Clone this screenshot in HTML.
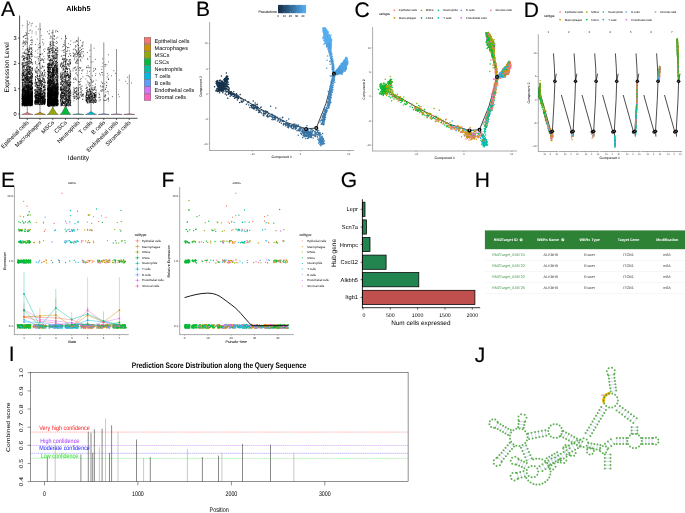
<!DOCTYPE html>
<html><head><meta charset="utf-8"><title>Figure</title>
<style>html,body{margin:0;padding:0;background:#fff}svg{display:block;will-change:transform}text{font-family:"Liberation Sans",sans-serif;text-rendering:geometricPrecision}</style>
</head><body>
<svg width="685" height="513" viewBox="0 0 685 513" fill="none">
<rect width="685" height="513" fill="#fff"/>
<g fill="#000" stroke="none">
<g id="pA">
<text x="0.9" y="16.3" font-size="21" stroke="#000" stroke-width="0.15">A</text>
<text x="78.4" y="11.1" font-size="7.3" text-anchor="middle" font-weight="bold">Alkbh5</text>
<path d="M27.3 20.4L27.3 114" stroke="#6e6e6e" stroke-width="0.75"/>
<path d="M40 22.9L40 114" stroke="#6e6e6e" stroke-width="0.75"/>
<path d="M52.8 29.5L52.8 114" stroke="#6e6e6e" stroke-width="0.75"/>
<path d="M65.5 34.8L65.5 114" stroke="#6e6e6e" stroke-width="0.75"/>
<path d="M78.3 36.8L78.3 114" stroke="#6e6e6e" stroke-width="0.75"/>
<path d="M91 43.9L91 114" stroke="#6e6e6e" stroke-width="0.75"/>
<path d="M103.8 42.4L103.8 114" stroke="#6e6e6e" stroke-width="0.75"/>
<path d="M116.5 49L116.5 114" stroke="#6e6e6e" stroke-width="0.75"/>
<path d="M129.3 74.5L129.3 114" stroke="#6e6e6e" stroke-width="0.75"/>
<path d="M26.9 86.8h0M28.2 100.3h0M30.4 98.6h0M25.2 90.8h0M22.4 83.8h0M32.2 88.9h0M22.2 95.1h0M22.6 89.7h0M26.9 102.3h0M30.9 96h0M29 85.8h0M24.9 103.2h0M29.5 58.6h0M24.4 105.1h0M26.2 103.6h0M26.1 99.3h0M24.2 80.1h0M27 97h0M28.7 92.2h0M24.9 103.1h0M30 92.5h0M24.6 99.5h0M23.9 100.8h0M26.7 102.5h0M28.8 97.8h0M26.5 85h0M30.5 100.5h0M31.4 95.1h0M28.8 101h0M32.5 92.6h0M25.5 102.4h0M22.8 95.4h0M28.4 90.4h0M26.8 95.9h0M31.2 89.9h0M23.6 101.9h0M24 84.4h0M32 91h0M28.4 93h0M23.1 73.5h0M29.5 71.3h0M30.7 97.3h0M29.6 96.5h0M24.4 99.5h0M25 80h0M24.2 94h0M22.6 94.7h0M25.9 104.8h0M31.4 99.1h0M29 99.4h0M22.4 99.4h0M31.6 88.9h0M28.7 95.3h0M29.7 71.6h0M27.8 83.7h0M31.5 56.5h0M31.7 103h0M29.3 84.1h0M30.4 82.8h0M28.1 88h0M28.5 95.7h0M28.8 96.4h0M26.1 76.4h0M28.2 103.8h0M30 81.3h0M28.4 96.4h0M27.3 95.1h0M31.8 104.1h0M29.2 105.8h0M23.8 103.9h0M31.5 88.7h0M29.1 94.4h0M31.7 100h0M26.1 90.3h0M27.3 95.5h0M31 98.5h0M23.8 97.7h0M24.9 72.6h0M27.2 102.1h0M30.9 91.8h0M22.3 90.9h0M22.4 102.6h0M30.4 101.2h0M23.4 88.7h0M24.5 101.6h0M22.5 105.2h0M28.9 94.9h0M32.2 93.7h0M23.9 101.9h0M27 97.6h0M25.7 103.9h0M27.5 96.6h0M30.4 88.1h0M22.9 88.7h0M26.8 85.7h0M31.6 96.1h0M30.4 91.4h0M26.9 91h0M30.7 99.5h0M29.6 97.6h0M32.4 95.8h0M30.4 76.4h0M25.7 91.4h0M26.7 78.5h0M22.3 82.9h0M22.7 97.3h0M30.4 103.2h0M23.6 97.9h0M29.3 82.3h0M27.2 101.3h0M27.6 100.3h0M29.7 104h0M27.9 93.6h0M26 92.9h0M31 89.1h0M27.6 78.4h0M27.3 97.1h0M22.3 101.2h0M30.5 89.2h0M27.2 102.2h0M26.4 103.6h0M31.8 98.6h0M26.6 104.1h0M31.5 89h0M28.5 93.9h0M23.4 102.1h0M24.4 105.4h0M25.4 102.2h0M29.7 94.2h0M27.4 90.8h0M26.6 105.5h0M26.4 96.5h0M28.7 97.9h0M27.6 103.8h0M24.5 93.1h0M30.6 89.6h0M31.8 95.9h0M32.6 99h0M29.7 100.2h0M23 101h0M23.3 97.6h0M29.3 93h0M31.7 95.9h0M23.2 102.1h0M29.3 82.1h0M22.7 105.1h0M27.5 102.4h0M23.6 103h0M32.5 100.8h0M23 95.2h0M30.1 73.9h0M26.9 92.8h0M22.1 90.7h0M30.9 103.7h0M26.3 98.6h0M23.7 92.1h0M30.5 101.7h0M31.1 104.9h0M27.3 95.6h0M30.5 92.3h0M30.2 103.4h0M26.3 74.1h0M30.1 82.3h0M26.3 87.5h0M27 104.9h0M25.8 100.9h0M32 93.4h0M25.6 90.3h0M26.1 95.8h0M28.8 82.9h0M22.2 95.6h0M29.8 82.8h0M24.1 105.5h0M23 91.7h0M27.4 105.3h0M28 72.9h0M22.8 84.9h0M30 104.7h0M27 75.2h0M27.3 97h0M26.5 99.9h0M28.3 102.4h0M27.9 97.6h0M29.6 97.3h0M22.5 105.2h0M30 103.8h0M22.5 82.1h0M32 83.2h0M27.1 78.6h0M24.6 89.5h0M27 72.6h0M30.7 98h0M26.8 99.8h0M22.6 101.8h0M29.1 98.6h0M24.8 104.4h0M27.6 92.2h0M32.1 93.6h0M31.5 105h0M28.6 94.6h0M28 98.1h0M28.7 96.8h0M32.4 105.7h0M31.3 94.9h0M26.5 101.1h0M23.1 104.1h0M29.2 100.9h0M28.7 104.1h0M25.6 94.8h0M30.9 93.6h0M28.6 98.4h0M24.3 101.7h0M25.9 95.1h0M32.5 100.3h0M31.8 96.9h0M25.9 90h0M22.9 82.8h0M27.1 89.2h0M22.8 100.2h0M29 95.2h0M29.4 94.7h0M23.5 100h0M23.2 91.7h0M28 87.6h0M26.6 75.2h0M25.2 88.6h0M31.5 97.9h0M25.8 93.1h0M26.1 96.9h0M28 96.1h0M28 99.5h0M30 89.4h0M27.5 97.8h0M28 97.8h0M22.7 85h0M30.4 101.2h0M31.5 100h0M28.7 103.2h0M24.6 91h0M30.1 87.8h0M25.6 82.3h0M29.1 99.9h0M29.5 87.8h0M26.4 103.3h0M30.5 94.9h0M31.4 86.3h0M29.5 86.3h0M26.5 99.5h0M32.5 98.1h0M23.8 102h0M32.3 101.7h0M25.3 92.1h0M23.9 89.7h0M26.9 92.8h0M23.2 79.8h0M24.3 90.6h0M24.4 103.3h0M25 84h0M27.8 94.9h0M27.1 84h0M25.6 102.1h0M32.1 76.4h0M32 96.3h0M26.1 103.7h0M32.5 89.4h0M24.5 102.3h0M30.4 90h0M28.4 104h0M24.7 101.3h0M27.5 97.6h0M27.7 77.3h0M30.2 72.7h0M30.7 78.7h0M24.9 105.9h0M27 104.3h0M28.2 97.2h0M26.4 97.4h0M23 94.7h0M27.6 101.1h0M30.8 97.6h0M25.2 101.6h0M29.6 94.5h0M26.2 92.6h0M32.2 89.2h0M26 96.4h0M24.5 87.3h0M32.5 92h0M24.2 98.7h0M27.7 97.1h0M25.6 98.2h0M24.1 89.8h0M25.5 92.1h0M25.5 88.2h0M23 98.5h0M29.5 101.2h0M26.3 101.2h0M24.4 96.4h0M23.3 90.1h0M26.5 99.4h0M28.9 102.5h0M25.5 103h0M22.2 80h0M30.4 85.1h0M28.5 92.6h0M28.9 93.4h0M26 104.6h0M28.5 80.1h0M30.1 104.6h0M27.3 91.4h0M29.6 96h0M30.9 88.3h0M32 104.6h0M24.6 99.6h0M29.4 98.8h0M26.9 90.5h0M32.3 77.9h0M27.9 85.6h0M24.8 82.8h0M28.4 68.2h0M30.7 82.7h0M28.1 98.8h0M24 75.8h0M23.9 100.8h0M32 100.7h0M29.8 98.7h0M28.3 95.7h0M27 105.1h0M26.1 103.6h0M24.8 97.7h0M25.5 101.8h0M23.5 102.7h0M28.4 100.3h0M29.3 91.2h0M30 102.2h0M31.1 59.7h0M26.6 101.7h0M27.6 77.8h0M31.6 93.5h0M31.5 103h0M28.3 100.8h0M22.7 105.2h0M26.7 94.2h0M29.4 92.1h0M24.5 105.3h0M22.7 101.1h0M32.2 90.9h0M30.5 91.6h0M29.9 81.8h0M30.4 78.6h0M27.7 93.8h0M25.2 105.5h0M22.7 105.7h0M25.8 85.5h0M22.5 89.7h0M27.3 76.6h0M32.4 98h0M31.8 96.5h0M24.1 102.5h0M23.8 98.8h0M32.6 93.2h0M31.3 100.1h0M23.1 87.3h0M31.2 102.3h0M23.4 93.1h0M22.8 94.7h0M25.3 75h0M24.5 103.7h0M30.4 96.3h0M28.3 90h0M25.2 91.2h0M28.8 87.4h0M32.4 96.9h0M22.5 89.6h0M25 99.1h0M25 105.9h0M24.6 79.8h0M31.5 102.8h0M22.4 85h0M31.9 83.2h0M23.9 100h0M29 87h0M27.5 97.9h0M27.5 78.3h0M23.8 102.5h0M24.5 103.8h0M30.2 97.4h0M27.2 100.3h0M28.1 82h0M29.6 101.6h0M31.3 105.4h0M27.3 102.7h0M26.7 98.4h0M31.6 104.1h0M27.8 80.6h0M25.3 103.4h0M25.3 96.2h0M28.2 93.6h0M30.7 94.4h0M29.3 101h0M30.3 95.2h0M24.3 92.5h0M22.4 97.7h0M23.5 78.9h0M29.9 104.1h0M23.5 94.2h0M25.2 103.2h0M32.6 101.2h0M29.8 102.3h0M24.6 104.1h0M31.9 95.1h0M28.5 94.4h0M26.3 96.6h0M29.4 102.9h0M28.3 100.5h0M30.9 94h0M30.3 95.6h0M27.8 103.2h0M24.2 93.4h0M26.7 102.4h0M29.2 86.5h0M22.8 99.6h0M25.8 98h0M24.8 105.6h0M31.8 103.1h0M23.6 103.4h0M25.8 93h0M22.2 101.9h0M26.1 83.6h0M30.2 80.9h0M22.6 91.1h0M23.6 98h0M22.3 99h0M23.4 99.9h0M24.8 91.6h0M24.2 102.9h0M29.6 85.5h0M24.4 93h0M25.7 98.1h0M28.7 105.3h0M30.6 101.5h0M31.7 93.6h0M29.3 104.2h0M24.5 87h0M23 75.3h0M26.1 93.6h0M27.3 99.7h0M27 104.2h0M29.1 98h0M26.5 105.4h0M28.2 99.9h0M22.2 99.8h0M25.9 88.9h0M27.3 93h0M27 99.9h0M25.7 101.3h0M28 94.7h0M27 104.4h0M32.1 84.7h0M30.2 91.8h0M28.6 91.4h0M30.8 93.6h0M26 96.6h0M27.4 102.8h0M25.8 103.7h0M24.4 98.1h0M24.5 104h0M24.5 88.3h0M28.9 105.5h0M30.8 86.8h0M25.5 97.3h0M29.6 89.3h0M29.3 81.3h0M28.6 80.7h0M28 99.7h0M27.7 97.1h0M24.6 97.6h0M23.3 101.6h0M22.7 98.3h0M26.8 88.6h0M27.1 91.8h0M22.6 89.8h0M27.4 82.1h0M24.7 101h0M25.5 91.7h0M30.8 92.7h0M26.5 85.1h0M30.5 99.4h0M26 87.3h0M22.1 101.1h0M32 96.6h0M26.4 97.8h0M26.2 103.9h0M29.6 68h0M22.4 89.1h0M23.3 96.6h0M22.3 83.8h0M25.3 90.3h0M30.9 100.5h0M30.1 102.4h0M26.1 89.1h0M23.6 98.7h0M23.1 89.6h0M23.3 95.9h0M22.2 101.5h0M24.9 98.2h0M27.1 102.8h0M22.7 98.9h0M25.3 96.1h0M32.6 97.8h0M31.2 101.8h0M26.2 90.4h0M27.8 104.7h0M32 95.1h0M32.5 88.2h0M23.9 80.3h0M23.8 96.9h0M30 101.7h0M27.5 102.1h0M22.1 93.8h0M30.6 104.9h0M30.5 99.7h0M30.1 82.7h0M26.3 97.1h0M24.7 104.5h0M24.4 102.8h0M25.9 104.1h0M28.8 91.7h0M25 84.6h0M25.5 95.9h0M24.2 98.1h0M23.9 104.4h0M23.5 88.6h0M27.3 97.4h0M25.4 93.8h0M31.3 72.6h0M30 97.9h0M32.2 73.6h0M26.3 80h0M29.2 103.5h0M25.4 95.2h0M23.6 96.8h0M26 93.3h0M31.4 99.4h0M28.7 96.9h0M30.9 88h0M26.8 104.6h0M24.4 98.4h0M28.1 92.8h0M26.7 101.7h0M28.3 105h0M32.5 98.3h0M25.3 101.6h0M31.2 102.2h0M32.5 64.2h0M28.9 94.4h0M30.8 103.1h0M22.7 96.8h0M29.5 88.4h0M27.7 105.5h0M24.1 79.1h0M27.9 102.4h0M27.2 85.1h0M30.2 103.2h0M31.6 80.5h0M23.1 103.4h0M25.7 98.5h0M23.9 88.6h0M31 85.9h0M32.5 83.9h0M28.7 85.8h0M29.1 89.9h0M22.2 89.9h0M25 98.8h0M29.4 95.1h0M26.9 102h0M23.2 99.4h0M24.1 88h0M29.3 94.6h0M26.3 104.7h0M28.7 92.9h0M26.8 82.7h0M32 93.8h0M28.1 93.6h0M31.3 88h0M26.8 98.9h0M26.1 77.1h0M22.7 104.8h0M25 86.8h0M29.4 73.6h0M24.6 92.6h0M24.7 97.9h0M25.6 101.8h0M27.8 93.7h0M31.5 81.6h0M29.7 94.5h0M25.6 98.2h0M28.7 78.9h0M25.8 85.2h0M28.4 93.3h0M32.4 100.4h0M28.9 90.7h0M32.6 104.4h0M29 91.5h0M32.5 99.6h0M26.2 102.6h0M22.9 92h0M29.9 95.2h0M30.6 88.4h0M27 103.2h0M31.1 82.2h0M25.7 78.3h0M27.7 95.4h0M27.4 87h0M28 90.2h0M25.1 101.4h0M24.6 100.5h0M26.8 102h0M26.9 103h0M23.6 100.6h0M27.6 97.8h0M32.2 88.5h0M22.1 95.1h0M29.6 90.4h0M27.6 84.9h0M32.2 99.2h0M31 104h0M24.8 92.3h0M31.7 101.9h0M31.4 97.6h0M28 89.4h0M25.2 75.6h0M24.7 104.8h0M25.8 95.6h0M26.8 94.8h0M27.6 80.9h0M26.2 97.4h0M25.3 104.7h0M24.4 99.3h0M26.3 106.1h0M22.1 87.1h0M28.3 76.3h0M25.2 86.1h0M27.3 91.5h0M30 93.8h0M24.9 100.1h0M26.5 102.7h0M29.2 96.9h0M32.4 95.2h0M30.7 99.7h0M28.8 94h0M28.6 84h0M31.8 97.2h0M30 101.8h0M22.1 103.1h0M32.4 104h0M22.8 89.5h0M26 102h0M26.6 90.9h0M22.8 96h0M30.8 97.8h0M23.3 97.2h0M32.1 90.7h0M26.4 76.7h0M30.9 93.9h0M22.3 85.4h0M26 85.8h0M29.3 90.9h0M30.3 77.3h0M28.2 87.9h0M25.7 91.9h0M27.5 98.7h0M28.1 94.7h0M27.1 98.2h0M25.5 91.7h0M29.7 102.6h0M24.7 95.8h0M29.6 81.8h0M28.5 95.5h0M26.8 68.7h0M24.5 91.7h0M31 105.7h0M29.4 99.7h0M23.6 89.8h0M30.1 96.2h0M24.3 102.6h0M27.7 100h0M28.2 99.4h0M31.8 99.6h0M29.6 98.6h0M31.1 93.6h0M22.2 104.3h0M24.7 94.7h0M27.1 103.2h0M25 95.6h0M23.7 101.5h0M31.1 88.1h0M27.7 91.5h0M31.7 94.1h0M31.9 104.4h0M30.3 95.1h0M29.7 104.2h0M27.4 88.4h0M32.1 94.1h0M32 100.9h0M23.1 101.1h0M23.3 100.9h0M22.7 92.4h0M22.7 104.3h0M29.3 84.8h0M30.3 101.1h0M24 100h0M25.8 104.8h0M26.4 95.8h0M22.8 105.5h0M28 85.3h0M25.2 104.6h0M32.3 92.6h0M31.8 84.9h0M27.2 85.6h0M29.3 80.1h0M22.9 89.2h0M32.2 93h0M32.1 97.7h0M22.3 104.8h0M28.1 95.3h0M30.6 86.3h0M32.3 99.5h0M26.3 104.5h0M30.2 99.6h0M28.2 94.9h0M26.8 92.8h0M31.3 103.9h0M27.1 102.3h0M25.5 97.7h0M27.5 104.4h0M31.3 85.7h0M25.5 101.8h0M29.1 95.7h0M30.1 101.7h0M24.3 89.1h0M25.8 69.6h0M32.5 82.4h0M30.3 99.1h0M30.4 100.9h0M29.9 97h0M30.7 97.7h0M22.7 89.4h0M23.5 102.6h0M31.9 95.4h0M31.9 78.3h0M24 89.7h0M29.2 88.9h0M26.8 86.9h0M23.3 90.7h0M24 101.4h0M22.5 73.2h0M27.6 102.9h0M28 97.2h0M22.9 102.2h0M22.8 89h0M27.3 95.3h0M25.5 84.1h0M32.3 94.2h0M28.4 100.8h0M32 97.1h0M22.3 90h0M23.7 105h0M29.8 92h0M30.5 105.3h0M28.9 102.9h0M25.2 97.5h0M24.8 104.2h0M28.6 95.8h0M25.8 96.7h0M27.7 92h0M25.5 93.4h0M31 95h0M23.7 99h0M23.8 65.7h0M24.5 102.8h0M25 96.5h0M29.3 102h0M31.8 95.3h0M26 90.9h0M28.1 89.6h0M26.9 105.1h0M28.8 91.8h0M25 94.3h0M24.5 99.3h0M30.5 102.5h0M26.5 104.7h0M32 75.4h0M30.9 89.9h0M25.6 104.5h0M30.5 101.4h0M31.7 93.6h0M30.6 95.2h0M23.9 81.9h0M31.7 101.2h0M27.4 95.3h0M31.7 91.7h0M28.8 83.2h0M32.4 87.1h0M25.3 96.2h0M32.4 96.5h0M23.3 85.6h0M30.1 103.7h0M31.3 100h0M27.2 75h0M25.7 91.7h0M24.4 96.6h0M30.2 104h0M24.9 100.1h0M28.9 90.2h0M31.8 92.9h0M25.1 73.4h0M30.2 84.8h0M25 100.1h0M31.1 90.2h0M27 103.2h0M28.2 105.6h0M25.5 95.4h0M27.6 101.6h0M28.8 101.6h0M27 93.7h0M23.3 96h0M27.9 85.6h0M31.9 96.6h0M32.6 96.8h0M24 99.4h0M27.8 105.5h0M29.6 101.1h0M28.9 103.1h0M26.8 93h0M32.1 99.6h0M22.6 101.5h0M26.6 95.2h0M26.5 101.3h0M28.9 85.1h0M28.5 94.9h0M22.6 85.1h0M22.2 99.3h0M23.1 93.2h0M31 97.3h0M32.4 87.4h0M25.2 104.5h0M26.4 100.5h0M31.4 78.3h0M26.8 103.9h0M26.6 81.1h0M26.4 93.7h0M30.2 102.3h0M26.8 89.1h0M31.5 101.4h0M29.1 81.5h0M25.1 101.3h0M29.1 99.7h0M28.9 72.1h0M32.4 101.9h0M29.5 82.2h0M24.8 90.5h0M24.3 103.8h0M31.7 70.4h0M28.2 79.7h0M28.3 94.2h0M30.1 81.2h0M29.5 105.5h0M27.8 87.1h0M25.4 97.3h0M32.1 104.4h0M27.2 102.7h0M28.6 88.2h0M30.5 89.8h0M23.5 92.9h0M32.5 93.3h0M32.1 95.9h0M25.2 92h0M29.3 86.4h0M25.8 99.4h0M22.3 93.5h0M25.3 91.7h0M31.9 89.9h0M22.9 106h0M29.8 96h0M22.3 103.6h0M31.1 88.6h0M25.6 99.9h0M24.3 83.2h0M30.6 93.7h0M28.5 103.4h0M28.6 96.1h0M32.2 105.2h0M30.8 97.5h0M29.2 91.4h0M24.3 98.9h0M31.2 92.8h0M29.6 104h0M29.4 93h0M28.2 80.8h0M22.5 95.8h0M31.1 81.1h0M23.1 74h0M24.9 84.7h0M29.4 102.4h0M28 99h0M25.8 91.7h0M22.2 105.8h0M28.3 94.3h0M27 103.7h0M25.3 98.8h0M29 87.6h0M27.3 89.9h0M27 93.7h0M27.7 98.3h0M22.2 98.9h0M22.3 77.3h0M24 100.3h0M30.9 85.8h0M26.8 96.3h0M27.9 86.2h0M30.9 72.6h0M24.6 76.8h0M25.3 88.4h0M27.5 101.2h0M22.1 96.2h0M26.1 105.7h0M32 101.1h0M30.1 100.5h0M26.9 90.6h0M29.1 94.1h0M25.6 102.3h0M28.7 90.6h0M24.3 95.5h0M30.1 105h0M23.1 87.8h0M24.8 75h0M22.6 96.1h0M30.5 85.6h0M23.7 100.2h0M32.2 98.4h0M24 99.9h0M28.5 95.5h0M26.1 101.6h0M24.7 103h0M32.3 103.6h0M25 97.2h0M24 88h0M25.1 95.6h0M29.1 90.6h0M26.1 87.4h0M27.2 102.8h0M27.6 89.8h0M25.9 99.4h0M23.6 104.8h0M27.3 80.2h0M30.1 88.6h0M29.7 96.5h0M31.2 102h0M30.9 96.8h0M29.9 103.4h0M30.7 104.6h0M23.7 83.8h0M26 101.1h0M22.5 105.3h0M22.4 93.2h0M25 90.5h0M28.8 103.5h0M23.8 99.7h0M28 92.8h0M26.1 102.5h0M24 101.4h0M22.1 105.2h0M27.7 91.6h0M23.4 91.7h0M29.5 89.5h0M22.4 89.4h0M30.3 102.4h0M31.8 93.8h0M30.1 99h0M32.4 93.3h0M28.4 104.1h0M31.5 75.5h0M30.9 74.2h0M32.2 91.6h0M23.4 96.7h0M22.7 93.7h0M28.4 98h0M26.7 97.8h0M25.9 80.3h0M24 73.1h0M25.6 100h0M22 98.6h0M32.5 93.5h0M22.7 105.1h0M29.7 103.4h0M31.9 94.5h0M25.3 95h0M26.9 99.2h0M32.2 101.7h0M28.5 98.6h0M23.9 103.7h0M28.1 101.8h0M23 89.4h0M26.9 73.6h0M31.1 95.9h0M23.2 86.9h0M22.3 103.9h0M22.7 103.5h0M30.7 98.2h0M23.3 104.3h0M27.9 93.6h0M31.1 85.6h0M30.2 89.2h0M27 71.4h0M28.4 90.1h0M27.4 104.5h0M29.2 98.4h0M30.4 99.4h0M30.5 101.7h0M31.8 90.8h0M25.8 91.6h0M22.5 97.7h0M23.6 100.6h0M26.5 102.7h0M25.1 86.7h0M31.4 91.6h0M27.1 103.8h0M23.4 104h0M29.2 88.2h0M26.7 91.2h0M25.6 100.2h0M30.3 103.3h0M27 102.3h0M30.4 101.7h0M27 104.2h0M31.7 101.8h0M31.8 100.9h0M28.6 84.2h0M30.4 94.5h0M27.3 85.9h0M31.2 92.3h0M27.9 92.4h0M30 101.5h0M26.5 98.1h0M23.3 98.2h0M23.8 84.9h0M25.9 97.7h0M23.9 91.3h0M29.4 87.3h0M28.5 102.3h0M32.3 101.9h0M28.9 86.8h0M28.9 95.7h0M25.7 95.6h0M30.9 90.9h0M28.8 85.2h0M30.5 106h0M25.2 91.8h0M28.8 101h0M22.9 99.4h0M31.3 105.2h0M27 82.3h0M24.9 102.2h0M22.3 94h0M24 89.7h0M22.8 86.9h0M26.8 101.2h0M25.4 87.1h0M32.3 91.6h0M31.8 102.6h0M30.6 93.8h0M27.9 92.7h0M23.7 100.7h0M28.1 98.4h0M28.8 77.1h0M30.2 84.6h0M26.4 101.5h0M29.6 98.4h0M30.7 98h0M23.5 89.3h0M25.3 95.5h0M26.9 103.2h0M25.5 94.5h0M30.5 100.1h0M31.4 88.5h0M24.8 106h0M26.4 103h0M24.2 87h0M23.1 94.7h0M24.1 103.5h0M32.5 88.2h0M26 100.8h0M23.9 88.7h0M30.7 83h0M23.7 97.3h0M31.5 102.3h0M25.7 92.7h0M28.9 97.5h0M26.8 101.1h0M25.9 82h0M25.5 84.7h0M23.5 99.5h0M22.3 92.5h0M26.5 102.2h0M25.4 81.3h0M25.3 96.3h0M26 92.4h0M23.1 91.9h0M29.7 82.3h0M22.9 102.5h0M29.8 100.3h0M26.8 94.6h0M24.8 95.1h0M31.8 92.3h0M23.8 75.4h0M24.1 81.1h0M26.7 103.5h0M29.2 97.9h0M27.4 95.9h0M25 77.6h0M28.3 99.8h0M22.8 90.7h0M24.4 105.1h0M22.5 83.6h0M28 90.8h0M22.2 96.7h0M26 99.8h0M22.5 94.7h0M22.3 102.7h0M22.2 94.4h0M27.6 96.1h0M23.1 97.1h0M25.6 101.6h0M27.3 87.6h0M29.7 97.2h0M26.9 79.6h0M30.7 87.6h0M22.6 100.6h0M31.6 105.1h0M27 86.9h0M28 82h0M30 82.1h0M31.4 83.2h0M24.4 104.6h0M24.9 101.8h0M29.5 77.6h0M27.6 103.2h0M27.1 101.2h0M31.9 100.8h0M26.7 100.5h0M25.5 103h0M27 85.1h0M31.9 86.5h0M30.8 96.6h0M28.8 104.2h0M25.7 95h0M23 94.1h0M29.7 105.3h0M24.6 103.7h0M31.5 101.4h0M32.3 102.6h0M27 98.6h0M24.9 105h0M29 81.7h0M32.3 97.1h0M24.4 88.2h0M30.9 70.9h0M30.7 96.1h0M30.9 100h0M22.5 102.3h0M31.5 84.7h0M26.7 93.5h0M25.9 95.8h0M22.7 86.9h0M26.9 86.7h0M26.8 92.8h0M22 98.6h0M24.6 89.8h0M29.4 104.2h0M29.2 94.3h0M29.8 77.6h0M25.8 101.7h0M22.6 102.3h0M31.7 100.6h0M32.2 95.3h0M32.5 88.1h0M28.8 103h0M28.5 103.8h0M28.6 103.7h0M28.3 101.4h0M26.9 87.6h0M26.2 85h0M32.5 93.4h0M24.9 104.8h0M26.2 103.5h0M28.3 100.2h0M32.4 83.6h0M27.6 94.3h0M31.5 105.5h0M27.2 103.5h0M22.7 94.7h0M25 104.1h0M28.3 95.6h0M29.9 82.5h0M30.9 98h0M30.2 99.6h0M28.4 95.4h0M32.3 91h0M26.1 91.7h0M29.1 105.4h0M28.4 105.2h0M29 96.1h0M31.8 68.9h0M30.7 82h0M23.1 90.6h0M23.3 93.7h0M30.4 102.7h0M31.4 89.4h0M22.3 98.8h0M22.4 90.3h0M23.2 73.9h0M29.4 99.9h0M26.4 94h0M24.9 84.5h0M30.2 99h0M24 77.4h0M32.4 69.1h0M22.7 105.1h0M28.6 103h0M25.1 99.6h0M22.3 105h0M26.5 95.8h0M30.8 82.7h0M23.1 80.3h0M22.5 85.6h0M24.5 101.6h0M24.6 94.9h0M32.3 81.7h0M22.5 78.2h0M31.6 89.8h0M31.3 95.5h0M22.9 101h0M28.5 99.8h0M23 97.8h0M30.6 101h0M30.7 104.9h0M22 104.2h0M27.7 91.5h0M24.4 97.7h0M27.1 73h0M29.4 102.6h0M22.5 88.4h0M31.3 80.8h0M32.4 83.3h0M24.2 92.9h0M23.3 86.5h0M27 83.6h0M28.8 93.5h0M28.8 100.5h0M30.8 99.1h0M27.2 98.3h0M31.2 97.1h0M31.7 95h0M30.8 81.6h0M22.6 102.4h0M27 95.8h0M31.2 94.2h0M30 102.1h0M28.5 82.5h0M29.2 84.9h0M28 90.2h0M26.9 101.2h0M29.8 92h0M26.8 97.5h0M28 100.4h0M23.5 104h0M22.8 101.2h0M23.5 104.4h0M27.9 95.5h0M24.9 89.1h0M28.7 95.4h0M24.1 90.5h0M28.3 79.2h0M22.5 94.7h0M24.2 90.5h0M22.2 100.8h0M23.6 79.5h0M28.1 101.6h0M29.9 103.6h0M28.4 86.7h0M31.2 100.1h0M31.5 82.4h0M24.7 85.8h0M25.3 76.7h0M24.6 102.3h0M30.2 103.5h0M25.9 91.2h0M30.8 85.6h0M31.9 85.6h0M28.2 71.7h0M24.6 99.3h0M31.2 93.1h0M25.9 104.3h0M31 95.9h0M27.9 89.3h0M27.9 100.3h0M26.7 96.4h0M32 100.9h0M26.8 100.6h0M30.4 88.5h0M24.2 97.3h0M22.8 100.9h0M28.4 96.8h0M27.1 104h0M29.3 96.7h0M29.8 98.4h0M27.8 72.9h0M25.1 85.6h0M29.6 94.7h0M32.1 95.3h0M28.6 85.2h0M22.9 103.9h0M28.5 86.5h0M26.6 102.8h0M27.8 104.3h0M27.9 86.3h0M26.5 87.5h0M27.1 91.8h0M23.8 97.4h0M23.9 89.8h0M32.6 103.5h0M31.1 97.8h0M26.8 65.7h0M26.9 103.8h0M31.2 98.9h0M27.7 94.9h0M28.4 87.4h0M32.1 102.7h0M31.2 96.5h0M28.9 99.7h0M24.5 94.6h0M26.5 104.8h0M27 96.4h0M30.5 98.2h0M25.6 102.4h0M29.6 67.8h0M31.1 86.4h0M31.2 97.7h0M27.5 92.3h0M27.9 100.1h0M32.5 84.3h0M22.6 99.1h0M23.9 101.5h0M30.9 95.4h0M22.6 97.8h0M27.2 104.8h0M28.3 84.7h0M29.1 100.1h0M23.2 104.7h0M27.1 90.5h0M24.9 99.7h0M23 90h0M29.3 105h0M29.3 97h0M25.5 81.5h0M26.8 89.2h0M28.8 97.4h0M22.4 105.5h0M24.8 90.9h0M26.7 96.1h0M28.6 88.9h0M27.7 88.9h0M24.6 97h0M23.1 79.4h0M27.9 94.5h0M32 93.9h0M26.8 80.2h0M27.2 94.4h0M31.8 99.4h0M25.4 100.9h0M30.2 92.8h0M27.1 104.1h0M24.7 97.2h0M24.6 105.1h0M26.5 93h0M27.8 96.3h0M25.2 93.1h0M27.1 93.6h0M23.3 104.7h0M23.4 97.9h0M25.9 73.2h0M29.8 101.4h0M22.7 102.7h0M30.3 102.3h0M30.5 104.4h0M27.6 95.2h0M27.6 103.9h0M26.9 100.6h0M26.4 93.5h0M27.6 91h0M30.2 74.9h0M27.9 77.4h0M24.6 105.1h0M27.8 98.9h0M25.2 94.4h0M31.4 95.9h0M26.5 100.6h0M30 94.3h0M32.3 102.2h0M26.7 80.5h0M26.4 97.6h0M27.5 95.6h0M27 104.5h0M23.5 102h0M25 74.2h0M31.3 84.7h0M29.1 93h0M30.8 99.7h0M26 98.9h0M30.7 90.7h0M24.7 101h0M28.2 86.1h0M31.9 86.8h0M28 93.7h0M27.8 99.7h0M32.1 99.1h0M27 101.8h0M30.1 102.1h0M24.7 86.5h0M26.9 85.9h0M24.7 95h0M22.3 91.3h0M31.6 83.2h0M29 101.7h0M31 99.1h0M32.1 76.9h0M23.6 101.4h0M26 97.8h0M26.2 99.3h0M30.4 94.7h0M32.3 92.3h0M29.5 86.8h0M26.4 87.1h0M22.7 79.5h0M22.1 97.1h0M22.8 95.6h0M28.7 90.3h0M29.1 98.5h0M32.1 103.9h0M24.9 86.4h0M24.6 92.9h0M29.1 73h0M29.7 100.5h0M29.3 103.5h0M23.9 103.3h0M23.9 100.4h0M27.6 104.6h0M23.7 98.2h0M23.5 87.4h0M25.1 93h0M26 101.9h0M30.7 90h0M26.6 86h0M23.6 88.8h0M32.6 74.6h0M29.8 90.8h0M28.8 93.2h0M29.2 96.2h0M30.1 94.8h0M25 102.6h0M26.2 102.5h0M22.6 89.6h0M27.8 69.7h0M27.7 95.5h0M28.5 102.9h0M28.9 99.7h0M27.2 94.7h0M27.6 88.8h0M23.8 95.3h0M32.5 102.1h0M32.3 87.4h0M26.2 91.3h0M24.9 105.5h0M29.8 102.3h0M22.8 94.5h0M31.9 92.5h0M26.4 93.4h0M24.1 95.3h0M28.5 101.5h0M28.9 88.5h0M27.4 91.4h0M23.8 74.6h0M22.4 105h0M29.1 96.4h0M26.8 105.3h0M28.9 69.6h0M25.3 82.4h0M29.8 101.2h0M29.9 105.8h0M30.5 87.1h0M25.9 91.8h0M23.2 91.3h0M28.7 90.5h0M22.9 102.5h0M24.2 91.2h0M22.1 82.1h0M22.4 97.6h0M29.8 95.2h0M31.1 105.2h0M31.6 92.1h0M28.9 99.6h0M30 102.2h0M26.7 67.5h0M30.4 104.6h0M31.5 77.7h0M25.7 87h0M32.2 86.7h0M29.7 102.1h0M26.6 104.7h0M24.9 97.5h0M25.4 90.7h0M30.3 88.9h0M22.7 104.2h0M26.9 79.4h0M22.2 98.4h0M22.5 80.8h0M27.7 86.6h0M27.9 102.7h0M23.7 94.2h0M25.9 103.9h0M28.4 88h0M29.9 95.2h0M30.5 99.7h0M31.7 87.6h0M24.8 81.2h0M23.4 103.1h0M26.1 102.5h0M30.5 98.3h0M22.6 93.4h0M31.2 103.5h0M26 102.2h0M26.8 103.1h0M28.9 100h0M31.7 105h0M22.8 95h0M30.4 88.3h0M23 76.5h0M27.4 93.8h0M23.8 101.4h0M22.9 86.7h0M22.5 93h0M23.3 100.1h0M28.3 80.8h0M26.2 86.4h0M25.9 100.6h0M30.7 99.1h0M31.9 92.8h0M24.1 98.6h0M22.7 103.2h0M27.4 105.4h0M25.3 96h0M22.6 102.8h0M25.1 97.7h0M23 92.5h0M22.8 97.3h0M32.2 100.5h0M28.8 102.1h0M24.3 98h0M29.4 98h0M30.5 98.1h0M28.4 99.9h0M28.6 97.7h0M22.9 96.3h0M28.2 102.8h0M23.6 78.9h0M28.6 88.5h0M25.3 92.1h0M24.6 105.6h0M24.5 90.5h0M31.4 102.2h0M30 80.7h0M25.7 104.8h0M26.4 105.2h0M29.6 93.1h0M28.3 104.5h0M29.7 87.7h0M31.7 97h0M29 84h0M25.2 87.3h0M27.3 100.7h0M22 96.9h0M28.6 85.6h0M23.2 88.9h0M32.3 92.4h0M28.5 89.2h0M27.4 95h0M30.6 77.5h0M30.5 103.3h0M24.5 100.6h0M31.8 104.6h0M29.7 101.8h0M31.5 89.5h0M25.1 97.8h0M30 102.5h0M30.4 100.8h0M23 91.4h0M29.7 87.4h0M23.1 89.6h0M25.4 100.4h0M22.9 96.5h0M27.4 96h0M25.8 79.2h0M31.3 81.3h0M29.8 99.4h0M22.7 94.7h0M28.8 92.6h0M26.9 98.4h0M28 102.5h0M28.2 103.5h0M23 101.2h0M25.5 95.5h0M22.8 99.5h0M31.7 84.2h0M28.5 78.7h0M28.5 87.5h0M32.1 83.7h0M27.9 96.4h0M29.4 94.6h0M23.3 103.1h0M27.5 104.5h0M23.2 82.6h0M23.4 96.9h0M26.8 99.8h0M28.9 104.3h0M24.2 94.5h0M25.9 99.4h0M30.9 103.5h0M30.6 96.8h0M26.3 87.8h0M22.9 101.7h0M25.6 95.7h0M28.1 102.9h0M23.9 96h0M29.3 102h0M25.3 100.3h0M30.8 100.7h0M22.3 92.2h0M26.5 82h0M31.3 93.1h0M25.4 105.4h0M26.7 93.8h0M24.6 81.9h0M25.8 83h0M32.2 102h0M27.8 99.5h0M31.1 98.1h0M32.4 80.3h0M22.4 105.1h0M29.8 95.6h0M22.2 71.3h0M27.7 94.1h0M27.6 101h0M31 82.7h0M25.7 93.1h0M22 103.8h0M30.7 99.2h0M30.2 101h0M23 105.2h0M26 89.6h0M29.9 97.4h0M30 70.1h0M31.7 82.5h0M31.4 96.4h0M31.4 103.6h0M29.6 92.2h0M26.1 102.1h0M32 94.9h0M28 82.5h0M31.5 103.5h0M29.6 95.4h0M23 97.3h0M29.5 92h0M31.4 71.8h0M26.3 98h0M32.5 100.6h0M31 88.2h0M23 82.6h0M27.2 102.2h0M24.6 82.1h0M27.7 87.7h0M26.6 87.7h0M22.5 77h0M27.4 98.3h0M31.6 88h0M25.3 95.3h0M26.6 102.4h0M27.9 99.4h0M25.6 82.5h0M23.1 103.6h0M27.9 92.9h0M27.7 61.6h0M24.9 63h0M23.1 72.7h0M28.6 50.4h0M31.3 51.5h0M24.8 53h0M28.8 33.5h0M25.6 38.4h0M28.7 63.7h0M28.7 69.2h0M23.1 80.2h0M31.7 80.3h0M25.8 41h0M25.1 71.5h0M22.3 76.4h0M32.4 50.2h0M28.3 61.6h0M27.1 67.1h0M25.1 64.7h0M29.4 65h0M32.5 70.8h0M29.1 73.8h0M22.2 79.7h0M22.3 65h0M27 72.1h0M22.8 73.2h0M31.7 37.1h0M24.1 42.4h0M28.9 78.1h0M31.8 75.4h0M31.9 68.8h0M32.3 62.6h0M26.5 77h0M31.9 40.4h0M31.2 75.9h0M27.1 77.8h0M29.4 45.9h0M22.1 63.9h0M22.1 57.1h0M25.2 71.4h0M28.9 73h0M23.2 46.3h0M29.8 74.4h0M31.2 54.5h0M27.5 42.9h0M31 73h0M29.5 74.5h0M24 68h0M23.6 58.3h0M28.6 49.3h0M30.8 54.2h0M23.3 36.6h0M26.7 70.2h0M24.5 53.2h0M22.4 67.6h0M22.2 62.7h0M28.3 71.5h0M22.7 25.7h0M22.4 65.6h0M24.4 58.4h0M26 79.1h0M31 76.2h0M25.8 69.3h0M29 66.8h0M26.9 57.4h0M29.3 69.4h0M29.2 57h0M23.5 65h0M31.3 73.1h0M29.4 22.7h0M32.1 54.9h0M28.7 52.9h0M28 68.1h0M29.2 51.2h0M24.7 78.3h0M27.2 62.9h0M31.1 23.8h0M23.3 62.3h0M26.8 74h0M32.4 73.7h0M29.2 67.5h0M26.3 77.7h0M28.3 56.7h0M27.3 80.1h0M30.1 80.5h0M29.9 48.1h0M29.7 61h0M26 62.6h0M27.8 63.9h0M22.2 68.9h0M28.9 60.8h0M32 75.8h0M27.9 59.5h0M31.8 72.9h0M31.7 79.1h0M30.7 70.5h0M23.7 59.9h0M30.8 63.1h0M28.3 59h0M23.9 36.4h0M29.2 54.5h0M29.4 56.6h0M28.7 51.5h0M26.1 38.4h0M29.1 57.2h0M28.9 58.4h0M25.2 65.6h0M31.2 80.1h0M28.9 61.7h0M28.9 79h0M30 58.3h0M31.7 39.8h0M23.4 58.5h0M28.4 65.4h0M27.7 66.3h0M29.6 48.3h0M30.8 77.8h0M22.9 49h0M29.2 74.5h0M27.2 75.3h0M32.3 23.2h0M25.8 70.4h0M23.4 66.5h0M24.6 59h0M23.1 66.4h0M25.4 77.7h0M26.7 70.5h0M32.5 77.9h0M22.4 76h0M26 79.2h0M27 59.2h0M28.1 66.3h0M29.8 77.6h0M23.2 63.5h0M26.4 76.2h0M25.2 66h0M28.5 72.2h0M27.7 64.5h0M31.1 62.3h0M29.1 70.2h0M32 76.5h0M26.1 35.1h0M30.9 78.5h0M26.4 34.8h0M27.5 78.7h0M31.5 42.4h0M30.2 49.1h0M27.4 54.8h0M27.8 74.3h0M24.9 45h0M24.5 65.4h0M30.1 69.4h0M24.8 56.3h0M28.7 73.4h0M28.3 54.6h0M25.3 57.9h0M23.1 69.5h0M25.8 77.7h0M23.7 42h0M30.4 76.5h0M31.6 51.4h0M24.2 56.8h0M32 54.7h0M24.7 60.5h0M28.9 77.9h0M22.7 55.6h0M28.4 54.5h0M26.3 59.4h0M31.7 60.8h0M31.4 49.7h0M27.4 58.1h0M28.8 71.5h0M27.5 62.8h0M31.6 53.2h0M30.8 67h0M27.8 77.5h0M32 33.1h0M26.8 54.7h0M26.7 70h0M22.3 79.9h0M23 71.1h0M27.8 64.4h0M29.7 69.6h0M22.6 64h0M29.3 30.8h0M27.4 78h0M27.7 48.3h0M28 54.7h0M31.3 44.9h0M26.3 33.6h0M32.3 75h0M28.4 55.2h0M29 67h0M29.6 79.5h0M29.8 57.4h0M25.4 43.4h0M23.1 72.1h0M24.2 51.7h0M28.9 51.7h0M31.1 53.5h0M22.1 75.2h0M31.4 76.4h0M22 78h0M30.1 63.7h0M23.2 73.6h0M26 80h0M26.3 41.9h0M30.4 61.7h0M30.8 53.7h0M26.7 73.9h0M31.7 68.3h0M32.1 63.9h0M29.3 51.4h0M27 57.7h0M23.6 56.3h0M29.8 62.5h0M27.8 55h0M30.3 69.8h0M26 49.4h0M22.2 75.3h0M26 77.5h0M23 72.4h0M25.8 75h0M22.2 79.9h0M29.2 49.7h0M30.2 67.2h0M31.7 62.3h0M26.5 79h0M27.7 58.7h0M29.6 67.1h0M23 62.9h0M29.6 61.2h0M22.5 73.4h0M31.2 55.1h0M27.3 48.7h0M27.1 59.4h0M23.7 59.7h0M30.8 61.6h0M25.8 35.5h0M28.1 76.3h0M31.4 77.5h0M29.6 63.6h0M23.7 67.4h0M30.9 48.2h0M31.7 53.2h0M24.4 76.8h0M27 56.7h0M22.7 70.2h0M24 53.6h0M31.9 47.8h0M25.9 64.9h0M31.6 62.2h0M23.2 37.2h0M23.8 65.3h0M29 79.6h0M31.4 59.5h0M22.5 66.4h0M25.3 50.2h0M23.8 72.6h0M26 42.3h0M22.1 73.3h0M23.4 66.4h0M32 73.2h0M26.6 62.5h0M28.7 63.5h0M29.7 78.7h0M32.1 44.3h0M30.5 78.3h0M32.1 31.2h0M32.1 68h0M27.8 69.1h0M31 54.5h0M26.3 65.6h0M31.6 48.6h0M22.9 43.9h0M25.5 78.2h0M26.4 61.8h0M23.4 69.6h0M26.8 53.3h0M27.1 72h0M28.7 62.1h0M30.6 44.5h0M25.9 53.2h0M26.8 74.6h0M30.8 67.1h0M27.5 49.9h0M28.5 72.4h0M31.4 62.7h0M22.9 73.1h0M23.9 80.7h0M25.8 75.7h0M30.3 68.1h0M27.1 69.7h0M28 54.4h0M27.3 70.1h0M29.5 49.7h0M30.6 30h0M30.5 40.4h0M26.6 74.3h0M29.9 66.9h0M24 66.8h0M24.8 66h0M29.2 74.3h0M24.2 58.5h0M30.2 74.3h0M26.4 68.9h0M25.8 58.2h0M26.7 57.9h0M23.1 75h0M23.6 80.2h0M28.9 74.3h0M25.3 69.5h0M23.4 75.7h0M28.6 52.7h0M23 74.6h0M31.1 47.9h0M28.7 76.3h0M30.8 79.9h0M24 52.6h0M27.8 76.4h0M29.2 55.1h0M28.8 51.5h0M31 71.3h0M31.8 79.6h0M22.1 75h0M24.2 70.8h0M32.2 74.4h0M29.2 54.9h0M27.3 50h0M28 39h0M28.7 66.3h0M32.5 76.3h0M25.8 44.4h0M24.7 71.9h0M24.9 78.3h0M28 74.3h0M24.6 35.4h0M28.7 66.6h0M24.8 75.3h0M24.7 69.2h0M29.3 59.9h0M27.5 69.5h0M29 72.3h0M28.7 24.7h0M27.5 57.9h0M29.3 78.6h0M24.9 61.9h0M29.4 71.8h0M23.2 46.6h0M22.3 67.7h0M24.2 71.2h0M32.3 42.3h0M22.5 68.4h0M22.7 60.1h0M26.6 67.4h0M25.5 62.6h0M29.3 76.6h0M24.4 67.9h0M24.9 41.9h0M32.3 69.9h0M30.1 71.3h0M25 78.4h0M32.4 67.8h0M23.9 58.6h0M22.2 57.1h0M23.2 70.8h0M29.2 47.3h0M26 32.5h0M27.8 70.7h0M23.6 74.7h0M30.2 74h0M30.8 58.4h0M25.8 53.6h0M28.3 73h0M22.2 56.2h0M25.8 79.8h0M32.6 68.7h0M24.1 63.1h0M27.3 76.1h0M30.3 67.9h0M28.7 72h0M23.3 40.8h0M29.1 61h0M31.2 25.9h0M29.3 70.9h0M29.4 69.1h0M26.6 64.3h0M32.1 52.4h0M23.9 66.8h0M22.9 42.9h0M29.5 55.1h0M32.4 40.1h0M24.8 57.4h0M25.8 78.3h0M24 43.7h0M32.5 56.3h0M29.6 56.6h0M26 63.6h0M30.3 66.6h0M30.1 52.4h0M25.8 55.1h0M24.2 42.2h0M22.3 63.1h0M30.9 57h0M23.4 70.4h0M23.6 55.8h0M24 75.9h0M24.9 75.4h0M22.7 53h0M23.4 59.8h0M22.1 64.5h0M27.2 79.4h0M29.5 73.9h0M37.9 89.9h0M39.9 97.5h0M35.4 100.3h0M41.6 102.4h0M41.2 90.8h0M37.8 101.1h0M35.2 101.8h0M44.5 96.8h0M37.6 87.3h0M40.1 102.3h0M38.9 100.3h0M39.8 92.9h0M44.2 80.1h0M37.9 99.9h0M35.4 101.4h0M42.6 99h0M42.1 97.2h0M39.5 101.2h0M44.6 98.2h0M40.5 93.2h0M39 82.5h0M38.1 94.7h0M40.3 96h0M34.8 90.4h0M43.4 87.5h0M44.6 102.5h0M36.8 88.9h0M37.1 101.8h0M44.6 82.5h0M35.2 98.6h0M43 67.6h0M38 96.3h0M39 81.3h0M34.9 101.9h0M42 88h0M36.7 99.1h0M40.5 83.1h0M36.3 102.8h0M44.7 103.7h0M37.2 95.6h0M37.9 103.2h0M35.4 79.4h0M37.2 93.4h0M39.9 96h0M44.5 89.4h0M35.9 95.7h0M37.5 104.6h0M36.4 102.4h0M40.1 101.5h0M42.7 84.9h0M36.9 100.8h0M45.1 102h0M41.7 101.1h0M38.9 95.7h0M44.2 80.4h0M44.5 104h0M37.1 93h0M38.2 94.2h0M41.8 74h0M37.4 100.8h0M39.3 94.5h0M36.9 103.5h0M40.3 98.7h0M40.6 102.8h0M39.6 94.6h0M42.9 96.9h0M45.1 101.6h0M35.2 97.5h0M44.1 103.8h0M41.8 103.2h0M43.2 87.6h0M39.7 100.2h0M44.5 101.4h0M42.5 101.9h0M41.5 97.6h0M39.8 82.2h0M43.2 91.1h0M39.4 98.9h0M43.4 86.7h0M37.3 102.2h0M40.1 99.4h0M39.8 104.8h0M38.6 102.6h0M37.6 92.9h0M36.3 95.3h0M42.5 94.4h0M45 97.3h0M43.2 103.1h0M45.2 89h0M34.8 102.8h0M39.8 89.6h0M43 101.5h0M38.3 99.3h0M42.2 102.1h0M36 94.5h0M42.1 91.6h0M43.5 82.6h0M36.6 95.8h0M44.8 100.9h0M41.8 98.1h0M37.7 91.6h0M36 99.2h0M36.9 97.3h0M37.3 84.9h0M35.5 102.1h0M35.8 103h0M35.1 101.7h0M38.4 97.1h0M44 98.7h0M40 101h0M40 96h0M34.9 104.1h0M42.3 102.3h0M41.2 94.3h0M40.7 88.4h0M40.7 94.9h0M35.2 86.3h0M40.1 94.4h0M44.2 93.9h0M42.9 99h0M44.3 93.1h0M42.2 100.5h0M37.7 92.2h0M45.2 99.6h0M43.4 97.3h0M38 102.7h0M41.6 91.2h0M41.1 93.9h0M36.5 84.5h0M45.2 101h0M36.4 83.9h0M43.5 100.2h0M44.5 96.2h0M35.7 80.6h0M38.4 95.4h0M43.6 86.7h0M45.3 95h0M38.4 97.5h0M42.4 103.6h0M42.6 97.8h0M39.1 93.3h0M40.5 96.4h0M41.6 90h0M43.9 85.8h0M35.7 78.9h0M35.3 90.8h0M38.2 98.4h0M35.8 93.1h0M36 100h0M45.2 87.3h0M34.8 83.6h0M40.9 96.1h0M41.4 85h0M42.8 100.8h0M45.2 93.2h0M43 96.9h0M40 99.7h0M39.5 89.6h0M45.1 90.9h0M43.2 90.1h0M43.1 94.6h0M36.8 94.7h0M38.3 80.2h0M38.8 102.7h0M44.3 92.6h0M40 94.4h0M44.5 74.7h0M35.1 92.4h0M41.4 103.6h0M40.9 99.7h0M39 100.7h0M37.5 95.6h0M43.3 90.1h0M42.8 97.8h0M35.4 93.8h0M35.6 94.9h0M44.4 90.1h0M36.3 89.9h0M44.3 89.2h0M36.7 98.5h0M38.4 101.1h0M36.9 104.7h0M45.3 76.4h0M35.1 102.6h0M42.4 98.9h0M38.5 100.4h0M36 95.2h0M39.1 104.5h0M38.6 82.9h0M43.4 92.6h0M44.4 102.9h0M39.7 98.7h0M42.7 99.2h0M43.7 102.6h0M40.8 98.1h0M40.5 94.3h0M43.1 104.7h0M40.2 102.5h0M39.1 100.3h0M42.5 96.8h0M44.8 90.6h0M43.3 100.4h0M40.4 94.3h0M37.6 93.4h0M36.3 102.2h0M44.1 95.4h0M41.7 97.5h0M42 102.6h0M40.5 102h0M34.8 90.4h0M42.8 75.5h0M35.1 102.7h0M37.9 73.7h0M41.8 93.2h0M39.7 85.3h0M38.1 95.8h0M38.3 97.5h0M41.2 100h0M44 99.4h0M44 91.3h0M36.7 91.9h0M35.4 89.6h0M39.4 104.2h0M41.8 86.1h0M44.1 102.9h0M44.4 101.2h0M42.8 104.5h0M43.9 102.8h0M38.2 99.3h0M34.8 103h0M40.9 100.5h0M34.8 93.6h0M44.2 95.3h0M42.6 96.8h0M45.2 102.9h0M37.2 94.5h0M37.7 98.6h0M38.8 93.6h0M35.7 98.8h0M37.3 102.3h0M44.9 104.2h0M38.3 101.4h0M45 103.3h0M35.2 95.5h0M40.9 99.8h0M41.9 86.4h0M36.7 92.9h0M41.4 98.5h0M37.5 77.1h0M40.3 84.8h0M44.6 100.3h0M44.1 103.4h0M45.1 92.8h0M41 96.8h0M36.4 95.7h0M40.7 100.4h0M40.2 90.9h0M39.5 96.4h0M40 89.6h0M41.5 80.7h0M38.9 93.1h0M37.1 101.4h0M42.4 99.7h0M43.7 102.7h0M38.7 97.4h0M34.8 100.6h0M39.4 93.4h0M35.7 81.6h0M38.1 91.7h0M37.8 85.9h0M37.7 85.6h0M37 95.2h0M40.5 102.9h0M43 91.6h0M44.2 103.8h0M38.5 93.3h0M44.7 96h0M43.6 103.1h0M36 95.1h0M43.7 96.3h0M36.4 97.3h0M42.9 98.6h0M38.3 95.3h0M43.2 103.3h0M37.6 98.9h0M41.5 86.6h0M35.5 95.9h0M40.5 97.7h0M35.4 101.5h0M43 101.9h0M39.5 99h0M39.2 96.5h0M40.8 88.8h0M45 82.9h0M40.6 98.1h0M38.5 99.8h0M41.8 98.2h0M44.4 102.5h0M45.3 96h0M36.8 86.8h0M41 96h0M36.3 95.2h0M37.6 92.7h0M41.2 88.7h0M42.1 99.3h0M40.5 98.7h0M45.3 98.9h0M43.6 96.4h0M38.9 104.5h0M40.6 95.3h0M42.9 102.1h0M45.3 99.7h0M43.5 101.5h0M41.8 99.3h0M34.9 93.2h0M43.7 103.5h0M36.8 94.9h0M43.3 102.7h0M36.2 73.1h0M36 102.9h0M36.7 90.9h0M40.6 80.7h0M37.9 102.7h0M45.1 101.8h0M40.6 92.5h0M39.1 101.3h0M40.9 81.2h0M38 89.3h0M35.8 91.4h0M41.7 103.8h0M40.8 96.6h0M38.1 76.5h0M38.1 98.4h0M40.9 88h0M42.8 92.8h0M37 100.8h0M44.6 95.7h0M39.5 95.5h0M37.2 103.9h0M38.5 95.2h0M40 98.8h0M37.9 102.5h0M38.7 93.6h0M41.3 93.6h0M35.8 98h0M40.4 96.6h0M44.4 103.7h0M42.4 100.4h0M43 98.5h0M40.1 98.6h0M37 90.3h0M44.6 104.6h0M38.3 97.2h0M38.8 99.1h0M40.6 102.6h0M38.3 103.6h0M44.4 102.7h0M42.2 93.6h0M43 97.8h0M44.5 101.7h0M40.3 93.2h0M39 93.2h0M42.5 96.5h0M42.8 93.9h0M42.7 100h0M40.6 89.7h0M37.4 75.8h0M38.1 101.5h0M45.2 85.7h0M40.5 97.4h0M44.2 98.8h0M43.5 101.1h0M38.2 99.1h0M44.6 89.7h0M42.1 85.4h0M38.5 103.3h0M39.8 104.5h0M37.5 97.6h0M39.1 100.7h0M36.2 98.4h0M37.9 100.1h0M42.6 95.1h0M42 96.2h0M42.2 93.4h0M44.1 98.7h0M42.8 101.2h0M39.2 101.8h0M41.7 84.5h0M43.7 87.8h0M37.6 102.4h0M35.2 95.9h0M39.3 100.8h0M36.2 100h0M38.1 101.5h0M44.3 69.9h0M44.6 86.4h0M40.6 93.2h0M36.6 97.2h0M44.4 85.3h0M36.9 94.4h0M42.8 97.3h0M38.2 102.2h0M41.8 96.1h0M36 97.1h0M40.4 100.2h0M38.3 98.9h0M39.3 80.8h0M44.6 95.8h0M43 101.4h0M42.5 102.6h0M43.2 98.6h0M40.4 98.6h0M36.2 101.1h0M41.3 97.7h0M38 87.5h0M44.4 89.4h0M42.1 102.2h0M39.9 98.3h0M36.4 97.8h0M36.3 102.5h0M41.6 98.3h0M42.6 98h0M44.6 81.6h0M37.7 95.6h0M38.9 97.5h0M38.6 101.3h0M38.5 97.4h0M41.3 92.1h0M44.7 93.7h0M41.1 94.3h0M36.9 91.6h0M38.6 99.4h0M35.8 103.9h0M39.4 95.7h0M44.4 96.9h0M41.7 88.7h0M35 100.8h0M44.8 102.7h0M35.9 100.6h0M38.2 99.1h0M41.5 95.3h0M35.4 98.1h0M41.4 88.8h0M35 96.5h0M41 101.1h0M38.8 90.6h0M41.6 104.3h0M37.4 76.1h0M44.5 100.9h0M38.9 101.8h0M42 101h0M44.8 94.1h0M44.6 98.1h0M43.8 97.4h0M37.4 102.9h0M43.1 101.9h0M36.4 102.1h0M42.2 96.8h0M39.6 91.2h0M44.9 99.9h0M36.9 102.3h0M35.3 92.4h0M36.8 94.6h0M37.8 87.7h0M39 104.3h0M42.3 95.2h0M41.8 100.5h0M36.5 100.1h0M42.5 100.6h0M41.7 83h0M40.7 95.4h0M41.1 88.2h0M39.9 78h0M39.9 92.5h0M37.3 90.1h0M42.7 97.3h0M39.5 88.3h0M36.6 96.9h0M35.9 97.2h0M35.7 97.3h0M38.1 99.4h0M35.8 101.2h0M40.4 101h0M41.6 101.7h0M44 101.7h0M44.5 99.7h0M44.5 101.3h0M35.9 99.2h0M41.6 104.3h0M39.2 83.8h0M43.7 100.2h0M36.7 91.4h0M34.8 96.2h0M45.3 99.3h0M41.1 98.3h0M36.6 100.9h0M36.1 93.9h0M44.4 103.3h0M36.8 104h0M39.5 89.5h0M35.6 99.5h0M37.3 91.4h0M38.6 87.6h0M43.6 92h0M38.3 99.3h0M35.4 104.5h0M38 87.5h0M44.7 92.1h0M42.6 93.8h0M45.3 100.2h0M41.1 88.5h0M40.1 101.6h0M35.8 100.8h0M41.6 80.8h0M35.9 103.3h0M38.6 98.5h0M35.9 97.5h0M35.5 95.7h0M34.8 103.4h0M44.7 100.8h0M42.8 104h0M38.5 93.1h0M38.5 97.8h0M41 104h0M37.1 99.1h0M38.1 102h0M38.3 102h0M38.3 89.6h0M42.7 99.9h0M39.8 83.4h0M43.2 97h0M41.4 99h0M38.5 103h0M40.3 93.6h0M38.8 93.9h0M36.4 95.9h0M38.1 96.5h0M43 98.3h0M38.3 97.5h0M37.7 100.3h0M37.1 91.5h0M40.8 91.6h0M40 90.1h0M40.8 90.3h0M41.9 97.2h0M41.5 96.4h0M42 94.7h0M36.9 100h0M44.6 104h0M41.6 101.4h0M39.3 87.7h0M36.4 97.2h0M39.8 100.8h0M37.5 92.1h0M38.8 91.8h0M38.6 90.1h0M37.4 100h0M39.2 98.3h0M41.2 84.7h0M44.8 100.4h0M36.8 84.3h0M43.4 90.7h0M35.4 96.6h0M38.9 98h0M37 98.8h0M40.6 79.5h0M38.1 81.6h0M39.9 93.4h0M40.2 98.7h0M44.5 101.3h0M41.5 96.6h0M39.6 96.1h0M41.5 104.7h0M45.2 96.7h0M35.9 104.1h0M38.4 96.2h0M36.8 99.1h0M35 97h0M40.1 94.6h0M44.5 99.8h0M41.8 89.8h0M36 101.7h0M37.5 102h0M37 95.9h0M42.3 96.3h0M43.2 97.3h0M39 91.2h0M44.6 86.3h0M37.2 100.9h0M38 89.8h0M44 97.9h0M34.9 95.1h0M44.5 94.5h0M40.4 95.1h0M36.3 101.5h0M37.7 85.4h0M43.3 93.3h0M40.6 91.5h0M35.9 100.6h0M36.4 83.1h0M35.7 101.8h0M38.6 95.3h0M42.4 103.9h0M40.1 97.5h0M42.8 102.1h0M35.4 102.8h0M41.2 85.4h0M41.7 94.6h0M42.8 93.3h0M37.6 101.1h0M38.9 93h0M37 101.4h0M35.8 101.7h0M39.3 103.7h0M43.1 99.5h0M42.4 101.3h0M38.2 85.5h0M42.7 104.1h0M41.2 83.1h0M44 101.3h0M39.1 102.6h0M38.1 95.7h0M44 100.4h0M40.8 92.7h0M37 97.9h0M43.9 101.1h0M44.5 93h0M43.9 102.2h0M35.7 94.9h0M41.1 97.1h0M41.8 90.8h0M37.3 88.3h0M39.7 90.9h0M41.9 97.1h0M43.2 97h0M34.8 101.6h0M43.3 82.2h0M42.2 90.9h0M44.8 94.2h0M42.3 100.1h0M45.2 89.5h0M39.3 94.2h0M36.8 98.2h0M42.4 104h0M43.6 102.4h0M38.8 93.3h0M35.1 89.7h0M38.5 97.1h0M40.8 94.8h0M45 93.6h0M36.1 97h0M36.7 83h0M40.8 92.2h0M35.1 89.4h0M40.4 103.8h0M40 99.6h0M45.2 99.7h0M41.3 98.3h0M35.5 98.1h0M37.3 94.4h0M38.3 102.7h0M38.2 95.2h0M35.4 100.9h0M37.4 91.5h0M40.5 104.3h0M43 95.4h0M41 103.5h0M42.3 100.7h0M42.7 81.5h0M37.8 97.7h0M39 98.5h0M42.5 83.6h0M38.6 95h0M40.2 96.5h0M37.2 97.1h0M38.7 88.9h0M41 81.6h0M41 102.8h0M43.7 95.5h0M36.3 94.5h0M40.2 101.4h0M41 102h0M44.1 82.6h0M36.7 103h0M43.4 98.8h0M43.4 87.5h0M37.2 82.7h0M37.5 103h0M35.8 91.5h0M40.6 88.4h0M44.4 101.3h0M36.5 94.4h0M44.9 102.4h0M35.7 91.2h0M40.9 89.9h0M45.3 89.2h0M39 85.4h0M43.8 92.7h0M42.8 97.1h0M44.4 89.7h0M40 78.7h0M37.8 78.9h0M40.2 47.6h0M40.4 46.4h0M43.4 70.9h0M39.3 80.6h0M37.2 85.3h0M37.3 75.6h0M36 70.7h0M37.8 56.9h0M38.2 59.2h0M43.8 56.3h0M35.4 79.6h0M42.4 66.5h0M44.7 75.2h0M41.3 83.7h0M44.1 66.4h0M35.7 63.7h0M44.9 74.2h0M42.9 78.2h0M41.4 82.2h0M39.3 63.6h0M38.3 29.2h0M43.1 79.5h0M38.6 60.9h0M43.7 86.6h0M37.1 86.1h0M35.9 82.1h0M42.2 65.9h0M37.9 85.9h0M38.3 69.6h0M44.8 87.7h0M45.3 72.6h0M38 85.2h0M35.6 44.5h0M42.8 66.4h0M41.9 59.4h0M41 58.8h0M43.3 60.6h0M39.7 70.2h0M41.7 86h0M35.5 80h0M39.5 75.9h0M35.5 51.2h0M41.7 81.2h0M42.9 81h0M37.5 74.1h0M44.5 51.5h0M35.5 85.8h0M37.7 78.9h0M43.2 45h0M39.9 80.7h0M34.8 56.9h0M38.3 69.6h0M44.9 58.8h0M39.7 81.1h0M38.1 79.7h0M43.8 43.3h0M42.5 81.5h0M42.4 58.9h0M41 82.6h0M38.2 87h0M39.5 78.4h0M42.4 80.1h0M34.8 70.1h0M42.4 74.8h0M38.2 88.4h0M35.6 84.2h0M41.1 71.4h0M38.3 58.5h0M44.5 70.8h0M42 77.3h0M35 82.4h0M44.2 78.9h0M40.4 73h0M39.1 71.7h0M35.6 71.3h0M39.6 63.2h0M36 77.5h0M37.9 78.5h0M36.7 77.3h0M43.7 76h0M38.5 70.2h0M35.9 69h0M35.8 72.4h0M36.8 71.8h0M35.6 79.9h0M40.1 87.6h0M42.9 60.1h0M41.5 75.7h0M36.6 67.7h0M43.2 59.7h0M40.2 88h0M42.8 81h0M37.3 68.1h0M39.5 54.8h0M40.4 60.5h0M42.7 53.9h0M40.7 54.6h0M35.9 82.3h0M41.3 35.7h0M42.9 84.5h0M38.4 81h0M43.2 79.2h0M39.6 63.1h0M35.6 76.6h0M37 72h0M36.7 82.6h0M37 64.8h0M44.6 84.3h0M38.8 63.8h0M42.8 84.4h0M37.9 85.8h0M36.1 26.4h0M43.5 78.7h0M37.8 70.8h0M36 32h0M39.5 65h0M37.2 39.1h0M37 72.2h0M40.3 54.4h0M41.3 74.7h0M44.3 79.3h0M37.9 53.2h0M41.1 68.5h0M35.8 62.6h0M39.3 86.3h0M39.3 56.8h0M43.1 75.2h0M39.3 75.7h0M39.7 43.5h0M39.1 56.6h0M38.5 80.1h0M35.5 76.7h0M39.6 47.3h0M35.2 85.7h0M38.2 44.9h0M37.8 49.8h0M39.8 85.6h0M43.5 49.8h0M41.2 60.5h0M44.6 72.9h0M38.7 47.8h0M39.2 84.6h0M36.3 84.9h0M40.4 29.3h0M42.1 73.1h0M40 76.5h0M39.4 76.2h0M42.5 78.8h0M44.4 70.4h0M43.8 76.8h0M40.3 83.5h0M39.4 80.4h0M37.2 66.9h0M37.2 82.3h0M36.9 86h0M45 85.4h0M43.4 78.9h0M40.3 82.8h0M36.2 57.3h0M40.1 80.6h0M45.2 82.2h0M38.1 78.6h0M41.1 54.1h0M36.1 34h0M36.5 87.6h0M40.2 67.1h0M38.9 79.8h0M44.8 80.8h0M37.1 82.8h0M40.1 75.6h0M35.5 61.5h0M35.7 71.8h0M44.9 48.8h0M41.2 68h0M44 62.2h0M44.4 87.5h0M42.2 77.3h0M37.1 75.6h0M43.7 62.3h0M42.4 72.9h0M45.3 82.4h0M42.6 42.1h0M42.5 72.5h0M42.9 39.5h0M35.4 83.4h0M36.8 67.9h0M40.7 81.3h0M42.6 73.5h0M57 83h0M52.2 97.8h0M50.2 94h0M50.2 91.5h0M56.2 98.9h0M48.9 89.3h0M49.8 82.7h0M47.7 88.1h0M48.1 101.3h0M49.7 89.6h0M57.3 103.3h0M57.8 104.5h0M47.6 96.4h0M48.1 94.8h0M48.2 99.1h0M48.1 95.4h0M48.4 84.4h0M49.3 79.9h0M52.2 104h0M52.9 100.6h0M53.1 82.7h0M49.8 75.7h0M51 92.9h0M50.6 88.1h0M53.6 69.4h0M50.3 71.7h0M55 88.3h0M50.1 69.6h0M48 74.3h0M49.1 83.9h0M50.4 92.4h0M50.8 90.9h0M54.6 83.4h0M56.5 103.7h0M47.7 94.6h0M56 102.8h0M57.1 81.6h0M51.1 99.5h0M51.6 101.1h0M55.6 90.4h0M54.4 85.7h0M49.3 92.3h0M54.6 105.4h0M52.3 97h0M52 81.8h0M53 99h0M52.8 97.7h0M50.5 100.6h0M52.8 78.9h0M51.1 99.2h0M47.7 99.1h0M47.6 83h0M51.1 97.1h0M52.6 89.5h0M48.3 81h0M57.1 79.1h0M56.4 79h0M50.8 84.6h0M53.9 85.3h0M54.5 81.9h0M48.6 75.1h0M51.4 76.3h0M54.8 95.2h0M52.9 71.6h0M52.2 81.5h0M48.7 85.7h0M54.7 100.3h0M56.9 84.9h0M49.7 94.5h0M50.6 95.3h0M48.6 103.6h0M48.5 103h0M53.7 103.3h0M54.7 98.4h0M52 103.2h0M48.5 81.4h0M54 93.1h0M48.6 106.2h0M51.1 104.4h0M55.7 94.6h0M56.9 78.2h0M51.1 80.9h0M54.7 51.4h0M53.4 74.5h0M57.3 62.7h0M48.8 63h0M56.9 92h0M53.6 101.4h0M55.6 91.7h0M58 84.4h0M52.5 94.7h0M50.7 72.3h0M53.4 74.8h0M55.7 89.5h0M52.5 103.2h0M57.9 102.2h0M48.8 100.6h0M53.3 97.6h0M49.6 106h0M55.7 77.4h0M57.7 90.6h0M48.9 82.6h0M49.8 85.3h0M57.8 105.8h0M55.3 87.2h0M55.8 104.2h0M55.3 101.2h0M57.1 94.1h0M49.4 96.9h0M50.8 97.6h0M49 82.4h0M51.9 104h0M48.7 71.6h0M49.1 95.5h0M52.3 96.7h0M55.8 97.8h0M48.6 94h0M57 104.1h0M54.3 86.2h0M53.2 95.6h0M50.2 75.4h0M55.5 77.7h0M54.6 96.7h0M47.6 93.7h0M54.6 91.5h0M50.4 83.8h0M57.2 83.2h0M52.3 73.2h0M47.6 81.8h0M48.9 100.5h0M57.4 62.6h0M49.3 84.9h0M49 85.9h0M56.7 87.7h0M48.8 96.1h0M50.6 77.4h0M56.8 97.2h0M57.9 89.7h0M58 69.6h0M51.4 103.3h0M56.2 95.3h0M48.1 104.3h0M51.6 86h0M56.7 76.7h0M51.4 104.4h0M53.6 97.5h0M53.1 89.9h0M51.8 98.7h0M53.6 100.6h0M53.9 95.4h0M54.2 104h0M48.9 92.4h0M51 99.2h0M57.9 97.2h0M53.2 104.6h0M53.2 70.6h0M54.9 94.1h0M52.9 77.7h0M53.9 87.4h0M51.5 102.6h0M54.5 93.2h0M56.5 99.5h0M49 96.8h0M55.6 96.4h0M49.5 99.7h0M48.8 95.9h0M52.7 102.9h0M48.7 73h0M52.2 98.9h0M49.4 81.2h0M51.1 103.5h0M51 92.5h0M56.3 99.2h0M48.4 71.2h0M55.4 97.2h0M52.9 99.4h0M48.7 100.8h0M56.4 102.9h0M53.8 86.8h0M50 92.5h0M48.1 101.9h0M51.4 104.3h0M53.1 93.7h0M57.8 101.2h0M48.8 95h0M56 97.9h0M53.8 81.4h0M55.4 76.6h0M54.2 101.9h0M49.9 89.6h0M57.8 97.4h0M57.7 79.3h0M48.1 69.5h0M56.4 100.6h0M49.3 100.4h0M51.3 99h0M52.3 97.7h0M47.9 92.9h0M47.8 64.6h0M49.6 100.4h0M58.1 84.6h0M47.7 78h0M57.2 97.5h0M57.9 91.7h0M57.8 87.8h0M48.7 99h0M51.7 77.8h0M52.5 68.8h0M57.2 101.5h0M50.8 100.2h0M53.2 84.6h0M57.6 94.8h0M48.6 94h0M51.7 76.8h0M48.4 102.9h0M49.3 100.9h0M55.9 95.2h0M51.2 89.8h0M55 104.4h0M49.9 80h0M56.4 102.7h0M48.6 105.4h0M52.1 94.6h0M48.1 95.2h0M51.9 97.8h0M49 101.9h0M55 86.7h0M49.7 94.9h0M52.8 91.8h0M50.8 89.4h0M47.8 92.8h0M56.7 94.7h0M57.9 86.5h0M56.2 96.1h0M49.9 105.4h0M58 82.8h0M54.9 92.8h0M56.1 93h0M51.3 95.6h0M56.9 93.1h0M49.2 102.2h0M48.6 93.5h0M57.2 68.7h0M53.9 104.8h0M50.8 103.4h0M55.3 103.7h0M47.5 104.4h0M57.5 99.9h0M52.2 94.4h0M49.8 99.6h0M52 86h0M48.1 101.3h0M57.7 101h0M49.4 85.5h0M53.5 68.2h0M50.7 82.6h0M55.8 94.2h0M56.6 102.6h0M56.7 103.3h0M50.7 75.4h0M57.8 85.7h0M58.1 87.1h0M57.8 87.1h0M56.8 96.3h0M48.6 90.8h0M52.1 98.9h0M47.9 96.8h0M48.9 95.8h0M48.2 93.8h0M47.7 101.3h0M57.1 105.2h0M56.6 90.9h0M51.5 78.4h0M51.5 88.6h0M51.8 55.9h0M55.3 103.5h0M48.3 73.9h0M48.4 70.1h0M51.6 100.2h0M52.6 92.8h0M48.1 99.9h0M49.2 85.5h0M52.5 94.7h0M48 58h0M56.2 94.5h0M57 103.3h0M55.5 86.4h0M51.1 92h0M58 94.6h0M55.2 89.1h0M52.9 83h0M53.9 103.5h0M51.9 82.6h0M51.5 94.2h0M48.9 75.4h0M48.7 77h0M57.1 103.9h0M54.3 85.9h0M57.7 91.9h0M55.9 100.9h0M48.7 99h0M48 69.6h0M48.9 70.9h0M49.3 73.3h0M56.2 96.6h0M57.7 92.4h0M57.6 100.9h0M50 103.4h0M51.9 102.9h0M56.5 101.8h0M51.3 80.4h0M53.2 102.2h0M58 95.7h0M49 101.6h0M51.6 100.8h0M53.6 73h0M57 85h0M57.9 93.7h0M56.5 102.7h0M57.2 91.5h0M55.5 100.1h0M53.9 86h0M52.4 88.1h0M49.4 98.8h0M54.7 88.7h0M55.5 100.4h0M57.7 104.8h0M48.4 81.3h0M51.9 103.3h0M52.3 102.4h0M54 98.1h0M53.3 102.7h0M49.9 87.3h0M52.7 75.9h0M51.1 76.6h0M50.6 81h0M57.9 89.4h0M56.7 100.5h0M57.8 103.6h0M52.3 100.8h0M55.6 84.6h0M47.7 82.8h0M47.9 97.2h0M57 72.4h0M55 84.2h0M56.5 103.4h0M49.1 100.5h0M54.8 96.1h0M56.2 72.7h0M49 87.3h0M55.9 104.7h0M57.6 104.3h0M50.3 59.5h0M52.5 103.3h0M47.8 64.3h0M48.5 98h0M55.1 89.3h0M56.3 98.1h0M51.9 92.3h0M47.8 100.5h0M57.7 95.3h0M49.6 51.9h0M50.5 103.9h0M54.9 74.8h0M57.4 89.8h0M53.6 77.6h0M48 83.3h0M56.9 101.6h0M49.2 89.4h0M52.6 104.3h0M51.5 100.8h0M53.7 98.6h0M49.9 85.5h0M53.7 73.1h0M48.9 102h0M53.2 96.6h0M52.8 70.8h0M57.1 103.3h0M57.1 101.1h0M54.6 105.2h0M48.7 106.1h0M52.5 105.8h0M47.7 96.1h0M50 80.9h0M51.7 88.9h0M55.6 103.8h0M51.5 102.3h0M51.9 89.2h0M49.4 90.3h0M53.7 90.4h0M50.3 71.7h0M55.5 94.8h0M48.1 102.7h0M51.8 103.3h0M52.6 92.7h0M56.3 97.1h0M51.3 102.3h0M49.9 97.5h0M54.2 98.6h0M51.1 84.1h0M50.7 95.4h0M53.5 75.9h0M53.9 102.2h0M57.3 80h0M53.4 105.8h0M47.7 71.7h0M55.5 100h0M52 89.8h0M55.9 95.6h0M53.9 80.6h0M50.6 89h0M56.9 95.9h0M53.7 89.6h0M51.5 96.3h0M50.1 97.5h0M48 88.8h0M56.3 105h0M55.7 91h0M53.5 100.2h0M51.8 97.7h0M52.1 80.2h0M56 83.6h0M48.1 104h0M51.2 94.2h0M48.8 75.5h0M47.6 86.1h0M55.8 87h0M51.2 94.5h0M57.3 99.9h0M53.6 101.8h0M56.6 52.8h0M49 92.3h0M57.4 102.9h0M51.4 74.7h0M49.3 86.9h0M48.7 91h0M53 92.9h0M51.5 105h0M51.7 93.9h0M50.8 92.9h0M55.5 103.8h0M50.9 63.4h0M51.7 96.8h0M49.3 81.7h0M57.2 86h0M53.8 98.2h0M57.9 92.6h0M57.9 100.8h0M56.8 92.5h0M49.6 100.5h0M50 95h0M54.6 104.7h0M57 75.7h0M57.2 68.8h0M48.5 96.7h0M51.3 96.8h0M48.4 81.3h0M54.7 94.6h0M55.1 102.8h0M51.3 103.9h0M48.3 98.2h0M55.7 74h0M52 106h0M51.2 96.2h0M57.2 89.2h0M56 101.8h0M47.6 95.1h0M52.3 100h0M53 95.3h0M47.8 79.9h0M51.5 104.5h0M57.9 93.6h0M49.5 105.7h0M52.6 92.4h0M49 92.8h0M51.6 93.8h0M50 101.5h0M57.4 104.9h0M53.8 100h0M53.5 103.4h0M55.4 99.5h0M54.8 95.4h0M55.7 98.4h0M55.4 93.5h0M57.4 95.1h0M53 83.7h0M48.6 103.1h0M53.5 95.5h0M56.6 67.2h0M54.6 93.4h0M52.7 72.6h0M49.8 103.7h0M57.7 100.7h0M57.5 89.5h0M50.6 100.5h0M51.8 98h0M50.1 77.3h0M52.6 83.7h0M57.3 92.9h0M50.3 105.6h0M51.2 100.2h0M57.1 88.7h0M53.2 97.8h0M50.2 102h0M58 94.4h0M51.2 95.5h0M53.4 97.5h0M51.6 101.7h0M56.5 84.2h0M50 61h0M51.5 92.6h0M55.1 90.2h0M56 89.6h0M54.4 101.8h0M57.8 86.1h0M53.2 67.4h0M48.6 100.5h0M56.3 90h0M53 98.6h0M49.8 97.7h0M52 101.9h0M53.5 101.3h0M47.7 88h0M57.1 98.9h0M53.6 87.4h0M55.7 100.7h0M49.2 97h0M53.1 95.5h0M53.7 105.8h0M48.5 92.7h0M56.6 95.5h0M54.4 103.6h0M57.6 97.2h0M57.5 101.2h0M48.3 83.5h0M55.5 87.1h0M56.6 97.3h0M51.8 98.8h0M53.8 78.5h0M53.8 95.2h0M48.6 76.5h0M52.6 93.5h0M52.1 104.2h0M57.5 89.6h0M49.8 102.7h0M54.2 90.5h0M51.2 105.3h0M51.6 88.6h0M47.9 98.1h0M53.4 91.6h0M51.3 97.6h0M50.7 81.4h0M53.3 77.9h0M55.6 92.5h0M56.7 102.1h0M56.1 79.6h0M51.9 91.4h0M51.1 102.5h0M54.7 97.4h0M54.3 99.2h0M55 103.1h0M57.2 102.1h0M54.4 93h0M49.2 92.6h0M53.4 90.6h0M50.8 92.4h0M50.2 89.9h0M54.8 95.8h0M47.8 75h0M56.8 90.3h0M53.9 98.3h0M49.7 90.7h0M56.5 95.4h0M54.6 92.9h0M52.5 86.7h0M48.9 93.2h0M56.9 96.5h0M48.1 88.7h0M49 104.2h0M54.5 103.3h0M56.7 87.3h0M56 83.6h0M52.8 102.1h0M55.5 103.4h0M53.5 87.6h0M48.7 100.7h0M47.9 100.4h0M52.6 95.4h0M56.1 98.7h0M50.4 84.5h0M57.1 105.1h0M54.2 89.1h0M47.9 85.5h0M52 94.6h0M47.7 105.6h0M57.6 96.1h0M48.4 95.2h0M54.2 88.6h0M51.1 89.8h0M55.3 90.1h0M48.8 74h0M57.7 83.8h0M57.6 82.8h0M48.1 88.6h0M55.5 101.9h0M52.4 105.1h0M47.9 101.6h0M47.8 90.3h0M57.9 73.1h0M58 91.7h0M56.7 93.2h0M50.3 90.1h0M53.7 75.7h0M54.3 89.5h0M56.1 103.9h0M54.3 76.4h0M51.8 104.6h0M52.4 102h0M52.3 101.3h0M48.5 103.4h0M48.5 101.3h0M49.9 89.9h0M53.9 102.1h0M53.1 80h0M53.3 93.8h0M56.2 73.1h0M50.3 85h0M56.2 94.3h0M49.6 96.6h0M56.6 80.4h0M53.8 101.1h0M54 93.4h0M50.8 96.5h0M54.2 85h0M52.8 95.4h0M56.5 79.7h0M57.6 100h0M56.7 98.9h0M47.9 105.8h0M54.2 93h0M57.2 104h0M53.4 88h0M56.6 86.8h0M48.5 90.8h0M57.6 94.2h0M50.1 67.5h0M57.4 81.5h0M51.6 96.5h0M55.3 94.2h0M55.6 94.6h0M50.1 77.7h0M52.8 81.4h0M48.8 88.5h0M53.2 103.1h0M54.9 95.9h0M51 79.8h0M51.5 95.6h0M53.8 101.2h0M56.3 91.7h0M55.6 73.1h0M48.7 65.4h0M53.8 104.7h0M48.7 92.2h0M48.2 102.3h0M54.6 102h0M57.1 88.7h0M50.2 86.5h0M53.1 97.3h0M56.9 88.3h0M54.1 94.9h0M56.8 86.9h0M48.7 82.3h0M54.5 96.5h0M49.4 82.3h0M49.3 86.9h0M56 92.7h0M57.5 72.3h0M51.9 84.8h0M53.3 105.3h0M48.8 79.2h0M49.2 103.4h0M53.7 70.4h0M55 101.7h0M53.9 76h0M52.5 103.5h0M56.4 96.5h0M48.1 78.1h0M48.5 99.9h0M53.7 94.6h0M52.7 92h0M57.9 93.7h0M48.5 82.4h0M47.6 71.4h0M50.6 99.6h0M53.3 98.5h0M57.9 100.9h0M55.1 97h0M56.3 88.1h0M51.7 87.7h0M49.2 76.5h0M57.4 89.4h0M48.5 75.7h0M55.7 103.9h0M53.2 84.1h0M48.2 103.1h0M50.7 95.9h0M49 93h0M54.3 91.2h0M58 91.9h0M58 100.8h0M51.7 97.9h0M51.8 94.8h0M53.1 99h0M48 91.6h0M50.8 67.5h0M48.3 92.3h0M50 83.2h0M49.3 81.1h0M54.7 90.6h0M48.2 95.7h0M55.3 85.3h0M57.4 71.1h0M54.3 88h0M57.2 92h0M57 85h0M49.3 90.5h0M50.5 103.1h0M56.4 91.6h0M56.9 104.5h0M56.4 66.6h0M52.5 96.4h0M51.5 73.9h0M49.3 103.8h0M54.5 74.8h0M54.8 99.2h0M57 77.7h0M53.3 100.8h0M51.1 99.4h0M52.8 98.2h0M48.7 89.6h0M56 105.8h0M55.1 103.6h0M53.6 74.8h0M49.7 52.1h0M51 98.2h0M51.8 87.5h0M49.2 89.1h0M47.6 82.3h0M54.9 77.2h0M53.8 80.6h0M55.1 86.7h0M48.4 80.1h0M54.1 104.7h0M54.4 99.8h0M52.3 95.2h0M51.7 72.7h0M57 104.9h0M47.9 91.9h0M52.9 77.4h0M55.2 100.5h0M54.9 59.5h0M52.8 69.7h0M50.1 103.9h0M49.7 98h0M50.2 104.5h0M53.7 97.8h0M51.3 96.8h0M53.8 100.8h0M57.4 79.9h0M51.5 98.3h0M53.1 88h0M53.3 96h0M55.7 103.6h0M53.7 86.3h0M56.7 103.3h0M48.1 90.3h0M54.6 101.4h0M53.9 80.7h0M57.6 80.6h0M54 87.4h0M54.8 92h0M51.9 93.4h0M48.4 91h0M51.9 90.9h0M57.5 87.9h0M57.1 83.2h0M48.3 100.5h0M57.3 81h0M52.5 85.3h0M57.5 70.6h0M47.7 99.2h0M51 97h0M52.1 90.5h0M48 76.7h0M51.4 96.1h0M56.8 89.5h0M56.5 74.5h0M51.2 96.5h0M48.5 104.8h0M57.1 80.8h0M54.5 91.6h0M53.8 101.6h0M51.1 83.1h0M53.2 104h0M53 81.1h0M58 99.6h0M55.8 96.7h0M53.3 91.2h0M50.2 103.8h0M57.6 101.2h0M55 81.7h0M56.5 102.2h0M51.8 75.9h0M52.5 87.7h0M48.4 102.5h0M55.5 103.3h0M48.6 47.7h0M51.6 105.6h0M56.1 93.5h0M54.5 63.3h0M54.1 102.8h0M55.2 101.1h0M50.2 103.5h0M48.9 87.4h0M47.7 92.5h0M50.9 96.9h0M51.2 98.4h0M55.4 101.2h0M57.8 103.7h0M52.5 90.1h0M56.9 87.3h0M52.6 85.8h0M54.3 92.6h0M57.3 100h0M55.7 88.4h0M49.5 100.8h0M53.7 83.7h0M56.4 79.8h0M55.1 91.2h0M49.5 84.2h0M47.6 67.6h0M56 73.9h0M57.6 87.2h0M48 101.6h0M50 83.3h0M57.3 75.7h0M48.2 78h0M51.8 96h0M51 89.3h0M51.7 83.2h0M52.3 96.7h0M54.6 102.4h0M50.2 101.2h0M49 85.4h0M50.1 103.9h0M55 98.5h0M55.5 58.5h0M53.1 101.1h0M47.9 103.5h0M56.9 88.4h0M55.5 94.5h0M51.5 90.5h0M56.3 63.5h0M50.3 87.5h0M51.2 92.6h0M54.4 95.7h0M56.8 104.2h0M57 99h0M49.7 81.3h0M50.7 99h0M55 103h0M57 88.1h0M54.1 96h0M54 102.6h0M52.5 99.2h0M53.7 105.8h0M50.8 98.9h0M48.4 104.9h0M57.2 90.7h0M48.7 102.5h0M54.2 96.3h0M48.8 105.6h0M47.7 87.8h0M49.1 106.1h0M57.1 105.8h0M52.2 93.5h0M56.8 89h0M55.2 65.4h0M54.7 66.5h0M49.9 103.7h0M57.8 81.9h0M52 90.2h0M52.5 77.9h0M53.9 105.3h0M48.9 104.1h0M49.9 96.7h0M52 103.2h0M57.6 98.4h0M53 88.3h0M57.5 93.3h0M57.4 83.1h0M56.5 97.2h0M52.9 92.7h0M51.3 100.2h0M50.3 101.8h0M52.1 96h0M53.9 90.8h0M58.1 93.8h0M50.8 76.7h0M54 85.6h0M53 93.3h0M57.4 69h0M54.3 99h0M47.6 89.3h0M50.4 91.5h0M56.9 91.9h0M51.5 91.1h0M56.8 91.1h0M50.2 93.2h0M47.7 104.2h0M54.1 93.3h0M51.6 96.5h0M49.8 84.7h0M54.3 99.7h0M49.7 84.6h0M54.9 103.4h0M49 90.4h0M47.6 97.2h0M55.7 88.7h0M53.7 86.8h0M50 88.5h0M56 98.4h0M52.8 100.1h0M54.1 103.2h0M57.7 95.8h0M49.1 91.5h0M55 95.9h0M53.8 97.8h0M56.4 101.1h0M53.5 76.4h0M50.5 95.2h0M51.1 83.9h0M51.4 101.2h0M53.9 91.1h0M48.3 92.8h0M52.7 80.7h0M49.8 70.7h0M54.4 103h0M57.1 100.7h0M50.6 104.8h0M57.5 99h0M54.1 98.4h0M51.9 98.6h0M54.6 100.4h0M54.8 102.9h0M49 93.8h0M51.3 83.7h0M53.8 105h0M50.9 77.2h0M50.6 94.4h0M52.3 81h0M55.6 102.2h0M48.5 90.5h0M52.2 104.5h0M49.2 93.5h0M51.8 89.1h0M50.1 80.1h0M50.2 75.1h0M48.2 100.1h0M55.1 91.2h0M53.5 105.8h0M56.1 74h0M47.9 81.7h0M55.2 88.4h0M55.2 91.6h0M47.7 83.6h0M53.7 102h0M48.5 98.5h0M49.4 85.5h0M52.8 75.3h0M51.5 81.3h0M48.9 99.5h0M50.4 78.7h0M53.1 84.8h0M48.6 88.8h0M49.5 91.8h0M51.2 98.9h0M57.8 101.1h0M48.5 83.1h0M56.1 92.3h0M57.5 63.9h0M49.2 101.8h0M50.9 101.2h0M49.6 97.2h0M51.7 98.9h0M53.1 99.5h0M50.8 102.1h0M52.1 66.3h0M56.7 100.4h0M54 83.8h0M56.6 71h0M55.7 94.2h0M54.5 99.3h0M55.4 103.4h0M54.7 86.3h0M56.4 90.8h0M54.8 74.1h0M49.5 99.7h0M54.5 92.3h0M50.5 94.3h0M57 92.2h0M50.9 72.6h0M55.7 87.7h0M57.6 69.2h0M55.2 81.4h0M53.9 99.9h0M56.2 101.4h0M56 93.3h0M54.2 88.8h0M48.9 96.7h0M53.6 74.9h0M53.8 89.5h0M57.4 100.1h0M55.2 87.6h0M56.1 104.1h0M51 98.7h0M56.2 84.9h0M57.4 99.4h0M56.3 97.2h0M49.3 100.2h0M50 99h0M48.8 81.1h0M55.2 84.8h0M48.3 83.7h0M55.7 99h0M54.1 82.3h0M53.1 100.6h0M54.5 104.2h0M57.5 97.4h0M56.7 100.6h0M51.1 92.5h0M52.7 87.6h0M53.9 97h0M53.1 103.9h0M57.2 96.3h0M48.8 91.5h0M51.8 95.8h0M49.5 103.4h0M51.4 80.2h0M57.6 73.9h0M57.8 96.3h0M51.1 90.2h0M50.8 92.1h0M49.7 95h0M54.5 98.5h0M53.6 103.2h0M47.6 103.6h0M53.3 87.5h0M56.9 83.6h0M53 102.4h0M48.2 97.9h0M55.1 94.8h0M49 98.1h0M52.8 78h0M51 97.5h0M52.8 78.8h0M55 82.2h0M47.8 77.7h0M50 105.5h0M55.6 103.4h0M47.7 99.5h0M56.2 94.2h0M53.3 87.5h0M55.4 90.4h0M48.9 90.5h0M51.5 96.8h0M50.8 98.4h0M51.6 94.9h0M51.8 96.8h0M50.7 104.6h0M53.7 79.9h0M47.5 94.1h0M56.2 105.2h0M55.6 97.5h0M56.5 72.1h0M49.7 82.6h0M53.3 102h0M52.5 91.6h0M49.5 88.9h0M57.6 103.9h0M51.7 91.5h0M52.4 102.6h0M51.4 94.4h0M51.8 90.6h0M54.5 102.6h0M51.3 81.9h0M55.7 95.1h0M50 102.3h0M56.6 93.9h0M57.3 93.4h0M55.2 95.1h0M58.1 87.8h0M48.2 88.9h0M52 87h0M52.2 104.6h0M58 104.7h0M50.7 102.9h0M48.4 89.1h0M56 93.5h0M56.5 97.7h0M50.4 105.1h0M53.8 103.2h0M56 103.7h0M50.3 94.1h0M50.5 91.4h0M48.7 93.6h0M51.5 85.5h0M53.6 104.6h0M49.8 79.7h0M50.4 80.9h0M56 101.8h0M51.8 83.8h0M51 100.4h0M47.9 96.7h0M57.7 88.5h0M51.6 95.9h0M49.9 90.6h0M49.7 83.2h0M47.5 77.7h0M48.6 103h0M55.2 103.6h0M54.4 98.1h0M54.8 92.5h0M56.5 99.9h0M49.3 100.5h0M48.2 102.5h0M48.8 100.1h0M54.6 94h0M56.6 99.9h0M56.2 97.3h0M49.9 103.7h0M56.9 87.9h0M53.3 89.4h0M49.4 98.1h0M48.8 78h0M57.5 88.7h0M55.5 101.9h0M49.1 98.2h0M50.3 83.1h0M55.1 92.5h0M51.4 102.6h0M57.4 89h0M50.1 79.5h0M49.4 100.4h0M49.7 101.9h0M50.5 74.4h0M49.6 86h0M50 77.8h0M51.8 95h0M54 101h0M48 100.2h0M56.5 90.5h0M54.5 92h0M51.7 96.9h0M49.8 90.5h0M53.8 101.4h0M54.1 102.6h0M55.4 90.8h0M50.2 103.5h0M53.9 101.9h0M54 73.9h0M47.8 93h0M51.3 100h0M55.7 95.8h0M48.5 82.4h0M48.3 97.8h0M52.8 97.8h0M53.8 82.4h0M49.8 79.3h0M52.2 93.6h0M48.5 86.8h0M55.9 66h0M54.8 96.5h0M55 78.8h0M51.8 72.4h0M57.6 83.6h0M51.9 60.8h0M48 91.1h0M48.8 105.1h0M52.5 76.3h0M50.1 77.1h0M55.9 69.6h0M51.6 80.6h0M56.7 105.1h0M58.1 85.2h0M54.8 95.1h0M56.8 55h0M56.5 99.4h0M54.1 96.9h0M49.7 103.2h0M57 57.5h0M49.9 81.5h0M57.6 92.2h0M56.1 100h0M54.4 92.7h0M51.9 102.2h0M53 94.3h0M48.6 99.7h0M58 103.4h0M47.8 95.4h0M50.2 77.1h0M48 105.7h0M54.3 97.2h0M57.5 90.8h0M55.9 94.6h0M49.2 68.2h0M54.4 98.6h0M57.4 76.2h0M51.1 94.3h0M52.2 93.5h0M50.3 85.2h0M52.6 104.9h0M53.9 94.4h0M57.6 102h0M50.2 92.2h0M51.8 103.6h0M54 68.9h0M56.9 97.6h0M49.6 80.6h0M56.9 95.8h0M48.9 98.9h0M53.1 92h0M49.3 87.3h0M50.3 93.3h0M49.4 66h0M57 77.5h0M56.7 95.1h0M47.6 103.2h0M53 62.3h0M49.5 92.8h0M56.3 104.5h0M50.5 103.3h0M50.9 87.9h0M47.5 104.4h0M55.7 103.8h0M55.3 100.5h0M51.9 53.1h0M58 104.7h0M48.2 87.2h0M57.6 102.2h0M52.3 88.6h0M50.2 99.9h0M54.1 105.7h0M48.1 103.4h0M51.1 104.1h0M51 80.9h0M50.9 102.6h0M54.3 104.8h0M50.2 103.7h0M56 101.5h0M57.1 89.5h0M50.3 83.8h0M48.1 97h0M57.5 85.9h0M56.8 94.7h0M50.3 88.5h0M49.4 103.3h0M53.9 100.8h0M50.6 96.4h0M56.8 69.5h0M48.5 106.1h0M53.8 93h0M51.7 103.5h0M56.1 104.4h0M47.9 91.8h0M54.9 94.7h0M55.3 85.7h0M55.9 90h0M55.2 98.8h0M49.9 96h0M58.1 89.1h0M53.6 84.9h0M51.1 97.3h0M54.9 72.2h0M51.8 97h0M49.3 94.4h0M52.8 72.4h0M49.7 72.3h0M56.5 82.9h0M54.6 93.4h0M55.3 102.9h0M51.8 82.8h0M51.2 83.8h0M55.7 88.2h0M51.3 97.9h0M49.8 102.9h0M48.5 75.8h0M52.9 98.1h0M54.8 100.5h0M51.1 105.4h0M53.2 105.9h0M53 104.8h0M56.1 61.7h0M47.8 99.6h0M52.8 86.2h0M51.1 98.3h0M54.6 105.6h0M51.1 98.7h0M52.7 101.8h0M49.2 87.1h0M54.3 102.8h0M51.8 102.9h0M47.6 104.5h0M54.1 101.1h0M56.6 100.3h0M48.4 105.6h0M54.3 92.1h0M55.6 91.8h0M56.7 71h0M50.9 87.7h0M48.1 102.1h0M48.6 102.5h0M52.6 100.6h0M53.1 99.5h0M57.5 104h0M50.1 91.7h0M50.4 77h0M49.4 103.5h0M50.2 93.6h0M47.9 103.3h0M48.1 95.5h0M52.3 91.9h0M49.8 76.2h0M47.9 89.1h0M48.2 103.9h0M54.7 78.2h0M48.3 81.2h0M49.6 74.9h0M49.4 95.6h0M53.9 75.7h0M48.5 89.1h0M48 68.3h0M48.8 92.5h0M57.3 104h0M49.6 101.4h0M54.8 85.1h0M50.6 89.2h0M58 93.6h0M56.2 75.8h0M55.2 99.4h0M56.5 94.7h0M47.7 80.5h0M54.7 91.7h0M50.2 84.7h0M56.9 95.5h0M47.9 97.6h0M53 95h0M49.9 88.9h0M49.4 79.4h0M53.1 90.6h0M56.5 99.7h0M57.1 95.7h0M50.9 85.2h0M47.8 95.8h0M52.5 75.5h0M58 90h0M50.9 104.8h0M50.2 87.5h0M51.9 104.5h0M53.8 83.8h0M53.8 84.6h0M49.1 100.4h0M48.2 101.7h0M54.3 98.2h0M51.4 96.5h0M49.6 102.9h0M53.2 83.4h0M57.6 89.9h0M47.8 99h0M53.9 70.3h0M52.8 99h0M57.6 71.5h0M50.3 101.3h0M48.8 93.1h0M52 82.6h0M57.4 97.8h0M49.7 98.4h0M53.5 79.7h0M53.7 103.6h0M53.5 101.1h0M53.4 82.9h0M55.4 103.9h0M50.3 90.6h0M49.6 106.3h0M49.9 88.3h0M51.4 96.5h0M47.9 88.5h0M51.3 93.8h0M51.9 97.9h0M50.1 79.1h0M50.6 98.1h0M50.7 83.4h0M49 83.2h0M48.5 90.1h0M55.1 92.5h0M55.4 91.8h0M54.4 89.1h0M47.9 105.2h0M49.8 98.2h0M53 100.1h0M53.2 80.9h0M54.3 75.4h0M57.1 96.3h0M57.5 82.3h0M53.2 102.3h0M56.8 89h0M50.5 92.2h0M47.8 66.4h0M57 84.7h0M54.1 100.7h0M54.3 101.7h0M52.8 75h0M54.8 104.2h0M54.9 103.6h0M54.1 105h0M50 90.2h0M51 105h0M55.5 99.5h0M50.2 102h0M52.1 90.1h0M51.9 89.7h0M53.4 103.7h0M52.5 94.8h0M53.7 93.6h0M51.3 97.1h0M48.4 82h0M51.6 99.5h0M53.5 104.6h0M52.5 79.2h0M49.5 84.2h0M54.1 91.8h0M52 98.8h0M50.5 101.7h0M49.3 101.9h0M47.9 101.2h0M51.9 86.5h0M57.8 92.5h0M51.1 92.7h0M52.1 105.8h0M51.5 88.2h0M47.8 101.9h0M55.5 104.4h0M55 103h0M49.2 71.4h0M55.4 88.1h0M57.2 77.6h0M51.6 90.6h0M54.3 87h0M52.7 89.7h0M50.8 76.7h0M50.4 98.8h0M49.6 88.4h0M51 80.7h0M55.1 84.2h0M56.9 105h0M56.1 76.8h0M56.7 85.1h0M54.4 102.9h0M54.9 84.4h0M48.1 103.4h0M48.2 99.7h0M47.7 103h0M54.8 104.1h0M48.4 100.1h0M52.3 76.5h0M53 75.9h0M53.5 83.5h0M52.8 97h0M51.3 98.8h0M47.9 84.9h0M52.7 103.9h0M56.6 95.1h0M51 98.3h0M56.6 105.7h0M48.3 89.6h0M50.7 69.8h0M50.5 93.3h0M54.1 95.6h0M50.4 76.9h0M56.9 93.8h0M49.2 85.6h0M50.8 95.3h0M50.4 92.2h0M48.7 94.7h0M54.3 94.7h0M54.1 81.8h0M48.7 93h0M56.5 95.7h0M48.6 92h0M57.9 103.1h0M53.5 89.1h0M50.8 87.2h0M47.8 104.4h0M57.1 95.1h0M51.8 95.7h0M55.8 103.8h0M50.2 102.7h0M54.8 104h0M51.9 101h0M49.8 97.8h0M49 102h0M51.1 104.3h0M57.3 91.2h0M57.9 90.5h0M54.9 102.4h0M48.6 87.6h0M51 87h0M53.8 85.7h0M54 68.8h0M55 96.3h0M52.3 81.4h0M52 88.4h0M52.3 91.8h0M51.2 98.3h0M56.2 96.6h0M54.9 87.1h0M48 92.5h0M56.7 93.8h0M50.8 106h0M50.1 85.4h0M51.3 105.5h0M52.4 90.2h0M56.8 84.6h0M56 99.7h0M57.1 102.6h0M57.4 87.5h0M57.8 103.7h0M57.6 100h0M51.7 100.1h0M49.7 100.5h0M51.2 88.1h0M55.5 91.6h0M58 101.3h0M57.2 101h0M51 95.3h0M55.5 88.4h0M48.8 94.1h0M54.8 99.2h0M58 76.7h0M48.3 93h0M48.3 101.4h0M54.7 101h0M51.7 100.2h0M53.1 89.4h0M48.2 97.2h0M49.6 99h0M55.2 87.4h0M49.9 95.2h0M57.5 80.1h0M54.7 103.6h0M48.3 93.7h0M57.3 96.1h0M57.1 66h0M50.2 92.1h0M49.5 88.3h0M55.9 98.3h0M54 72.6h0M50.9 100.9h0M50.1 93.1h0M48.2 104.9h0M52.3 104.1h0M58.1 76h0M52 99.4h0M51.3 105h0M50.2 102.5h0M51.5 81.4h0M50.1 99.8h0M54.5 100.7h0M56.8 89.1h0M52.4 75.5h0M54.4 91.5h0M52.7 101.2h0M55.8 104h0M49.5 104h0M55.6 87.5h0M53.9 95.6h0M53.9 92.4h0M52.5 95.5h0M49.7 101.4h0M47.6 89.3h0M56.9 102.6h0M50.4 87.4h0M56.1 102.1h0M55 93.8h0M48.2 67.4h0M50.6 83.1h0M48.3 81.9h0M56.6 95.5h0M49 97.1h0M50.6 105.4h0M54.2 93.9h0M58.1 92.9h0M51.6 87.8h0M52.8 97.2h0M51.4 91.1h0M48.2 102.7h0M51.2 92h0M51.6 100.6h0M49.9 83.5h0M50.2 94.7h0M52.7 94.7h0M55.2 97.8h0M49.4 92.2h0M56.7 88.7h0M50.2 97.5h0M55.8 104.6h0M56.4 104.2h0M51.9 73.1h0M47.6 89.3h0M57.9 86.7h0M57.6 104.2h0M57.2 77.2h0M56.2 85.6h0M51.4 100h0M49.5 89.8h0M56.1 63.8h0M48.9 94.3h0M51.5 104.9h0M54 92.8h0M48.1 70h0M51.4 90.8h0M54.1 79.9h0M52.2 98.6h0M48.9 99.2h0M49.5 103.8h0M55.9 85.5h0M49.4 94.2h0M56.1 83.9h0M47.9 88.4h0M57.2 94.4h0M50.3 83.2h0M56.5 74.4h0M48.9 92.3h0M53.1 87.9h0M49.4 103.4h0M54.5 93.5h0M47.5 104.1h0M55.2 93.6h0M57.8 76h0M54.2 95.3h0M53.2 87.4h0M55.3 94.3h0M48.1 78.5h0M50.7 79h0M55.2 79.6h0M53.2 84.5h0M49.4 98.8h0M49.3 84.9h0M57.2 83.5h0M47.9 102.3h0M55.9 97.8h0M50.8 98.9h0M54.5 83.1h0M55.5 77.8h0M50.1 97.2h0M55.6 85.8h0M54.3 102.1h0M52.9 97.7h0M49.8 94.7h0M54.2 70h0M51.4 99h0M54.1 89.8h0M53.3 98.5h0M49.4 98.4h0M48.4 95.3h0M49.2 94.1h0M53.8 85.7h0M50 100.1h0M56.9 82.9h0M56.9 81.3h0M55.2 92.5h0M50.6 104.2h0M52.1 94.4h0M56.5 90.9h0M51.1 93.4h0M54 99.1h0M50.6 95.4h0M49.5 105.5h0M48.7 79.5h0M49.7 104.7h0M49 85.1h0M48.5 99.8h0M53.6 94.2h0M57.8 98.8h0M50.2 96.7h0M52.9 68.5h0M53.1 102.8h0M56.7 84.6h0M52.3 76.5h0M49 71.5h0M51.6 74.2h0M49.5 94.8h0M54.4 98.3h0M54 100.3h0M55.4 103.1h0M55.8 105h0M50.1 94.5h0M50.4 99.3h0M56.6 67.8h0M50.8 76.9h0M48.4 75.1h0M52.6 99h0M50.2 98.7h0M49.4 87.6h0M49.1 64h0M51.3 90.7h0M56.2 104.3h0M48.9 96h0M50 101h0M49.3 91.3h0M57.4 104.1h0M54.1 97.6h0M56.8 71.9h0M53.6 83.6h0M48.3 85.7h0M48 86.5h0M55.4 101.9h0M57.9 77.7h0M48.2 99.9h0M53.1 77h0M57.7 89.1h0M48.4 96.8h0M52.1 88.7h0M50.5 85.7h0M50.2 106.1h0M52.8 103.6h0M49.1 96.5h0M55.3 90.5h0M52 104.3h0M49.5 90.2h0M51.7 94.8h0M49.6 93.3h0M53.6 94.4h0M52.5 95.3h0M57.3 103.8h0M48.1 90h0M55.8 93.4h0M57.4 83.8h0M49.7 69.5h0M48.3 97.3h0M48.9 96.7h0M54.2 93.6h0M49.4 100.9h0M51.1 82.4h0M54.7 84.5h0M52.3 99.1h0M55.3 86.5h0M57.8 103.6h0M57.5 93.6h0M47.5 101.1h0M53 70.7h0M47.8 104.5h0M49.5 100.2h0M50.6 98.7h0M49.6 104.4h0M52.4 60.8h0M49.3 100h0M49.5 96.8h0M50.7 99.6h0M54.9 94.7h0M53.4 102.1h0M49.7 84.2h0M48 90.5h0M58 103.4h0M47.9 95.1h0M53.1 100.5h0M49.3 97.2h0M52.3 92.4h0M56.3 104.8h0M48.9 92.7h0M55 100.2h0M50.2 105.3h0M55.9 102h0M52.4 101.3h0M57.4 94.3h0M52.6 89.3h0M58 87.6h0M49.4 95.6h0M55 87.5h0M51.4 83.5h0M50.6 102.8h0M56.8 86.4h0M53.8 57.9h0M49.5 77.9h0M50.8 90.6h0M52.9 99.2h0M57.7 68.2h0M48.7 99.4h0M51.7 101.3h0M57.5 101.6h0M52.6 91.5h0M47.8 99h0M50.3 93.5h0M54.7 100.2h0M53.9 105.5h0M50.3 96.6h0M50.3 95.9h0M53.2 82.8h0M48.7 95.4h0M57.1 90.2h0M51.4 62.9h0M49 89.9h0M51.5 86h0M55.7 97.8h0M51.3 81.6h0M55.6 103.2h0M49.2 95.1h0M56.7 88.8h0M57.8 78.8h0M57.4 88.5h0M54.2 105h0M49.2 97.4h0M51.6 94.5h0M52 88.9h0M56.3 95.2h0M48.1 94.2h0M49.3 95.6h0M52.4 93.3h0M48 95h0M57.4 88.7h0M53.7 91.2h0M57.3 84.6h0M57.8 74.1h0M51.9 77.8h0M48.6 94.4h0M56.7 79.9h0M56.9 98h0M51.7 73.9h0M51.2 99.6h0M47.6 83.8h0M48.6 74.9h0M54.6 100.9h0M49.2 72.4h0M52.3 88.2h0M57.5 101.5h0M48.7 95.8h0M56.4 103.6h0M48 100.5h0M52.1 86.2h0M50.9 80.9h0M48.1 67.8h0M48.5 78.6h0M48.4 93.6h0M51.3 64.8h0M51 79.6h0M54.6 96.2h0M54.2 104.6h0M53.6 99.6h0M52.6 99.4h0M50.6 103.5h0M52.3 79.9h0M50.5 88.2h0M48.5 88.9h0M50.5 80.4h0M56.1 101.3h0M54.3 79.1h0M48.7 100.6h0M49 69.2h0M51.9 102.1h0M49.1 101.4h0M55.1 103.2h0M57.8 54.5h0M55.3 100.3h0M54.4 71.2h0M48.4 86.7h0M57.5 86.5h0M53.8 88.7h0M50.2 60.7h0M55.6 102.5h0M56.5 90.7h0M48.5 80.8h0M58 89.1h0M51.1 94.1h0M56.6 102.8h0M49.8 97.6h0M56 92.8h0M48.5 86.2h0M52.7 82.3h0M50.3 84.9h0M56.9 100.7h0M49.6 86.7h0M50.2 64.4h0M53.1 91.3h0M55.1 98.7h0M55.7 98.1h0M57.9 83.5h0M51.1 77.8h0M52.7 90.8h0M49 105.3h0M50.3 104.9h0M57.4 102.5h0M57.5 100.5h0M49.6 101.6h0M50.1 92.3h0M54.4 87h0M51.4 96.1h0M55.1 89.3h0M52.4 76.1h0M53.9 94.2h0M50.8 89.7h0M52.3 94.4h0M48.4 97.1h0M56.9 96.3h0M49 78.3h0M56.9 89.1h0M50.8 102.6h0M53.8 100.2h0M54.9 98.4h0M49.6 93.8h0M55.2 98.5h0M54.8 78.8h0M50 97.6h0M56.2 105.3h0M51.2 88.5h0M52.5 89.7h0M52.4 91.9h0M53.3 98.9h0M55.6 97.3h0M51.6 96.7h0M54.6 92.7h0M49 94.5h0M48.8 66h0M53 96.8h0M56.1 88.9h0M51.4 98.9h0M57.4 100.3h0M54.9 89.1h0M51.9 99.2h0M53.4 104.1h0M54.4 67h0M56.5 99.6h0M57.1 103.8h0M49.3 93.5h0M52.2 91.1h0M58 73.7h0M53.3 89.9h0M48.5 80.1h0M55.2 68.1h0M48.7 94.1h0M50.1 77.4h0M54.3 82.4h0M50.2 79.7h0M52.6 91h0M51.4 86.8h0M52.4 75.3h0M56.2 103h0M52.7 102.1h0M54.4 93.9h0M49.2 85h0M52.8 86.3h0M57 104.4h0M47.9 83.1h0M56.1 87.3h0M56.9 99.7h0M53.2 83.9h0M55.1 93.2h0M55.5 85.1h0M47.8 102.9h0M49.8 65.7h0M57.5 87.9h0M55.9 96.5h0M51.2 95.2h0M55.8 95.1h0M57.7 87.6h0M50.8 90.3h0M48.9 103.2h0M53.8 95.6h0M57.8 104.3h0M48.1 93.7h0M50.1 95.6h0M56.2 92.3h0M56.3 83.3h0M49 88.1h0M57.9 50.1h0M48.4 91.1h0M49.6 104.9h0M53.1 100.2h0M53.9 97.8h0M56.1 93.7h0M49.6 96.7h0M55.1 105.2h0M55.2 106h0M48.3 82.3h0M51.4 100.9h0M50.4 79.7h0M53.2 85h0M51.9 91.4h0M56.1 102.3h0M49.1 89.6h0M55.3 96.6h0M52.7 101.7h0M55.6 88.4h0M56.5 102.5h0M53.4 92.4h0M53.4 101.2h0M53.7 49.9h0M52.8 101h0M49.2 73.4h0M50 104.3h0M56.1 99.2h0M55.1 101.6h0M54.9 104h0M55.9 71.2h0M48.6 100.8h0M47.8 98.9h0M49.3 105h0M48.9 75.8h0M47.8 105.4h0M50.2 87.1h0M57.5 92.1h0M49.6 98.1h0M52.5 92.4h0M56.3 98.3h0M55.2 100.2h0M56.8 87.1h0M49.3 80.3h0M55.5 97.5h0M49.8 101h0M57 104h0M47.9 104.4h0M57.3 96.7h0M48.1 100.7h0M53 86.7h0M48.6 92.6h0M52.4 92.9h0M57.3 101.2h0M48.5 100.8h0M51.5 94.5h0M51.2 93.9h0M51.2 96.2h0M48.9 92.5h0M53.4 100.5h0M50 105.3h0M56.5 100h0M49.2 85h0M53.8 89h0M58 93h0M54.4 103.2h0M56.3 93h0M50.5 84.4h0M53.3 100.5h0M50.2 80.4h0M51.3 102.7h0M53.7 97.6h0M55.5 102.3h0M56.9 93.2h0M49.1 97.3h0M54 87.9h0M49.2 92h0M48.7 88.6h0M52.2 87.1h0M52.3 92.4h0M50.2 65.1h0M53.6 104.7h0M56.6 81h0M48.6 71.8h0M51.5 97.5h0M52.5 85.6h0M48.2 94.7h0M52 93.4h0M53.4 87.6h0M50.1 94.5h0M47.6 103h0M57.5 96.3h0M52.9 104.5h0M57.2 100h0M51 98.2h0M54.6 97.8h0M51 64.8h0M48.9 75h0M56 57.7h0M50.8 91.1h0M57.2 102.9h0M51.8 101.1h0M49.5 86.8h0M55 83h0M48.9 104.3h0M55.9 102.2h0M53.7 104.5h0M57.8 90.6h0M57.3 93.2h0M54 80.2h0M49.2 82h0M49.4 83.8h0M51.3 100.8h0M52.9 79.6h0M52.5 68.9h0M49 99.7h0M57.4 89.6h0M56.5 102.6h0M57.2 97h0M49.9 95.8h0M51 88.5h0M50.5 103.8h0M54.3 87.1h0M48.8 92.7h0M52.5 93h0M55.1 96.5h0M51.7 96.2h0M55.5 104.3h0M53.6 80.2h0M54.3 97.2h0M55 96.9h0M54.7 106.1h0M49.6 90h0M53.2 56.6h0M48.9 72.5h0M50 82.4h0M48.8 53.3h0M55.2 93.3h0M54.3 95.1h0M49.2 103.2h0M53.8 102.8h0M56.7 100.2h0M47.5 90h0M51.5 99.9h0M53.5 72.1h0M57.9 80.6h0M49.3 51.3h0M52.2 103.7h0M54.6 99.3h0M57.4 72.9h0M53.6 100.8h0M51.7 99.8h0M49 81.6h0M56.2 87.5h0M48.1 102.1h0M53.2 105h0M50.9 104.3h0M56.8 87.2h0M55.3 95.9h0M55.9 100.7h0M56.6 96.7h0M57.5 100.4h0M57.3 95.7h0M50.3 75.6h0M47.9 105.4h0M47.9 93.6h0M53.4 87.5h0M56.5 100.9h0M56 98.4h0M54.9 86.4h0M48.2 90.6h0M52.7 69h0M55.4 90.3h0M50.6 99.1h0M48.8 98.2h0M54.7 93.9h0M55 97.2h0M51.3 105h0M54.5 71h0M52.4 98.2h0M57.8 78.3h0M52.9 101.4h0M49.1 91.4h0M49.2 95.9h0M53.5 69.9h0M51.7 105.5h0M47.9 101.6h0M57.6 87.7h0M56.2 93.8h0M52.5 98.5h0M52.1 83.7h0M50.8 95.6h0M56.1 71.3h0M52 89.4h0M50 70.9h0M49.9 91.1h0M51.9 99.1h0M55.6 96.4h0M57.1 101.5h0M56.1 96.4h0M57.7 88.5h0M56.7 103.4h0M48.2 87.4h0M48.5 103.7h0M55.1 93.2h0M54.4 92.3h0M50 81.8h0M55.9 80.5h0M56 89.2h0M48 101.4h0M55.9 90.6h0M55.5 103.8h0M49.1 100.3h0M56.8 89.2h0M54.3 104.1h0M55.5 96.8h0M50.8 102.7h0M51.1 102.6h0M53.8 70.4h0M51.2 48.8h0M55.9 54.2h0M52.9 59.7h0M49.5 64.9h0M55.7 65.5h0M49.8 67.4h0M56.8 64.8h0M49.2 51.5h0M56.1 58h0M55.4 53.1h0M49.5 60.4h0M55.2 69.6h0M52.7 74.3h0M51.9 65.5h0M57.1 59.8h0M50.2 62.6h0M55.5 58.5h0M48.9 33.7h0M47.7 53.7h0M52.1 71.9h0M56.6 43.6h0M55 65.7h0M51.9 48.5h0M56.3 67.2h0M53.7 73.1h0M55.1 48.4h0M56.5 41.5h0M47.8 67.1h0M54.3 45.4h0M48.3 50.1h0M47.8 55.2h0M48.5 72h0M49.8 55.5h0M47.5 31.7h0M54 51.4h0M49.6 56h0M52.8 69.4h0M56.9 68.6h0M54.4 60.4h0M49.3 68.9h0M52.9 47.3h0M53.6 57.4h0M49.5 70.2h0M50.7 42.7h0M54.4 71.9h0M51.7 75.3h0M56.4 69.6h0M48.4 67.5h0M55.7 64.4h0M56.7 75.5h0M53.9 64.1h0M50.4 73.3h0M56.5 62.1h0M53.3 55.8h0M50.1 42.9h0M49.3 60.7h0M53.1 45.6h0M48 49.8h0M57 60.7h0M53.3 74.4h0M52.4 69.8h0M52.9 48h0M48.8 66.3h0M55.5 65.2h0M54.8 70.2h0M55.3 64.2h0M50.7 48.5h0M52.4 52.5h0M54 65.2h0M52.9 41.8h0M53 47.9h0M55.6 70.1h0M49.5 67.4h0M49.2 57.2h0M48 68.1h0M57.4 68.4h0M54.6 35.8h0M53.2 68h0M53 52.5h0M52.5 71.6h0M56.4 53.1h0M56.1 70.2h0M56.8 68.4h0M56.3 38.2h0M49.7 67.6h0M56 30.5h0M54 71.2h0M55.2 62.6h0M52.2 72.6h0M49.6 64.5h0M51 65.6h0M57.6 54.4h0M48.1 55.8h0M51.9 58.5h0M56.2 67.7h0M56.6 54h0M55 55.1h0M54.9 69.3h0M54.4 65.4h0M56.9 71.2h0M51.8 37.1h0M51.6 64.3h0M50.9 43.5h0M56.7 58.5h0M48.2 75.3h0M52.1 64.1h0M48.6 63.6h0M56.6 50.4h0M52.7 56.6h0M53.1 72.4h0M57.2 52.2h0M57.8 31.7h0M54.1 55.4h0M55.2 70.3h0M55.3 61.9h0M56.6 61.2h0M53.7 67.8h0M56.9 55.5h0M54.7 68.3h0M50.4 45.8h0M51.1 50.3h0M56.4 73h0M48.8 47.8h0M48.2 67.1h0M54.9 72.7h0M50.1 38.4h0M49.9 47.4h0M49.7 53.2h0M51.6 67.4h0M52 72.7h0M57.8 67.6h0M48.4 73.7h0M53.8 62h0M55.7 49.9h0M54 55.8h0M50.3 68.3h0M56.3 48.3h0M50 57.8h0M56.1 56.3h0M50.7 37h0M49.7 73.7h0M49.7 57.4h0M53.9 71h0M57.6 57.1h0M55.7 50.3h0M49.5 49.5h0M54.9 57.5h0M55.6 72.1h0M56.8 54.2h0M55.4 65.1h0M51.3 55.8h0M56.6 58.2h0M49.4 63.4h0M54 67.9h0M54.7 54h0M50 72.6h0M48.9 72.6h0M57.9 64.6h0M55.3 50h0M57.7 52.1h0M54.3 66h0M55.2 68h0M50.3 67.1h0M55.9 61.2h0M48.1 67.2h0M48.4 68.2h0M57.3 31.4h0M49 63.8h0M53.8 51h0M49.1 55.6h0M56.6 69.9h0M50 60.8h0M57.4 71.9h0M52.1 68.2h0M50.9 59.2h0M52.9 56h0M49.1 55.2h0M52.2 51.8h0M48.4 64.1h0M50.2 51.8h0M52.4 68.3h0M53.5 71h0M51 64.8h0M53.3 62.3h0M55.8 55.9h0M54.9 57.9h0M49.4 30.7h0M52.2 38.8h0M50 63.9h0M52 48h0M49.6 50.3h0M56.1 74.1h0M56.1 56.6h0M50.5 71.9h0M57 65.5h0M47.5 71.1h0M52.9 62.9h0M53.9 69.4h0M48.6 52.2h0M50.1 60.3h0M54.5 58.3h0M50.8 36h0M56.6 70.4h0M50 44.2h0M48.7 65.3h0M50.2 59.7h0M49.4 71.1h0M54 58.8h0M52.8 62.8h0M53.4 61.7h0M48.5 67h0M56.5 49.9h0M54.1 69.9h0M50.3 41.8h0M52.3 71.3h0M52 60.5h0M55.1 52.8h0M56.4 70.3h0M48.2 72.3h0M52.8 32.3h0M53.7 58.6h0M54.3 67.3h0M48.8 48.9h0M56.1 65.7h0M47.5 74.1h0M52.8 63.4h0M55.6 31.9h0M53.8 38.9h0M47.7 48.1h0M57.7 59h0M48.6 68.6h0M54.3 65.9h0M51.4 50.3h0M49.5 65.3h0M49.8 65.6h0M57.9 71.6h0M56.8 72.3h0M52.4 63h0M55.9 46.5h0M57.6 70h0M57.3 68.5h0M53.1 44.4h0M57.6 47.9h0M51.2 65.2h0M57.7 48.3h0M52.3 70.6h0M47.8 71.9h0M51.9 74h0M47.9 59.8h0M47.9 63.4h0M57.8 66.4h0M50 53.7h0M48 67.8h0M52.9 63.1h0M50.3 68.8h0M56.2 68.1h0M53.1 73.6h0M57.7 62.4h0M55.7 67.5h0M54.5 36.4h0M51.1 67.4h0M55.5 61.4h0M57.8 68.7h0M48.3 64.5h0M51.5 66h0M52.4 60.5h0M57.4 42.7h0M57.1 47.8h0M49.9 51.5h0M53.4 71.8h0M53 56.1h0M47.6 64.7h0M53.1 68.9h0M50.9 46.1h0M52.9 72h0M51.3 63.9h0M51.9 70.2h0M50.6 60.3h0M52.4 64.7h0M54 58.3h0M53.8 42h0M47.7 71.2h0M51.8 67.5h0M51.1 41.3h0M53.1 43.5h0M55 66.8h0M57.2 50.4h0M51.5 60.9h0M49.5 67.5h0M51.6 45.3h0M48.7 57.4h0M56 54.4h0M48.6 69.7h0M56.3 68.3h0M50 46.2h0M53.7 70.1h0M49.5 63.1h0M49 72.5h0M57.6 56h0M57.8 51h0M50.8 67.1h0M53.7 72.6h0M51.3 59.5h0M49.9 51.9h0M48.4 73.9h0M57.5 65.8h0M57.8 70.6h0M50.2 44.6h0M47.9 66.6h0M54.8 74.5h0M49.2 63.9h0M50.4 44.5h0M48.6 69.7h0M50.2 59.8h0M48.4 67.6h0M49.1 60.5h0M56 71.8h0M48 65.5h0M54.1 48.2h0M52.6 50.5h0M56.4 65.2h0M50.4 69h0M48 52.9h0M55.1 42.7h0M49.3 68.2h0M55.4 50.5h0M48.4 56.8h0M52.2 49.7h0M53.4 64.7h0M55.6 49.7h0M53.4 63.7h0M49.7 49.1h0M52.9 73.8h0M53.1 42.5h0M54.1 67.3h0M54.5 56.9h0M52.1 64.8h0M47.8 49.8h0M54.2 61.2h0M54.6 74.7h0M50.4 71.9h0M56.4 61.8h0M54 35.9h0M52.9 70.2h0M50.1 61.9h0M48.4 69.6h0M54 52.9h0M51.9 32.9h0M48.2 59h0M51.7 65.7h0M53.9 75.3h0M53.7 72.6h0M52.9 52.2h0M48.1 56.2h0M54.9 52.5h0M53.5 45h0M49.4 33.9h0M57.3 75h0M50.9 69.3h0M52.2 75h0M49.8 57.2h0M54.4 39.2h0M48.1 49.4h0M56.3 61h0M56.6 70.4h0M54.8 74.1h0M49.9 71.7h0M57.9 37.1h0M55 67.2h0M51.2 64.8h0M50.8 49.2h0M56 63.4h0M55.9 66.5h0M49.2 55.8h0M55.4 73h0M61.3 95.8h0M61.9 82.1h0M64.9 81.1h0M61.7 97.1h0M61.1 105.8h0M70 105.4h0M65.2 105.3h0M66.4 101.8h0M64.8 102.9h0M70.7 93.3h0M69.9 62.8h0M61.7 102.8h0M69.7 96h0M66.1 62.8h0M60.5 96.5h0M66.4 84.6h0M61.4 105.7h0M60.7 99.8h0M64.6 77.2h0M63.4 97.6h0M70 103.6h0M65.2 91.8h0M66.2 101.1h0M60.5 94.3h0M69.9 96.5h0M61.7 84.2h0M68.7 84.8h0M69.4 91.7h0M65.1 82.3h0M63.6 82h0M66.1 92.9h0M65.4 105.9h0M60.7 96.2h0M60.5 74.8h0M65.2 94.3h0M70.1 86h0M63.6 91.9h0M61.7 92.8h0M68.7 96.6h0M60.4 77.1h0M63.4 96.5h0M69.3 83.3h0M70.4 82.6h0M62.2 95.7h0M69.2 89.3h0M68.9 103.9h0M70.7 76.6h0M64.5 85.9h0M68.3 100.9h0M64.9 96.7h0M68.7 89.7h0M69.3 60.8h0M62.8 95.7h0M68.7 100.9h0M60.8 101.1h0M66.3 88.4h0M67.8 95.1h0M68.9 96.3h0M63.1 95.8h0M63.2 88.9h0M68.6 87h0M64.3 82.6h0M61.7 87.1h0M67.7 85.2h0M61.3 75.2h0M70.8 105.7h0M69.6 88.6h0M65.8 68.6h0M62.5 80.5h0M68 89.7h0M66.2 82.9h0M70 103.4h0M66.4 66.5h0M61.7 103.2h0M69.1 105.6h0M62.9 100.7h0M66.5 86.9h0M69.3 83.3h0M67.5 102.5h0M64.3 102.3h0M62.7 105h0M68.3 90.5h0M62.4 104.4h0M70.5 93.4h0M67.3 83.7h0M61.7 87.9h0M66.4 90.5h0M63.4 93.6h0M70.2 81.3h0M64 92.1h0M65.1 71.2h0M65.2 101.5h0M66.4 92.4h0M67 93.2h0M64 84.4h0M61.1 95.4h0M65.6 97.3h0M68.1 85.1h0M61.2 102.7h0M65.7 86.7h0M66 88.4h0M65.4 98.6h0M70 87.8h0M69.4 100.3h0M68.6 79.4h0M62 89.4h0M66.8 85.3h0M66.3 104.6h0M62.7 89.2h0M68.7 106h0M70.1 95.5h0M67.8 84.2h0M66.3 97h0M62.5 98.9h0M62.1 81.1h0M69.1 102.6h0M70.3 90.5h0M70.3 102.5h0M66.9 83h0M68.3 87.2h0M61.9 90h0M66.6 89.3h0M63.1 76.6h0M67 92.4h0M69.5 86.4h0M69.2 104.8h0M69.2 90.3h0M66.2 96.2h0M67.8 99.9h0M70.3 84.4h0M69.1 98h0M69.7 97.6h0M62.5 103.2h0M62.2 85.3h0M62.4 88h0M68.9 101.9h0M64.5 90.6h0M70.1 91.9h0M68.4 102.2h0M60.3 89.2h0M61.3 84.4h0M70.6 89.2h0M61.9 100.9h0M62 105.5h0M65.3 99.5h0M61.8 98.6h0M65.4 96.7h0M60.4 83.8h0M65.4 102.4h0M66.5 94.8h0M68.9 104.5h0M65.7 61.7h0M68.6 77.5h0M60.6 95.4h0M67.5 71.6h0M61.5 94.5h0M60.9 97.4h0M64.4 96.1h0M70.7 96h0M67.5 75.4h0M69.4 82.5h0M61.7 93.3h0M60.7 73.3h0M69.1 103.8h0M64.9 92.9h0M60.4 87.1h0M66.1 102.1h0M64.1 86.4h0M62.6 97.5h0M62.5 81.1h0M64.2 95.5h0M70.5 102h0M70 101.9h0M64.3 84.9h0M64.3 89.8h0M61.7 74.4h0M68.4 89.1h0M62.2 101.4h0M63.5 99h0M69.7 98.6h0M61.3 103.7h0M63.4 98.8h0M65.9 96.2h0M68 86.1h0M68.1 99.9h0M69.7 84.7h0M61.5 81.2h0M64.1 105.7h0M69.7 80.3h0M62.6 95.4h0M69 100.1h0M62.3 98.4h0M66.2 105.1h0M61.2 88.3h0M65.4 99.4h0M64.2 66.1h0M60.4 89.7h0M68.8 97.6h0M66.3 90.7h0M64.3 83h0M63.7 96.3h0M61.6 91h0M62.2 93h0M70.8 92h0M65.6 90.7h0M68.7 93h0M60.9 76.7h0M68.7 84.9h0M66.7 94.3h0M68.1 75.6h0M63.5 95.5h0M68.1 100.3h0M67.3 101.4h0M63.8 89.7h0M66.7 91.3h0M63.5 78h0M66.4 103.7h0M70.4 91.2h0M64.3 103.6h0M70.7 95.1h0M69.1 86.1h0M64.1 75.5h0M70.7 102.1h0M64 52.5h0M67.3 91.3h0M61.5 92.8h0M66 100.1h0M68 100.7h0M60.5 95.2h0M63.6 102.4h0M64.4 104.2h0M67.5 105.2h0M61.8 89.6h0M64.2 94.2h0M65.1 64.9h0M60.5 77h0M68.7 95h0M64.6 93.7h0M65.3 95.3h0M66.3 92.9h0M66.9 88.5h0M64.1 88.7h0M68.2 100.4h0M63.5 103.3h0M67.2 98.8h0M62.6 78.4h0M64.6 72h0M66.5 86.9h0M65.3 83h0M66.6 67.7h0M60.7 79.1h0M68.4 82.6h0M68.4 91.4h0M70.1 84.4h0M61.9 98.9h0M60.3 89.2h0M65 99.1h0M60.6 100.1h0M68.4 95.8h0M70.7 95.3h0M67.3 91.1h0M62.2 104.9h0M64.3 98.8h0M69.2 85.3h0M61.9 83.6h0M66.1 90.4h0M64.7 93.3h0M69.7 83.2h0M66.8 85.7h0M66.4 84h0M60.8 105.3h0M68.3 84.9h0M61.4 104.1h0M66.9 95.2h0M69.2 98.3h0M68.8 99.1h0M67.3 82.6h0M66.2 87.5h0M66.8 99.9h0M60.5 102.9h0M69.9 97.4h0M66.9 101.1h0M67 98.1h0M65.2 79h0M63 63.8h0M64.1 95.5h0M62.3 105.3h0M69.1 85.6h0M62.2 66.5h0M67.6 87.3h0M62.2 100.1h0M68.7 93.5h0M62.8 72.2h0M65.1 93h0M68.8 84.8h0M69.7 99.5h0M68.8 84.5h0M60.7 90.6h0M62.5 75.1h0M66.6 98.2h0M70.7 95h0M65.5 102.1h0M67.7 91h0M64.7 87.7h0M65 88.3h0M70.6 99.9h0M65 103h0M66.3 97.9h0M66.6 99.8h0M60.9 63.7h0M60.6 90.1h0M66.2 91.4h0M62.5 84.8h0M66.1 100.8h0M69.8 86.3h0M67.8 96.9h0M67.7 104.3h0M69.7 84.1h0M66.5 68.7h0M65.1 93.9h0M69 89.4h0M65.7 56.1h0M67.9 93.4h0M62.6 103.7h0M69.1 93.7h0M70.1 97.3h0M64.6 76.3h0M66.6 98.2h0M66.3 81.5h0M65 105h0M70 105.1h0M68.7 90.5h0M60.6 87.7h0M63.2 80.9h0M69.6 96h0M67.6 94.9h0M62.1 99.8h0M66.8 105.3h0M65.3 101.4h0M65.2 98.3h0M67.1 93.6h0M64.1 105.7h0M67.3 68.8h0M64.9 101.6h0M61.2 78.9h0M65 86.6h0M70.2 85.3h0M64.2 92.9h0M69.9 97.1h0M70.6 84.5h0M70.4 92.9h0M64.4 94.3h0M68.9 75.2h0M62.6 101.3h0M70.4 84.6h0M66.4 104.4h0M64.5 87.8h0M63.2 72.7h0M69.1 92.1h0M63.5 88.2h0M65.4 82.5h0M63.2 65.5h0M70.4 76.1h0M62.3 102.4h0M61.1 89.6h0M69 88.3h0M63.2 68.6h0M68.4 90.1h0M66.3 103.6h0M63.4 89.1h0M70.8 101.9h0M61.5 89.5h0M61.5 89.9h0M64.5 93.2h0M65.7 90.2h0M61.3 88.7h0M61.4 103.8h0M70.7 105.2h0M61.7 89.2h0M69.7 75.3h0M64.8 87.1h0M62.5 93.6h0M65 101.9h0M62 99.8h0M66.1 87.1h0M68.6 105.3h0M65.1 102.6h0M68.2 92h0M67.2 81.1h0M61.5 104.7h0M69.9 95.6h0M64.1 93.9h0M67.1 95.4h0M64.7 90.5h0M64.9 94.8h0M69.3 100.6h0M62.3 92.5h0M65.6 86.3h0M64.7 75.1h0M61.7 104.4h0M63.8 89.2h0M70.8 82h0M64.5 99.4h0M70.1 71h0M66.1 102h0M67.7 103.5h0M62.4 93.8h0M67.3 83.9h0M64 95.9h0M65.4 96h0M68.4 93.7h0M70.3 76h0M69.3 94.1h0M60.5 99.4h0M68.4 101.6h0M67.1 99h0M63 91.4h0M64 97.8h0M70.2 84.8h0M69 96.3h0M66.3 104.5h0M63.2 91h0M69.7 86.4h0M66.1 97.4h0M62.6 102.4h0M62.7 96.9h0M69 104.7h0M68.5 76.8h0M64.5 90.8h0M60.4 101.5h0M68.1 101.5h0M60.9 87.3h0M68.6 103.4h0M67.4 102.3h0M69.3 93.9h0M66.3 103.9h0M61.4 91h0M66.2 95.7h0M61.2 89.6h0M69.5 92.1h0M61 82.1h0M67.1 73.4h0M70.3 79.1h0M62.7 84.6h0M68.7 92.5h0M69.8 98.7h0M62.5 85.6h0M69.3 87.9h0M63.2 93.5h0M65.9 83.3h0M64.1 101h0M60.4 88.7h0M68.2 97.1h0M63.4 85.7h0M70.5 73.2h0M60.7 104.2h0M60.6 100h0M66.3 106h0M65.5 102.2h0M63.6 73.1h0M62 102.8h0M68.7 98.8h0M60.9 94.9h0M61.7 98.5h0M62 86.1h0M65.7 100h0M69.4 92.4h0M63.2 103.2h0M67.1 75.8h0M63.1 89.4h0M69.7 98.9h0M65 88.1h0M61.7 93.4h0M64.4 49.6h0M62.7 102.2h0M60.7 66.6h0M69.2 92.2h0M66.3 105.7h0M64.2 95h0M63.7 103h0M70.8 100.4h0M69.5 88.8h0M70.3 73.2h0M62.7 93.7h0M67.2 69h0M68.8 102.4h0M62 95.8h0M62.1 101h0M68.1 64.2h0M62 100.9h0M62.3 92.9h0M61.7 91.8h0M63.5 83.8h0M62.4 74.4h0M63.4 97.7h0M62.8 97.5h0M63.8 105.3h0M63.6 92.4h0M68.2 97.4h0M65.5 98.8h0M69.4 72.9h0M67.3 83.9h0M67.5 105.8h0M65.4 80.6h0M66.6 100.1h0M64.5 89.1h0M62.2 104.1h0M66.8 77.2h0M66.4 76.3h0M63.9 79.6h0M69.2 88.3h0M62.5 92.4h0M62.5 90h0M66 82.5h0M64.8 99.4h0M67.5 99.6h0M64.7 66.7h0M61.5 95h0M63.9 101.5h0M67.2 88.4h0M70.5 76.7h0M69.8 94.6h0M68.5 61.3h0M61.2 89.5h0M70 101.8h0M70.3 105.6h0M62.4 58.2h0M68.2 94.7h0M66.8 68h0M62.3 90.5h0M64.3 66.6h0M61.6 98.2h0M70.4 102.9h0M63.1 87h0M65.9 98h0M61.9 96.6h0M70.5 104.3h0M66 104.6h0M65.3 98.8h0M63.8 59.2h0M68.5 98.1h0M65.7 96.8h0M69.4 89h0M60.5 100h0M69.8 86h0M65.8 100.1h0M65.6 105.1h0M67.6 100h0M61.6 98.4h0M63.6 83.5h0M66.7 80.3h0M60.7 96.7h0M69.5 77.5h0M65.8 94.9h0M63.8 94h0M70.4 98.8h0M68.3 85.8h0M65.5 79.8h0M61.1 97h0M65.1 104h0M68.7 82.9h0M67.5 63.7h0M62.2 78.1h0M63.7 86.4h0M62.3 101.7h0M62.8 92h0M60.7 88h0M69.9 104.5h0M65.7 82.1h0M66.2 98h0M65.1 71.1h0M68.6 102.6h0M69 96.6h0M64 103.4h0M64.4 58.9h0M63.6 102.7h0M67.6 86.1h0M69.2 96.5h0M66.5 105.4h0M62.9 91.8h0M70.8 93.1h0M65.3 91.2h0M62.1 85.1h0M68.9 95.2h0M60.8 97.6h0M67.7 101.9h0M61.7 78.9h0M63 93h0M61.9 97.5h0M65.7 94.1h0M66.5 104.3h0M67.7 59.7h0M67.4 103.5h0M62.4 78.9h0M63.5 102.3h0M65.7 94.3h0M68.9 76.2h0M70.8 82.5h0M63.5 89.5h0M70.4 75.7h0M61.3 93.2h0M69.6 100.3h0M70.1 91h0M68 85.2h0M66.1 106.2h0M70.6 100.5h0M69.5 100.6h0M65.7 75.8h0M65.7 89.7h0M65.5 103.1h0M65.5 89.5h0M67.5 104.9h0M61.1 83.3h0M63 95.5h0M64.8 69.5h0M63.7 87.3h0M70.3 103.3h0M60.3 75h0M66.5 59.1h0M62.6 101.2h0M61.6 77.6h0M62.2 96.8h0M67.4 90.4h0M67.7 91.3h0M66.4 99.7h0M61.1 86.7h0M69.3 92.6h0M65.7 101.1h0M68.2 80.8h0M66.5 95.3h0M63.3 102.9h0M61.5 92.1h0M63.3 81.7h0M61.1 98.6h0M63.8 90.4h0M69.2 92h0M65.9 91.2h0M66.8 87.7h0M60.9 73.3h0M64.8 95.9h0M63.9 103.4h0M69 99.6h0M68 99.7h0M65 94.8h0M67.4 96.8h0M60.6 97.8h0M64 103.5h0M65 91.1h0M60.4 84.5h0M61.1 93.5h0M63.1 68.2h0M69.8 78.9h0M63 77.4h0M63.8 58.3h0M65.4 63.8h0M63.8 46.3h0M64.7 82h0M63.3 65.5h0M69.6 79.1h0M69.2 66.1h0M67.6 72h0M62.5 73.4h0M67.6 71.4h0M66.5 38.5h0M60.7 65.5h0M69 47.5h0M63.6 55.5h0M65.5 76.9h0M67.4 75.2h0M68 78.6h0M61.9 67.8h0M64.3 42.6h0M69.7 59.7h0M69 75.2h0M70.2 78.5h0M67.5 50.2h0M70.4 83h0M62.6 66.5h0M64.5 59.5h0M70.2 63.7h0M66.5 68.4h0M64.4 73.4h0M65.3 61h0M67.7 63.4h0M63.8 60.9h0M63.5 62h0M61.4 64.3h0M62.3 59.3h0M63.8 74.3h0M67.7 73.4h0M61.5 63h0M66.1 61.2h0M64.4 79.6h0M67.4 80.6h0M68.2 65.6h0M69.1 66.3h0M65.2 71.5h0M70.2 53.4h0M62.5 46.8h0M70.2 70.9h0M60.5 64.4h0M64.4 55.3h0M68.6 56.6h0M61.5 63.7h0M69.3 50.9h0M70.3 44.6h0M63.4 66.2h0M70.4 76.9h0M66.7 82.8h0M65.2 62h0M66.9 76h0M69 77.5h0M69.5 69.7h0M64.9 81.1h0M61.8 75.7h0M65.4 71.7h0M66.9 53.7h0M68.5 74.6h0M64.7 61.8h0M69.8 68.9h0M67.9 68.8h0M70.6 60h0M69 68.5h0M70.7 74.7h0M65.8 61.4h0M68.8 77.1h0M61.5 67.4h0M61 76.4h0M65.9 75h0M62.1 50.7h0M65 75.3h0M70.7 55.5h0M65.2 68.5h0M64.2 74.7h0M66 64.5h0M64.8 44.3h0M61.1 72.2h0M66.1 46.7h0M69.2 77.6h0M63.5 70.1h0M67 69.3h0M62.5 81.9h0M70.8 40.9h0M65.8 71.2h0M67.2 64.8h0M61.7 79.3h0M63.6 62.5h0M70 59.5h0M65.7 55.6h0M66.7 72.1h0M70.3 63.3h0M64.7 76.9h0M64.4 45.2h0M68.5 81.1h0M66.8 60.4h0M66.9 51.4h0M65.5 36.7h0M68.1 74.6h0M70.5 63.2h0M67.6 74.7h0M67.9 47.6h0M67.9 75.7h0M69.3 54h0M64.9 81.4h0M64 51.1h0M61.2 75.8h0M65.6 71.5h0M68.2 64.7h0M67.8 83h0M66.3 80.9h0M65.1 58.4h0M61.3 56.5h0M67 75.5h0M69.8 77.2h0M61.9 55.6h0M62.5 77.3h0M69.7 64h0M67.6 69.5h0M67.6 75.4h0M70.5 73.3h0M62.2 76.6h0M70.7 74.4h0M65.4 53.8h0M68.3 73.9h0M62.9 81.8h0M68.4 80.3h0M68.5 43.6h0M65.4 81.9h0M60.7 82.6h0M64.3 72.6h0M68.6 63.9h0M65.9 77.4h0M62.2 81.4h0M64.9 76.3h0M64.3 40.8h0M64 60.9h0M69.6 76.8h0M69.1 80.2h0M61.1 82.4h0M62.3 65h0M60.6 77.5h0M62.8 59.4h0M62.4 65.7h0M66.2 78.7h0M63.4 69.1h0M69.1 76h0M70.8 56h0M66.5 73.8h0M70.5 62.1h0M62.1 74.9h0M69.9 81.4h0M70.6 71.4h0M66.6 76h0M63.4 50.3h0M61.1 79.4h0M66.5 75.5h0M67.3 75h0M63.8 79h0M66.4 59.7h0M60.4 65.7h0M66.9 51.5h0M66.1 66.9h0M68.8 77.2h0M63.6 69.3h0M67.3 81.5h0M61.4 80.2h0M62.7 70.2h0M61.7 38.7h0M70.5 63h0M63.9 64.4h0M62.9 76.9h0M62 62.4h0M63.1 63.6h0M67.1 82.4h0M63.5 44.5h0M64.9 77.2h0M67.7 47.6h0M63.1 59.3h0M70 64.6h0M65.6 48.2h0M64.8 71.2h0M63.9 67.1h0M69.9 61.9h0M76.4 90.1h0M81.3 92.2h0M78.5 93.7h0M73.1 94.5h0M77.6 98.5h0M74.9 92.9h0M76.8 94.4h0M76.5 91.5h0M78.2 94.8h0M81.1 86.5h0M78.9 97.9h0M73.9 79.5h0M82.1 95.6h0M79.7 82.1h0M82.1 86.1h0M77.1 92.2h0M73.8 82.5h0M76.5 96.6h0M74 89.5h0M83.1 96.4h0M75.9 92.1h0M79.9 97.8h0M80.8 81.3h0M82.3 90.6h0M74 97.2h0M78.1 90.1h0M73.1 96.6h0M77.8 88.2h0M81.2 89.9h0M82.9 99.4h0M79.1 92.7h0M81.1 91.8h0M83.4 94.6h0M74.4 92.9h0M75.6 88.5h0M75.7 91.6h0M76.1 98.5h0M75.9 97.2h0M78.2 90h0M77.7 95.1h0M75.1 92.1h0M73.1 92.3h0M80.5 87.8h0M83 95.7h0M77.6 97.8h0M76.4 87.6h0M80.6 92.2h0M74.6 90.3h0M75.3 93.1h0M78.3 90.5h0M82.2 94.7h0M78.5 99.1h0M79.1 81.8h0M82.7 94.3h0M76.8 94.3h0M74.5 92h0M73.7 94.2h0M74.4 97.9h0M76.5 91.1h0M80.2 94.5h0M78.1 98.7h0M79.1 97.3h0M76.1 95.4h0M82 95.7h0M74.9 96.6h0M76.8 94.3h0M82.6 99.4h0M77.2 96.8h0M78.3 93.4h0M74.5 98.4h0M73.1 53h0M77.5 44.7h0M80.2 56.3h0M80.7 79.3h0M82.3 45.4h0M76.5 51.9h0M77.9 54.2h0M73.6 55.4h0M76 63.4h0M80.9 67.5h0M76.1 87.6h0M77.1 54.1h0M76.5 61.7h0M79.7 57.1h0M76.7 69.3h0M81.1 78.6h0M76.3 51.3h0M76.6 79.9h0M83.3 56.3h0M81.3 93.3h0M81.3 88.4h0M77.9 59.6h0M75.7 45.7h0M74.8 68.1h0M77.7 75.8h0M80.3 60h0M73.7 93.9h0M75.4 79.5h0M79.7 84.4h0M80.1 55.2h0M78.2 53.3h0M74 68h0M77 50.8h0M73.7 91.1h0M76.4 93.5h0M83.3 42h0M76.3 41.3h0M74.6 88.3h0M79.2 87.7h0M75.8 70h0M78.4 49.3h0M82.3 46.4h0M77.2 66.9h0M77.5 41.1h0M75.8 78.4h0M79.3 70.2h0M77.1 59.2h0M81.4 96.4h0M73.1 68.9h0M81.1 56.8h0M76 70.4h0M82.9 76.9h0M78.3 68.5h0M76.5 40.6h0M80.6 89.2h0M75.6 67.1h0M80.6 40.4h0M79.7 97h0M74.8 95.9h0M82.2 71h0M74 96.2h0M74.3 54.7h0M81.7 73.6h0M78.4 88.2h0M76.1 96.5h0M76.1 88.6h0M75 77.8h0M79.5 51.3h0M80.1 95.6h0M74.5 90.3h0M80 48h0M83.3 94.1h0M73.7 87.8h0M75 67.5h0M76.4 72.8h0M76.1 46.2h0M81.8 70.3h0M80.7 56.3h0M77 74.6h0M80.4 59.8h0M79.9 85h0M73.9 98.8h0M73.4 78.6h0M78.1 94.6h0M75.4 62.4h0M76.4 99.5h0M81.9 94.5h0M74.4 58.1h0M75.6 73.2h0M80.7 84.3h0M81.7 49.4h0M78.2 53h0M80.8 52.4h0M75.8 42h0M80.1 47.6h0M79.5 67.6h0M74 100.9h0M75.9 50.1h0M73.7 53.3h0M74 42.3h0M80.6 68.4h0M82.9 44.2h0M78.5 45.5h0M75.2 53.5h0M81 61.2h0M78.4 81.7h0M82.6 42.7h0M83 69.7h0M81.6 51.8h0M83 48.6h0M83 51.9h0M76.2 56.7h0M75.5 49.7h0M78.3 49h0M76 54.4h0M80.3 50.5h0M77 61.1h0M77.9 60.5h0M81.3 49.7h0M81.5 46h0M74.7 59.8h0M74.9 54h0M81.9 53.8h0M75 55.2h0M79.3 56.8h0M73.3 49.7h0M76.9 62.8h0M75.7 47h0M78 53.9h0M74.1 48.9h0M78.5 52.3h0M77.5 53.3h0M77.7 55.8h0M76.8 60.8h0M79.6 54.4h0M80.6 54.7h0M73.1 70.9h0M83.1 51.6h0M74 56.3h0M82.1 57.9h0M80.2 53.6h0M76.7 52.3h0M83.5 55.2h0M79.1 50.8h0M73.3 56.5h0M80 54.8h0M79.2 52.4h0M77.9 63.4h0M76 56.9h0M86.1 99.9h0M92 98.1h0M86.8 95.1h0M86.7 100.5h0M90.2 98.7h0M92.6 102.5h0M94.1 97.7h0M93.7 93.7h0M85.8 97.3h0M93.2 93.5h0M95.3 97h0M85.9 100.8h0M91.1 100.5h0M87.9 100.4h0M90.3 100.5h0M92.9 95.7h0M91.4 102h0M93.9 101.5h0M86 96.1h0M93.2 99.2h0M91.1 96.1h0M93.3 97.5h0M89.2 103h0M96.3 96.8h0M92.8 92.5h0M89.1 100.2h0M87.5 91.7h0M94.9 87.3h0M89.9 101.3h0M86.4 94.1h0M93.5 97.2h0M90.4 94.7h0M92.7 98.8h0M89.2 97.1h0M91.1 94.2h0M91.1 100.2h0M90.4 100h0M88.7 96.1h0M89.2 89.4h0M95.1 94.6h0M87.6 98h0M89.6 100.6h0M87.9 95.1h0M91.7 98.3h0M94.1 102.2h0M89.6 95.4h0M86.4 93.8h0M88.7 95.6h0M89.8 101.9h0M87.2 93.4h0M89.7 97.3h0M92.3 89.9h0M89.6 98.5h0M90.8 91.5h0M93.4 100.8h0M87.4 102h0M87.6 102.8h0M94.5 101.1h0M88.5 95.6h0M95 99.5h0M92.9 100.9h0M88.3 91.6h0M87 100.3h0M89.6 91.2h0M92.8 85.6h0M89.3 102.4h0M91.7 97h0M85.9 92.9h0M86.5 93.3h0M95.7 92.5h0M86.5 99.6h0M96.1 94.1h0M90.4 102.1h0M88.2 102.8h0M91.6 96.5h0M91.9 100h0M95.7 99.6h0M91.3 96.5h0M92.2 94.4h0M88.1 95.8h0M86.4 94.9h0M87.5 91.3h0M92.4 101.3h0M88.6 99.8h0M88.4 98.1h0M94.2 96.1h0M89.5 90.5h0M87.3 99.4h0M86.4 100h0M96.1 90.2h0M87.1 97.9h0M86.9 95.2h0M86.8 101.3h0M89.7 102h0M87.9 99.2h0M92.4 98.7h0M86.7 100.2h0M95.9 90.2h0M89.3 97.6h0M90.3 92.5h0M88.5 97.7h0M87.2 91.4h0M94.3 95.8h0M89.8 98.1h0M96 102.4h0M86.4 101h0M94.6 97.4h0M86.7 99.1h0M92.3 91.8h0M91.6 100.3h0M89.9 91.4h0M94.3 95.6h0M86.4 92.3h0M89.7 94.9h0M94.5 100.7h0M94.8 101.8h0M95.3 96.1h0M96.1 100.3h0M87.2 102.9h0M95.2 99.4h0M89.2 89.3h0M92.5 100.1h0M92.2 97.8h0M94 100.2h0M85.9 88.4h0M89.2 99h0M95.7 95.4h0M96.3 100.4h0M95.7 96.9h0M87.2 97.6h0M93.9 100h0M88.7 94.1h0M87.4 101.8h0M88.1 97.3h0M90.8 92.2h0M94.8 93.1h0M90.1 97.6h0M90.7 101.1h0M85.9 98.3h0M94.6 97.2h0M90.5 101.8h0M95.7 94.8h0M93.9 100.9h0M86.4 94.9h0M96.1 92.1h0M96.2 95.2h0M95.8 97.6h0M88.6 96.8h0M95.4 95.7h0M92.9 95.2h0M91.7 97.1h0M90.4 90.7h0M95.4 98.7h0M87 97.7h0M95.6 102.3h0M86.7 100.7h0M91.6 94.1h0M91.9 89.6h0M95.1 88.1h0M92.1 102.2h0M96 101.7h0M93.5 102.8h0M86.9 98h0M91.5 92h0M95 102.3h0M92.7 93.1h0M89 96.6h0M89.6 89.4h0M87.7 94.7h0M94.9 96.2h0M89.6 98.4h0M87.5 87.7h0M96.1 101.8h0M90.9 102.2h0M89 92.7h0M89 96h0M94.5 89.2h0M89.1 98.9h0M86.3 97.1h0M95.6 86.8h0M89.1 98.6h0M91.7 99.7h0M93.6 103.1h0M92.5 99.1h0M90.2 98.3h0M87.2 90.5h0M89.6 101.4h0M86.9 98.1h0M95.1 96.9h0M93 102.1h0M88.6 99.7h0M95.9 92.8h0M94.6 94.5h0M94.8 86.9h0M85.8 99.8h0M92.6 96.3h0M86.2 95.7h0M95.7 100.8h0M93.3 98.8h0M94.5 93.6h0M87 101.4h0M89.6 94.8h0M90.9 94h0M92.2 95.4h0M87.9 98.6h0M91.5 100h0M94.5 95.9h0M93.8 100.2h0M92.3 96.6h0M95.1 102.3h0M89.3 93.3h0M89.6 99.4h0M90.5 93.6h0M87.5 102.5h0M90.3 94.8h0M91.1 102.2h0M95.8 99.9h0M86.5 101.8h0M90.6 91.5h0M90.5 97.1h0M88.6 101.4h0M86.4 93.1h0M94.3 96h0M92.8 97.4h0M94.7 98.4h0M87.4 99.1h0M88.9 94.4h0M85.8 96.2h0M90.2 99.8h0M94.4 93.7h0M91.6 80h0M94.1 48.2h0M91.8 81.2h0M95.8 95.1h0M95.5 84.2h0M93.5 71.3h0M90.1 94.9h0M94.2 94.9h0M89.9 78h0M85.9 78.9h0M94.5 89.6h0M87.4 97.8h0M86.9 75.4h0M91.2 93.2h0M94.8 89h0M86.6 87.1h0M88.5 91.3h0M91.6 89h0M94.5 97.4h0M89.9 96.9h0M87.1 67.5h0M88.4 76.1h0M95.4 75.5h0M89 68h0M88.2 82.2h0M93.7 90.4h0M86.7 88.6h0M86.1 84.9h0M87.7 89.6h0M89.3 83.4h0M88.4 97.3h0M90.8 94.2h0M89.6 76.8h0M90.4 79.6h0M91.7 95.8h0M93.8 68.4h0M87.3 81.1h0M86.8 67.8h0M93.2 89.4h0M96.1 80.2h0M89.5 86.4h0M94.7 94.6h0M94.1 70.4h0M86.4 90.6h0M88 82.9h0M91.1 94.1h0M89.4 85.1h0M89.5 71.3h0M93.5 80.8h0M90 89.6h0M89.5 83h0M93 61.8h0M92.2 95.9h0M94.5 95.5h0M87.6 58.7h0M95.8 73.7h0M90.4 85.2h0M87.2 73.2h0M88.7 67.1h0M95.5 68.7h0M88.1 92.4h0M95.3 59.4h0M87.9 59.4h0M92.3 75.7h0M93.8 94.8h0M89.9 50.3h0M90.3 96.7h0M86.5 97.5h0M92 88.8h0M87.5 71.1h0M93 81.7h0M93.2 87.8h0M87.9 75.8h0M86.8 66.9h0M93.1 93h0M86.6 95.3h0M91.1 82.9h0M95.7 69.3h0M89.9 56.7h0M92.9 90h0M88.3 84.9h0M89.5 88.3h0M87 87.4h0M87.1 92.4h0M87.4 52.4h0M91.2 62h0M91.9 87.7h0M89.9 67.4h0M88.1 65.4h0M92.2 82.3h0M105.7 100.5h0M102.6 58.9h0M106.7 85.4h0M108.6 99.5h0M101.7 69.4h0M108.1 75.2h0M105 95.7h0M108.3 78.3h0M102.8 83h0M103.2 86.5h0M108.5 98h0M108.6 91.9h0M105.1 66.4h0M98.7 97.7h0M108.4 101.2h0M101.3 90h0M105.7 95.3h0M102.7 83.6h0M108.2 94h0M105.6 89.2h0M107.1 77.1h0M107.6 91.3h0M106.9 82.8h0M100.7 85.7h0M105.6 94.9h0M104.6 96.4h0M99.7 94.9h0M102.5 72.6h0M107.3 99h0M102.8 63.1h0M101.6 82h0M108.4 79.5h0M99 93.1h0M101 86.8h0M102.1 66.6h0M105 64.8h0M99.5 73.7h0M101.5 72.6h0M102.9 87.6h0M105.3 97h0M105.4 89.3h0M102.8 74.9h0M106.4 99.9h0M102.7 86.1h0M106.3 85.7h0M99.8 97.3h0M104.6 100.5h0M101.4 91.4h0M99 101h0M100.5 75h0M106.2 87.6h0M102.5 89.6h0M99.2 94.3h0M104.8 83.9h0M105.2 64.5h0M108.3 98.3h0M106.3 82h0M108.6 61.9h0M100 99.8h0M100.2 99.9h0M99.9 97.3h0M102.8 90.8h0M107.3 73.4h0M103.7 100h0M106.9 64.9h0M103.9 90.2h0M100.5 90.8h0M108.4 54.8h0M108.7 79.5h0M106 92h0M111.5 75.8h0M119.2 96.8h0M115.5 73.3h0M112.5 96.6h0M118.4 94.4h0M113.9 70.6h0M119.2 80h0M127.2 83.7h0M131.5 82.9h0M125.8 81.3h0M127.6 77.2h0" stroke="#000" stroke-width="0.68" stroke-linecap="round" fill="none"/>
<path d="M65.5 81.1L65.5 114" stroke="#00BA38" stroke-width="0.4"/>
<path d="M21.7 114.5 C23.4 114.3 25.6 113.1 27.3 112.5 C29 113.1 31.2 114.3 32.9 114.5Z" fill="#F8766D" stroke="#333" stroke-width="0.4"/>
<path d="M34.4 114.5 C36.1 114.3 38.4 112.9 40 112.3 C41.7 112.9 44 114.3 45.6 114.5Z" fill="#D39200" stroke="#333" stroke-width="0.4"/>
<path d="M47.2 114.5 C48.9 114.3 51.1 109.8 52.8 107.3 C54.5 109.8 56.7 114.3 58.4 114.5Z" fill="#93AA00" stroke="#333" stroke-width="0.4"/>
<path d="M59.9 114.5 C61.6 114.3 63.9 108.9 65.5 105.8 C67.2 108.9 69.5 114.3 71.1 114.5Z" fill="#00BA38" stroke="#333" stroke-width="0.4"/>
<path d="M72.7 114.5 C74.4 114.3 76.6 113.8 78.3 113.7 C80 113.8 82.2 114.3 83.9 114.5Z" fill="#00C19F" stroke="#333" stroke-width="0.4"/>
<path d="M85.5 114.5 C87.1 114.3 89.4 112.5 91 111.6 C92.7 112.5 95 114.3 96.6 114.5Z" fill="#00B9E3" stroke="#333" stroke-width="0.4"/>
<path d="M98.2 114.5 C99.9 114.3 102.1 113.8 103.8 113.7 C105.5 113.8 107.7 114.3 109.4 114.5Z" fill="#619CFF" stroke="#333" stroke-width="0.4"/>
<path d="M111 114.5 C112.6 114.3 114.9 113.8 116.5 113.7 C118.2 113.8 120.5 114.3 122.1 114.5Z" fill="#DB72FB" stroke="#333" stroke-width="0.4"/>
<path d="M123.7 114.5 C125.4 114.3 127.6 113.8 129.3 113.7 C131 113.8 133.2 114.3 134.9 114.5Z" fill="#FF61C3" stroke="#333" stroke-width="0.4"/>
<path d="M19.6 15.5L19.6 118.6" stroke="#000" stroke-width="0.7"/>
<path d="M19.3 118.3L137.5 118.3" stroke="#000" stroke-width="0.7"/>
<path d="M18 114L19.6 114" stroke="#000" stroke-width="0.6"/>
<text x="16.6" y="116" font-size="5.6" text-anchor="end">0</text>
<path d="M18 88.7L19.6 88.7" stroke="#000" stroke-width="0.6"/>
<text x="16.6" y="90.7" font-size="5.6" text-anchor="end">1</text>
<path d="M18 63.4L19.6 63.4" stroke="#000" stroke-width="0.6"/>
<text x="16.6" y="65.4" font-size="5.6" text-anchor="end">2</text>
<path d="M18 38.1L19.6 38.1" stroke="#000" stroke-width="0.6"/>
<text x="16.6" y="40.1" font-size="5.6" text-anchor="end">3</text>
<path d="M27.3 118.3L27.3 120" stroke="#000" stroke-width="0.6"/>
<text x="29" y="122.9" font-size="5.75" text-anchor="end" transform="rotate(-45 29 122.9)">Epithelial cells</text>
<path d="M40 118.3L40 120" stroke="#000" stroke-width="0.6"/>
<text x="41.8" y="122.9" font-size="5.75" text-anchor="end" transform="rotate(-45 41.8 122.9)">Macrophages</text>
<path d="M52.8 118.3L52.8 120" stroke="#000" stroke-width="0.6"/>
<text x="54.5" y="122.9" font-size="5.75" text-anchor="end" transform="rotate(-45 54.5 122.9)">MSCs</text>
<path d="M65.5 118.3L65.5 120" stroke="#000" stroke-width="0.6"/>
<text x="67.2" y="122.9" font-size="5.75" text-anchor="end" transform="rotate(-45 67.2 122.9)">CSCs</text>
<path d="M78.3 118.3L78.3 120" stroke="#000" stroke-width="0.6"/>
<text x="80" y="122.9" font-size="5.75" text-anchor="end" transform="rotate(-45 80 122.9)">Neutrophils</text>
<path d="M91 118.3L91 120" stroke="#000" stroke-width="0.6"/>
<text x="92.8" y="122.9" font-size="5.75" text-anchor="end" transform="rotate(-45 92.8 122.9)">T cells</text>
<path d="M103.8 118.3L103.8 120" stroke="#000" stroke-width="0.6"/>
<text x="105.5" y="122.9" font-size="5.75" text-anchor="end" transform="rotate(-45 105.5 122.9)">B cells</text>
<path d="M116.5 118.3L116.5 120" stroke="#000" stroke-width="0.6"/>
<text x="118.2" y="122.9" font-size="5.75" text-anchor="end" transform="rotate(-45 118.2 122.9)">Endothelial cells</text>
<path d="M129.3 118.3L129.3 120" stroke="#000" stroke-width="0.6"/>
<text x="131" y="122.9" font-size="5.75" text-anchor="end" transform="rotate(-45 131 122.9)">Stromal cells</text>
<text x="9.3" y="67.3" font-size="6.6" text-anchor="middle" transform="rotate(-90 9.3 67.3)">Expression Level</text>
<text x="78.5" y="159.8" font-size="6.6" text-anchor="middle">Identity</text>
<rect x="144.2" y="37.4" width="6.6" height="6.6" fill="#F8766D" stroke="#555" stroke-width="0.4"/>
<text x="154.6" y="42.6" font-size="5.5">Epithelial cells</text>
<rect x="144.2" y="44.5" width="6.6" height="6.6" fill="#D39200" stroke="#555" stroke-width="0.4"/>
<text x="154.6" y="49.7" font-size="5.5">Macrophages</text>
<rect x="144.2" y="51.5" width="6.6" height="6.6" fill="#93AA00" stroke="#555" stroke-width="0.4"/>
<text x="154.6" y="56.7" font-size="5.5">MSCs</text>
<rect x="144.2" y="58.6" width="6.6" height="6.6" fill="#00BA38" stroke="#555" stroke-width="0.4"/>
<text x="154.6" y="63.8" font-size="5.5">CSCs</text>
<rect x="144.2" y="65.6" width="6.6" height="6.6" fill="#00C19F" stroke="#555" stroke-width="0.4"/>
<text x="154.6" y="70.8" font-size="5.5">Neutrophils</text>
<rect x="144.2" y="72.7" width="6.6" height="6.6" fill="#00B9E3" stroke="#555" stroke-width="0.4"/>
<text x="154.6" y="77.9" font-size="5.5">T cells</text>
<rect x="144.2" y="79.8" width="6.6" height="6.6" fill="#619CFF" stroke="#555" stroke-width="0.4"/>
<text x="154.6" y="85" font-size="5.5">B cells</text>
<rect x="144.2" y="86.8" width="6.6" height="6.6" fill="#DB72FB" stroke="#555" stroke-width="0.4"/>
<text x="154.6" y="92" font-size="5.5">Endothelial cells</text>
<rect x="144.2" y="93.9" width="6.6" height="6.6" fill="#FF61C3" stroke="#555" stroke-width="0.4"/>
<text x="154.6" y="99.1" font-size="5.5">Stromal cells</text>
</g>
<g id="pB">
<text x="196.1" y="16.4" font-size="21" stroke="#000" stroke-width="0.15">B</text>
<text x="258.4" y="12.7" font-size="3.5" stroke="#000" stroke-width="0.03">Pseudotime</text>
<defs><linearGradient id="gb" x1="0" x2="1" y1="0" y2="0"><stop offset="0" stop-color="#132B43"/><stop offset="1" stop-color="#56B1F7"/></linearGradient></defs>
<rect x="278" y="4.9" width="28.1" height="8.3" fill="url(#gb)"/>
<path d="M278.2 5L278.2 6.4" stroke="#fff" stroke-width="0.3" stroke-opacity="0.6"/>
<path d="M278.2 11.6L278.2 13" stroke="#fff" stroke-width="0.3" stroke-opacity="0.6"/>
<text x="278.2" y="17.1" font-size="3.0" text-anchor="middle" fill="#222" stroke="#222" stroke-width="0.03">0</text>
<path d="M284.3 5L284.3 6.4" stroke="#fff" stroke-width="0.3" stroke-opacity="0.6"/>
<path d="M284.3 11.6L284.3 13" stroke="#fff" stroke-width="0.3" stroke-opacity="0.6"/>
<text x="284.3" y="17.1" font-size="3.0" text-anchor="middle" fill="#222" stroke="#222" stroke-width="0.03">10</text>
<path d="M290.5 5L290.5 6.4" stroke="#fff" stroke-width="0.3" stroke-opacity="0.6"/>
<path d="M290.5 11.6L290.5 13" stroke="#fff" stroke-width="0.3" stroke-opacity="0.6"/>
<text x="290.5" y="17.1" font-size="3.0" text-anchor="middle" fill="#222" stroke="#222" stroke-width="0.03">20</text>
<path d="M296.6 5L296.6 6.4" stroke="#fff" stroke-width="0.3" stroke-opacity="0.6"/>
<path d="M296.6 11.6L296.6 13" stroke="#fff" stroke-width="0.3" stroke-opacity="0.6"/>
<text x="296.6" y="17.1" font-size="3.0" text-anchor="middle" fill="#222" stroke="#222" stroke-width="0.03">30</text>
<path d="M302.8 5L302.8 6.4" stroke="#fff" stroke-width="0.3" stroke-opacity="0.6"/>
<path d="M302.8 11.6L302.8 13" stroke="#fff" stroke-width="0.3" stroke-opacity="0.6"/>
<text x="302.8" y="17.1" font-size="3.0" text-anchor="middle" fill="#222" stroke="#222" stroke-width="0.03">40</text>
<path d="M223.5 87.7L257.2 107.3L286.1 122.3L306.1 128.9L316.3 128" stroke="#000" stroke-width="0.75" fill="none" stroke-linejoin="round"/>
<path d="M316.3 128L321.3 115.3L325.9 103.7L330 88.7L333.9 73.7" stroke="#000" stroke-width="0.75" fill="none" stroke-linejoin="round"/>
<path d="M316.3 128L317.7 131.9L318.9 134.9" stroke="#000" stroke-width="0.75" fill="none" stroke-linejoin="round"/>
<path d="M333.9 73.7L332.2 61.3L329.9 50.1L327.1 36L324.5 29.9" stroke="#000" stroke-width="0.75" fill="none" stroke-linejoin="round"/>
<path d="M333.9 73.7L337.7 72.1L341.6 69.8L344.9 64.4L346.4 59.6" stroke="#000" stroke-width="0.75" fill="none" stroke-linejoin="round"/>
<path d="M221.9 89.9h0M220.9 89.9h0M223.8 87.6h0M221.5 86.8h0M219.2 87h0M221.5 86.4h0M221.2 87.7h0M222.8 92.8h0M222.1 86.4h0M221.3 85.4h0M219.8 80.5h0M220.5 86.6h0M220.4 88.3h0M225.8 90.7h0M221.7 85.5h0M220.7 85.1h0M219 82.5h0M221.1 86.5h0M220.7 87.8h0M223.8 86.9h0M221.1 86.4h0M217.7 82.1h0M221.4 85.6h0M221.1 86.4h0M217.9 81h0M218.4 86.9h0M222.1 90.2h0M223.8 85.7h0M219.5 87.9h0M220.4 85.2h0M220.2 84.1h0M221.6 86.1h0M222.8 83.2h0M227.6 87h0M219.7 87.5h0M220 86.1h0M226.5 85.1h0M222.1 88.4h0M220.6 87h0M226.1 81.8h0M220.2 83.1h0M225.2 86.4h0M218.2 86.2h0M220.6 86.4h0M220.2 85.4h0M221.9 86.7h0M223.1 85h0M221.1 86.4h0M221.5 89.8h0M219.2 89.9h0M220.5 83.4h0M221.5 90h0M220 88h0M227.2 85.9h0M221.1 86.4h0M218.7 90h0M220.9 88.9h0M219.2 83.5h0M223.8 86.9h0M218.1 86.8h0M223.4 87.5h0M219.5 91.1h0M221.1 86.6h0M220.3 88h0M218.9 89.3h0M224.2 85.8h0M221.8 82.4h0M220.1 87.6h0M222.8 85.7h0M220.9 86.1h0M220.8 86.4h0M220.6 86.9h0M221.5 86.4h0M220.1 80h0M218.4 83.4h0M218.6 88.9h0M219 87.7h0M221.4 87.1h0M220.1 85.2h0M218.2 88.7h0M216 91.1h0M222.5 87.7h0M219.1 88.4h0M219.6 88.2h0M221.4 84.2h0M223 86.8h0M216.4 90.1h0M222.5 86.6h0M223.1 86.6h0M220.8 85.1h0M218.6 85.4h0M221.6 89.3h0M220.6 82.7h0M221.1 86.7h0M221.2 86.4h0M219.9 87.5h0M221 89h0M221.3 89.7h0M220.4 83.8h0M220.6 86.3h0M221.2 86.4h0M217.7 85.3h0M223.6 86.2h0M219.1 85.3h0M220.1 86.3h0M218.3 83.7h0M220.8 85.3h0M222.4 85.8h0M220.9 85.3h0M223.3 88h0M217.8 86.4h0M221.3 86h0M221.1 86h0M221.3 87.4h0M225.2 87.1h0M220.9 87.2h0M220.4 87.3h0M220.7 88.2h0M222 85h0M216.2 83h0M221.5 86h0M221.6 86.1h0M223.9 89.5h0M219.3 85.5h0M223.4 87.5h0M222.8 85.7h0M218.9 86.5h0M218.2 87.6h0M221.1 86.1h0M217.7 86.8h0M221 86.7h0M220.5 89.3h0M223.9 84.3h0M219.4 87.7h0M220.1 84.2h0M223.2 86h0M222.4 86.9h0M221.2 85.9h0M222.7 90.4h0M220.6 87h0M220.9 86.6h0M219.3 84.6h0M221.7 88.4h0M223.1 89.5h0M220.9 89.7h0M222.6 85.2h0M221.2 86.6h0M221.1 87.2h0M217.1 90.7h0M220.1 86.2h0M220.4 85.7h0M222 87.4h0M221.1 86.4h0M221.3 84h0M217.1 81.5h0M220.6 87.7h0M225.7 81.6h0M220.8 85.2h0M221.1 86.2h0M221.3 84.6h0M217.2 81.4h0M217 85.5h0M221.3 86h0M219.1 90.7h0M222.8 86.7h0M223.1 85.5h0M220.4 86.7h0M220.6 86.5h0M221.8 87h0M221.6 86.7h0M221 86.4h0M221 85.4h0M221.4 86.3h0M221.4 85.6h0M223.4 84.9h0M222.5 85.1h0M223 89.2h0M222.8 86.2h0M218.6 83.7h0M221 86.8h0M221.5 87.5h0M223.1 84.4h0M222.7 90.5h0M222.7 84.4h0M221 86.4h0M221.1 85.1h0M221.1 86.1h0M220.5 85.8h0M221.1 88.7h0M221.9 87.2h0M220.9 86.3h0M219.1 89.7h0M221 85.8h0M218.1 83.3h0M221 84.7h0M220.9 85.7h0M221.4 86.4h0M223.4 83.6h0M217.9 89.5h0M216.6 84h0M220.9 86.5h0M221 86.8h0M220.7 88.2h0M221.4 86.6h0M222.5 87.4h0M219.6 85.7h0M220.4 86.6h0M216 90.4h0M222.1 86h0M223.6 85.8h0M216.8 82.5h0M221 85.7h0M221.1 89.1h0M220.5 85.5h0M224 91.1h0M220.6 86h0M222.5 86h0M223.3 84.6h0M221.5 88h0M220.6 87.5h0M218.6 83.7h0M217.8 86.7h0M220.6 85.3h0M220.2 83.9h0M217.8 83.6h0M221.3 87.1h0M219.7 86.8h0M218.7 83.2h0M220.8 84.9h0M223.6 84.7h0M220.2 90.8h0M223 87.5h0M221.1 86.7h0M222 86.7h0M220.9 88.6h0M222.3 81.2h0M222.6 86.7h0M220.1 85.6h0M220.3 87.6h0M222 87.1h0M220.7 87.4h0M220.9 87.4h0M220.6 84.9h0M220.2 87.4h0M221.3 88.5h0M224.1 85h0M220.7 89.4h0M216.8 84h0M220.7 84.3h0M222.3 86.7h0M219.9 87h0M221.2 86.2h0M219.9 89.8h0M223.1 85.5h0M219.7 82.9h0M217.6 91.6h0M221.4 86.9h0M224.3 83.7h0M221.4 85.8h0M221.8 85.7h0M221.2 86.9h0M225.4 89h0M224.9 83.1h0M225.5 84.2h0M220.2 88.6h0M222.9 85.2h0M222.9 84.5h0M220.6 85.9h0M227.2 88.9h0M221.1 86.6h0M220.7 86.4h0M221 87.9h0M219.4 86.4h0M221.4 88.1h0M221.5 87.1h0M223.3 85.6h0M221.3 86.3h0M224.3 83.9h0M218.6 83.9h0M221.3 86.2h0M221.1 86.5h0M221.3 86.4h0M218.6 86.7h0M221.2 85.7h0M223.5 84.8h0M222.1 86.8h0M220.4 85.8h0M221 86.4h0M219 89.1h0M223.2 86h0M223.2 91.1h0M219 84.2h0M221.2 86.2h0M216.1 83.4h0M219.4 85.4h0M221 86.4h0M221.4 85.7h0M222.1 85.8h0M222.5 81.7h0M222.6 89.8h0M221.2 85.1h0M221.8 86.8h0M221 85.1h0M219.3 84.3h0M222.9 86.8h0M223.3 84.8h0M220 85.1h0M219.3 87.6h0M221.1 86.2h0M220.7 90.3h0M225.2 86.2h0M220.6 86.1h0M224.5 85h0M224 85.6h0M221 86.1h0M220.8 86.9h0M220.6 88.9h0M223.3 87.3h0M221.5 86.7h0M219.6 85.9h0M223.4 87.8h0M220.6 86.6h0M219.5 86.4h0M221.6 84.3h0M220.5 85.4h0M221.5 86.5h0M221 87.3h0M223.3 91h0M221.1 83.2h0M222.8 88.3h0M221.9 85.3h0M221 87.6h0M221.4 87.2h0M221.1 86.5h0M220.9 87.7h0M220.5 86.9h0M222.2 85.9h0M221.4 86.2h0M224 89.1h0M221.9 86h0M221.1 87.3h0M220.7 85.2h0M221.2 86.5h0M222.9 83.4h0M221.2 85.8h0M217.2 80.6h0M219.1 89.5h0M222.1 85h0M220.1 87h0M222.7 84h0M223.7 88.6h0M221 86.5h0M220.8 85.2h0M220.8 80.8h0M220 87.8h0M222.3 86.8h0M221.3 86.2h0M222.4 88.7h0M216.2 81.5h0M220.7 88.9h0M222.7 85.1h0M220.8 87.9h0M220.9 85.7h0M221.7 86.7h0M223.1 84.7h0M221.4 84.3h0M222.6 85h0M221.9 86.8h0M221.2 87.8h0M220.8 86.5h0M218 85h0M220.8 86.5h0M219.4 86.6h0M220.5 85.8h0M221.8 88.6h0M221.8 85.4h0M218.5 85.3h0M220.1 87h0M221 85.4h0M221.3 91.3h0M220.7 87.7h0M222.1 85.5h0M222 85.8h0M220.2 87.4h0M222.8 84.9h0M221 82.4h0M224 83.2h0M220.4 85.1h0M222.5 88h0M220.6 83.8h0M220.2 85.9h0M222 86.6h0M220.7 89.3h0M224.5 87.9h0M219 85.1h0M219.7 89.6h0M221 86.8h0M222 89.9h0M221.1 86.6h0M221.1 86.4h0M223.2 84.1h0M221.7 86.5h0M220.9 86.8h0M218 90.9h0M221 86.5h0M221.1 86.8h0M220.9 88.8h0M220.3 87h0M224.6 84.8h0M221.8 87.8h0M221.1 86.9h0M220.9 86.4h0M220.1 86.6h0M221.9 89.6h0M218.4 89.1h0M223.2 89.7h0M226.5 86.8h0M221.7 86.1h0M222.8 85.2h0M222.6 86.4h0M220.1 85.4h0M225 87.8h0M220.5 86h0M219.6 85.4h0M219.6 91.1h0M220.6 87.7h0M222.2 90.9h0M218.8 90.6h0M218.2 85.2h0M219.8 83.6h0M221.7 84.4h0M223.3 90.4h0M219.1 83.8h0M220.6 84.2h0M222.4 85.3h0M218.9 87.2h0M222.1 87h0M222.3 84.5h0M221.2 90.3h0M221.5 87.8h0M218 87.3h0M219.5 85.5h0M220.8 85.5h0M222.6 85.6h0M220.5 86.9h0M220.6 90.8h0M221.5 89h0M219 91.3h0M220.4 87.4h0M221 86.5h0M218.3 85.2h0M221 86.1h0M221.2 82.3h0M222.5 85.4h0M222.7 85.1h0M221.9 86.8h0M220.7 87.5h0M222.3 85.4h0M219.3 85.8h0M224.4 85h0M221.3 86.9h0M219.9 84.5h0M219.2 85.8h0M218.9 88.6h0M219.9 85.9h0M220.9 85.7h0M222.3 83.5h0M220.9 88.9h0M223.9 88.6h0M223.5 84.8h0M221.9 86.2h0M223.1 82.7h0M221.7 87.4h0M218.9 88.7h0M220.5 85h0M223.1 84.4h0M224.1 87.7h0M218.5 84h0M221 88h0M221 86.4h0M222.2 87h0M221 83.6h0M217.8 85.3h0M222.4 86.1h0M220 86.4h0M219.4 86.5h0M220.9 86h0M222.2 84.2h0M220.6 83h0M221.9 86.1h0M221.9 81.2h0M221.4 86.3h0M220 83.5h0M227 83.4h0M224.9 88.8h0M221.1 86.6h0M222 86h0M220.7 88.5h0M222.4 88.5h0M221.1 86.6h0M218.9 84.2h0M220.7 84.4h0M221.2 86.3h0M221.1 83.1h0M222.6 89.3h0M220.4 86.9h0M219.9 88h0M221.4 88h0M220.9 86.5h0M221.4 86.4h0M220.9 86.7h0M220.7 84.4h0M222.3 85.2h0M219.5 92.8h0M217.4 90.9h0M221.4 86.2h0M223.8 84.3h0M220.7 85.8h0M219.5 81h0M220.5 86.9h0M220.3 86.2h0M219.9 88.2h0M222.2 83h0M222.1 87h0M223.2 85.9h0M221.1 86.4h0M220.5 85.6h0M220.7 86.9h0M221.3 86.6h0M221 84h0M220.3 87.9h0M220.9 86.4h0M220.4 87.1h0M214.6 86.7h0M219.7 84.8h0M218.4 89.1h0M220.1 90.5h0M221.3 84.3h0M221.1 87.2h0M220.4 86.4h0M220.3 86.2h0M216.9 84.6h0M220.5 89h0M221.2 86.3h0M221.5 88.5h0M222.7 84h0M224 87.3h0M222.4 89.2h0M226 88.4h0M219.8 83.8h0M218.6 89.8h0M220.9 87.3h0M219.4 89.4h0M221.2 86.4h0M222.3 86h0M223.6 87.8h0M221.1 84.8h0M216.9 88.6h0M220.9 83.7h0M221.4 86.4h0M226.7 78.5h0M227.1 80.6h0M225.7 77.2h0M227.1 78.2h0M227.3 77.1h0M224.5 78.6h0M226.8 81.1h0M228.3 78.7h0M227 79.9h0M225.8 83.1h0M227 79.8h0M228.1 82.3h0M227.5 80.1h0M227.1 78.8h0M225.3 79.4h0M225.2 79.6h0M226.2 77.8h0M226.4 73.1h0M224.6 80.3h0M225.1 80.2h0M226.7 79.7h0M227.7 79.7h0M226.2 78.2h0M226.7 76.1h0M226.5 79.5h0M225.4 80.7h0M228.3 78.7h0M226 80.4h0M226.9 82.2h0M226.2 79.2h0M226.6 77.9h0M227.1 81.3h0M227.8 76.3h0M223.9 79.4h0M227.1 80.1h0M227.4 83.9h0M226.9 79.2h0M227.5 81.5h0M225.6 78.4h0M226.3 77.5h0M226 77.8h0M224.7 81.8h0M228.3 79.1h0M226.7 76.8h0M225.2 81.4h0M223.7 84.5h0M226 85h0M228 86.8h0M224.5 78.8h0M228.3 78.4h0M228.5 84.4h0M223.7 88.6h0M224.1 80.5h0M221.1 85.2h0M228.3 87.1h0M229.1 88h0M226.5 91.8h0M223.9 84.5h0M224.4 89h0M226 85.5h0M223.5 82.3h0M229.2 89.1h0M227.2 85.8h0M223.9 88.3h0M221.9 89.7h0M226.6 88.5h0M225.2 89.2h0M221.5 75.9h0M221.8 84.7h0M225.3 84.1h0M228.8 92.6h0M231 93.9h0M228.7 92.6h0M228.5 93.8h0M229.3 93.1h0M230.6 93.4h0M228.9 90.6h0M229.7 93.4h0M226 92.1h0M229.1 92h0M231.3 91.8h0M228.3 89.4h0M229.8 93.6h0M230.8 94.6h0M226.6 95.1h0M228.4 94.3h0M225.3 93.9h0M227.8 91.7h0M230.8 94.1h0M230.3 92.9h0M230.6 92h0M227.8 98.2h0" stroke="#153049" stroke-width="1.5" stroke-linecap="round" fill="none"/>
<path d="M237.3 100.1h0M235.3 97.7h0M234.7 96.1h0M233.3 96.2h0M238.1 98.5h0M238.6 96.1h0M231.7 94.3h0M233.7 91.8h0M240.8 98.5h0M236 96.1h0M242.5 102h0M231.8 94.5h0M235 96h0M238.9 97.2h0M236.7 95.7h0M231.3 95.3h0M236.5 93.7h0M238.4 97.9h0M236.1 97.6h0M241.5 102h0M236.9 96.7h0M240.2 94.4h0M239.7 102.4h0M234.1 96.3h0M232.5 94.5h0M234.6 95.4h0M243.5 100.9h0M236.3 97.6h0M241.3 98.8h0M238 97h0M233.6 94.2h0M230.2 96.3h0M236.6 96.3h0M238.5 96.5h0M233.1 96.3h0M241.2 101h0M234.5 94h0M234.5 98.3h0M243 100.1h0M237.8 97.6h0M231.8 93.2h0M238.2 97h0M238.6 98.5h0M232.7 93.4h0M237.1 95h0M237.5 97.8h0M236.1 94.3h0" stroke="#1a3956" stroke-width="1.5" stroke-linecap="round" fill="none"/>
<path d="M253.8 105h0M254.2 105.1h0M256.2 110.3h0M253.2 106.7h0M246.4 104.3h0M245.3 99.9h0M252.1 108h0M257.4 104.2h0M256.8 108.1h0M252.3 105.4h0M256.7 108.4h0M256.7 108.5h0M250.8 105.4h0M251.7 105.7h0M253.8 108.9h0M248.8 105.1h0M257 106.8h0M256.1 108h0M258.1 107.5h0M254.3 107.6h0M257.2 106.4h0M253.6 106.4h0M255.3 105.8h0M258.1 107.7h0M255.2 103.1h0M252.4 107.9h0M254.7 108.1h0M249.8 107.4h0M257.1 108.9h0M251 105.7h0M254.5 108.8h0M256.6 107.4h0M251.5 107h0M247.9 102.8h0M254.1 108.8h0M254.8 107.7h0M256.8 108.7h0M253.7 108.4h0M252.9 104.4h0M253.2 107.1h0M251.8 105.1h0M257.3 106.2h0M248.6 101.8h0M256.2 107.7h0M251.4 105.9h0M256 104.7h0M255.5 107.2h0M253.2 101.1h0" stroke="#1f4363" stroke-width="1.5" stroke-linecap="round" fill="none"/>
<path d="M266.4 111.4h0M260.3 112.1h0M265.1 113.5h0M257.9 109h0M267.9 114.3h0M268.9 116.5h0M269.3 116h0M263.9 111.9h0M265.6 112.9h0M265.8 111.7h0M265.2 114h0M258.7 112.6h0M271.6 114.2h0M258.5 110.6h0M264 113.8h0M261.5 113.1h0M264.3 113.3h0M259.7 111.7h0M263.8 113.5h0M266.6 115.9h0M267.6 112.1h0M259.2 110.3h0M259.9 110.5h0M267.6 115.1h0M258.6 110.5h0M258.1 110.1h0M266.9 111.5h0M260.8 107.5h0M267.4 116h0M263.1 111.1h0M269.9 115.5h0M263.2 115.1h0M267.8 117.1h0M263.9 115.7h0M264.1 111.7h0M263.5 113.4h0M259.5 112.2h0M261.6 110h0M268.8 113.3h0M266.2 113h0M265.4 111.1h0M259.1 111.1h0M261.2 106.9h0M270.6 106.2h0" stroke="#244c70" stroke-width="1.5" stroke-linecap="round" fill="none"/>
<path d="M272.2 117h0M282.2 121.3h0M278.3 119.5h0M275.9 117.7h0M279.9 118.3h0M277 117.1h0M274.4 117.7h0M280.1 121.5h0M283.8 123.4h0M275.7 118h0M272.7 114.5h0M283.6 121.1h0M273.7 119.4h0M275.4 116.2h0M280.3 120.2h0M278.7 119.7h0M283.9 120.9h0M282.3 117.8h0M275.1 118h0M279.5 122.2h0M272 119.4h0M277.6 120.9h0M274.9 118.7h0M272.2 114.7h0M275.2 117.6h0M281.9 120.2h0M275.2 119.8h0M275.1 117.5h0M274.3 115.7h0M283.5 121.6h0M270.9 116.5h0M281.4 123.2h0M283.2 121.3h0M274.1 117.3h0M272.6 117.9h0M277.4 117.9h0M277.8 120.7h0M272.9 117.8h0M272.2 115.7h0M274 117h0M275.8 108.1h0M282.8 117.3h0M272.2 119.7h0" stroke="#29567d" stroke-width="1.5" stroke-linecap="round" fill="none"/>
<path d="M294.3 126.9h0M295 126.3h0M289.6 125.5h0M291.3 127.4h0M288.4 124h0M291.6 125.6h0M289.4 125.1h0M285.6 125.8h0M296.8 126.7h0M294.9 127h0M295.3 125.4h0M286.1 123.2h0M293.2 128.8h0M295.7 126.2h0M287.3 127h0M292.7 125.8h0M290.3 126.5h0M297 130.7h0M293.6 127h0M297.2 126.4h0M283.4 124.6h0M295.4 127.2h0M296.2 128.4h0M293.8 125.9h0M288 123.6h0M287.6 124.5h0M288.3 125.1h0M295.5 125.7h0M297.4 125.8h0M289.7 125.7h0M289.6 124.8h0M288.6 127.8h0M296.3 127h0M288 125.6h0M291.3 126.6h0M295.1 128.7h0M286.6 120.7h0M283.5 125h0M286.8 123.2h0M291.2 127h0M294.9 126.6h0M292.1 128.5h0M295.3 129.3h0M295.5 127.5h0M286.8 125.1h0M293.8 127.1h0M295.7 129.1h0M283.9 124.2h0M293.5 127.4h0M284.9 123.7h0M286 123.2h0M286.9 123.6h0M289.1 125.7h0M291.1 125.9h0M290.8 126h0M297.1 126.8h0M297.1 126.3h0M295 124.2h0M288.4 127.1h0M292.2 125.9h0M297.6 126.4h0M289.1 123.9h0M293.3 125.2h0M295.9 127h0M296.6 125h0M285.5 124.2h0M294 123.9h0M288.7 119.1h0M298.5 125.1h0M288.8 126.1h0" stroke="#2d608a" stroke-width="1.5" stroke-linecap="round" fill="none"/>
<path d="M307.5 132.4h0M299.8 129.1h0M305.7 129.4h0M298.2 129.9h0M305.8 132.7h0M298 130.1h0M308.1 131.9h0M308 131.8h0M304.2 129.1h0M305.4 132h0M306 131.1h0M307.2 132.9h0M308.1 131.6h0M299.5 130.4h0M299.8 129.7h0M299.4 128.8h0M299.3 130.9h0M302.2 129.3h0M307.9 132h0M298.3 130.5h0M302.5 130.5h0M300.7 130.1h0M306.7 131.1h0M306.5 132h0M305.7 132.2h0M303.4 129.1h0M303.4 130.9h0M302.5 130.5h0M301.1 128.2h0M302.1 131.8h0M299.2 128.2h0M299.9 127.9h0M304.9 131.1h0M304.4 132.3h0M303.5 128h0M301.2 131.3h0M302.3 132.8h0M300.4 127.2h0M298.1 129.8h0M300.6 127.7h0M309.9 133.1h0M308.2 133.5h0M308.9 133.5h0M310.8 131.5h0M303.5 132h0M307.1 132.6h0M310.1 135.4h0M308.8 137.7h0M312.6 131.8h0M305 129.2h0M306.7 133.5h0M322.6 133.4h0M304 134.7h0M309.1 134.8h0M310.4 131.8h0M303.2 133.5h0M298.2 135.3h0M309.3 132.6h0M311 129.9h0M304.4 132.4h0M310.9 134.8h0M303.6 131.7h0M315.6 135.7h0M318.6 132.8h0M303.9 135.2h0M306.8 132.5h0M309.3 134.9h0M303.3 132.2h0M306.3 135.8h0M304 134h0M314.2 135.8h0M317.3 134.4h0M307.8 133.9h0M311.4 137.4h0M311.1 133.2h0M310.3 137.3h0M310.4 134.5h0M313.4 130.6h0M315.6 132.3h0M306.5 136.4h0M301.5 134.6h0M306.3 135h0M309.6 133h0M319.7 132.6h0M308.7 129h0M319.5 138.7h0M311.6 136.1h0M308.9 132.9h0M306.9 133.4h0M307.8 132.9h0M308.2 138h0M306.9 125.8h0M304.1 133.7h0M303.7 131.9h0" stroke="#326997" stroke-width="1.5" stroke-linecap="round" fill="none"/>
<path d="M306.8 133.3h0M311.7 134.4h0M316.1 130.4h0M308.8 133.2h0M307.8 132.7h0M307.9 135.6h0M317.1 136h0M304.7 133.5h0M303.1 135.4h0M311.1 135.2h0M317.7 132.5h0M308.7 134.8h0M303.6 131.6h0M312.1 133.2h0M308.4 133h0M310.7 135.8h0M307.6 138.4h0M304.7 134.1h0M316.2 134h0M315.3 136.4h0M306.1 131.6h0M304.1 136.8h0M304.8 131.1h0M301.5 134h0M306.5 131.3h0M310.9 133.7h0M304.9 134.7h0M309.2 136.7h0M307.5 130.4h0M307.3 135.7h0M306.1 136.2h0M307.9 134.3h0M319.1 133.5h0M316.3 132.9h0M304.9 136.2h0M309 132.7h0M307.3 131.2h0M315.2 133.2h0M304.4 133.9h0M311.5 129.4h0M307.7 133.7h0M314.2 134.3h0M300.7 133.2h0M312.9 134.9h0M305.5 132.7h0M305.7 138.5h0M308.6 131.1h0M306.1 135h0M317.6 137.1h0M304.6 130.7h0M310.1 133.4h0M309.8 133.9h0M304.8 135.7h0M306.7 133.3h0M315.5 132h0M302.6 137.6h0M308.1 136.7h0M307.2 135.8h0M311.1 135.5h0M305.2 135.3h0M305.3 135.2h0M308.4 132h0M311.7 135.5h0M304.3 135.5h0M311.8 133.1h0M310.5 136.4h0M310.3 132h0M303.5 135.5h0M314.6 131.8h0M311.5 133h0M309 136h0M315.7 134.7h0M318.7 130.5h0M304.1 135.1h0M319.8 135.5h0M312 131.9h0M312.3 130h0M311.3 132.7h0M308.4 128.4h0M305 135.5h0M313.1 137.9h0M305.9 135h0M305.2 131.1h0M309.3 132.8h0M310.1 131.5h0M313.9 134.9h0M322.5 124h0M321.9 123.7h0M322.1 123.6h0M323.7 124.8h0M322 123.7h0M323 124.4h0M322.6 123.8h0M321.8 124h0M323.5 124.1h0M323.1 123.6h0M321.2 124.2h0" stroke="#3773a3" stroke-width="1.5" stroke-linecap="round" fill="none"/>
<path d="M325.3 116h0M321.9 123.1h0M322.4 116.2h0M325 114.8h0M324.4 118.2h0M324.8 107.5h0M324.4 119.2h0M323.9 118.1h0M324.5 114.9h0M323.1 119.2h0M325.4 110.2h0M323.4 123.5h0M324.8 109.2h0M325.7 113.3h0M323.7 117.6h0M326.9 107.8h0M325.6 111.6h0M325 111.2h0M323.2 114.9h0M326.4 112.4h0M324.9 109.8h0M320 122.1h0M324.2 118h0M324.3 115.5h0M324.3 116h0M327.2 110.7h0M323.9 122h0M324.4 118.6h0M323.8 119.7h0M324.2 119.7h0M322.6 115.9h0M328.5 107.9h0M326.1 110.3h0M323.2 118.9h0M323.9 116.1h0M325.1 119.5h0M323.9 118.5h0M326.2 111.4h0M324.4 117.9h0M322.2 122.9h0M325.8 113.4h0M323.7 119.2h0M325.3 115.4h0M324.5 120.1h0M326 110.3h0M322.7 123.4h0M328.8 108.1h0M324.2 119.1h0M323.1 113.2h0M324.2 113.3h0M324.4 108.1h0M324.3 118.5h0M325.9 113.2h0M322.7 121.8h0M322 120.3h0M323 117.4h0M324.1 117.8h0M323.4 116.5h0M325.5 112.1h0M324.9 119.3h0M322.6 121h0M322.4 120.7h0M326.7 112.1h0M323.4 114.7h0M325.5 110.9h0M322.5 122h0M324.9 116.4h0M325.7 114.4h0M328.6 108.1h0M325.4 117.6h0M325.8 111.9h0M324.4 121.9h0M324.9 111.8h0M325.6 114.3h0M323.5 120.2h0M322.6 117.4h0M324.1 116.6h0M322.4 117.4h0M326.2 109.3h0M321.8 119.3h0M324.3 111.3h0M325.4 114.7h0M326.3 109.1h0M325.3 111.1h0M327.5 108.7h0M324 123.8h0M326.6 108.2h0M326.6 107.5h0M326.6 107.5h0M325.5 117.4h0M324.5 113.1h0M324.8 114.1h0M323.8 120.8h0M324.5 114.5h0M325.7 114.1h0M326.2 112.7h0M322.5 120.1h0M326.1 110h0M326.6 109.1h0M327.2 108.6h0M324 116.5h0M322.1 120.8h0M320.8 120.6h0M325 114.2h0M326.2 110.3h0M324.3 118.6h0M324.3 120.4h0M326.3 110.4h0M322.7 143.2h0M321.6 143.7h0M320.6 143.1h0M321.4 138.9h0M321.8 143.6h0M321.1 139.2h0M320.9 142.7h0M320.8 140.5h0M321.6 141.1h0M320.4 142.1h0M320.5 138.6h0M321.4 141.2h0M321.9 143.9h0M320.3 141.1h0M320.9 145.7h0M321.6 143.2h0M321.7 142h0M319.8 139.8h0M321.3 138.4h0M322.3 138h0M321 141h0M321.6 139h0M323.5 142.2h0M321 141.9h0M320.8 140.2h0M320.8 143.6h0M321.5 142.6h0M321.4 140.5h0M322.2 141.2h0M322 142.2h0M320.6 142.3h0M321.4 141.8h0M321.7 140.8h0M322.9 142.9h0M321.8 140.7h0M319.9 141.8h0M321.9 142.7h0M320.5 141.7h0M321.8 137.5h0M320.8 142.8h0M322.1 136.3h0M321 139.7h0M324 141.2h0M322.7 140.4h0M322.8 142.3h0M321.2 144.1h0M321 145.3h0M321.1 142h0M321.2 141h0M322.8 139.8h0M319.5 140.4h0M321.5 142h0M321.1 139.4h0M321.6 139.6h0M319.7 132.9h0M319.9 133h0M319.6 134.9h0M318.7 134.9h0M320.2 133.3h0M320.5 134.4h0M322.3 138h0M320.1 134.3h0M319.4 134.2h0M320.5 134.4h0M319.8 136.2h0M319.3 135h0M319.4 135.1h0" stroke="#3c7cb0" stroke-width="1.5" stroke-linecap="round" fill="none"/>
<path d="M330.6 99.1h0M332.3 92.2h0M330.4 96.1h0M330.8 94.5h0M328 102.5h0M328.8 106.4h0M330.2 92.4h0M332 90.9h0M329.1 92h0M329.9 92.4h0M329.5 98.5h0M329.9 101.2h0M330.9 92.1h0M327.5 106.3h0M330.9 90.8h0M331.2 93.3h0M328 106.6h0M330.5 96.6h0M329.8 103.7h0M327.6 106.2h0M328.6 97.5h0M327.9 105.2h0M330.3 94.1h0M327.9 101.7h0M330.7 95.3h0M329.6 97.9h0M329.9 92.5h0M330.8 91.2h0M329.2 96.8h0M328.6 99.8h0M329.2 99h0M330.7 92.6h0M328.5 102.8h0M329.6 97.5h0M329.3 98.7h0M330.2 101.1h0M329.2 95.1h0M327.9 101.7h0M329.8 96.4h0M328 103.6h0M330.2 92.9h0M330.6 92.3h0M328.3 103.4h0M327.2 104.9h0M329.5 97.9h0M330.3 95.9h0M328.3 106.4h0M329.7 98.6h0M328.3 104h0M330.5 93.5h0M328.8 93.7h0M327.8 103.2h0M328.8 101.8h0M329.2 104.5h0M330.4 93.5h0M329.6 99.5h0M327.8 105.9h0M329 101h0M330.5 94.3h0M331.3 97.6h0M330.1 103.1h0M328.9 103.7h0M327.4 102.2h0M329.5 102.9h0M330.7 96.4h0M328.4 101.7h0M329.9 97.6h0M328.6 102.2h0M329 102.4h0M329 106.9h0M330.9 102.3h0M330.9 91.3h0M330.2 99.7h0M330.9 92.9h0M328.6 99.7h0M329 100.6h0M329.3 102.9h0M327.9 98.6h0M329.1 105.2h0M329.3 99h0M329.8 102.9h0M329.6 92.6h0M329.9 90.8h0M330.2 95.8h0M329.1 105.7h0M328.1 99.5h0M329.7 105h0M327.6 102h0M330.3 94.8h0M328.9 103.5h0M331.7 95.1h0M329.5 93h0M329.7 95.3h0M330.4 99.8h0M329.6 97.5h0M328.7 99.7h0M329.4 99.9h0M328.8 103.9h0M328.8 103.6h0M331.1 91.6h0M328.9 102.3h0M328.7 103.2h0M329.6 93.8h0M330.4 94h0M328.6 96.6h0M328.2 91.3h0M331.1 90.3h0M323.4 138.6h0M320.3 142.3h0M320.4 142.1h0M321.2 139.8h0M322.8 138.7h0M322.5 138.5h0M323.2 140.2h0M323.4 143.5h0M321.5 142.1h0M320.7 144.1h0M320.4 143.5h0M321.5 142.5h0M322.8 141.7h0M320.7 139.8h0M322.5 142.6h0M321.9 143h0M321.9 142.1h0M321.2 136.9h0M319.4 138.3h0M322 142h0M321.3 140.8h0M319.9 139.5h0M322 140.7h0M322.9 138.9h0M318.7 140.3h0M321 140.9h0M319.4 138.7h0M321.1 140.9h0M319.3 137.9h0M319.6 142h0M322.5 139.8h0M323.2 141.1h0M320.7 138h0M321.6 143h0M321.7 137.4h0M322 140.6h0M324.5 143.5h0M323.1 139.6h0M320.7 139.6h0M322.5 140.2h0M318.7 143.2h0M322.5 142.4h0M320.1 141.5h0M320 140.7h0M321.1 139.8h0M321.3 142.5h0M323.9 143.7h0M321.7 141h0M322.8 142h0M323.2 139h0M321.6 140.2h0M321.7 142.2h0M322.1 137.5h0M322.2 139.9h0M321.4 139.8h0M320.7 137.4h0M319.8 138.9h0M322.1 141.1h0M322.3 143.9h0M321.4 139.8h0M324 140.3h0M322.9 139.8h0M320.2 140.1h0M319.4 140.5h0M321.1 138.7h0M322.4 141h0M320 140.4h0M322.1 143.2h0M322.6 143.3h0M321.3 142.4h0M320.5 137h0M318.9 142.7h0M321.9 141.7h0M321.5 139.4h0M321.3 140.6h0M318.9 141.1h0M322 136.8h0M322.1 140.7h0M321.3 142.8h0M319.9 144.5h0M322.4 141.2h0M322.8 144.3h0M320.7 139.5h0M317.8 139.3h0M320.4 138.9h0M322 141.2h0M321.1 134.8h0" stroke="#4086bd" stroke-width="1.5" stroke-linecap="round" fill="none"/>
<path d="M331.5 80.6h0M333.7 75h0M329.9 86.3h0M333.5 78.4h0M333.8 74.6h0M330.6 84.3h0M334.1 75.4h0M333.9 78.1h0M331.3 87.9h0M332.3 86.6h0M333.4 83.2h0M331.9 84.2h0M329.9 88.6h0M333.2 80.8h0M333.4 78.9h0M330.2 88.1h0M330.8 88.3h0M332.2 81.4h0M332.6 77.1h0M332.5 77.1h0M330.5 89.2h0M334 75.4h0M334.6 74h0M334.1 77.3h0M331.6 90h0M332.9 79.8h0M334.3 76.1h0M330.3 75.9h0M333.6 80.1h0M333.5 81.2h0M334.2 74.5h0M332.7 79.1h0M332.9 80.8h0M332.9 87.1h0M333.2 81.8h0M332.3 83.4h0M331.6 89.4h0M330.8 85h0M330.9 87.8h0M333.5 85.1h0M332.9 89.6h0M331.7 89.4h0M331.6 84.5h0M334.8 82.2h0M331.9 79.1h0M331.8 75.8h0M331.2 89.1h0M332.5 75.1h0M332.5 82.1h0M332.2 85.9h0M333.5 77.8h0M333 78.4h0M332.5 81h0M332.6 82.2h0M331.6 84.3h0M332.1 83.6h0M330.5 87.2h0M334.4 79.4h0M332.8 90h0M331.1 86.4h0M330.8 88.4h0M330.1 88.5h0M333 87.2h0M332.9 80.5h0M334.2 76.6h0M332.5 75.8h0M331.1 89.6h0M334.5 77.3h0M332.4 85.9h0M332.2 88.8h0M332.6 78.1h0M333.5 74.8h0M331.4 80.3h0M332.4 86.1h0M332.3 80.3h0M331.9 88.7h0M334.9 76h0M331.2 86.8h0M331.7 83.9h0M332.2 83.7h0M333.3 78.5h0M331.8 89.8h0M332.1 86.7h0M334.3 79h0M330.6 86h0M332.8 80.6h0M330.2 88.1h0M330 88.2h0M333.1 81.3h0M333 75.4h0M333.6 79.7h0M334.4 76.5h0M333.7 77.4h0M333.2 75.8h0M331 84.3h0M333.2 78.6h0M332.3 87.4h0M331.3 89.1h0M330.8 82h0M331.9 84.9h0M334.4 80.6h0M331.9 76.4h0M333.7 75.8h0M331.7 88h0M334 73.1h0M334.3 74.2h0M334 73.4h0M333.9 73.7h0" stroke="#4590ca" stroke-width="1.5" stroke-linecap="round" fill="none"/>
<path d="M331.7 59.5h0M332.9 61.7h0M332.7 60.1h0M332.7 61.9h0M333.4 70.6h0M332.9 61.1h0M331.1 59.4h0M332.8 63h0M331.5 58.1h0M333.2 70.8h0M332.5 58.8h0M332.6 61h0M332.2 64.6h0M331.9 58.4h0M331.4 59.8h0M334.1 68.3h0M333.3 68.7h0M332.7 68.7h0M333.1 67.2h0M332.3 59.1h0M332.9 64h0M332 67.5h0M331.3 59h0M331.4 58.7h0M332 64.4h0M332.7 63.5h0M334.1 71.5h0M333.1 66.1h0M332.3 65.3h0M331.9 58.2h0M333.6 71.6h0M332.8 63.6h0M333.1 70.8h0M332.3 69h0M333.1 69.6h0M333.1 68.9h0M333.6 72h0M332.6 63.4h0M332.2 63.9h0M331.9 60.5h0M331.6 57.9h0M332 58.4h0M333.3 68.1h0M333.6 68.7h0M332.4 66.5h0M331.6 59h0M333.1 66.7h0M332.4 65.1h0M331.9 59.9h0M332 60.4h0M332.2 61.9h0M331.3 60.2h0M333.7 67.4h0M332.5 65h0M332 58.9h0M333 68h0M332.6 60h0M331.7 58.5h0M333.5 68.5h0M333.8 66.2h0M333.3 65h0M332.6 67.1h0M331.8 61.1h0M332.7 67.6h0M333.2 69.7h0M333.2 66.1h0M333.4 67.1h0M332.9 64.4h0M332.3 65.9h0M333.3 63.5h0M332.7 64.4h0M333 68.3h0M332.8 71.2h0M332.3 61.4h0M332.5 60.4h0M333.8 72.6h0M334.3 71.5h0M333.6 72.5h0M331.8 59.8h0M332.1 64h0M333.3 68.6h0M331.3 58.5h0M333.7 69.1h0M332.8 63.7h0M331.6 58.6h0M331.9 61.6h0M332.3 65.7h0M332.3 61.3h0M333.7 68.6h0M331.3 62.4h0M332.2 64.2h0M330.9 60.4h0M332.8 63.5h0M332.4 61.9h0M331.6 60.4h0M334.2 71.2h0M332.6 64.7h0M331.8 59h0M333.5 66.4h0M333 70.8h0M331.2 59h0M332.4 60.2h0M331.6 60.8h0M332.4 67.2h0M331.6 59.3h0M331.8 62.4h0M331.7 60.4h0M334.6 72.4h0M332.8 67.2h0M331.1 58.2h0M332.6 62.8h0M332.6 71.5h0M332.8 67.1h0M334.1 68.7h0M332.2 58.6h0M331.1 61.5h0M333.4 70.5h0M332.4 64.4h0M333.6 72.1h0M331.5 61.7h0M332.5 66.7h0M332.3 62.4h0M333.1 67.5h0M333 70h0M333.8 65h0M332.7 62.3h0M333.6 70.7h0M330.6 58.5h0M331.4 59.8h0M332.4 63h0M332.8 63.4h0M331.9 58.4h0M333.8 71.6h0M332.9 68h0M331.9 63.4h0M331.3 61.5h0M332.9 60h0M330.6 58.6h0M332.2 59.6h0M333.1 61.8h0M332.3 65.2h0M332.7 66h0M332.1 69.5h0M330.1 64.2h0M326.6 68.2h0M327.1 60.3h0M329.6 61.6h0M340.3 68.6h0M340.8 69.3h0M341.1 72h0M340.1 67.5h0M340.4 72.3h0M335.4 73h0M337.2 72h0M336.8 73h0M336.9 73.2h0M342.5 70.4h0M341.7 72.8h0M335.6 74.3h0M335.8 73.1h0M335.4 72.7h0M339.3 71.7h0M339.9 69.1h0M339.5 73.3h0M341.3 69.3h0M339.8 68.1h0M337.8 69.2h0M339.3 73.3h0M334.7 72.5h0M339.1 67.7h0M334.4 72.2h0M339.3 66.9h0M341 69.3h0M336.6 71.3h0M335.1 73.7h0M334.9 73.2h0M334.7 74.2h0M341.7 70.9h0M338.6 73.3h0M335.7 72.8h0M342.3 72.8h0M339.4 69.6h0M342.4 72.1h0M336.6 70.1h0M342.5 69.9h0M335.2 74.3h0M336.5 74.6h0M339.6 66.3h0M334.4 73.4h0M340.8 73.1h0M335.7 71.1h0M342.2 69.7h0M336.2 73.5h0M338.7 70.3h0M336.6 72.8h0M340.8 72.8h0M334.6 73.4h0M337.9 74.1h0M337.3 74.5h0M341.3 72.8h0M339.1 72.3h0M337.3 74.2h0M344 70.9h0M338.8 68.6h0M342.9 72.2h0M338 69.4h0M338.8 67.8h0M336.6 70.9h0M339.5 70.4h0M338.1 73.3h0M342.5 71.9h0M339.6 68.1h0M341.3 69.2h0M334.8 71.8h0M336.9 71.2h0M338.7 69.2h0M338.9 68.7h0M337 71.2h0M335.3 72.7h0M335.8 74.3h0M340.2 68.5h0M341.2 70.5h0M335.1 73.1h0M340.3 72.3h0M342.4 69.7h0M342.8 70.5h0M338 73.1h0M334.9 73.8h0M337.5 73.3h0M336.3 72.8h0M338.6 71.3h0M334.5 72.8h0M342.6 72.1h0M336.8 69.9h0M339 69.8h0M336.9 72.5h0M341.7 73.1h0M337.7 70.2h0M340.6 73.4h0M339.9 72.6h0M336.5 70.7h0M337.3 71.1h0M340.5 70.6h0M339.8 68.2h0M339.6 70.8h0M336.3 70.4h0M335.5 74.5h0M336.6 72.9h0M338.3 72.5h0M341.9 69.3h0M338.9 71.2h0M339.5 72.8h0M336.5 71.8h0M335.3 74.2h0M339.6 67.7h0M341.9 71.7h0M334 72.6h0M336.5 73.9h0M337.2 71.8h0M341.2 73.1h0M338.3 74.1h0M336 73.5h0M334.9 73.1h0M341.8 72.1h0M336.5 71h0M338.5 68.2h0M338.4 67.7h0M343 70.7h0M336.7 72.5h0M337.8 74.6h0M341.8 69.6h0M336 73.4h0M334.8 74.2h0M342.2 74.3h0M337.6 72.3h0M341 73.1h0M337.6 72.8h0M337.5 69.9h0M339.6 68.3h0M334.6 72.2h0M340.8 73.8h0M335.9 73.1h0M339.1 73.2h0M334.6 72.1h0M338.1 69.6h0M341.4 71.5h0M336.7 70.7h0M337.1 70h0M338.2 72.7h0M336.4 72.5h0M335.8 73.1h0M335.3 74.2h0M339.9 73.8h0M336.3 72.4h0M338.9 70.4h0M337.4 72.3h0M341 73.8h0M334.4 72.7h0M335.1 72.6h0M340.2 69h0M337.8 70.1h0M340.5 72.8h0M339 69.3h0M339.1 71.7h0M339.4 73.8h0M338.8 69.1h0M337.8 69.4h0M338.9 72.2h0M338 70.8h0M340.8 73.3h0M336.5 74h0M335.4 72.2h0M337.9 68.9h0M338.6 69.6h0M339.1 72.5h0M335.1 73.1h0M335.2 72.4h0M341.8 71.1h0M334.9 72.9h0M341.3 69.4h0M336.5 72.2h0M338 70.5h0M334.5 72.4h0M339.1 71.9h0M344.5 71.1h0M335.1 74.2h0M335.9 74.1h0M341.9 69.7h0M335.2 72.6h0M335 73.6h0M336.8 73.2h0M339.3 69.6h0M339.2 71.6h0M337.3 73.3h0M337.1 69.2h0M340.1 68.4h0M336.9 70.1h0M339.4 69.7h0M340 72.5h0M336.5 73.5h0M336.1 72.3h0M338.5 70.8h0M334.4 72.7h0M339.5 69.5h0M341.4 70.7h0M339.7 68h0M336.3 72.4h0M340.3 71h0M335.5 73.4h0M336.4 71.8h0M340.3 73h0M337.2 70.3h0M338.5 71.8h0M341.6 69.7h0M336.9 72.9h0M341.5 73.2h0M335.3 71.5h0M340.4 71.3h0M334.9 72.5h0M336.1 71.1h0M340.2 68.3h0M336.7 72.5h0" stroke="#4a99d7" stroke-width="1.5" stroke-linecap="round" fill="none"/>
<path d="M331 55.6h0M330.9 50.4h0M330 51.5h0M330.6 43.9h0M330.7 53.9h0M329.2 52.5h0M328.6 49.5h0M328.8 46.9h0M329.6 53h0M330.4 52.2h0M329.3 45.6h0M330.7 54.2h0M327.7 45.2h0M329.4 49.5h0M329.3 46h0M331.7 57.4h0M330.2 55.1h0M331 54h0M330.6 56.9h0M329.5 44.3h0M329.8 54.7h0M328.7 42.6h0M331.2 56h0M330.9 50.6h0M329.3 46.8h0M329.1 49.4h0M329.5 48h0M330 50.1h0M330.1 46.1h0M328.8 44.5h0M330.9 55h0M330.1 50.3h0M331 48.3h0M329.9 49.7h0M329.3 50.3h0M331.5 57.7h0M331.1 52.5h0M329.3 53.4h0M329.3 52.1h0M325.8 43.3h0M330.2 56.1h0M330.2 52h0M328.4 46.8h0M328.2 44.2h0M330.7 45.1h0M331.2 52.7h0M329.2 47.8h0M329.1 44.7h0M328.4 48.6h0M330.2 56.1h0M330.8 55.4h0M330 46.6h0M330.6 55.7h0M329.2 50.3h0M328.6 45.9h0M327.8 45.3h0M330.5 43.1h0M331.6 56.1h0M330.7 54h0M331.5 45.1h0M329.9 44.2h0M331.2 56.2h0M329.8 48.4h0M331.5 53.5h0M328.6 47.4h0M328.4 44.7h0M330.8 47h0M328.2 47.4h0M328.3 45.9h0M329.6 52.3h0M328.2 46.5h0M330.8 54.8h0M328.1 46.3h0M330.5 50.9h0M330.3 54.5h0M328 47.1h0M330.2 52.9h0M328.8 42.7h0M329.3 43.8h0M330.9 47.4h0M330.9 51.4h0M330 53.3h0M329.7 52.3h0M329.9 47.3h0M330.2 48.5h0M330.7 53h0M331.4 42.7h0M326.4 45.5h0M328.6 46h0M327.8 43h0M326.6 47h0M328.2 46h0M329.6 51.8h0M330.5 53.3h0M329.1 47h0M330.9 43.4h0M330.4 48.9h0M329.9 49.9h0M325.9 43.2h0M329.7 48.6h0M331.8 53.9h0M329.6 42.9h0M331.1 53.3h0M329.7 45.6h0M329.4 52.8h0M331.1 50.6h0M329.8 49.1h0M330.3 45.4h0M329.2 45.6h0M331.9 54.3h0M330.9 50.1h0M330.3 57.2h0M327.3 45h0M329 47.5h0M330.5 49.6h0M328.6 46.8h0M331.7 57.6h0M328.1 44.2h0M331.5 56.1h0M330.3 52.3h0M332.2 56.5h0M326.5 43.5h0M329.6 49.6h0M330 47.6h0M329.1 44.2h0M329.4 42.5h0M331.2 54.9h0M329.1 50.2h0M331.3 55.9h0M329.9 55.2h0M331.2 48.2h0M329.5 44.4h0M330 49.2h0M326 43.1h0M329.3 44.6h0M329.9 48.5h0M330.9 50.5h0M330.6 53.1h0M329.4 49.5h0M329.2 52.5h0M330.4 54.6h0M329.6 52h0M326.7 46.1h0M330.8 54.4h0M327.8 44.5h0M328.9 49.8h0M327.7 44.1h0M328.5 49.9h0M330.5 51.8h0M326.5 43.7h0M329.4 52.9h0M328.3 46.5h0M329.2 44.5h0M331 52.9h0M331 52.2h0M327.5 46.1h0M328.4 46.6h0M331 43h0M328.4 48.1h0M331.2 44.5h0M329.4 49h0M331.2 50.3h0M327 45.2h0M330.6 55.3h0M330.4 47.1h0M331.7 57.3h0M331.5 55h0M330.1 52.2h0M331.2 57.1h0M330.8 51.6h0M327.8 48.9h0M330.7 45.1h0M331.1 57.6h0M328.6 51.4h0M330.3 52.7h0M326.8 46.2h0M330.1 52.4h0M328.7 44.8h0M330.3 55.1h0M330.6 53.7h0M329.4 44.8h0M330.7 42.7h0M328.2 48.6h0M330.2 51.7h0M329.3 48.7h0M330.7 55.2h0M329.3 50.2h0M330.7 57.3h0M329.4 48.1h0M330.7 42.6h0M328.1 43.7h0M330.3 54.9h0M329.7 47h0M329.3 53.3h0M327.7 45.2h0M330 53h0M329.3 49.2h0M328.6 47.2h0M330.7 50.5h0M330.9 48.2h0M329 49.8h0M329.2 52.2h0M329 50.2h0M331.2 57h0M330.6 48.4h0M331.3 46.7h0M328.4 48.7h0M330.9 55.9h0M327.7 56.1h0M326.5 44.7h0M345.8 68.3h0M340.5 67.8h0M343.3 65.4h0M342.5 63.6h0M340.6 66.2h0M341.1 64.9h0M343.7 63.5h0M343 66.3h0M345.9 63.3h0M343.4 63.6h0M344.5 65.4h0M342.5 69h0M345.4 66.7h0M342.8 66.8h0M344.3 63.7h0M344.2 70.2h0M345.9 61.1h0M343.4 66.3h0M344 62.1h0M345 69.1h0M345.7 63.2h0M345.8 67.2h0M345.4 67.2h0M345.8 62h0M345.1 68.3h0M347.1 63.1h0M343.2 67.9h0M347.6 64.3h0M346.3 69.3h0M346.8 65.7h0M344.7 62.2h0M343.8 70.3h0M343.8 63.4h0M341.2 68.4h0M345.9 62.6h0M341.1 63.8h0M345.2 61.1h0M341 66h0M345 67.4h0M346.4 67.2h0M345.1 65.3h0M341.3 64.1h0M344 63.4h0M344.6 62.4h0M342.4 64.2h0M343.6 66h0M343.9 62.4h0M341.8 64.1h0M346.2 67.8h0M341.7 65.9h0M344.9 62.6h0M344.1 64h0M346 63.7h0M344.8 69h0M341.6 66.3h0M343.1 63.8h0M342.5 63.9h0M343 69.3h0M344.4 65.1h0M342.7 62.7h0M346.2 67.9h0M343.1 65.4h0M343.7 66.7h0M343.2 70h0M341.9 65.4h0M345.4 68.3h0M344.2 63.7h0M341.7 67.3h0M343.4 63.2h0M345.1 63.2h0M347.7 62.6h0M344.5 66.3h0M344.8 62.3h0M346.2 67.8h0M340.4 66.1h0M343.2 63.6h0M344 61.9h0M345.7 66.2h0M344 67.4h0M343.9 65.5h0M341.2 66.4h0M344.8 66.3h0M345.8 61.8h0M343.1 69.3h0M340 65.8h0M342.1 64.9h0M340.3 66.5h0M346.8 63.8h0M344.4 67.2h0M346.7 62.4h0M345.3 67.3h0M343.5 61.9h0M342.1 63.7h0M345.2 60.8h0M347.8 61.8h0M341 67.5h0M345.2 64.8h0M343.2 64.4h0M340.2 65.9h0M344.7 68.9h0M343.9 65.9h0M341.3 65.7h0M340.8 67.9h0M341.8 68.5h0M343.8 70h0M346 64.5h0M341.3 67.3h0M346.2 68.4h0M346 62h0M345.2 62.6h0M341.3 67.5h0M344.2 70.2h0M346.2 66.2h0M345.3 64.5h0M344.3 65.1h0M347.9 63.8h0M341.3 65.9h0M345.3 68.6h0M343.3 68.7h0M346.5 63.9h0M345.3 70.2h0M344.5 63.1h0M345.4 60.9h0M341.2 66.4h0M339.6 66.6h0M347.2 61.7h0M345.2 70.6h0M345.5 65.5h0M344.2 63.3h0M339.8 65.5h0M345.3 61.9h0M346.4 63.6h0M346.7 62.8h0M343.2 63.5h0M346.9 62.8h0M343.1 69.9h0M341.2 66.2h0M340.8 66.9h0M342.6 63.2h0M345.9 64.2h0M347.5 61.8h0M344.4 68.7h0M346.5 68.2h0M345.6 64.1h0M343.5 67h0M346.6 62.4h0M343.6 65.5h0M344.7 61.4h0M344.8 62.2h0M343.6 64.4h0M345.7 65.4h0M341.5 65.5h0M342 66.5h0M345.9 61.3h0M343.5 64.9h0M343.1 67.5h0M341.6 65.8h0M346.6 61.9h0M345.4 63.9h0M343.9 66.2h0M343.5 67.1h0M345.5 68.5h0M346 63.7h0M347 61.4h0M343.2 63.3h0M343.4 65.7h0M342.5 63.5h0M342.5 63.9h0M345 68h0M341.6 64.2h0M345 69.6h0M343.3 62.5h0M347 64.3h0M345.1 61.5h0M345.6 68.1h0M344.5 60.8h0M343.6 61h0M342 65.1h0M343.2 66.5h0M343.2 68.9h0M343 66.1h0M344.5 69.4h0M340.8 65h0M345.6 65.6h0M346.1 65.8h0M346 61.6h0M341.9 65.9h0M343.6 62.3h0M345.1 70.1h0M346.1 63.6h0M345.3 70.9h0M345.1 66.8h0M343.9 69.3h0M342.2 63.3h0M346.9 64.1h0M343.2 65.5h0M344.6 61h0M343.8 64h0M342.7 67.5h0M344.8 62.9h0M341.2 65h0M342.6 65.8h0M341 67h0M341.8 65.4h0M344.6 60.9h0M342.2 63.1h0M344.1 69.9h0M342.2 64.3h0M345.1 68h0M343.2 62.9h0M342.8 63.2h0M341.4 66.6h0M345.9 69.1h0M345.6 63.8h0M344.3 69.2h0M347.3 62.4h0M347.2 63.6h0M343.2 69.1h0M340.3 65.2h0M345.6 61h0M345.5 62.6h0M344.7 60.6h0" stroke="#4fa3e4" stroke-width="1.5" stroke-linecap="round" fill="none"/>
<path d="M325.3 30.4h0M326 35.9h0M327.9 38.9h0M326.9 42.6h0M329.1 37.8h0M325.8 40.9h0M331 35.3h0M326.6 37.4h0M324.8 37.7h0M328.2 40.1h0M326.3 35.5h0M330.8 40h0M330.1 41.6h0M326.5 42.2h0M329.2 39.1h0M324.7 28.5h0M323.3 28.5h0M327.3 38.4h0M325.4 43h0M329.5 40.3h0M328.2 38h0M324.3 31.9h0M327.4 42.4h0M323.8 30.9h0M325.6 33.5h0M328.8 37.7h0M324.4 29.4h0M329.1 36.5h0M328.3 42.1h0M323.3 29.1h0M325.8 31.9h0M322.8 28.4h0M324.5 36.2h0M324.2 33.6h0M331.3 40.3h0M325.9 40.5h0M328.4 39.9h0M329.7 37h0M330.8 41.2h0M326.7 40.9h0M326.7 30h0M328.1 39.4h0M326 40.3h0M328.9 36.1h0M325.6 29.5h0M327.4 42h0M327.5 39.2h0M325.8 31.7h0M325.1 29.5h0M325 33.9h0M327.6 31.7h0M324.8 27.9h0M325.2 28.5h0M326.5 41.4h0M331.1 41.3h0M328.5 37.9h0M330.7 40.7h0M325.2 34.7h0M323.7 37.2h0M326 34.6h0M326.1 38.1h0M330.4 37.1h0M328.8 41.3h0M325.4 36.4h0M327.2 37.4h0M325.8 40.7h0M324.6 37.6h0M324.7 32h0M325.3 35.6h0M324.7 29.7h0M326.5 39.1h0M328.3 41.3h0M326.5 29.8h0M326 36.7h0M327.1 31.5h0M328.1 41.7h0M324.9 37.6h0M323 29.6h0M326.4 30.3h0M327.9 35.9h0M329 37h0M323.7 33.8h0M325.8 38.7h0M325.4 27.9h0M330.2 41.1h0M329.2 41.1h0M325.4 30.1h0M327.8 32h0M327.6 40.7h0M323.7 29h0M323.5 29.6h0M323.1 28.5h0M322.9 30.9h0M326.8 35.2h0M323.9 28.9h0M325.8 33.4h0M328.2 35.1h0M323.3 32.5h0M329.1 35.7h0M327 33.3h0M326.7 41.9h0M326.7 42.7h0M326.5 40.9h0M324.3 30.4h0M326.8 31.1h0M326.8 42.8h0M326.1 41.9h0M327.1 37.9h0M331.9 40h0M331.4 41.9h0M325.3 29.4h0M330.9 41.9h0M326.8 40.3h0M323.8 35.6h0M322.9 28.6h0M323.8 37.1h0M327.3 31.4h0M330.5 35.8h0M324.6 35.6h0M329.8 38.5h0M331.1 41.3h0M325.1 28.3h0M323.7 32h0M327.9 35.5h0M325.7 42.6h0M325.4 34.1h0M327 31.1h0M325 31.2h0M327 40.8h0M324.4 32.4h0M324.8 35.5h0M331.3 40.4h0M324.1 33.3h0M324.9 41.2h0M324.3 29.3h0M324.9 34.1h0M325.1 30.6h0M327 32.1h0M328.4 34.3h0M323.5 29h0M330.4 39h0M324.9 37.7h0M324.2 35h0M325.4 42.3h0M323.8 35.6h0M329.2 35.9h0M324.6 33h0M323.3 31.8h0M326.2 29.2h0M326 35.1h0M326.5 39.1h0M323.2 31.4h0M326.1 34.6h0M326.7 33.3h0M324.1 39h0M324.1 28.1h0M323.6 28h0M324.4 31.6h0M328.2 37.9h0M323.1 37.4h0M324.9 30h0M324.5 43.2h0M327.4 39h0M327.7 42.5h0M324.5 28.6h0M325.4 30.4h0M327.4 40.7h0M328 32.1h0M326.6 41.7h0M327.8 33.5h0M323.6 29h0M326.9 33.9h0M326.7 40.8h0M328.9 36.9h0M326.4 37.1h0M330.7 37.9h0M328.4 38.5h0M324.6 28.9h0M329.5 37.3h0M324.3 29.4h0M325 34.7h0M328.4 37.9h0M323.9 28.8h0M324.3 38.8h0M326.3 35h0M329.5 41.2h0M324.1 34.8h0M329.2 34.4h0M325.9 30.1h0M327.2 31.8h0M324.6 31.9h0M325.6 39.4h0M328.8 39.5h0M329.6 38.1h0M328.2 39.8h0M328.5 32.1h0M327.2 39.8h0M325 28.8h0M330 39.6h0M325.1 29.8h0M324.1 33h0M330 37.7h0M324.2 36.2h0M323.9 31.5h0M325.1 30.7h0M330.8 39.5h0M325.9 33.2h0M324.5 36.8h0M331.2 38.9h0M330.3 38.6h0M327.4 33.3h0M325 27.7h0M327.7 38.6h0M323.2 28.8h0M326.2 38.9h0M323.6 30.9h0M326.2 38.3h0M324.7 30.8h0M328.1 32.2h0M324.1 32.8h0M323.6 28.7h0M326.4 35.2h0M325.6 32.2h0M326.4 39.8h0M324 40.7h0M330.5 40.5h0M325.5 31.2h0M327.6 35.5h0M323.8 29.4h0M328.3 38.1h0M324.2 34.9h0M327.6 39h0M326 36.3h0M329.9 39.3h0M325.2 32.6h0M325.7 29.7h0M324.1 28.4h0M324.7 40.7h0M324.6 30h0M326.1 31.7h0M325.1 31h0M327 30.5h0M325.7 32.1h0M326.9 37.6h0M324.5 40.4h0M327.2 39.6h0M322.9 38.4h0M326.4 31.8h0M327.2 41.9h0M324.7 30.9h0M324.1 28.7h0M328.8 38.6h0M327.5 40.2h0M324.7 30.2h0M323.7 28.9h0M325.4 41.7h0M326.8 34.4h0M324.1 34.7h0M323.7 28.6h0M324.6 33.2h0M323.3 37.1h0M326.7 34.5h0M327.9 32.1h0M323 29.3h0M326.4 34.3h0M325.7 34.2h0M324.7 39.2h0M324.6 34.2h0M324 40.6h0M323.9 44.3h0M345.9 59.4h0M345.2 60.4h0M347.7 61.3h0M346.6 58.3h0M345.6 59h0M346.3 57.9h0M346.2 59.6h0M346.5 58.9h0M346.3 57.6h0M346.1 60h0M344.9 60.3h0M347.1 60.8h0M344.8 59.6h0M345.1 60.1h0M346.1 60.4h0M346.2 57.9h0M346.3 58.4h0M346.3 59.9h0M346.5 58.5h0M346.1 58.9h0M347.1 59.6h0M346.1 59h0M346.4 58.7h0M345.9 58.8h0M346.3 59.9h0M345.4 60.3h0M346.6 58.2h0M346.1 59.1h0M345.7 58h0M345.9 58.6h0M346.6 57.6h0M345.8 60.7h0M345.7 58.5h0M346.3 57.7h0M346.9 58.3h0M345.5 59h0M345.1 59.2h0M346.7 60.8h0M347.3 60.8h0M346.2 60.4h0M346.1 60.5h0M345.6 58.2h0M345.7 58.8h0M346.9 61.1h0M346.4 60.4h0M347.8 60.9h0M346.5 58.1h0M346.1 58.6h0M346.6 61.2h0M345.1 60.5h0M345.6 57.7h0M346.3 59h0M345.2 59.5h0M346 60.3h0M344.6 60.5h0M347.1 59.6h0M347.1 60h0M346.4 59.4h0M344 60.3h0M346.2 59.4h0M346.9 58.8h0M346.4 58.9h0M346 58.5h0M347.2 60.9h0M346.1 58.1h0M345.8 58.3h0M344.8 59.4h0M346.7 58.7h0M347.3 58.8h0M347.4 59.9h0M344.7 59.4h0M344.9 60.1h0M345.9 59.3h0M346 58h0M345.8 59h0M346.5 57.9h0M346.1 59.4h0M347 59.8h0M347.4 60.8h0M346.5 59.4h0" stroke="#54acf1" stroke-width="1.5" stroke-linecap="round" fill="none"/>
<circle cx="333.9" cy="73.7" r="2" fill="#000"/>
<text x="333.9" y="74.6" font-size="2.6" text-anchor="middle" fill="#fff" stroke="#fff" stroke-width="0.03">1</text>
<circle cx="316.3" cy="128" r="2" fill="#000"/>
<text x="316.3" y="128.9" font-size="2.6" text-anchor="middle" fill="#fff" stroke="#fff" stroke-width="0.03">2</text>
<circle cx="306.1" cy="128.9" r="2" fill="#000"/>
<text x="306.1" y="129.8" font-size="2.6" text-anchor="middle" fill="#fff" stroke="#fff" stroke-width="0.03">3</text>
<path d="M209.6 22L209.6 150.7" stroke="#555" stroke-width="0.5"/>
<path d="M209.4 150.5L354 150.5" stroke="#555" stroke-width="0.5"/>
<path d="M208.6 43.5L209.6 43.5" stroke="#555" stroke-width="0.4"/>
<text x="207.8" y="44.4" font-size="2.6" text-anchor="end" fill="#444" stroke="#444" stroke-width="0.03">10</text>
<path d="M208.6 68.6L209.6 68.6" stroke="#555" stroke-width="0.4"/>
<text x="207.8" y="69.5" font-size="2.6" text-anchor="end" fill="#444" stroke="#444" stroke-width="0.03">5</text>
<path d="M208.6 93.7L209.6 93.7" stroke="#555" stroke-width="0.4"/>
<text x="207.8" y="94.6" font-size="2.6" text-anchor="end" fill="#444" stroke="#444" stroke-width="0.03">0</text>
<path d="M208.6 118.8L209.6 118.8" stroke="#555" stroke-width="0.4"/>
<text x="207.8" y="119.7" font-size="2.6" text-anchor="end" fill="#444" stroke="#444" stroke-width="0.03">−5</text>
<path d="M208.6 143.9L209.6 143.9" stroke="#555" stroke-width="0.4"/>
<text x="207.8" y="144.8" font-size="2.6" text-anchor="end" fill="#444" stroke="#444" stroke-width="0.03">−10</text>
<path d="M252.4 150.5L252.4 151.5" stroke="#555" stroke-width="0.4"/>
<text x="252.4" y="154.6" font-size="2.6" text-anchor="middle" fill="#444" stroke="#444" stroke-width="0.03">−10</text>
<path d="M300.6 150.5L300.6 151.5" stroke="#555" stroke-width="0.4"/>
<text x="300.6" y="154.6" font-size="2.6" text-anchor="middle" fill="#444" stroke="#444" stroke-width="0.03">0</text>
<path d="M348.8 150.5L348.8 151.5" stroke="#555" stroke-width="0.4"/>
<text x="348.8" y="154.6" font-size="2.6" text-anchor="middle" fill="#444" stroke="#444" stroke-width="0.03">10</text>
<text x="202" y="86.5" font-size="3.5" text-anchor="middle" transform="rotate(-90 202 86.5)" stroke="#000" stroke-width="0.03">Component 2</text>
<text x="281.7" y="157.8" font-size="3.4" text-anchor="middle" stroke="#000" stroke-width="0.03">Component 1</text>
</g>
<g id="pC">
<text x="354.5" y="16.9" font-size="21" stroke="#000" stroke-width="0.15">C</text>
<text x="379" y="15.2" font-size="3.2" stroke="#000" stroke-width="0.03">celltype</text>
<circle cx="394.4" cy="10.3" r="0.85" fill="#F8766D"/>
<text x="398.8" y="11.3" font-size="2.85" fill="#222" stroke="#222" stroke-width="0.03">Epithelial cells</text>
<circle cx="421.5" cy="10.3" r="0.85" fill="#93AA00"/>
<text x="425.8" y="11.3" font-size="2.85" fill="#222" stroke="#222" stroke-width="0.03">MSCs</text>
<circle cx="438.4" cy="10.3" r="0.85" fill="#00C19F"/>
<text x="443.2" y="11.3" font-size="2.85" fill="#222" stroke="#222" stroke-width="0.03">Neutrophils</text>
<circle cx="461.2" cy="10.3" r="0.85" fill="#619CFF"/>
<text x="466" y="11.3" font-size="2.85" fill="#222" stroke="#222" stroke-width="0.03">B cells</text>
<circle cx="490.9" cy="10.3" r="0.85" fill="#FF61C3"/>
<text x="495.5" y="11.3" font-size="2.85" fill="#222" stroke="#222" stroke-width="0.03">Stromal cells</text>
<circle cx="394.4" cy="17.9" r="0.85" fill="#D39200"/>
<text x="398.8" y="18.9" font-size="2.85" fill="#222" stroke="#222" stroke-width="0.03">Macrophages</text>
<circle cx="421.5" cy="17.9" r="0.85" fill="#00BA38"/>
<text x="425.8" y="18.9" font-size="2.85" fill="#222" stroke="#222" stroke-width="0.03">CSCs</text>
<circle cx="438.4" cy="17.9" r="0.85" fill="#00B9E3"/>
<text x="443.2" y="18.9" font-size="2.85" fill="#222" stroke="#222" stroke-width="0.03">T cells</text>
<circle cx="461.2" cy="17.9" r="0.85" fill="#DB72FB"/>
<text x="466" y="18.9" font-size="2.85" fill="#222" stroke="#222" stroke-width="0.03">Endothelial cells</text>
<path d="M387.3 90.6L420.8 109.5L449.5 124.2L469.4 130.5L479.5 129.7" stroke="#000" stroke-width="0.75" fill="none" stroke-linejoin="round"/>
<path d="M479.5 129.7L484.5 117.3L489 106.1L493.1 91.5L497 77" stroke="#000" stroke-width="0.75" fill="none" stroke-linejoin="round"/>
<path d="M479.5 129.7L480.9 133.4L482.1 136.3" stroke="#000" stroke-width="0.75" fill="none" stroke-linejoin="round"/>
<path d="M497 77L495.3 65L493 54.1L490.2 40.4L487.6 34.6" stroke="#000" stroke-width="0.75" fill="none" stroke-linejoin="round"/>
<path d="M497 77L500.8 75.5L504.6 73.2L508 68L509.4 63.3" stroke="#000" stroke-width="0.75" fill="none" stroke-linejoin="round"/>
<path d="M496.6 72h0M443.7 122.1h0M506.2 72.7h0M496.8 70.9h0M497.1 76.7h0M509.6 65.5h0M468.2 132.7h0M492.4 101.3h0M419.1 109.5h0M495.3 62.3h0M493.7 95h0M494.6 61.8h0M494.2 94.4h0M420.8 108.7h0M492.4 52.7h0M507.4 70.7h0M490.9 59.9h0M495.4 94.9h0M492 105.9h0M496.4 72.2h0M494 90.7h0M490.1 49.4h0M509.2 64.1h0M496.7 74.1h0M460.4 128h0M455.5 130.2h0M506.6 70.6h0M500.8 73.5h0M493.4 103.6h0M495.7 85.3h0M391 88.8h0M493.4 90.9h0M456.7 127h0M403.4 104.9h0M495.7 70.6h0M492.1 103.4h0M494.3 54.3h0M496.3 69.7h0M487.7 115.2h0M495 79.6h0M488.6 113.1h0M495.6 70.2h0M502.1 72.7h0M493.9 91.2h0M508 71.4h0M508.6 69h0M496.2 69.6h0M510.1 63.3h0M509.7 66.4h0M494.7 87.2h0M491.5 52.2h0M496.3 81.7h0M493.7 96.2h0M499.4 73.8h0M391 88.8h0M496.2 72.4h0M495.9 67.2h0M449.4 125h0M489.1 41.1h0M465.5 134.3h0M477.5 137.2h0M492.7 95.4h0M495.6 85.2h0M496.4 71.5h0M508 70.9h0M508.5 70.2h0M501.1 73.9h0M479.5 134.5h0M435.6 116.8h0M493.8 99h0M504.4 70.7h0M506.2 67.1h0M457.1 127.7h0M493.7 101.7h0M487.8 36.6h0M440.8 119.9h0M488.8 116.5h0M509.6 62.1h0M502.6 71.8h0M509.3 71.9h0M495.4 69.4h0M507.4 68.7h0M506.5 68.5h0M510.1 63.7h0M491.7 102.2h0M495.6 79.1h0M447.2 125.2h0M496 92.4h0M508.9 66.2h0M508.1 71.5h0M432.3 115.4h0M465.5 131h0M495 82.2h0M505.6 73.8h0M492.5 53.1h0M494 94.1h0M494.2 63.1h0M495 64.2h0M493.5 96.7h0" stroke="#F8766D" stroke-width="1.5" stroke-linecap="round" fill="none"/>
<path d="M496 82.9h0M492.6 48.6h0M494.5 83.4h0M471.1 134.4h0M504.7 70.8h0M460.1 128.4h0M497.2 78.6h0M476.1 136.3h0M438.8 118.2h0M454.7 129.1h0M485.1 125.5h0M496.7 75.4h0M457.6 128.6h0M450 122.6h0M496.3 79.1h0M492.4 99.4h0M495.4 65h0M455.5 127.6h0M508.6 62.8h0M470.5 132.8h0M478.9 136.2h0M507.7 65.1h0M508.2 71.7h0M451.7 126.8h0M466.4 135.1h0M469.1 134.3h0M473.3 136.8h0M471.1 135.4h0M474.6 138.8h0M506.6 64.7h0M457 128.7h0M498.2 76h0M503.3 72h0M492.7 100.1h0M495.9 92.9h0M509.2 69.7h0M508.2 62.9h0M500.2 72.7h0M466.4 136.8h0M472.2 137.4h0M458.3 128h0M421.7 109.8h0M500.4 74.4h0M508.2 66.8h0M492.5 102.4h0" stroke="#D39200" stroke-width="1.5" stroke-linecap="round" fill="none"/>
<path d="M495.6 64.1h0M510.9 67.3h0M489.6 45.2h0M418.3 110.4h0M493.7 52.4h0M416.8 103.6h0M385.7 89.6h0M490.8 49.4h0M387 89h0M486.4 33.4h0M507.3 67.3h0M488.8 34.3h0M488 32.6h0M386.9 88.9h0M495.8 71.1h0M492.6 56.8h0M487.7 47.5h0M489.8 34.6h0M383.2 90.6h0M502.3 70.4h0M487.5 36.5h0M386 88.1h0M504 69.5h0M495.6 80.3h0M391.5 82.8h0M387.3 88.8h0M385.8 89.6h0M499.1 76.8h0M495.6 78.4h0M496.5 70.6h0M384.5 91.1h0M387.5 87.3h0M386.8 92.3h0M388.7 86.1h0M495.3 63.4h0M488.8 36.7h0M389.9 84.9h0M496.2 74.1h0M496 68h0M419.7 109.9h0M493.2 50.2h0M489.9 35.7h0M490.7 36.3h0M389 89.4h0M493.2 45.9h0M495.9 66.6h0M386.1 89.7h0M491.4 46.3h0M385.7 92.7h0M492.2 40.9h0M388.2 87.9h0M424.7 109.2h0M387 88.9h0M386 87.5h0M387.2 87.8h0M383.9 90.5h0M492.9 42.9h0M491.5 44.2h0M385 85.4h0M488.8 36.6h0M493.6 54.9h0M493.8 59.1h0M502.8 71.4h0M395.5 95.9h0M470.5 137.1h0M390.2 76.4h0M387.8 88.5h0M491.7 53.5h0M388.2 91.8h0M496.1 71.5h0M490.8 48.3h0M384 88.8h0M494.6 58.8h0M385.6 88.7h0M384.6 90.7h0M385.7 89.1h0M387.6 90.5h0M380.6 85.6h0M493.7 57h0M502.6 71.1h0M386.5 93.3h0M385.7 89.1h0M491.4 50h0M494.8 62.2h0M493.6 53.6h0M494.6 65.4h0M386.3 88.9h0M385.9 86h0M385.8 88.7h0M384.9 89.4h0M486.5 125.3h0M402.6 99.8h0M491.2 102h0M420.4 110.4h0M490.5 49.2h0M389.2 91.8h0M389 90h0M443.6 123.4h0M489.9 38.9h0M490.7 43.3h0M494.4 44.7h0M387.1 93.2h0M383.9 87.2h0M491.3 43.7h0M386.5 88.1h0M493.1 53.2h0M486.1 42.7h0M387.2 90.7h0M387.7 91.5h0M505.2 68.4h0M437.6 119.3h0M383.4 93.9h0M388 88.7h0" stroke="#93AA00" stroke-width="1.5" stroke-linecap="round" fill="none"/>
<path d="M384.4 86h0M382.7 89.4h0M384.5 90.3h0M492.9 49.8h0M384.2 89.3h0M389.5 80.4h0M382.5 86.2h0M434.4 118.5h0M385.1 90.3h0M493.1 57h0M383.3 84.1h0M487.4 35h0M385.3 89.4h0M497.3 74.6h0M384.9 89.6h0M384.9 90.1h0M390.3 82.7h0M491.9 51h0M489.9 44.6h0M385.1 89.3h0M464.8 135.5h0M392.9 94.7h0M486.9 40h0M382 91.5h0M383.7 87.5h0M383 86.5h0M385.6 91.5h0M488.8 46.9h0M384.6 88.3h0M389 96.6h0M389 82.7h0M381.6 89.6h0M384.5 93.1h0M385 89.4h0M381.6 89.7h0M489.6 44.2h0M486.5 33.2h0M382.2 86.4h0M489.5 39.6h0M401 102.6h0M384.7 87.7h0M490.7 50.2h0M487.8 35.5h0M415.7 110.3h0M384.6 88.2h0M444.8 125h0M489 45.1h0M493.5 102.3h0M383 92.3h0M385.1 89.1h0M495 67h0M489 43h0M385.4 92.1h0M417.4 111.1h0M384.2 88.7h0M489.9 46.9h0M378.4 89.6h0M384.9 89.6h0M383.9 89.5h0M383.4 88.3h0M384.9 89.5h0M466.6 130.8h0M384.7 91.7h0M493.7 59.2h0M385 88.8h0M385.2 88.8h0M382.8 92h0M415.4 108.1h0M401.8 101h0M416.8 109h0M383.9 83.1h0M385.9 89.9h0M382.9 88.3h0M384.8 89.3h0M381.6 89.3h0M385 89.1h0M385.5 89.5h0M384.4 87.9h0M491.5 52.7h0M385 88.6h0M487.2 45h0M421.5 111.2h0M382.5 86.7h0M492.3 54.3h0M390.3 94.6h0M390.5 80h0M487.1 36h0M385.1 89.2h0M488.7 43.7h0M489.9 50.3h0M393.4 96.1h0M386.3 84.7h0M384.9 89.3h0M384.6 87.8h0M488 42h0M487.6 36.2h0M385.3 88.9h0M383.4 91.1h0M488.5 40h0M383.2 92.2h0M383.9 89.2h0M384 88.4h0M384.5 92.1h0M489.8 50.2h0M380.7 91.5h0M384.8 89.6h0M384.7 89h0M487.2 37.9h0M495.9 70.7h0M384.5 90.6h0M382.8 94.1h0M382.2 89.8h0" stroke="#00BA38" stroke-width="1.5" stroke-linecap="round" fill="none"/>
<path d="M485.3 122.7h0M485.3 142.4h0M486.8 122.2h0M483.6 140.2h0M486.9 119.6h0M485.4 142.5h0M484.7 143.7h0M483.7 140h0M500 76.5h0M486 141.2h0M483.6 144.7h0M483.1 134.6h0M499.7 74.3h0M482.1 144h0M486.6 116.8h0M483 140.2h0M485.6 143.7h0M483.6 135.9h0M489 108.4h0M485.9 141.7h0M484.1 142.3h0M487.1 118.1h0M486.4 140.3h0M484.9 133.2h0M484.6 141.1h0M485.7 141.2h0M484.5 128.6h0M492.1 104.9h0M483.7 143h0M482 142.3h0M485.1 143h0M486.6 144.8h0M487.3 119.8h0M493.3 91.4h0M488.7 111.9h0M488.5 113.5h0M490.7 104.4h0M484.5 143.6h0M485.2 143.4h0M488.1 111.6h0M488.7 113.8h0M488.1 118.5h0M484.8 141.5h0M491.7 104.6h0" stroke="#00C19F" stroke-width="1.5" stroke-linecap="round" fill="none"/>
<path d="M484 144h0M504.4 70.1h0M497.6 76.1h0M499.2 74.5h0M498.4 76.1h0M471.4 133.5h0M475 136.9h0M483 143h0M506.7 67.1h0M456.1 127.5h0M498.8 74.4h0M454.7 128.3h0M501.3 77.4h0M485.3 137.7h0M453.1 127.4h0M495.2 89.6h0M472.2 135h0M468.5 136.7h0M454.5 127.7h0M504.4 69.4h0M498 76.4h0M497.8 77.5h0M499.6 77.2h0" stroke="#00B9E3" stroke-width="1.5" stroke-linecap="round" fill="none"/>
<path d="M509.2 71.2h0M502.7 74.2h0M447.3 122.8h0M488.8 115.4h0M452.8 126.8h0M451.7 125.8h0M478.5 134.7h0M487.1 144.9h0M503.9 70.4h0M468.3 130.9h0M469.5 136.5h0M428.6 115.6h0" stroke="#619CFF" stroke-width="1.5" stroke-linecap="round" fill="none"/>
<path d="M503 75.8h0M469.7 133.6h0M492.3 48.6h0M487.5 34h0M493.1 55.5h0" stroke="#DB72FB" stroke-width="1.5" stroke-linecap="round" fill="none"/>
<path d="M489.5 38.7h0M508.9 67h0M491.9 45.6h0M468.5 132.6h0M487.3 33h0M400.4 98.3h0M491 39.9h0" stroke="#FF61C3" stroke-width="1.5" stroke-linecap="round" fill="none"/>
<path d="M510.5 65.4h0M496.1 73.4h0M415.4 107.4h0M485.2 142.5h0M473.7 133.3h0M493.1 91.1h0M485 144.8h0M496.1 78.7h0M506.9 69.7h0M503.4 72h0M508.2 74h0M488.7 119.4h0M491.3 50.1h0M452.2 127.8h0M422.1 112.8h0M504.7 73.1h0M510 65.1h0M503 72.5h0M510.1 63.3h0M492.3 107.5h0M506.8 73.7h0M509.5 62.2h0M509.3 62.1h0M439.3 119.7h0M494.2 89.3h0M504.9 75.4h0M491 104.1h0M509.3 61.7h0M497 77h0M503.5 74.6h0M498 77.1h0M485 121.3h0M503 69.4h0M494.4 92h0M492.4 106.8h0M467.3 136.1h0M506.1 73.3h0M507.1 65.7h0M509.5 63.1h0M484.4 142.1h0M487.5 117.5h0M509 67.3h0M469.6 137.2h0M504.3 76.4h0M490.4 107.3h0M508.4 72h0M471.2 133.5h0M493 100.1h0M432.4 118.5h0M496.4 68.5h0M429.3 113.8h0M495.7 64.7h0M495.4 69.2h0M469 139.9h0M504.7 69.8h0M506.5 70.5h0M442.9 124h0M489 115.6h0M452.5 127.4h0M437.1 121.3h0M495.1 62.7h0M508.9 71.7h0M510 63.5h0M494.9 62.7h0M500.5 76.6h0M508.7 69.7h0M497.5 82.6h0M423.5 112.7h0M496.8 72.5h0M489.6 47.9h0M489.5 112.6h0M467 133.5h0M507 64h0M508.2 68.4h0M492.9 105.3h0M493.3 59.9h0M493.4 98.5h0M494.7 92.8h0M495.8 65.5h0M495.8 66h0M485.6 123.8h0M468.9 131.1h0M509 67.3h0M495.3 86.6h0M458.5 130.3h0M422.7 112.5h0M495.5 89h0M500.9 77.4h0M508.3 70.8h0M490.1 110.1h0M508.7 67.4h0M485.9 125.2h0M497.3 82.1h0M509 65.6h0M508.8 70.7h0M423.9 114.3h0M494.3 54.6h0M484.6 141.8h0M497.2 71.8h0M506.3 68h0M494 88h0M510.2 67.2h0M497.7 75.8h0M510.1 64.5h0" stroke="#F8766D" stroke-width="1.5" stroke-linecap="round" fill="none"/>
<path d="M493.2 56.1h0M503.2 69.5h0M463.1 130.8h0M509.1 62.6h0M492.5 46.8h0M417.3 110.7h0M495.8 63.8h0M448.9 126h0M494.1 57.9h0M493.6 92.1h0M463.2 129.6h0M470.9 139.7h0M474.7 131.1h0M469.4 137.6h0M505.5 67.5h0M489 114.1h0M504.5 76.5h0M470 132.7h0M504.4 69.2h0M485.3 125.4h0M479.4 135.5h0M508.3 65.5h0M495 87.9h0M471 134.2h0M472.5 134.4h0M489.8 110.4h0M491.7 100.1h0M497.7 76.7h0M451 126.3h0M488.1 112h0M506.2 69.1h0M472.6 136.4h0M492.7 102h0M491.8 102.2h0M468.7 133.5h0M487.5 118h0M490.8 49.4h0M508.9 62.3h0M504.2 67.4h0M494.6 83.7h0M502.7 69.9h0M467.3 135.5h0M488.3 35.5h0M439.3 110.3h0M458.2 128.3h0M496.1 90.1h0M392 81.5h0M499.8 76.5h0M495.7 80.3h0M507.8 64.3h0" stroke="#D39200" stroke-width="1.5" stroke-linecap="round" fill="none"/>
<path d="M391 80.3h0M505.9 66.8h0M388.7 90.6h0M446.9 123.5h0M495.9 67h0M386.4 88.5h0M384.6 88.4h0M492.9 52.4h0M387.1 87.8h0M409 102.5h0M384.5 87.4h0M387.9 87.9h0M490.1 37.8h0M506.2 71h0M489.8 71.6h0M487.4 38.1h0M482.3 135h0M503.8 68.6h0M384.4 89.3h0M491.4 48.4h0M384.8 86.7h0M493.8 56.9h0M489.3 39.1h0M394.3 94.7h0M491.6 54h0M494 52.2h0M384.2 89.5h0M493.3 59.9h0M386.8 92.1h0M493.2 67.8h0M491 40.3h0M493.8 61.1h0M385.6 90.6h0M386.5 95.5h0M494.4 62.2h0M490.9 47.2h0M403.8 97.1h0M487.5 43.2h0M490 38.4h0M487 35.4h0M494.1 54.6h0M487.7 40.6h0M493.9 43.8h0M493.6 55.8h0M427.4 117.7h0M447 123h0M491.5 48.9h0M494.5 63.6h0M387.5 88.6h0M385.6 88.4h0M469.8 132.9h0M439.1 120h0M502.8 71.6h0M392 81.8h0M384.2 86.8h0M440.5 119.1h0M493.5 41.4h0M490.8 42.9h0M495.6 68.6h0M387.2 90.4h0M508.8 64.4h0M491.9 46.8h0M386.9 92.5h0M390.8 83.7h0M383 92.7h0M489.1 47.4h0M491.2 46h0M495 91.5h0M491.6 38.8h0M492.7 52h0M496.1 74.2h0M443.3 120.3h0M488.4 37.1h0M494.8 61.1h0M489.7 43.5h0M494.4 63.9h0M386.6 88.1h0M494.1 56.8h0M507.9 63.1h0M493.8 58h0M496 67.6h0M389.5 86.1h0M503.2 70.9h0M493 53.7h0M386.1 88.4h0M496 65.3h0M414.4 107.7h0M486.2 34.2h0M470.9 135.2h0M504.1 68.4h0M425.2 112.2h0M385.7 89.7h0M495.4 62.8h0M477.5 135.8h0M386.1 92h0M495.9 67.1h0M491.5 42.5h0M492.4 45.4h0M383.9 93.3h0M505.1 67.3h0M427.6 113.9h0M385.7 84.2h0M385.5 87.7h0M493.6 51.2h0M384.7 91.6h0M386.1 88.7h0M435.1 116.3h0M385.9 93h0M386.5 87h0M386.2 88.2h0M384 86.1h0M385.9 93.7h0M387.4 90.7h0M506.2 70h0" stroke="#93AA00" stroke-width="1.5" stroke-linecap="round" fill="none"/>
<path d="M416.8 109.4h0M385 89.5h0M491.3 48.4h0M384.9 89.3h0M384.4 89.1h0M384.9 88.1h0M384.6 88.2h0M498.3 77.6h0M382.7 91.6h0M491.9 43.8h0M388.3 83.4h0M384.3 88.5h0M391.5 94.5h0M488.4 39.1h0M381.1 84.5h0M466.9 133.3h0M384.7 89.3h0M383.3 90.8h0M489.7 41.8h0M383.4 88.6h0M491 43.2h0M487.7 37.5h0M384 90.3h0M384.4 89.9h0M381.8 93.7h0M384.5 89.3h0M384.4 89.5h0M489 47.5h0M491.8 50h0M498.6 76.7h0M397.8 98.9h0M487.8 38.7h0M385.5 87.4h0M384.1 90.9h0M383.5 89.7h0M490.6 46.2h0M394.7 96.6h0M487.6 37h0M384.5 91.3h0M385 92.5h0M385.1 88.9h0M385 89.3h0M487.2 43.3h0M384.4 87.1h0M487 48.5h0M384.4 86.8h0M391.6 79.5h0M384.7 90.1h0M383 88.7h0M384.8 89.7h0M385.1 88.9h0M382.6 93.4h0M486.7 33.7h0M388.3 81.9h0M385.2 89.3h0M384.6 88.7h0M487.4 39.5h0M390.3 89.7h0M384.5 87.4h0M387.7 92.3h0M486.9 33.5h0M383.8 90.6h0M503.1 71.9h0M436.1 116.6h0M454.2 127.8h0M492.3 56.1h0M489.7 48.9h0M385.2 87.1h0M384.4 90.6h0M490.9 38h0M383.9 88.5h0M382.3 88.3h0M385.5 89.6h0M488.6 40.8h0M380.7 87.6h0M379.8 93.2h0M492.4 54.2h0M488.1 35.8h0M492.4 53.2h0M491.2 47.9h0M381.4 94.4h0M384.9 89.3h0M390.4 82.8h0M385.5 91.3h0M383.4 88.8h0M384.7 89.5h0M491.9 42.1h0M398.4 98.1h0M393.9 98.9h0M385.3 90.3h0M390.1 80.7h0M381.6 88.3h0M381.5 88.3h0M394.3 96.2h0M402.1 100.5h0" stroke="#00BA38" stroke-width="1.5" stroke-linecap="round" fill="none"/>
<path d="M484.5 143.8h0M490.1 106.7h0M484.2 140.1h0M491.9 108.8h0M484.8 140.4h0M484.7 140.7h0M488.6 112.4h0M489.3 113.6h0M484.3 145.3h0M484.7 142.4h0M484.3 142.2h0M487.1 142.5h0M491.1 106h0M496.1 81.6h0M487.5 120.5h0M484.2 142.2h0M486.1 140.2h0M487 120h0M486.4 120.9h0M481.9 136.3h0M485.9 126.4h0M487.5 122.3h0M484.9 143.2h0M489 109.5h0M483.9 145.3h0M484.9 142.1h0M484.3 136.3h0M485.8 144.4h0M488.9 110.9h0M488.4 118h0M485.1 145.1h0M485.5 142.2h0M485.2 128.6h0M486 144.1h0M486.3 141.5h0M488.6 116.6h0M486.7 143.4h0M485.8 144.5h0M500.8 73.6h0M486.6 122.1h0M485 129.3h0M489.5 114.5h0M485.8 125.6h0M484.9 138.8h0M484.7 140.9h0M484.2 141.1h0M490.7 108.6h0M494.4 100.2h0M486.8 123.4h0" stroke="#00C19F" stroke-width="1.5" stroke-linecap="round" fill="none"/>
<path d="M503.9 76.6h0M491.6 105.2h0M500.9 72.3h0M497.4 77.5h0M480.8 138.5h0M503.6 76.7h0M505.2 66.9h0M490.9 105.6h0M467.6 137h0M499.6 74.1h0M508.5 71.8h0M498 76.5h0" stroke="#00B9E3" stroke-width="1.5" stroke-linecap="round" fill="none"/>
<path d="M498.1 76.9h0M458.7 127.2h0M497.5 76h0M501.1 76.4h0M474.3 136.6h0M505.3 67.9h0M466.8 133.5h0M490.6 110.9h0M503.7 69.7h0M508.6 69.1h0M483.3 142.8h0M494.2 93.1h0M485.2 143.2h0" stroke="#619CFF" stroke-width="1.5" stroke-linecap="round" fill="none"/>
<path d="M497.5 76.7h0M505.5 67.2h0M476.6 132.2h0M494.9 79.1h0M489.7 45.6h0M489.1 34.7h0M494.9 64.7h0M509.2 62.8h0M492.3 40.1h0M504.2 75.4h0M491.7 110.4h0M497.6 80.5h0M509.1 64.1h0M504.3 67.7h0M490.5 104.6h0M453.7 128.2h0M493.6 40.2h0" stroke="#DB72FB" stroke-width="1.5" stroke-linecap="round" fill="none"/>
<path d="M495.8 67.1h0M493.6 47.3h0M495.4 72.5h0M492.7 47.2h0M421.7 110h0M509.2 61.7h0" stroke="#FF61C3" stroke-width="1.5" stroke-linecap="round" fill="none"/>
<path d="M488.5 116.7h0M499.7 74.7h0M509.4 64.1h0M498.2 77h0M502.8 69.1h0M479.3 132h0M430.1 118h0M468.1 132.7h0M493 91.4h0M495.7 67h0M494.3 89.7h0M494.1 55.3h0M504.2 73.9h0M495.7 68.2h0M473.5 133.6h0M503.3 71.8h0M509.4 62.4h0M494.2 61.4h0M505.5 73.3h0M466.8 129.7h0M492.3 42.2h0M469.8 137.9h0M509.1 64.2h0M494.2 92.5h0M471.4 139.3h0M485.6 119.4h0M505.1 70h0M500 76.2h0M506.7 69.1h0M495 63.6h0M506.2 66.6h0M495.8 82.2h0M450.2 126.9h0M478.8 133.8h0M485.7 122.9h0M507.9 66.3h0M492.7 96.5h0M498.4 77.5h0M501.5 75.2h0M499.6 77.3h0M494.8 61.2h0M492.9 99h0M508.3 73.6h0M489.6 36.3h0M487.6 110.4h0M504.1 70.5h0M491.2 36.7h0M400.8 97.6h0M509.3 62.7h0M510 67.9h0M509.6 66h0M493.1 95.3h0M453 127.3h0M509.2 62.7h0M488.6 114.3h0M493.4 42.9h0M496.8 72.1h0M493.9 98h0M496.5 73.9h0M486.7 34.2h0M426.7 117.1h0M499.1 76.8h0M508.8 65.4h0M495.1 64.1h0M485.1 125.5h0M473.6 138.7h0M459.2 128.7h0M509.5 71.6h0M492 106.1h0M435.6 119h0M493.7 59.5h0M503.4 69.6h0M495.4 83.4h0M510.7 66.3h0M509.2 63.3h0M438.6 119.5h0M495.1 62.2h0M508.9 63.2h0M496.2 84.4h0M482.8 134.1h0M482.9 141.1h0M494.4 60.8h0M493.8 44.9h0M508.9 62.7h0M493.6 90.1h0M392.8 90.9h0M498.2 76.5h0M401.5 100.2h0M503.8 71.4h0M492 40.5h0M509.2 71.4h0M495.4 89.5h0M505.4 75.4h0M507.5 72.8h0M509.7 62.4h0M389.8 94.8h0" stroke="#F8766D" stroke-width="1.5" stroke-linecap="round" fill="none"/>
<path d="M504.9 72.8h0M472.8 134.5h0M471.3 133.4h0M485 124.9h0M496 83.6h0M474.8 137.6h0M508.1 70.3h0M505.6 67.5h0M490.3 46.1h0M501.6 71.6h0M496 90h0M450.7 128.7h0M401.6 99.6h0M504.7 67.7h0M484 122.5h0M502.6 72.9h0M396.4 96.1h0M497.5 79.8h0M491.3 42.3h0M504.2 70h0M495.5 66.6h0M494.8 92.2h0M497.2 74.9h0M507.3 66.9h0M458.8 129.2h0M500.4 77.8h0M491.1 104.9h0M468 135.6h0M503.3 75.7h0M491.9 46.9h0M507.8 66.5h0M472.2 134.3h0M507.9 63.8h0M501.5 71.2h0M501.2 76.6h0M509.7 64.5h0M494.8 97.7h0M499.4 75.1h0M506.4 66.2h0M473.9 137.3h0M469 133.8h0M460 126.8h0M470.5 134.5h0M460.7 127.5h0M507.1 65.5h0M506.9 69h0M507.6 64.2h0M504.6 69.3h0M508.6 71.6h0M510.2 64.6h0M502.4 75.1h0M508.7 64.7h0M507.3 67.3h0M502.6 73.8h0M494.4 59.7h0M508.3 64.1h0M506.2 67.2h0" stroke="#D39200" stroke-width="1.5" stroke-linecap="round" fill="none"/>
<path d="M488.7 34.2h0M388.1 86.7h0M505.8 70.3h0M488.6 35.8h0M489 44.8h0M381.7 92.3h0M387.4 91.4h0M488.3 35.3h0M386.9 87.9h0M494.6 49.2h0M491.3 39.5h0M495.3 68.2h0M386.3 88.3h0M420.7 111.1h0M388.5 84.9h0M387 93.8h0M386.4 89.6h0M494.3 58.7h0M389 89.1h0M386.8 90.4h0M420.3 110.8h0M494.2 56.4h0M493.7 48.1h0M493 51.4h0M492.3 48.4h0M495.3 65.6h0M494.2 57.2h0M402.3 98.7h0M493.6 57.2h0M492.5 50.9h0M387.6 89.8h0M384.5 88h0M491.4 45.6h0M494.3 43.3h0M390 81.3h0M416.5 106.8h0M386.2 89h0M470.8 132h0M492.4 50.1h0M494 58.6h0M486.6 118.6h0M388.3 90.8h0M510.8 65.5h0M491.1 51.2h0M385.8 90h0M382.4 92.6h0M418.9 108.1h0M495.3 91.7h0M493 43.6h0M395.1 97.9h0M494.2 45.5h0M493.2 43.9h0M431.1 117.1h0M385.6 89.7h0M493.4 56.9h0M493.1 42h0M496 63.7h0M389.8 88.5h0M494.9 57.8h0M386.7 88.2h0M386.5 87.4h0M386.4 92.1h0M383.9 89.9h0M502.1 75.9h0M502.1 73.2h0M388.1 86.9h0M494.1 54.1h0M389.6 93.5h0M492.4 48.8h0M501.7 76.6h0M386.7 89.7h0M384.8 88.2h0M494.9 66.1h0M386.6 88.6h0M492.6 45.5h0M472.4 136.3h0M490.1 35.6h0M389.8 91.3h0M503.3 68.8h0M492 53.8h0M389.1 87.1h0M384.1 90.5h0M385.7 88.9h0M508.5 62.7h0M386.6 91.2h0M387.7 86.2h0M384.8 90.2h0M382.9 90.6h0M495 44.3h0M489.6 34.4h0M495.9 67.3h0M386.5 88.1h0M417.4 107.4h0M505.8 66.4h0M382.7 87.2h0M497.2 72.1h0M494.7 60h0M493.8 54.5h0M494.2 45.5h0M494.8 64.1h0M384.7 86.7h0M492.3 40.3h0" stroke="#93AA00" stroke-width="1.5" stroke-linecap="round" fill="none"/>
<path d="M386.9 88.4h0M384.7 89.7h0M384.2 89.8h0M384 93.6h0M385.2 89.8h0M384.8 89.3h0M488.6 46.5h0M383.7 92.6h0M384.7 90.6h0M384.2 88h0M382 90.5h0M419.7 110.3h0M406.2 104.5h0M489.5 41.5h0M492.3 56.4h0M487.1 44.9h0M492.4 57.2h0M384.8 88.4h0M394.6 96.7h0M490.5 46.6h0M384.6 89.4h0M389.7 83.5h0M489.6 47.7h0M418.8 105.5h0M384.3 89.8h0M387.9 83.6h0M399.8 100.2h0M404.9 103.4h0M493.8 46.8h0M486.8 33.6h0M384.7 92.5h0M382.9 92.5h0M384.4 91.8h0M384.8 88.3h0M492 42.9h0M449 127.5h0M389 84.5h0M381 83.7h0M494 59.7h0M381.2 93.7h0M382.7 90.1h0M488.5 46h0M384.9 89.3h0M488.5 47.2h0M389 92h0M383.9 89.9h0M383.3 89.3h0M385.6 85.4h0M396.3 97.2h0M389.8 81h0M383.7 90.4h0M486.5 36.3h0M384.9 89.6h0M494.3 60h0M384.5 91.7h0M384.4 88.8h0M384 90.2h0M385.3 89.6h0M384.3 89.8h0M384.1 89.2h0M493.4 59h0M382.8 85.6h0M390.4 79.3h0M486.4 33.8h0M489.5 49.7h0M384.7 89h0M385.5 89.9h0M486.9 41.5h0M401.2 100.4h0M489.8 46.1h0M384.9 89.3h0M385.1 88.3h0M493.3 58.9h0M380 86.1h0M389.9 82.3h0M417.7 111h0M385.2 89.3h0M494.1 56.1h0M380 86.4h0M487.5 34h0M383.7 90.8h0M487 40h0M382.4 91.7h0M385.5 89h0M385 89.3h0M491.6 50.9h0M492.2 53.8h0M384.9 89.6h0M384.3 89.8h0M392.9 91.9h0M432.8 118h0M486 33.3h0M384.3 88.7h0M490.6 43.6h0M384.8 89.4h0M504.9 69h0M384.7 91.8h0M386.3 89.5h0M489.3 42.7h0M385.3 89.7h0M492.1 51.6h0M388.9 83.3h0M384.9 89h0M384.9 89.3h0M385.1 90h0M389.1 83.8h0M438.5 120h0M385.2 89.3h0M496 71.5h0M384.7 89.6h0M381.5 85.1h0M393.6 96.3h0M388.7 91.7h0M380 84.5h0M489 37.9h0M487.8 43.6h0M380.8 88.4h0M427.5 115.9h0M383.6 87.7h0" stroke="#00BA38" stroke-width="1.5" stroke-linecap="round" fill="none"/>
<path d="M485.9 143h0M491.5 106.4h0M491 104.2h0M496.7 82.8h0M491.1 108.9h0M484.3 143.2h0M484 143.9h0M485.6 142.5h0M487.4 114.3h0M488.1 118.4h0M482.9 134.4h0M483.8 138.8h0M483.9 141.1h0M487.6 116.6h0M485 142h0M486.2 127.3h0M484.5 139.7h0M503.5 75.6h0M488.3 111.4h0M491 101.1h0M487.7 122h0M486.4 142.4h0M484.6 142.5h0M483.1 142h0M487 123.9h0M487.6 120.1h0M483.7 144.4h0M485.9 143.5h0M484.5 141.9h0M486.1 126.2h0M486.6 140h0M485.2 142h0M484.5 144h0M483.2 124h0M484.8 144.9h0M486 145.5h0M485.5 139.3h0M496.6 84.3h0M484.6 143h0M483.7 135.8h0" stroke="#00C19F" stroke-width="1.5" stroke-linecap="round" fill="none"/>
<path d="M499.6 75.1h0M508.4 64.6h0M498.3 75.7h0M498.5 75.5h0M502.9 75.9h0M502.5 77.1h0M452.5 125.7h0M497.1 75.9h0M498.1 76.4h0M499.3 75.7h0M506 69.8h0M508.2 64.5h0M474.5 134.2h0M503.8 76.4h0M463.7 128.9h0M499.7 73.5h0M498 75.8h0M482.7 136.4h0M497.5 76h0" stroke="#00B9E3" stroke-width="1.5" stroke-linecap="round" fill="none"/>
<path d="M506 72.7h0M504.4 72.8h0M469.2 136.5h0M463.9 129.4h0M473.3 133.1h0M498.4 74.9h0M489.4 112.5h0M499.6 74.3h0M501.7 74.6h0M497 81.2h0M501.9 75.5h0M487.4 121.6h0" stroke="#619CFF" stroke-width="1.5" stroke-linecap="round" fill="none"/>
<path d="M508.7 62.6h0M487 34h0M498.4 76.4h0M491.5 50.7h0M436.4 119.8h0M499.2 76.8h0M504.5 74.8h0M417.2 108.7h0M486.8 35.5h0" stroke="#DB72FB" stroke-width="1.5" stroke-linecap="round" fill="none"/>
<path d="M488.5 34.7h0M492.6 101h0M487.5 120.5h0M509.9 62.5h0M492.2 103.1h0M495.6 62.6h0" stroke="#FF61C3" stroke-width="1.5" stroke-linecap="round" fill="none"/>
<path d="M493.9 58.2h0M501.2 73h0M508 72.5h0M507 70.9h0M508.9 65h0M497.1 78.7h0M492.3 56.5h0M437.8 119.7h0M500.7 75.6h0M509.4 70.7h0M494.8 86.9h0M491.5 104.2h0M492.3 108h0M497.2 80.5h0M496.2 65.5h0M494.5 62.5h0M486.7 32.7h0M497.9 85.2h0M467.4 138.2h0M507.1 73.3h0M509 61.8h0M493.3 55.9h0M461.5 136.8h0M492.8 52.7h0M493.9 85.1h0M509.6 61.9h0M509.8 69.3h0M487.3 115.4h0M496.7 75.4h0M509.1 67.2h0M510.1 66.7h0M496 64.7h0M470 134.8h0M390.6 85.2h0M493.4 79.1h0M494.6 60h0M485.8 123.7h0M504.3 72.6h0M497.5 83.7h0M494.8 90.9h0M473.1 135.4h0M500 74.6h0M507.3 73.6h0M493 95.1h0M480.9 134h0M495.7 74.9h0M475.4 134.7h0M510.3 64.4h0M452 129.5h0M493.7 62.3h0M471.5 135h0M398.2 100.9h0M492.7 100.5h0M507 74.2h0M495.3 88.8h0M507.2 73.6h0M493.3 98.4h0M493.8 95.3h0M461.8 126.9h0M485.7 119.4h0M496.4 81.6h0M460.5 128.1h0M473.6 136h0M422.6 113.3h0M495.5 68.7h0M502.1 71.2h0M478.5 137.8h0M493.3 95.7h0M472.4 138.1h0M503.6 71.3h0M504.7 74.3h0M503.9 72.7h0M446.2 119.3h0M492.6 95.7h0M510.3 62.5h0M485 125.8h0M500.4 77.5h0M496.7 83.2h0M509.4 67.2h0M490.6 44.5h0M495.5 68h0M508.3 64.8h0M486.4 116.9h0M509.3 61.5h0M429.1 115h0M469.4 133.2h0M490.3 36.1h0M508.9 67.8h0M493.1 89.2h0M501.7 73h0M509.1 61.8h0M499.7 76.2h0M508.3 74.3h0M504.8 76.4h0M493.4 97.4h0M509 68.1h0M494.7 87.5h0M509.1 63.7h0M495.4 86.4h0M509.5 61.7h0M504.9 73.1h0M505.2 73.1h0M505.2 77.6h0M481.8 134.3h0M394.5 97.3h0" stroke="#F8766D" stroke-width="1.5" stroke-linecap="round" fill="none"/>
<path d="M472.1 139.1h0M421 106.6h0M421.7 112.4h0M496.2 70.9h0M487.6 123.7h0M504.3 71.9h0M415.2 109.3h0M498.5 77.7h0M496.9 68.5h0M501.8 72.6h0M499 77.4h0M506.8 73.4h0M502 72.1h0M509.6 61.8h0M506.9 66.1h0M471.4 138.1h0M497.6 77.3h0M448.3 125.5h0M504 71h0M471.7 133.6h0M468 135h0M501.9 71.3h0M501.3 76h0M464.5 132.8h0M487.9 33.1h0M466.8 137h0M507.9 64h0M497.9 75.1h0M387 93.9h0M499.2 75.7h0M468.3 137h0M435.5 121.4h0M474.1 135.2h0M468.2 136.2h0M492.4 49.8h0M510.4 63.6h0M508.2 73.6h0M450.3 125.4h0M451.4 127.3h0M506.3 66.9h0M509.7 66.1h0M505.5 75.3h0M488.4 117.5h0" stroke="#D39200" stroke-width="1.5" stroke-linecap="round" fill="none"/>
<path d="M384.9 88.8h0M385.1 89.5h0M494.6 61.4h0M385.9 91.2h0M387.7 91.9h0M382.7 92.1h0M389.8 87.9h0M492.3 38.9h0M397.3 96.9h0M387 87.1h0M384.4 89.8h0M438.6 121.7h0M442.1 121.6h0M506.4 69.2h0M385.8 92.7h0M383 89.9h0M386.7 87.5h0M428.9 113.3h0M420.4 111h0M505.6 69.3h0M441.7 121.4h0M441.1 122.8h0M488.5 32.6h0M388.2 88h0M494 46.2h0M492.9 58.5h0M495.9 74.6h0M493.7 60.7h0M385.1 89.1h0M487.9 116.1h0M491.3 44.4h0M487.3 32.7h0M384.4 93.6h0M488.9 36.5h0M490.8 39.9h0M387.2 86.6h0M390.3 88.1h0M494 54.4h0M400.2 96.4h0M386 87.2h0M493.3 45.4h0M495.3 67.7h0M502.4 73.1h0M488.2 32.4h0M489.2 36.3h0M506.6 66h0M384.5 90.3h0M429.7 115.1h0M506.1 69h0M487.3 33.3h0M386.5 87.9h0M387 87.6h0M495.5 63.9h0M488.6 35h0M503.4 70h0M505.3 66.8h0M488 34.6h0M504.1 77.1h0M398.2 96.7h0M493.9 44.4h0M495.7 66.4h0M445.6 123.2h0M493.2 51.7h0M399.8 97h0M489.3 42.4h0M386.9 87.4h0M386.4 92.6h0M435.7 117.8h0M488.3 33h0M489.4 33.8h0M493.9 57.9h0M415.9 107.7h0M386 88.8h0M386.5 93.2h0M390.4 81.1h0M385.9 88.9h0M385.9 87.9h0M386 89.9h0M490.1 35.1h0M445.8 119.8h0M495.9 70.6h0M493.8 49.2h0M381.8 87.9h0M490.7 45h0M504.9 71.9h0M505.8 73.9h0M494.7 64.4h0M446.6 123.2h0M384.7 88.1h0M387 88.5h0M385 89.3h0M494.1 39.7h0M427.4 114h0M400.3 98.9h0M385.7 92.5h0M384.5 92.2h0M384.3 86.4h0M392 82.2h0M495 62.2h0M384.3 91.9h0M384.8 89.7h0M419.7 112.5h0M493 52.5h0M385.3 91.8h0M489 37.7h0M489.1 40.3h0M387.2 85.4h0M384.6 88.1h0M492.4 49.7h0M507.7 72.3h0" stroke="#93AA00" stroke-width="1.5" stroke-linecap="round" fill="none"/>
<path d="M492.7 56.2h0M492.2 53.4h0M506.2 73.4h0M488.7 38h0M496.3 73.1h0M385.1 90h0M490.3 42.2h0M384.5 89.8h0M492.7 53.6h0M492.5 49h0M392.2 87.4h0M385.8 88.9h0M385.2 88.5h0M398.7 98.6h0M491.3 51.5h0M387.1 90.9h0M388.4 87.7h0M412.4 107.5h0M427.9 115.4h0M384.8 89.3h0M431.3 119.1h0M488 45.5h0M489.1 39h0M382.3 87h0M383.9 88.1h0M491.8 48.9h0M385.1 91.4h0M385.4 87.3h0M384.7 90.2h0M384.8 88.7h0M491.3 52.6h0M385.2 88.7h0M501.6 74.1h0M383.1 87.6h0M385.1 87.6h0M384.8 89.3h0M400 100.2h0M383.1 88.4h0M494.7 61.7h0M488.4 33.2h0M485.7 125.8h0M492.6 44.6h0M383.9 88.4h0M490.4 42.8h0M383.3 89.3h0M491.3 42.4h0M385 93.1h0M379.8 93.9h0M487.8 40.1h0M387.8 90.2h0M385 89.2h0M496.2 73h0M489 45h0M385.2 89.1h0M488.3 35.2h0M391.3 89.9h0M384.9 91.6h0M500.6 73.3h0M384.6 88.1h0M487.6 41.2h0M381.6 86.6h0M493.9 55.6h0M383.6 86.8h0M384.7 88.6h0M487.7 37.7h0M385 89.4h0M492.8 56.9h0M383.7 89.9h0M383.1 87.3h0M385.4 89.1h0M486.1 33.9h0M384.7 88.7h0M384.8 89.3h0M490.2 64h0M384.8 89.1h0M420.2 109.7h0M383.5 90.3h0M492.4 54.3h0M492.4 57.3h0M384.7 89.3h0M384.1 89.9h0M492.1 41.4h0M420.2 110.7h0M385.3 90.7h0M389 82.5h0M489.7 45.9h0M385.4 89h0M486.3 41.7h0M494.5 46.2h0M394 95.6h0M493.1 57.2h0M384.5 90.6h0M441.2 122.6h0M384.8 89.4h0M495.8 69.6h0M383.8 86.5h0M384.5 87.3h0M385.7 89.7h0M384.6 83.9h0M384 91.4h0M492.5 56.7h0M383.1 88.7h0M493.7 57.6h0M384.4 90.6h0M385.3 90h0M494.5 46.9h0M384.6 89.4h0M383.7 91.1h0" stroke="#00BA38" stroke-width="1.5" stroke-linecap="round" fill="none"/>
<path d="M485.9 143.3h0M483.9 144.8h0M483.4 134.8h0M487.6 144.7h0M492.9 106.1h0M492 110.3h0M484.4 126h0M500.6 76.1h0M485.5 145.1h0M485.5 128.5h0M481.9 141.6h0M484.6 140.3h0M484.1 146.8h0M485.2 122.2h0M486.6 122.2h0M485.7 143.9h0M486.5 121.2h0M488.5 109.4h0M482.6 140.1h0M482.4 136.5h0M484.2 143.1h0M489.4 111.4h0M486.3 140.9h0M485.5 139.3h0M484.3 140.5h0M483.2 141.7h0M487.1 125.6h0M483.5 142.3h0M482.5 139.6h0M483.7 138.4h0M489.4 110.8h0M488 109.8h0M485.2 138.2h0M484.8 144.2h0M502.3 76.6h0M493.2 105.6h0M483.9 141.5h0M487.5 114.9h0M483.8 141h0M482.6 135.7h0M487.2 117.3h0" stroke="#00C19F" stroke-width="1.5" stroke-linecap="round" fill="none"/>
<path d="M462.8 132h0M502.6 70.1h0M498.3 75.9h0M501.9 73.8h0M508.2 63.8h0M502.2 74.9h0M467.7 133.9h0M508 73h0M497.9 77.4h0M505.5 73.1h0M482.5 139.3h0M499.8 75.8h0M503.8 76.2h0M508.4 64h0M470.4 134.2h0M502.8 71.6h0M498.9 76.4h0M500.3 75.3h0M475.2 133.5h0M505.6 75.4h0M473.8 137.8h0M488.1 113.9h0M496.6 88.1h0M502.1 76.5h0M502.6 76.6h0M475 135.9h0" stroke="#00B9E3" stroke-width="1.5" stroke-linecap="round" fill="none"/>
<path d="M427.3 115.6h0M504.3 69.7h0M475.1 134.6h0M490.4 112.9h0M499.7 76.2h0M502.2 75.6h0M486 141.1h0M502.2 75.1h0M456.9 129.1h0M486.8 126.6h0M457.4 125.7h0" stroke="#619CFF" stroke-width="1.5" stroke-linecap="round" fill="none"/>
<path d="M510.8 64.6h0M490 41.9h0M496.9 69.7h0M500.9 77.8h0M489.4 39.4h0M459.6 128.7h0M505.4 67.7h0M468.1 137.2h0M465.8 132.1h0M487.3 39.3h0" stroke="#DB72FB" stroke-width="1.5" stroke-linecap="round" fill="none"/>
<path d="M499.5 75.8h0M500.2 75.2h0M495.3 60.3h0M501.7 73.7h0M472.2 134.4h0M498.4 77.5h0" stroke="#FF61C3" stroke-width="1.5" stroke-linecap="round" fill="none"/>
<path d="M395.5 97.2h0M506.2 72.5h0M509.7 64.9h0M398.4 98.7h0M392.2 96.5h0M494.9 63.6h0M488.2 33.4h0M455 127.3h0M493 93.6h0M497.7 75.5h0M509.1 62.4h0M489.2 46.1h0M508.7 66.8h0M393.1 95.8h0M507.5 74.5h0M486.9 121.2h0M505.6 72.4h0M509.2 71.3h0M496.9 75.9h0M474.3 136.9h0M497.3 77.8h0M492.4 101.6h0M493.4 52.5h0M490.4 36h0M507.6 66.7h0M507 72.7h0M492.2 109.2h0M496.7 75h0M494.7 62.3h0M495.3 86.7h0M494.7 92.3h0M390.9 84.3h0M506.3 72.4h0M509.3 61.4h0M492.6 48.5h0M492.3 101.6h0M486.1 119.4h0M493.3 91h0M494.3 48.7h0M491.6 110.2h0M509.8 67.4h0M415 108.3h0M494.4 90.8h0M509.4 62.7h0M491.4 108.7h0M501.8 72.5h0M492 41.3h0M411.5 105.3h0M494.1 47.3h0M509.9 64.8h0M466.7 132.4h0M505.3 76.2h0M493.6 44.8h0M505.9 75.6h0M509.5 63.1h0M465.9 139h0M510.4 64.5h0M496.9 77.9h0M496.4 72h0M504 72.7h0M502.5 73.1h0M490.4 41.8h0M445.3 122.1h0M508.5 66.3h0M391.2 83.2h0M487.3 39.3h0M495.4 90.3h0M492.3 97.8h0M506.7 70.2h0M492.7 105.3h0M509.5 62.6h0M488.1 38.4h0M457.1 128.8h0M485.7 122h0M489.3 112.2h0M496.5 86.2h0M491.5 42.3h0M495.1 71h0M503.6 76.1h0M509.1 69.3h0M486.8 33.2h0M508.9 72.5h0M496.5 82h0M438.3 120.6h0M486.3 115.3h0M470.5 137.2h0M488.1 113.3h0M509.3 72.7h0M499.7 75.8h0M506.3 71.3h0M509.1 63.1h0M493.4 56.2h0M508.1 68.9h0M495.5 88.9h0M496.7 75.8h0M506.3 72.1h0M493.1 50.7h0M507.2 67.6h0M496.8 80.6h0M470 135h0M453 126.6h0" stroke="#F8766D" stroke-width="1.5" stroke-linecap="round" fill="none"/>
<path d="M501.1 72.8h0M509.9 67.7h0M493 103.6h0M497.5 75.6h0M506.4 67.2h0M487.6 121.1h0M464 131.8h0M467.2 136.7h0M507.7 65.8h0M505.6 66.8h0M462.6 129.9h0M462.7 130.5h0M499.6 77.9h0M436.1 119.9h0M498.8 76.1h0M488.4 113.2h0M509.3 63.7h0M506.1 74.1h0M487.4 113.4h0M495.8 72.1h0M483 136.9h0M499.9 76.3h0M496.3 84.9h0M430.9 118h0M508.7 61.5h0M496.7 72.2h0M491.6 36.7h0M506.4 66.8h0M471.3 133.2h0M458.2 128.7h0M496.1 71.8h0M507.8 66h0M478.8 137.1h0M492.7 56h0M490.3 44.1h0M472 134.8h0M390.7 82.3h0M390.7 83h0M454.5 128.7h0M437.4 119h0M464 134.7h0M458.6 131h0M504.4 76.2h0M507.8 63.3h0M493.4 96.8h0M494.3 92h0M495.5 70h0M497.4 74.9h0M391.7 89.7h0M474.1 136.3h0M471.6 130.1h0M507.6 64.6h0M475.5 131.6h0M471.8 132.7h0M507.3 68.6h0M508.7 61.7h0M470.2 127.5h0" stroke="#D39200" stroke-width="1.5" stroke-linecap="round" fill="none"/>
<path d="M493.3 54.3h0M487.7 34.6h0M498 79.3h0M490.6 37.8h0M386.2 91.4h0M491.6 42.3h0M390.8 82.9h0M470 134h0M507.8 65.8h0M491.9 48.7h0M385.8 89.5h0M387.7 91.1h0M494.4 50.8h0M404.5 101h0M502.4 73h0M495.8 67.9h0M507.5 68.9h0M461.6 132.1h0M488.5 38.6h0M390.9 82h0M491.5 52.6h0M381.9 89.7h0M494.3 56.7h0M386.1 89h0M384.9 89.4h0M494.6 63.5h0M495.1 68h0M386.1 86.5h0M435.6 121.6h0M401.9 99.6h0M492.3 43.4h0M417.8 107.5h0M383.6 86.6h0M419.6 107.1h0M494.8 62.8h0M386.3 90.6h0M386.4 89.3h0M386.8 89.7h0M386.4 88.1h0M386.6 86.2h0M489.6 43.5h0M488.2 34.4h0M385.8 90.3h0M494.8 63.2h0M383.9 89.1h0M499.7 74.1h0M395 94.6h0M386.1 89.6h0M508.1 65.2h0M489 36.2h0M489.7 51.1h0M487.9 34.8h0M492.8 41.4h0M384.4 88.3h0M494.4 65.1h0M487.7 33.6h0M492.9 51.1h0M490.4 36.4h0M405 101.3h0M487.5 33.9h0M387.7 87.5h0M386.5 87h0M381.7 84.1h0M384.8 91.8h0M383.8 88h0M491 36.7h0M380.9 93.5h0M489.1 112.5h0M490 39.6h0M493 48.4h0M384.3 88.4h0M492.9 53.1h0M494.3 62.8h0M387.7 87.3h0M385.9 88.4h0M491.3 44.1h0M487.9 34.3h0M493.5 56.2h0M493.3 95.1h0M486.4 35.9h0M384 86.9h0M507.4 72.2h0M400.6 99.3h0M383.8 90.9h0M387.3 87.7h0M386.8 89.6h0M385.9 88.8h0M387.5 91.5h0M505.6 67.1h0M384.7 90.2h0M390.3 91.4h0M490.9 48.7h0M385.9 89.7h0M507.6 66h0M489.6 46.5h0M494.1 52.4h0M386.5 89.6h0M385.3 79.2h0M493.9 59.2h0M412.2 104.3h0M420.6 109.1h0M384.3 88.9h0M386.8 85.8h0M493 53.9h0M387.3 87.8h0M430.4 113.6h0M496.2 70.7h0M494.3 59.8h0" stroke="#93AA00" stroke-width="1.5" stroke-linecap="round" fill="none"/>
<path d="M384.5 91h0M384.7 89.3h0M382.9 86.8h0M385.5 90.3h0M383.3 93.9h0M384.9 89.8h0M447.3 126h0M493.4 56.7h0M390.3 97.8h0M385 89.1h0M383.3 88.5h0M402.2 99.1h0M385.2 90.9h0M384.1 89.2h0M384.2 88.6h0M402.3 101.1h0M446.9 126.8h0M496.2 70.2h0M384.8 85.4h0M389.3 81.5h0M486.8 41.6h0M384.2 90.3h0M384.4 89.9h0M384.4 89.2h0M390.4 81.6h0M491.7 102.3h0M384.9 89.1h0M386.4 87.9h0M384.8 89.5h0M384.8 89.1h0M384.9 89.4h0M492.1 54.2h0M382 89.1h0M493.1 54.1h0M397 98.8h0M384.9 90.2h0M391.8 85.3h0M385.1 89.5h0M418.4 110h0M385.3 92.6h0M493.4 58.4h0M491.7 51.3h0M425 115.2h0M390.5 84.2h0M497.1 76.4h0M492.5 53.6h0M385.3 89.3h0M491.7 55.4h0M508.7 62.2h0M487.9 35.4h0M385.2 89.1h0M384.8 90.7h0M422.3 114.7h0M388.2 81.8h0M490.8 46.7h0M387.8 93.9h0M384.9 91.9h0M383.2 89.5h0M384.8 89.5h0M488 40h0M382.2 91.9h0M492.3 54.2h0M384.9 87.7h0M384.7 92.7h0M382.5 92.9h0M487.2 37.6h0M392.5 95.3h0M495.1 93.7h0M487.4 40.6h0M384.8 88.7h0M390.8 81.4h0M380.2 92.9h0M382.4 88.3h0M380.9 84.5h0M494.1 87.3h0M473.3 134.9h0M383.8 89.3h0M495 65.3h0M431.4 116.4h0M489.1 39.5h0M392.2 96.9h0M424.4 109.8h0M410.1 106.7h0M469.3 132.7h0M450.2 125.1h0M490.9 49.4h0M384.6 89.3h0M384.8 87h0M390.8 86.5h0M384.9 89.5h0M384.9 89.1h0M384.5 88.2h0M493.7 62.2h0M384.6 89.8h0M494 64.1h0M382.2 92h0M493.5 58.5h0M384.9 86.1h0M384 87.1h0M382.8 91.4h0M385.2 90.9h0M384.8 89.7h0M380.4 86.9h0M489.9 45.1h0M486.1 35.5h0M494.4 62.7h0M504.9 68.9h0M427 115.5h0M385.1 94.1h0M385.3 92.8h0M491.4 50.6h0" stroke="#00BA38" stroke-width="1.5" stroke-linecap="round" fill="none"/>
<path d="M491.4 105.8h0M491.9 106h0M492.4 105.3h0M502.5 76.1h0M486.6 123h0M485.3 142h0M484.1 141.1h0M494 94.9h0M481 140.6h0M488.7 108.7h0M474.3 134.7h0M487 122.7h0M484.8 144.4h0M483.8 143.5h0M503.3 76.3h0M484.5 141.1h0M484.1 146.5h0M494 104.8h0M488.1 112.2h0M483.1 140.8h0M489 113.1h0M483.4 143.5h0M485.6 141.6h0M484.3 131.4h0M483.5 143.3h0M486.2 125.4h0M487.1 141.6h0M501 74.1h0M487.3 118.7h0M490.9 108.3h0M485.2 141.9h0M485.4 124.7h0M486.2 121.1h0M488.5 119.6h0M484.9 142.3h0M487.1 118.6h0M484.4 141.1h0M489.4 111.5h0M487.4 120.4h0M484.9 143.5h0M483.4 141.4h0M483 145.7h0M485.3 138.9h0M485.1 143.9h0M484.3 138.3h0" stroke="#00C19F" stroke-width="1.5" stroke-linecap="round" fill="none"/>
<path d="M500 75.8h0M501.9 74.5h0M484.7 143.9h0M495.9 83.7h0M500.4 76.7h0M460.4 128.6h0M502.2 75.2h0M504.3 68.6h0M508.6 62h0M485.7 134.9h0M504.8 67.7h0M482.8 143.3h0M503 77h0M487.3 120h0" stroke="#00B9E3" stroke-width="1.5" stroke-linecap="round" fill="none"/>
<path d="M500.5 75.6h0M498.6 77.5h0M485.1 143.3h0M507.8 72.4h0M482.6 141.8h0M499.4 75.7h0M449.4 125h0M491.7 99.2h0M480.3 137.4h0M467.4 135.2h0" stroke="#619CFF" stroke-width="1.5" stroke-linecap="round" fill="none"/>
<path d="M493.7 87.3h0M467.6 135.4h0M495.4 68.8h0M488.4 34.1h0M487.1 33.5h0M488 42.1h0M494.5 44.6h0M494.4 66.1h0" stroke="#DB72FB" stroke-width="1.5" stroke-linecap="round" fill="none"/>
<path d="M472 136.3h0M492.7 100.1h0M492.8 98h0M470.2 134.9h0M488 121.2h0M509.9 66.4h0" stroke="#FF61C3" stroke-width="1.5" stroke-linecap="round" fill="none"/>
<path d="M493.5 96.2h0M508.9 64.8h0M490.2 36.7h0M493.3 55.6h0M487.5 119.8h0M508.3 68.1h0M503.5 74h0M492.4 48h0M510.7 65h0M493.6 52.9h0M497.6 75.8h0M496.6 78.1h0M509 62.3h0M507.1 67h0M488.5 35h0M495 87.2h0M498.9 77.5h0M488.3 34.1h0M510.3 66h0M495.5 70.7h0M489.1 44.6h0M463.1 131.4h0M496.8 79.1h0M494 54.5h0M496.3 83.9h0M496.6 81.5h0M496.6 69.9h0M492.5 52.2h0M490.7 108.5h0M510 62h0M495.7 63.7h0M464.7 136.1h0M508.8 65.6h0M477.1 136.4h0M491.3 94.1h0M509.7 61.4h0M496.3 74.2h0M492 104.7h0M504 76.5h0M493.6 99.2h0M466.6 133.8h0M506.6 69.6h0M507.6 69.9h0M480.5 135.8h0M494 47.6h0M509 63h0M414.6 108h0M460.4 132.3h0M496.8 78.2h0M492.8 65.2h0M392.5 95.3h0M508.5 72h0M495.6 84.1h0M506.7 68h0M471.1 137.1h0M420.9 108.5h0M507.3 72.6h0M497.3 79.9h0M493.6 98.7h0M510.2 65.3h0M508.7 67.7h0M504.9 69.4h0M484.2 140.7h0M494.8 61.3h0M507.9 69.8h0M495.2 72.9h0M509 65.2h0M481.8 132.1h0M504.4 74h0M495.4 68.8h0M492.8 101.1h0M487.9 111.4h0M504.8 74.4h0M487.6 117h0M494.7 64.1h0M508.7 69h0M494.3 60.9h0M507.6 64.6h0M503.3 74.4h0M507.7 63.2h0M509.2 63.1h0M492.8 107.3h0M423.2 113.8h0" stroke="#F8766D" stroke-width="1.5" stroke-linecap="round" fill="none"/>
<path d="M386.6 86.4h0M506.5 65.6h0M461.5 131.5h0M470.1 134.8h0M504.8 69.4h0M482.7 140h0M476.3 139.3h0M465.8 132.1h0M474.3 131.5h0M485.6 122.6h0M508.4 67.5h0M469.4 136.5h0M496 83.8h0M467.7 133.9h0M506.4 68.9h0M458.7 128.9h0M496.5 74h0M504.7 76.1h0M466.9 133.1h0M499.9 73.5h0M431.1 114.3h0M508.9 62.6h0M506.9 69.4h0M465.4 133.4h0M495.3 84.5h0M468.8 134.2h0M508.4 70.7h0M499.6 75.5h0M473.2 134.6h0M458.8 127.5h0M458.3 126h0M468.6 136.7h0M461 128.1h0M459.5 130.1h0M470.7 134h0M489.3 112.5h0M387.2 90.4h0M505.7 71h0M493.9 94h0M486.6 125.9h0M490.5 45h0M462.7 132.5h0M492.7 100.4h0M508.2 63.2h0M468.2 137.6h0M504.3 71h0M494.4 96h0M467.5 130.8h0M474 133.1h0M461.4 131.4h0" stroke="#D39200" stroke-width="1.5" stroke-linecap="round" fill="none"/>
<path d="M385.9 89.3h0M492.3 48.9h0M490.9 36.5h0M387.8 90.6h0M385.7 88.2h0M495 58.2h0M489.9 47h0M391.2 84.6h0M426.6 113.3h0M397.4 94.5h0M385.8 87.9h0M422.2 112.7h0M486.8 36.5h0M489.3 43.3h0M496.3 67.1h0M386.6 88.6h0M385.7 90.1h0M489.7 111.4h0M396.8 98.9h0M386.2 89.8h0M495 62.2h0M486.2 33.1h0M489.9 39h0M485.5 118.2h0M429.9 113.6h0M384.2 88.1h0M493.8 49.2h0M495.4 65.1h0M386.8 87.6h0M384.8 89h0M491 52.9h0M383.5 92.4h0M384.2 90h0M492.8 56.2h0M385.2 88.5h0M391.6 100.8h0M504.4 72.7h0M437.8 117.7h0M509 64h0M494.3 65.2h0M504.3 69.9h0M494.3 52.2h0M502.7 71.6h0M392.1 90h0M494.7 63h0M494 58.9h0M491.5 42.8h0M493.4 58.8h0M467.9 132.3h0M489.6 34.9h0M383.6 83.6h0M493.9 51.1h0M389.3 87.2h0M387.1 90.2h0M384.3 92.1h0M392.1 92.3h0M438.6 119.6h0M387.5 87.5h0M385.7 92.4h0M495.3 67.5h0M386.2 90.9h0M489.9 45h0M493.4 61h0M494.1 59.5h0M492.7 41.7h0M475.8 133.4h0M506 69.6h0M386.3 88h0M392.6 93.4h0M493.9 57.7h0M495 62h0M386.9 87.3h0M488 42.1h0M390.9 91.8h0M434.1 108.5h0M385.1 87h0M399 100.3h0M386.5 89.1h0M496.9 74.9h0M387.3 87.7h0M387.7 82.6h0M387.6 89.8h0M494.6 57.4h0M384.2 89.6h0M490.3 43.9h0M384.8 89.3h0M389.5 84.6h0M491.1 36.6h0M385.9 89.9h0M494.1 51.5h0M492.8 42.5h0M489.9 37.8h0M423 114.3h0M487.7 33.2h0M493.4 49.5h0M487.8 45h0M493.5 43.3h0M386.3 90.3h0M384.3 88h0M383.1 90.4h0M509.3 63.6h0M381.9 86.3h0M459 130.8h0M387.4 89.1h0" stroke="#93AA00" stroke-width="1.5" stroke-linecap="round" fill="none"/>
<path d="M384.4 85.8h0M384.2 91.2h0M385.1 87.2h0M492.4 56.1h0M383.5 85.9h0M384.8 90.4h0M384.5 88.7h0M384.8 89.8h0M487 33.5h0M386.8 88.4h0M406.6 102.6h0M491.7 50.1h0M491.8 51.5h0M385.4 89.6h0M385.3 90.9h0M384.2 90.2h0M493.8 42.2h0M384.3 89.5h0M491.7 50.9h0M491.3 50.6h0M384.4 89.4h0M383.3 95.5h0M451.4 125.4h0M384.8 90.9h0M385 90.7h0M386.2 91.5h0M382.1 88.2h0M382.4 86.9h0M490.1 45.1h0M489.2 47.3h0M494 45.5h0M384.3 88.5h0M487.2 37.3h0M382.4 89.6h0M383.7 88.8h0M488 38.6h0M490.3 110.9h0M384.9 88.9h0M489.1 40.7h0M486 33.1h0M490 46.8h0M493.2 56.4h0M385.2 90.1h0M385.5 88.4h0M486.7 33.6h0M381.8 90.1h0M488.9 38.7h0M492.5 53.5h0M385.1 89.3h0M490.5 43.3h0M384.9 90.1h0M382.9 91.3h0M486.5 41.5h0M495.4 66h0M493.6 97h0M486.7 33.3h0M494.9 92.6h0M384.7 89.5h0M506.8 67h0M496.6 80.9h0M384.7 89.5h0M495.5 65.6h0M413.4 109.7h0M407.2 103.4h0M494.2 62h0M508.8 62h0M383.8 89h0M399.7 98.7h0M384.4 90.4h0M389.9 81h0M487.3 39.2h0M385.3 91.4h0M383.2 88.4h0M405.2 104.4h0M428.7 116.1h0M382.9 93.5h0M506.4 69.8h0M382.8 88.1h0M385 90.5h0M493.8 46.9h0M487.7 44.7h0M384.1 90.8h0M418.1 111h0M478.7 133.5h0M383.2 89.4h0M382.2 86.7h0M382.4 86.7h0M487.7 36.5h0M385.2 89.3h0M390.8 83.2h0M495.2 67.6h0M491.9 106.3h0M488.2 39.2h0M385.1 89.8h0M446.8 126.4h0M384.7 91.5h0M385 88h0M382 88.1h0M382.9 87.2h0M504.9 75.1h0M492.7 55.7h0M385 89.8h0M416 110.2h0M495.7 81.2h0M391.2 86.9h0M384.3 88.7h0M384.4 89h0M486.5 37h0M492.2 51.1h0M386.1 84.3h0M384.9 86.2h0M385.2 89.3h0M492.3 51.8h0M488.8 116.2h0M380.6 86.9h0M417.9 109.9h0M491.2 50.4h0M392 81.9h0M385.1 87.3h0M395.4 97h0M489.4 39.9h0" stroke="#00BA38" stroke-width="1.5" stroke-linecap="round" fill="none"/>
<path d="M508.3 66.2h0M499 76.4h0M501.4 75.8h0M483.9 139.3h0M498.5 76h0M487 120.5h0M484 141.8h0M484.3 142.2h0M471.6 134.6h0M483.9 140.8h0M484.6 130.6h0M500.9 72.8h0M488.2 121.4h0M484.7 143.4h0M483.3 135.8h0M493.9 97.2h0M485.5 131.6h0M485 138.9h0M484.6 143.2h0M497.4 79.3h0M493.7 88.9h0M489.4 114.8h0M488.2 116.3h0M486 140h0M484.8 132h0M488.7 116.4h0M481.8 144.5h0M491.9 105.6h0M486.7 121.2h0M489.8 114.3h0M488.2 114.7h0M488.3 108.4h0M488.1 116.9h0M482.6 141.7h0M483.5 143.3h0M491.9 96.4h0M485.2 128.1h0M487.6 116.7h0M483 137.6h0M493.9 91.3h0M485.3 144.4h0M487.5 117.2h0M485.7 129.2h0M489.2 109.8h0M489 115.3h0M488.6 110.2h0M494 93.6h0M485.9 126.7h0M491.1 107.6h0M482.6 136.6h0M489.7 109.8h0M485.8 117.9h0M485.1 144.2h0M486.3 127.3h0M489.8 109.8h0M485.7 139.9h0" stroke="#00C19F" stroke-width="1.5" stroke-linecap="round" fill="none"/>
<path d="M433.4 117.5h0M452.1 121h0M505 68.6h0M477.8 133.3h0M501.9 72.1h0M497.7 75.5h0M503.2 72.4h0M497.8 75.8h0M499.9 73.3h0M500.2 73.4h0M459.1 127.9h0M464.3 129.9h0M498.2 77.4h0M498.9 76.4h0M471.9 130.7h0M499.4 76.1h0M504.6 69.1h0M467.4 136.6h0M507.5 64.5h0M499.6 76.8h0M506.2 67.4h0M500.1 74.6h0" stroke="#00B9E3" stroke-width="1.5" stroke-linecap="round" fill="none"/>
<path d="M498 76.2h0M508.2 64.2h0M451.8 128.8h0M500.3 73.7h0M503.9 77.1h0M456.5 130.5h0M500.9 72.7h0M506.8 67.6h0M471.2 135.8h0M461.3 131.7h0" stroke="#619CFF" stroke-width="1.5" stroke-linecap="round" fill="none"/>
<path d="M472.6 134.1h0M493.3 102.3h0M485.4 141.2h0M492.2 94.8h0M509.6 67.5h0M486.8 38.3h0M487.8 41.9h0M493 59h0" stroke="#DB72FB" stroke-width="1.5" stroke-linecap="round" fill="none"/>
<path d="M486.9 121.7h0M474.7 134.6h0M504.9 73h0M494 95.6h0M491.9 104.3h0M487.4 121.1h0M510.6 67.9h0" stroke="#FF61C3" stroke-width="1.5" stroke-linecap="round" fill="none"/>
<circle cx="497" cy="77" r="2" fill="#000"/>
<text x="497" y="77.9" font-size="2.6" text-anchor="middle" fill="#fff" stroke="#fff" stroke-width="0.03">1</text>
<circle cx="479.5" cy="129.7" r="2" fill="#000"/>
<text x="479.5" y="130.6" font-size="2.6" text-anchor="middle" fill="#fff" stroke="#fff" stroke-width="0.03">2</text>
<circle cx="469.4" cy="130.5" r="2" fill="#000"/>
<text x="469.4" y="131.4" font-size="2.6" text-anchor="middle" fill="#fff" stroke="#fff" stroke-width="0.03">3</text>
<path d="M372.6 27L372.6 151.2" stroke="#555" stroke-width="0.5"/>
<path d="M372.4 151L517 151" stroke="#555" stroke-width="0.5"/>
<path d="M371.6 47.7L372.6 47.7" stroke="#555" stroke-width="0.4"/>
<text x="370.8" y="48.6" font-size="2.6" text-anchor="end" fill="#444" stroke="#444" stroke-width="0.03">10</text>
<path d="M371.6 72.1L372.6 72.1" stroke="#555" stroke-width="0.4"/>
<text x="370.8" y="73" font-size="2.6" text-anchor="end" fill="#444" stroke="#444" stroke-width="0.03">5</text>
<path d="M371.6 96.4L372.6 96.4" stroke="#555" stroke-width="0.4"/>
<text x="370.8" y="97.3" font-size="2.6" text-anchor="end" fill="#444" stroke="#444" stroke-width="0.03">0</text>
<path d="M371.6 120.8L372.6 120.8" stroke="#555" stroke-width="0.4"/>
<text x="370.8" y="121.7" font-size="2.6" text-anchor="end" fill="#444" stroke="#444" stroke-width="0.03">−5</text>
<path d="M371.6 145.1L372.6 145.1" stroke="#555" stroke-width="0.4"/>
<text x="370.8" y="146" font-size="2.6" text-anchor="end" fill="#444" stroke="#444" stroke-width="0.03">−10</text>
<path d="M416 151L416 152" stroke="#555" stroke-width="0.4"/>
<text x="416" y="155.1" font-size="2.6" text-anchor="middle" fill="#444" stroke="#444" stroke-width="0.03">−10</text>
<path d="M463.9 151L463.9 152" stroke="#555" stroke-width="0.4"/>
<text x="463.9" y="155.1" font-size="2.6" text-anchor="middle" fill="#444" stroke="#444" stroke-width="0.03">0</text>
<path d="M511.8 151L511.8 152" stroke="#555" stroke-width="0.4"/>
<text x="511.8" y="155.1" font-size="2.6" text-anchor="middle" fill="#444" stroke="#444" stroke-width="0.03">10</text>
<text x="365.1" y="89.6" font-size="3.4" text-anchor="middle" transform="rotate(-90 365.1 89.6)" stroke="#000" stroke-width="0.03">Component 2</text>
<text x="444.8" y="158.6" font-size="3.4" text-anchor="middle" stroke="#000" stroke-width="0.03">Component 1</text>
</g>
<g id="pD">
<text x="523.7" y="16.8" font-size="21" stroke="#000" stroke-width="0.15">D</text>
<text x="544" y="17" font-size="3.1" stroke="#000" stroke-width="0.03">celltype</text>
<circle cx="560.1" cy="12" r="0.85" fill="#F8766D"/>
<text x="564.8" y="13" font-size="2.85" fill="#222" stroke="#222" stroke-width="0.03">Epithelial cells</text>
<circle cx="586.8" cy="12" r="0.85" fill="#93AA00"/>
<text x="591.3" y="13" font-size="2.85" fill="#222" stroke="#222" stroke-width="0.03">MSCs</text>
<circle cx="603.3" cy="12" r="0.85" fill="#00C19F"/>
<text x="608.3" y="13" font-size="2.85" fill="#222" stroke="#222" stroke-width="0.03">Neutrophils</text>
<circle cx="626.2" cy="12" r="0.85" fill="#619CFF"/>
<text x="631.2" y="13" font-size="2.85" fill="#222" stroke="#222" stroke-width="0.03">B cells</text>
<circle cx="655.5" cy="12" r="0.85" fill="#FF61C3"/>
<text x="660" y="13" font-size="2.85" fill="#222" stroke="#222" stroke-width="0.03">Stromal cells</text>
<circle cx="560.1" cy="19.6" r="0.85" fill="#D39200"/>
<text x="564.8" y="20.6" font-size="2.85" fill="#222" stroke="#222" stroke-width="0.03">Macrophages</text>
<circle cx="586.8" cy="19.6" r="0.85" fill="#00BA38"/>
<text x="591.3" y="20.6" font-size="2.85" fill="#222" stroke="#222" stroke-width="0.03">CSCs</text>
<circle cx="603.3" cy="19.6" r="0.85" fill="#00B9E3"/>
<text x="608.3" y="20.6" font-size="2.85" fill="#222" stroke="#222" stroke-width="0.03">T cells</text>
<circle cx="626.2" cy="19.6" r="0.85" fill="#DB72FB"/>
<text x="631.2" y="20.6" font-size="2.85" fill="#222" stroke="#222" stroke-width="0.03">Endothelial cells</text>
<text x="548.2" y="32.6" font-size="2.9" text-anchor="middle" fill="#333" stroke="#333" stroke-width="0.03">1</text>
<path d="M540.7 95L551 131.9L552.4 131.2" stroke="#000" stroke-width="0.7" fill="none" stroke-linejoin="round"/>
<path d="M552.4 131.2L554.2 99.6L554.9 81.2L554.4 67.3L553.5 53.4" stroke="#000" stroke-width="0.7" fill="none" stroke-linejoin="round"/>
<path d="M552.4 131.2L552.8 136.6" stroke="#000" stroke-width="0.7" fill="none" stroke-linejoin="round"/>
<path d="M554.9 81.2L556.3 73.7" stroke="#000" stroke-width="0.7" fill="none" stroke-linejoin="round"/>
<path d="M550.9 136.3h0M551.4 135.7h0M539.8 92.7h0M546.7 121.3h0M550.4 131.4h0M552.2 138.3h0M545.3 119.8h0M550.8 136.7h0M544.6 117h0M551.9 134.7h0M543.4 112.2h0" stroke="#F8766D" stroke-width="1.3" stroke-linecap="round" fill="none"/>
<path d="M540 88.7h0M551.6 134.9h0M551.3 134.8h0M541.4 103.3h0M549.6 130.7h0M549.7 130.2h0M546.8 123.6h0M551.9 135.9h0M548.5 130.2h0M551 135h0M543.7 110.3h0M549.4 130.2h0M549.3 130.6h0M551.3 135.7h0M549.6 131.8h0M550.2 132.2h0" stroke="#D39200" stroke-width="1.3" stroke-linecap="round" fill="none"/>
<path d="M545.6 116.1h0M539.8 94.1h0M539.7 92h0M548.3 126.7h0M539.6 97h0M544.5 112.3h0M539.4 89.5h0M539.8 97.1h0M539.4 93h0M539.6 94.9h0M539.9 97.2h0M539.5 91.9h0M540.2 94.9h0M539.5 93.1h0M539.8 91.5h0M539.7 93.2h0M539.8 91.4h0M539.6 92.5h0M544.3 112.9h0M539.6 93.5h0M539.3 95.8h0M544.3 112.2h0M539.6 92.9h0M539.9 90.4h0M544.4 109.3h0M539.7 89.9h0M541.8 102.6h0M539.6 93.1h0M542.2 106.3h0M539.6 91.8h0M539.8 89.1h0M540.1 92.9h0M539.6 93.3h0M539.8 91.3h0M539.8 91.4h0M539.5 93.6h0M541.8 104h0M544 110.1h0M541 99.2h0M540.2 93.3h0M539.6 95.9h0M539.9 93.4h0M539.6 93.5h0M539.7 96.6h0M539.5 92.6h0M539.8 97.2h0M539.7 91.8h0" stroke="#93AA00" stroke-width="1.3" stroke-linecap="round" fill="none"/>
<path d="M538.8 89.8h0M539.7 98.8h0M539.7 92.6h0M540.9 100.2h0M540.1 84.4h0M539.5 92.9h0M539.2 96.8h0M539.4 92.1h0M539.4 90.5h0M541.5 101.8h0M539.5 91.7h0M539.5 92.9h0M539.5 92.1h0M540.3 95.2h0M540.4 93.3h0M539.5 92.3h0M539.5 92.2h0M539.5 89.9h0M539.3 92.9h0M540.3 88h0M539.4 92.5h0M539.1 91.8h0M539.5 92.8h0M539.6 94.9h0M539.5 92.8h0M541.3 102h0M539.5 87.7h0M539.5 93.5h0M539.3 90.3h0M539.6 93.2h0M539.5 93.4h0M539.5 92.1h0M539.4 91.8h0M539.8 93.9h0M550.7 131.2h0M539.5 93h0M545.8 119.3h0M539.4 92.1h0M539.4 92h0M539.2 91h0M539.5 91.7h0M539.4 92.4h0M540.4 87.1h0M541.7 105.5h0M540.3 85.9h0M538.9 91.3h0M539.5 91.7h0M545.3 117.8h0M539.4 91.7h0M539.5 92.9h0M548.3 129.1h0M540.2 84.7h0M539.5 91.7h0M540.8 99.9h0M540.1 99.8h0M539.2 90.6h0M539.5 93.3h0M541.3 103.9h0M539.5 92.9h0M539.5 92.7h0M539.4 93.4h0M539.5 90.9h0M539.6 91h0M539.4 93.1h0M541.3 101.8h0M547.2 124.6h0M539.5 93.7h0M539.5 93.6h0M539.5 92.9h0M539.6 94.8h0" stroke="#00BA38" stroke-width="1.3" stroke-linecap="round" fill="none"/>
<path d="M549.2 129.2h0M549.4 130.3h0M550.2 132.8h0M550.9 132.3h0" stroke="#00B9E3" stroke-width="1.3" stroke-linecap="round" fill="none"/>
<path d="M551.5 137.5h0M551.8 139.9h0" stroke="#619CFF" stroke-width="1.3" stroke-linecap="round" fill="none"/>
<path d="M545.5 117.8h0M551.9 133h0M552.7 135.6h0" stroke="#DB72FB" stroke-width="1.3" stroke-linecap="round" fill="none"/>
<path d="M549.8 130.1h0" stroke="#FF61C3" stroke-width="1.3" stroke-linecap="round" fill="none"/>
<path d="M545.3 117.8h0M547.5 122.3h0M550.8 137.8h0M550.7 134.4h0M544.1 112.9h0M544.7 115.6h0M550.1 131.4h0M551.2 133.3h0M547.4 125.8h0M548 128.1h0M547.5 123.9h0M546 120.5h0M543.7 110.7h0M548.6 127.5h0M549.6 132.2h0M540.3 92.4h0M544.5 112.5h0M550.8 136.4h0" stroke="#F8766D" stroke-width="1.3" stroke-linecap="round" fill="none"/>
<path d="M549 129.3h0M549.8 129.7h0M550.7 135.1h0M551.6 137.2h0M551.8 135.8h0M551.3 136.6h0M551.3 134.7h0M552 140.3h0M549.8 133.6h0M552.8 133.4h0M549.5 129.6h0M552.6 137h0M549.5 127.7h0M544.9 111.8h0M549 129.4h0M541.1 100.4h0M539.7 90.9h0M551.1 136.2h0M551 134h0" stroke="#D39200" stroke-width="1.3" stroke-linecap="round" fill="none"/>
<path d="M546.8 121.5h0M539.7 92.9h0M540.2 88.7h0M539.7 95.6h0M539.4 94.8h0M548 124.8h0M541.6 101.4h0M539.8 91.6h0M539.6 91.5h0M539.5 90.7h0M539 91.9h0M539.6 93.2h0M540.3 87.1h0M540.6 96.7h0M539.2 97.4h0M539.5 93.8h0M539.8 89.5h0M539.7 92.5h0M539.6 92h0M540.1 90.9h0M539.6 95.8h0M539.5 96.4h0M540.8 98h0M540.1 88.3h0M545.2 115.6h0M539.7 94.8h0M539.5 92.9h0M539.4 90.9h0M539.2 96h0M545.5 115.7h0M546.4 119h0M546.4 123.5h0M539.8 93.9h0M539.9 95.4h0M539.9 91h0M540.3 92.4h0M539.7 91.9h0M539.7 94.4h0M540.3 89h0M540 91.4h0M540.4 103.7h0M539.5 94.2h0M539.8 92.6h0M539.7 93.8h0M539.5 93.9h0M544.2 112h0M539.2 89.3h0M539.4 94.1h0" stroke="#93AA00" stroke-width="1.3" stroke-linecap="round" fill="none"/>
<path d="M539.4 94.3h0M539.5 92h0M539.1 91.9h0M539.3 87.9h0M544.8 115h0M539.2 90.2h0M539.5 93.7h0M544.7 114.9h0M539.2 90.9h0M539.4 93.1h0M539.1 87.9h0M539.4 92.6h0M539.6 89.2h0M539.3 94.3h0M544.8 116.6h0M539.2 94.9h0M540.2 85.3h0M539.5 93.1h0M539.4 94.6h0M539 93.3h0M546.5 121.8h0M539.5 90.4h0M539.5 96.2h0M540 85.7h0M544.7 116.6h0M539.5 93h0M539.5 94.2h0M539.6 92.6h0M539.3 92.8h0M539.5 93h0M539.5 91.7h0M540.5 99.7h0M539.5 92.3h0M539.5 93.1h0M539.3 94.3h0M539.4 92.2h0M538.9 90.6h0M539.5 94.9h0M539.5 95.2h0M544 113.5h0M539.4 92.8h0M540 85.9h0M539.4 93.8h0M539.3 89.7h0M540.4 89.1h0M539.5 91.4h0M539.4 96.9h0M540.2 85h0M539.1 90h0M551.8 134.8h0M539.2 95.4h0M539.3 93.9h0M539.4 92.6h0M538.9 96.3h0M540.2 85.1h0M539.4 91.7h0M539.4 92.8h0M541.6 103.2h0M543.5 110.3h0M539.3 93.4h0M539.4 94.5h0M539.4 92.7h0" stroke="#00BA38" stroke-width="1.3" stroke-linecap="round" fill="none"/>
<path d="M546.9 122h0M548.8 128.2h0M546.4 123.3h0M549.1 131.7h0" stroke="#00B9E3" stroke-width="1.3" stroke-linecap="round" fill="none"/>
<path d="M550.8 133.6h0M550.3 130.4h0" stroke="#619CFF" stroke-width="1.3" stroke-linecap="round" fill="none"/>
<path d="M546.7 119.8h0" stroke="#DB72FB" stroke-width="1.3" stroke-linecap="round" fill="none"/>
<path d="M551.5 137.4h0M549.2 129.1h0M549.4 129.3h0M551.2 135.2h0M550.3 130.9h0M550.8 138.1h0M551.4 140.1h0M551.4 138.5h0M547.5 125.2h0M545 117.5h0M540.4 90.6h0" stroke="#F8766D" stroke-width="1.3" stroke-linecap="round" fill="none"/>
<path d="M549.9 133.1h0M551.1 135.3h0M549.3 128.6h0M546.3 120.6h0M553.3 136.1h0M551 140.8h0M542.2 104.3h0M540.4 97.8h0M551.3 135.5h0M551.5 139.2h0M540.6 95.4h0" stroke="#D39200" stroke-width="1.3" stroke-linecap="round" fill="none"/>
<path d="M539.6 92.3h0M539.7 96h0M539.6 93.4h0M539.8 95.7h0M539.7 92.1h0M539.5 93.1h0M539.5 92.8h0M547.9 121.4h0M541.3 99.9h0M539.7 93.3h0M540 87.1h0M539.5 89.2h0M549.4 127.4h0M539.2 95.5h0M539.6 96.4h0M539.5 94h0M539.4 92.6h0M539.9 93.3h0M547.3 123.3h0M539.8 94.4h0M549 130.6h0M539.4 92.3h0M540.3 84.3h0M539.8 92.1h0M539.6 92.6h0M540.4 93.5h0M540.3 85.4h0M539.4 94.4h0M539.7 93.2h0M539.9 95.3h0M539.1 92.7h0M539.7 90.1h0M543.1 108h0M539.7 95.4h0M540.2 91.6h0M539 97h0M543.2 107.1h0M539.9 91.1h0M539.7 95h0M539.7 93.3h0M546.2 111.1h0M539.7 92.3h0M539.9 94.1h0M539.6 92.3h0M539.9 91.6h0M539.7 93.1h0M540.3 87.5h0M539.8 96.6h0M539.6 96.1h0M539.5 91.8h0M540.8 100.4h0M539.6 92.3h0M539.7 91.1h0M540.3 84h0" stroke="#93AA00" stroke-width="1.3" stroke-linecap="round" fill="none"/>
<path d="M539.4 92.4h0M539.5 92.9h0M539.4 93.4h0M539.5 92.7h0M541.4 101.7h0M539.4 93.8h0M541.1 99.3h0M539.5 92.3h0M539.3 91.1h0M539.3 93.1h0M546.8 122.6h0M539.5 93.7h0M539.5 93.6h0M540.5 91h0M539.2 94.8h0M542 107.6h0M539.2 91.3h0M539.2 96.1h0M540.6 99h0M540.1 86.4h0M542.4 107.3h0M541.6 102.4h0M539.5 92.8h0M540.1 88.4h0M539.4 93.4h0M547.1 121.2h0M539.4 93.4h0M539.3 92h0M539.5 95.2h0M543.8 112.7h0M539.5 92.2h0M539.1 93.3h0M539.1 95h0M540.9 100.3h0M539.5 92.4h0M539.5 92.7h0M539.4 90.2h0M539.5 93.1h0M540.6 98h0M539 88.9h0M539.4 91.5h0M539.5 92.5h0M539.6 91.4h0M542.9 109.4h0M539.3 92.4h0M539.5 92.9h0M538.8 97.2h0M539.6 83.3h0M539.3 95.6h0M539.4 91.1h0M539.6 93.1h0M539.2 89.9h0M539.3 94.1h0M543.6 111.9h0M543.6 110.9h0M539.4 94.1h0M540.9 101.1h0M539.3 87.4h0M539.2 95.7h0M539.5 93.3h0M540.1 86.7h0M539.5 93.2h0M539 92.9h0M539.6 92.6h0M540 87.3h0M539.4 90.5h0M540.5 85.8h0M539.3 92.9h0M539.5 91.3h0M539.2 93.2h0" stroke="#00BA38" stroke-width="1.3" stroke-linecap="round" fill="none"/>
<path d="M548 125.3h0M544.9 112.3h0M551.5 135.4h0M545.9 118.6h0M550.5 134.7h0" stroke="#00B9E3" stroke-width="1.3" stroke-linecap="round" fill="none"/>
<path d="M551.6 134.4h0M547.7 126.7h0" stroke="#619CFF" stroke-width="1.3" stroke-linecap="round" fill="none"/>
<path d="M550.5 132.4h0" stroke="#DB72FB" stroke-width="1.3" stroke-linecap="round" fill="none"/>
<path d="M551.2 138.3h0M550.1 131.9h0M541.2 100h0M548 128.4h0M551.3 140.3h0M550.8 132.2h0M551.2 129.1h0M539.8 91.3h0M545.8 121.1h0M544.5 113.7h0M552.2 134.7h0M552.3 136h0M550.9 136.8h0M544.4 111.6h0M550.7 138.1h0" stroke="#F8766D" stroke-width="1.3" stroke-linecap="round" fill="none"/>
<path d="M550.2 131.1h0M551.2 135.7h0M549.8 129.6h0M548.8 128.9h0M548.8 128.5h0M549.4 130.1h0M548.7 131h0M551 134.8h0M549.6 128.8h0" stroke="#D39200" stroke-width="1.3" stroke-linecap="round" fill="none"/>
<path d="M539.9 92.3h0M540.1 95.3h0M539.2 95h0M539.8 93.9h0M545.3 116.2h0M540.1 85.5h0M539.7 91.7h0M539.4 94.1h0M539.8 92.5h0M539.4 92.3h0M540 95.1h0M539.5 92.9h0M539.4 93.4h0M541.9 102.2h0M544.1 108.2h0M539 97.7h0M539.9 91.6h0M540 94.1h0M539.7 90.7h0M539.8 93.7h0M539.6 93.5h0M539.7 91.6h0M539.7 91.8h0M539.5 92.8h0M541.5 100.2h0M539.6 93.8h0M539.5 89.8h0M539.6 93.2h0M539.9 90h0M539.3 92.9h0M540.3 86.8h0M540.9 97.8h0M539.5 92.7h0M539.6 93.4h0M539.7 90.6h0M539.6 92.5h0M539.6 93h0M546.4 119.9h0M538.9 88.3h0M539.2 92.3h0M539 88.3h0M546.8 121.6h0" stroke="#93AA00" stroke-width="1.3" stroke-linecap="round" fill="none"/>
<path d="M539.5 93.5h0M539.5 91.3h0M539.2 96.7h0M539.5 93h0M541.8 103.2h0M539.7 90.2h0M539.5 92.6h0M541.2 101.9h0M539.2 90.4h0M543.9 113.6h0M539.9 92.1h0M550.8 135.2h0M539.4 95.2h0M539.4 89.8h0M539.3 91.7h0M539.4 92.1h0M544.3 112.8h0M540.6 94.4h0M539.5 93.5h0M544.6 115.1h0M539.3 94.1h0M539.3 94.6h0M539.5 89.1h0M540.8 99.4h0M539.5 94.4h0M539.5 92.6h0M540.5 86.2h0M539.2 90.4h0M539.5 92.8h0M539.3 92.1h0M539.5 93h0M540.5 100.1h0M539.5 93h0M539.5 90.9h0M539.5 92.4h0M539.4 93.5h0M539.1 95.7h0M539.6 93.2h0M539.5 93h0M540.3 86.7h0M540.3 85.6h0M539.4 93h0M542.1 100.3h0M539.5 92.9h0M539.2 91.9h0M539.5 92.6h0M539.5 93.2h0M539.4 95.6h0M542.5 106.2h0M548.2 127.7h0M539.6 92h0M541.8 102.7h0M539.5 93.2h0M540.2 85h0M539.5 92.8h0M541.3 101.2h0M543.6 110.6h0M539.5 92.9h0M539.3 97.2h0M539.5 94.4h0M539.4 95.5h0M539.5 93h0M539.8 91.1h0M539.4 93.3h0M542.2 104h0M539.5 92.9h0M539.5 91.8h0M539.5 91.9h0M539.5 95.1h0M544.3 113.1h0M539.5 97.4h0M540.3 83.4h0M539.2 92.3h0M539.5 92.9h0M539.7 88.5h0M539.6 96h0M545.7 120.1h0M540.7 99.3h0M539.4 87h0M538.8 88.3h0" stroke="#00BA38" stroke-width="1.3" stroke-linecap="round" fill="none"/>
<path d="M548.6 128.5h0M546 117.6h0M550.2 133.3h0M546.5 118.7h0M551.1 134.9h0" stroke="#00B9E3" stroke-width="1.3" stroke-linecap="round" fill="none"/>
<path d="M548.6 129h0M550.6 137.9h0" stroke="#619CFF" stroke-width="1.3" stroke-linecap="round" fill="none"/>
<path d="M551.7 138.4h0" stroke="#FF61C3" stroke-width="1.3" stroke-linecap="round" fill="none"/>
<path d="M548.7 127.4h0M543.3 110.1h0M549.1 129h0M550.8 137.3h0M547.8 125h0M549.6 132.4h0M552.8 136.2h0M549.3 131.9h0M546.4 121.1h0" stroke="#F8766D" stroke-width="1.3" stroke-linecap="round" fill="none"/>
<path d="M539.6 96.1h0M549 130.2h0M551.7 137.8h0M546.4 118.4h0M549.5 130.2h0M550.9 137.8h0M550.5 135.6h0M549.6 129.5h0M551.7 132.9h0M551.3 136.4h0M541.1 102h0M550.6 136.3h0M548.9 129.8h0M550 128.5h0M551.1 134h0M540.4 88.4h0M552.4 137.4h0M551 132.5h0M551 135.5h0M550.9 137.9h0M549.8 129.9h0" stroke="#D39200" stroke-width="1.3" stroke-linecap="round" fill="none"/>
<path d="M540.1 92.7h0M539.5 94.4h0M541.9 101.8h0M539.7 91.7h0M539.8 92h0M540.2 80.6h0M541.7 100.8h0M539.5 92.3h0M540.1 95.5h0M539.7 94.1h0M539.4 92.8h0M545.3 116.3h0M539.5 92.5h0M540.3 86.2h0M539.9 94h0M541.2 97.8h0M539.7 91.8h0M539.5 94.3h0M539.8 95.5h0M539.8 91h0M546.7 121.1h0M539.4 90.5h0M539.8 90.3h0M541.6 102h0M539.5 93.7h0M541.6 99.6h0M540.1 93.5h0M539.8 92.4h0M539.4 91.8h0M539.7 91.7h0M540.3 86.9h0M539.9 93.7h0M540.2 91.7h0M539.6 93.2h0M540.1 96.9h0M539.4 92.7h0M539.6 89.7h0M543.9 111.5h0M539.5 92h0M538.9 89.3h0M539.6 93.6h0M539.4 93.4h0M539.4 94h0M539.7 92.7h0M540.4 83.5h0M540.5 95.7h0M542.8 105.3h0M543.9 106.4h0M539.8 90.8h0M539.5 92h0" stroke="#93AA00" stroke-width="1.3" stroke-linecap="round" fill="none"/>
<path d="M538.9 92h0M539.5 93.2h0M539.1 93.7h0M539.3 93.9h0M539.5 93h0M544 113.5h0M539 93.2h0M539.5 92.9h0M539.4 92h0M541.9 103.5h0M539.3 93.2h0M544.1 112.5h0M539.5 92.7h0M539.7 88.1h0M539.5 92.8h0M539.3 98.7h0M539.3 91.9h0M539.4 90.8h0M546 120.1h0M539.4 93.8h0M539.5 92.7h0M539.1 93.3h0M539.4 93.1h0M540.7 98.9h0M540.5 98.6h0M539.5 92.9h0M539.4 94.1h0M539.4 91.1h0M539.5 92.3h0M539.6 91h0M539.1 97h0M539.4 93.5h0M539.4 91.9h0M539.2 91.7h0M539.4 92.3h0M539.2 93h0M539.9 94.6h0M540.2 97.9h0M543.9 111.3h0M539.5 92.9h0M539.4 90.1h0M539.5 93h0M539.3 93.9h0M539.5 90.4h0M545.5 117.3h0M539.5 93.1h0M539.2 90.5h0M539.2 95.2h0M539.5 95.1h0M539.6 93.9h0M539.6 93.8h0M538.8 96.6h0M539.5 93h0M539.6 88.1h0M540.7 102h0M540.5 98.6h0M539.6 92.9h0M539.2 95.9h0M539.5 92.5h0M539.4 93.3h0M539.2 94.1h0M539.4 90.8h0M539.4 94.4h0M539.5 91.8h0M538.9 94.9h0M539.5 91.5h0" stroke="#00BA38" stroke-width="1.3" stroke-linecap="round" fill="none"/>
<path d="M548.6 130.3h0M550 132.8h0" stroke="#00B9E3" stroke-width="1.3" stroke-linecap="round" fill="none"/>
<path d="M548 124.6h0M549.7 130.3h0M551.8 137.1h0M550.6 133.5h0" stroke="#619CFF" stroke-width="1.3" stroke-linecap="round" fill="none"/>
<path d="M550.8 137.7h0M551.7 134.4h0" stroke="#DB72FB" stroke-width="1.3" stroke-linecap="round" fill="none"/>
<path d="M546.5 121.9h0" stroke="#FF61C3" stroke-width="1.3" stroke-linecap="round" fill="none"/>
<circle cx="554.9" cy="81.2" r="1.75" fill="#000"/>
<path d="M554 81.7L555.8 80.7" stroke="#fff" stroke-width="0.45"/>
<circle cx="551" cy="131.9" r="1.75" fill="#000"/>
<path d="M550.1 132.4L551.9 131.4" stroke="#fff" stroke-width="0.45"/>
<circle cx="552.4" cy="131.2" r="1.75" fill="#000"/>
<path d="M551.5 131.7L553.3 130.7" stroke="#fff" stroke-width="0.45"/>
<path d="M538.2 151.5L558.2 151.5" stroke="#555" stroke-width="0.5"/>
<path d="M544.1 151.5L544.1 152.4" stroke="#555" stroke-width="0.35"/>
<text x="544.1" y="155.2" font-size="2.2" text-anchor="middle" fill="#444" stroke="#444" stroke-width="0.03">−10</text>
<path d="M550.4 151.5L550.4 152.4" stroke="#555" stroke-width="0.35"/>
<text x="550.4" y="155.2" font-size="2.2" text-anchor="middle" fill="#444" stroke="#444" stroke-width="0.03">0</text>
<path d="M556.8 151.5L556.8 152.4" stroke="#555" stroke-width="0.35"/>
<text x="556.8" y="155.2" font-size="2.2" text-anchor="middle" fill="#444" stroke="#444" stroke-width="0.03">10</text>
<text x="568.8" y="32.6" font-size="2.9" text-anchor="middle" fill="#333" stroke="#333" stroke-width="0.03">2</text>
<path d="M561.4 95L571.7 131.9L573.1 131.2" stroke="#000" stroke-width="0.7" fill="none" stroke-linejoin="round"/>
<path d="M573.1 131.2L574.9 99.6L575.5 81.2L575 67.3L574.1 53.4" stroke="#000" stroke-width="0.7" fill="none" stroke-linejoin="round"/>
<path d="M573.1 131.2L573.4 136.6" stroke="#000" stroke-width="0.7" fill="none" stroke-linejoin="round"/>
<path d="M575.5 81.2L576.9 73.7" stroke="#000" stroke-width="0.7" fill="none" stroke-linejoin="round"/>
<path d="M572.2 136.6h0M571.4 136.7h0M571.9 133.3h0" stroke="#F8766D" stroke-width="1.3" stroke-linecap="round" fill="none"/>
<path d="M571.5 138.1h0M572.2 139.7h0M571.9 136.6h0" stroke="#D39200" stroke-width="1.3" stroke-linecap="round" fill="none"/>
<path d="M572.4 135.5h0" stroke="#00BA38" stroke-width="1.3" stroke-linecap="round" fill="none"/>
<path d="M572.1 135.4h0" stroke="#00B9E3" stroke-width="1.3" stroke-linecap="round" fill="none"/>
<path d="M571.7 134.5h0" stroke="#619CFF" stroke-width="1.3" stroke-linecap="round" fill="none"/>
<path d="M573.4 135.6h0" stroke="#DB72FB" stroke-width="1.3" stroke-linecap="round" fill="none"/>
<circle cx="575.5" cy="81.2" r="1.75" fill="#000"/>
<path d="M574.6 81.7L576.4 80.7" stroke="#fff" stroke-width="0.45"/>
<circle cx="571.7" cy="131.9" r="1.75" fill="#000"/>
<path d="M570.8 132.4L572.6 131.4" stroke="#fff" stroke-width="0.45"/>
<circle cx="573.1" cy="131.2" r="1.75" fill="#000"/>
<path d="M572.2 131.7L574 130.7" stroke="#fff" stroke-width="0.45"/>
<path d="M558.8 151.5L578.8 151.5" stroke="#555" stroke-width="0.5"/>
<path d="M564.7 151.5L564.7 152.4" stroke="#555" stroke-width="0.35"/>
<text x="564.7" y="155.2" font-size="2.2" text-anchor="middle" fill="#444" stroke="#444" stroke-width="0.03">−10</text>
<path d="M571 151.5L571 152.4" stroke="#555" stroke-width="0.35"/>
<text x="571" y="155.2" font-size="2.2" text-anchor="middle" fill="#444" stroke="#444" stroke-width="0.03">0</text>
<path d="M577.4 151.5L577.4 152.4" stroke="#555" stroke-width="0.35"/>
<text x="577.4" y="155.2" font-size="2.2" text-anchor="middle" fill="#444" stroke="#444" stroke-width="0.03">10</text>
<text x="589.4" y="32.6" font-size="2.9" text-anchor="middle" fill="#333" stroke="#333" stroke-width="0.03">3</text>
<path d="M582 95L592.3 131.9L593.7 131.2" stroke="#000" stroke-width="0.7" fill="none" stroke-linejoin="round"/>
<path d="M593.7 131.2L595.5 99.6L596.1 81.2L595.7 67.3L594.7 53.4" stroke="#000" stroke-width="0.7" fill="none" stroke-linejoin="round"/>
<path d="M593.7 131.2L594 136.6" stroke="#000" stroke-width="0.7" fill="none" stroke-linejoin="round"/>
<path d="M596.1 81.2L597.6 73.7" stroke="#000" stroke-width="0.7" fill="none" stroke-linejoin="round"/>
<path d="M592.7 135.7h0M592.7 136.3h0M592.9 137.5h0M591.9 134.4h0" stroke="#F8766D" stroke-width="1.3" stroke-linecap="round" fill="none"/>
<path d="M592.1 138.1h0M593.6 135.1h0M594 133.4h0" stroke="#D39200" stroke-width="1.3" stroke-linecap="round" fill="none"/>
<path d="M593 135.9h0" stroke="#00B9E3" stroke-width="1.3" stroke-linecap="round" fill="none"/>
<path d="M593.1 133h0" stroke="#DB72FB" stroke-width="1.3" stroke-linecap="round" fill="none"/>
<circle cx="596.1" cy="81.2" r="1.75" fill="#000"/>
<path d="M595.2 81.7L597 80.7" stroke="#fff" stroke-width="0.45"/>
<circle cx="592.3" cy="131.9" r="1.75" fill="#000"/>
<path d="M591.4 132.4L593.2 131.4" stroke="#fff" stroke-width="0.45"/>
<circle cx="593.7" cy="131.2" r="1.75" fill="#000"/>
<path d="M592.8 131.7L594.6 130.7" stroke="#fff" stroke-width="0.45"/>
<path d="M579.4 151.5L599.4 151.5" stroke="#555" stroke-width="0.5"/>
<path d="M585.3 151.5L585.3 152.4" stroke="#555" stroke-width="0.35"/>
<text x="585.3" y="155.2" font-size="2.2" text-anchor="middle" fill="#444" stroke="#444" stroke-width="0.03">−10</text>
<path d="M591.6 151.5L591.6 152.4" stroke="#555" stroke-width="0.35"/>
<text x="591.6" y="155.2" font-size="2.2" text-anchor="middle" fill="#444" stroke="#444" stroke-width="0.03">0</text>
<path d="M598 151.5L598 152.4" stroke="#555" stroke-width="0.35"/>
<text x="598" y="155.2" font-size="2.2" text-anchor="middle" fill="#444" stroke="#444" stroke-width="0.03">10</text>
<text x="610.1" y="32.6" font-size="2.9" text-anchor="middle" fill="#333" stroke="#333" stroke-width="0.03">4</text>
<path d="M602.6 95L612.9 131.9L614.3 131.2" stroke="#000" stroke-width="0.7" fill="none" stroke-linejoin="round"/>
<path d="M614.3 131.2L616.1 99.6L616.7 81.2L616.3 67.3L615.4 53.4" stroke="#000" stroke-width="0.7" fill="none" stroke-linejoin="round"/>
<path d="M614.3 131.2L614.6 136.6" stroke="#000" stroke-width="0.7" fill="none" stroke-linejoin="round"/>
<path d="M616.7 81.2L618.2 73.7" stroke="#000" stroke-width="0.7" fill="none" stroke-linejoin="round"/>
<path d="M615 144.3h0" stroke="#D39200" stroke-width="1.3" stroke-linecap="round" fill="none"/>
<path d="M615 143h0M615 145.5h0M614.8 144.1h0M615 142h0M615.1 145.8h0M614.9 142h0M615.1 140.3h0M614.9 145.9h0M614.6 145.2h0M614.7 140.3h0M615.2 144.1h0M615.1 145h0M614.7 137.6h0M615.2 142.1h0M615.1 143.3h0M614.8 143.6h0M614.8 135.7h0M615 141.2h0M615 142.9h0M614.8 136.1h0M615.3 144.2h0M614.8 146.4h0M615 143.1h0M614.9 141.7h0M615.2 141.2h0M615 144.2h0M615 144h0M615 139.4h0" stroke="#00C19F" stroke-width="1.3" stroke-linecap="round" fill="none"/>
<path d="M615.1 144h0" stroke="#619CFF" stroke-width="1.3" stroke-linecap="round" fill="none"/>
<path d="M615 142.1h0" stroke="#F8766D" stroke-width="1.3" stroke-linecap="round" fill="none"/>
<path d="M615.3 141h0M615.2 142h0M614.5 141.6h0M615.1 143.8h0M614.6 143.2h0M614.8 136.9h0M615.1 144.6h0M615 140.7h0M614.9 141.5h0M614.8 135.8h0M615.1 140.3h0M614.8 143.2h0M615.2 143.8h0M614.7 140.6h0M614.9 142h0M615 143.8h0M614.6 137.5h0M615.3 143.3h0M614.9 145.5h0M615 144.4h0M615.1 139.3h0M614.8 144.3h0M615.2 141.3h0M615.3 145.6h0M614.9 142h0" stroke="#00C19F" stroke-width="1.3" stroke-linecap="round" fill="none"/>
<path d="M615.1 143.3h0" stroke="#00B9E3" stroke-width="1.3" stroke-linecap="round" fill="none"/>
<path d="M614.8 142.3h0M614.9 145.1h0M614.7 144.1h0M615.2 141.8h0" stroke="#DB72FB" stroke-width="1.3" stroke-linecap="round" fill="none"/>
<path d="M615 141.6h0M615.1 142.7h0M615.1 145.8h0M614.8 138.7h0M615.2 145.2h0M614.7 142.5h0M615.2 145.3h0M615.1 142.9h0M615.2 142.6h0M615.1 145.1h0M614.9 143.1h0M615.2 143.2h0M614.9 142.4h0M615.1 139.9h0M615 141.8h0M615.2 144.3h0M614.8 144.1h0M615 142.7h0M614.9 142.6h0M614.7 137.5h0M614.9 141.9h0M614.9 141h0M614.8 142.6h0M614.9 139.8h0M614.7 136.9h0M615 143.3h0M615 145h0M615.1 142.1h0" stroke="#00C19F" stroke-width="1.3" stroke-linecap="round" fill="none"/>
<path d="M614.9 141h0" stroke="#619CFF" stroke-width="1.3" stroke-linecap="round" fill="none"/>
<path d="M615.2 141h0M615 144h0" stroke="#DB72FB" stroke-width="1.3" stroke-linecap="round" fill="none"/>
<path d="M615.1 140.8h0M614.9 137.1h0M615 142.4h0M615 142.8h0M614.7 141h0M615 139.8h0M615 142.7h0M614.8 141.7h0M615 143.3h0M614.9 144h0M614.9 140.3h0M614.9 143.1h0M614.8 142.9h0M614.6 144.7h0M614.9 147.4h0M614.8 141.2h0M615.1 143.2h0M614.9 143.9h0M615 141.3h0M615.1 142.9h0M614.9 137h0M615.1 144.4h0M614.7 142.7h0M614.9 144.3h0M614.9 147.1h0M614.9 144.7h0M614.9 143.8h0" stroke="#00C19F" stroke-width="1.3" stroke-linecap="round" fill="none"/>
<path d="M614.9 145.4h0M615 144.6h0M615.2 144.9h0" stroke="#619CFF" stroke-width="1.3" stroke-linecap="round" fill="none"/>
<path d="M614.8 141.2h0" stroke="#DB72FB" stroke-width="1.3" stroke-linecap="round" fill="none"/>
<path d="M615.3 142.5h0" stroke="#D39200" stroke-width="1.3" stroke-linecap="round" fill="none"/>
<path d="M614.9 144.8h0M615.1 144.1h0M614.8 142h0M614.6 142.5h0M615.2 146.2h0M614.9 139.5h0M615.1 143.3h0M615.1 143.1h0M615.4 145.4h0M615 144.5h0M615 137.4h0M615.1 138.8h0M614.8 143.9h0M614.9 141.7h0M615 142.9h0M615 139.9h0M615 145.1h0M615 143.1h0M615.1 144.2h0M615 144.8h0M614.7 137.7h0M615.2 142.4h0M615.1 144.7h0M615 142h0M615 145.6h0M615.3 145.5h0M615 144.5h0" stroke="#00C19F" stroke-width="1.3" stroke-linecap="round" fill="none"/>
<path d="M615 146h0M615.1 142.1h0M615.1 142.4h0" stroke="#DB72FB" stroke-width="1.3" stroke-linecap="round" fill="none"/>
<circle cx="616.7" cy="81.2" r="1.75" fill="#000"/>
<path d="M615.8 81.7L617.6 80.7" stroke="#fff" stroke-width="0.45"/>
<circle cx="612.9" cy="131.9" r="1.75" fill="#000"/>
<path d="M612 132.4L613.8 131.4" stroke="#fff" stroke-width="0.45"/>
<circle cx="614.3" cy="131.2" r="1.75" fill="#000"/>
<path d="M613.4 131.7L615.2 130.7" stroke="#fff" stroke-width="0.45"/>
<path d="M600.1 151.5L620.1 151.5" stroke="#555" stroke-width="0.5"/>
<path d="M605.9 151.5L605.9 152.4" stroke="#555" stroke-width="0.35"/>
<text x="605.9" y="155.2" font-size="2.2" text-anchor="middle" fill="#444" stroke="#444" stroke-width="0.03">−10</text>
<path d="M612.3 151.5L612.3 152.4" stroke="#555" stroke-width="0.35"/>
<text x="612.3" y="155.2" font-size="2.2" text-anchor="middle" fill="#444" stroke="#444" stroke-width="0.03">0</text>
<path d="M618.6 151.5L618.6 152.4" stroke="#555" stroke-width="0.35"/>
<text x="618.6" y="155.2" font-size="2.2" text-anchor="middle" fill="#444" stroke="#444" stroke-width="0.03">10</text>
<text x="630.7" y="32.6" font-size="2.9" text-anchor="middle" fill="#333" stroke="#333" stroke-width="0.03">5</text>
<path d="M623.2 95L633.5 131.9L634.9 131.2" stroke="#000" stroke-width="0.7" fill="none" stroke-linejoin="round"/>
<path d="M634.9 131.2L636.7 99.6L637.4 81.2L636.9 67.3L636 53.4" stroke="#000" stroke-width="0.7" fill="none" stroke-linejoin="round"/>
<path d="M634.9 131.2L635.3 136.6" stroke="#000" stroke-width="0.7" fill="none" stroke-linejoin="round"/>
<path d="M637.4 81.2L638.8 73.7" stroke="#000" stroke-width="0.7" fill="none" stroke-linejoin="round"/>
<path d="M636.3 116.8h0M636.2 117.8h0M636 127.3h0M636.9 92.5h0M636.5 106.9h0M636.1 113.8h0M635.9 122.8h0M637 90.9h0M636.9 94.8h0M636.1 119h0M637 83.2h0M637.1 93h0M635.7 124.5h0M637 100.9h0M636.4 115.2h0M637 95h0M635.9 120.2h0M637.1 89h0M636.8 101.8h0M637.2 91.7h0M637 87.3h0M637 91.5h0M636.6 107.5h0M637.4 86.1h0M636.6 108h0M636.8 101.6h0M637 97h0M636.3 117.1h0M636.8 108.1h0M637.1 84.4h0M637.2 85.6h0M636 125.5h0M637.3 82.8h0M636.8 94.8h0M636.6 108.7h0" stroke="#F8766D" stroke-width="1.3" stroke-linecap="round" fill="none"/>
<path d="M635.8 120h0M636.6 105.9h0M636.2 114.9h0M636.9 94.7h0M636.3 113.9h0" stroke="#D39200" stroke-width="1.3" stroke-linecap="round" fill="none"/>
<path d="M635.7 127.4h0M637.1 90.4h0M636.5 97.4h0M637.4 83.8h0" stroke="#93AA00" stroke-width="1.3" stroke-linecap="round" fill="none"/>
<path d="M637.2 95.8h0" stroke="#00BA38" stroke-width="1.3" stroke-linecap="round" fill="none"/>
<path d="M636.7 99h0M636 118.5h0M636.3 110.6h0M636.3 109.9h0M636.9 94.2h0M636 123.5h0M635.9 121.3h0M636.8 93.6h0M636.1 114.4h0M635.8 123.3h0M635.9 127.3h0M636 120.4h0M636.2 114.8h0M635.7 120.3h0M637 87.5h0M636 119.7h0M635.7 132.3h0M635.9 127.1h0M636.7 108.1h0M636.2 121.4h0M636.1 123.4h0M635.8 127.5h0" stroke="#00C19F" stroke-width="1.3" stroke-linecap="round" fill="none"/>
<path d="M637.4 89h0M637.1 93.8h0M636.4 107.4h0" stroke="#619CFF" stroke-width="1.3" stroke-linecap="round" fill="none"/>
<path d="M636.9 90.9h0M636.8 99.4h0M636.6 105.1h0" stroke="#DB72FB" stroke-width="1.3" stroke-linecap="round" fill="none"/>
<path d="M636.6 107.4h0M636 122.1h0" stroke="#FF61C3" stroke-width="1.3" stroke-linecap="round" fill="none"/>
<path d="M635.9 119.1h0M635.9 124.5h0M637.1 84.3h0M636.4 111.1h0M635.7 127.2h0M636.8 98.4h0M637.4 83.3h0M636 117.4h0M636.8 105.1h0M635.8 121.4h0M637.2 87.7h0M636.7 100.9h0M636.7 104.1h0M636 115.8h0M637.2 93.5h0M635.7 127.2h0M636.1 120.1h0M636.8 98.5h0M636.3 114.9h0M636.7 103.1h0M636.1 116.2h0M637.2 87.4h0M636.2 114.6h0M637 90.9h0M636.5 104.1h0M637.1 87.9h0M636.7 105.3h0M637.2 83.2h0M635.8 117.5h0M637.2 93.6h0" stroke="#F8766D" stroke-width="1.3" stroke-linecap="round" fill="none"/>
<path d="M636.5 104.9h0M636.3 115h0M636 123h0M636.6 108.3h0M636.6 107.6h0M636.7 104.2h0M637.1 82.5h0M637 95.7h0M636.8 106.5h0M636.9 98.3h0M636.9 97.4h0M636.8 96.9h0M635.7 126.6h0M637.2 88.6h0M636.8 92.8h0" stroke="#D39200" stroke-width="1.3" stroke-linecap="round" fill="none"/>
<path d="M637.4 83.9h0M636.9 96.4h0M636.9 102.1h0M637.1 88.3h0M637.1 92.5h0M636.9 88.9h0" stroke="#93AA00" stroke-width="1.3" stroke-linecap="round" fill="none"/>
<path d="M637.3 85.2h0" stroke="#00BA38" stroke-width="1.3" stroke-linecap="round" fill="none"/>
<path d="M636.2 118.6h0M636.8 99.9h0M635.8 124.7h0M636.7 108h0M635.9 119.2h0M636.2 116.6h0M636.2 110.5h0M636.8 106.4h0M636.1 116.4h0M635.7 132.7h0M635.7 131.4h0M636 122.5h0M635.8 127h0M636.2 116.4h0M637.2 87.7h0M637.1 86.1h0M635.9 127.6h0M635.7 124h0" stroke="#00C19F" stroke-width="1.3" stroke-linecap="round" fill="none"/>
<path d="M636.8 94.9h0M636.6 105.1h0" stroke="#00B9E3" stroke-width="1.3" stroke-linecap="round" fill="none"/>
<path d="M636.3 113.8h0M636 123h0" stroke="#619CFF" stroke-width="1.3" stroke-linecap="round" fill="none"/>
<path d="M636.2 117.6h0" stroke="#DB72FB" stroke-width="1.3" stroke-linecap="round" fill="none"/>
<path d="M636.8 101.5h0M637.1 92.6h0M636.6 111.8h0M636 124.2h0M637.4 87.6h0M636.8 98.9h0M636.3 114.9h0M636 119.1h0M636.9 97h0M636.6 108.6h0M636.5 110.9h0M635.9 123.6h0M635.5 124.4h0M636.8 94.4h0M636.7 110.2h0M637.2 86h0M637.4 83.4h0M637.3 86.7h0M636.4 109.9h0M635.9 122h0M636.5 107.7h0M637 83.7h0M637.1 83.1h0M636 121.8h0M636 117.6h0M636.5 108.4h0M636.7 99.7h0M636.8 102.2h0M636.3 112.3h0M636.6 112.9h0M636 120.7h0M637.2 82.8h0M636.9 98.6h0M635.9 120.6h0M636.9 97.3h0M635.7 126.5h0" stroke="#F8766D" stroke-width="1.3" stroke-linecap="round" fill="none"/>
<path d="M636.7 103.1h0M636.8 99.9h0M637 90.6h0M635.8 127.1h0M636 122h0M636.8 103.2h0M636.8 94.5h0M636.7 102.4h0M637 96h0M636.6 105.2h0M637 91.1h0" stroke="#D39200" stroke-width="1.3" stroke-linecap="round" fill="none"/>
<path d="M636.9 90.9h0M636.9 95.9h0" stroke="#93AA00" stroke-width="1.3" stroke-linecap="round" fill="none"/>
<path d="M636.6 102.3h0M636.6 112.7h0" stroke="#00BA38" stroke-width="1.3" stroke-linecap="round" fill="none"/>
<path d="M637.2 82.2h0M636.8 95.5h0M635.8 121.5h0M635.7 129.9h0M636.4 111.2h0M635.8 125.5h0M636.6 99.6h0M636.7 104.9h0M636.4 113.4h0M635.6 133.9h0M636.3 113.3h0M636.9 100.3h0M636.1 120.2h0M637 95.7h0M635.9 121h0M635.7 133.3h0M636.2 117.6h0M635.8 123.1h0M636.6 108.8h0M636 122.5h0M635.8 126.6h0M635.8 132.1h0" stroke="#00C19F" stroke-width="1.3" stroke-linecap="round" fill="none"/>
<path d="M636.9 107.6h0M637 94.4h0" stroke="#DB72FB" stroke-width="1.3" stroke-linecap="round" fill="none"/>
<path d="M635.9 123.1h0M637.2 88.1h0M636.1 115.6h0M637.1 92.4h0M636.4 107.2h0M635.8 127.9h0M637 86.2h0M636.8 98.4h0M636.1 118.4h0M636.6 98h0M637.3 82h0M635.8 123.9h0M636.6 111.3h0M636.1 118.9h0M637.4 86.5h0M637.4 81.5h0M636.9 99.2h0M636.6 106.3h0M637 103.2h0M636.7 110.6h0M636.8 83.2h0M636.4 111.2h0M637.3 82.4h0" stroke="#F8766D" stroke-width="1.3" stroke-linecap="round" fill="none"/>
<path d="M637.3 83.1h0M636.1 115.7h0M637.3 87.1h0M636.9 98.2h0M637.1 90.1h0M637.2 85.7h0M636.6 103.1h0M635.9 119h0M637 96.2h0M637.1 95.1h0M636.4 112.6h0M636.9 95.4h0" stroke="#D39200" stroke-width="1.3" stroke-linecap="round" fill="none"/>
<path d="M636.6 107h0M635.9 124h0M637.2 85.6h0" stroke="#93AA00" stroke-width="1.3" stroke-linecap="round" fill="none"/>
<path d="M637.3 81.9h0M637.2 89.9h0" stroke="#00BA38" stroke-width="1.3" stroke-linecap="round" fill="none"/>
<path d="M636.2 111.5h0M636 118.8h0M635.9 121h0M636.2 114.5h0M636.1 123.2h0M636.8 94.5h0M636.2 115.4h0M636 120h0M635.8 128.4h0M635.9 128.2h0M635.9 121.6h0M636.9 101.1h0M636.2 111.6h0M636.3 115.9h0M635.9 125.6h0M637 94.3h0M636.2 116.1h0M636.3 116.5h0M636.1 112.7h0M636 112.9h0M636 120.1h0M636.9 98.9h0M635.8 125.6h0M635.6 127.7h0M636.2 118.7h0M636 122.4h0M635.8 130.4h0M636.5 108.6h0" stroke="#00C19F" stroke-width="1.3" stroke-linecap="round" fill="none"/>
<path d="M637.1 90.3h0" stroke="#00B9E3" stroke-width="1.3" stroke-linecap="round" fill="none"/>
<path d="M636.2 118.4h0M636.3 113.8h0M636.8 100.2h0" stroke="#619CFF" stroke-width="1.3" stroke-linecap="round" fill="none"/>
<path d="M637.2 88.2h0" stroke="#DB72FB" stroke-width="1.3" stroke-linecap="round" fill="none"/>
<path d="M636.1 120.5h0M635.7 123.2h0" stroke="#FF61C3" stroke-width="1.3" stroke-linecap="round" fill="none"/>
<path d="M636.9 95.4h0M635.7 124.6h0M636.6 107h0M637.3 84.5h0M636.9 104.6h0M637.1 98.2h0M636.8 99.4h0M636.1 112.3h0M636.1 119.6h0M636 123.9h0M635.9 122.4h0M636.8 108.8h0M636.4 113.4h0M636.3 112.9h0M636.7 104h0M636.7 98.6h0M635.8 127.3h0M637.1 85.2h0M636.9 91.6h0M637.2 84.9h0M636.7 102.1h0M636.7 104.5h0M637.2 87.5h0M636.8 100.6h0M637.4 84.5h0M636 120.6h0" stroke="#F8766D" stroke-width="1.3" stroke-linecap="round" fill="none"/>
<path d="M636.6 112.8h0M636 121.8h0M637.1 93.1h0M637.1 89.1h0M637.1 87.3h0M637.2 86.8h0M636.1 121.6h0" stroke="#D39200" stroke-width="1.3" stroke-linecap="round" fill="none"/>
<path d="M636.9 92.8h0M636.7 101.1h0M636.3 112.3h0M637.3 84.6h0M636.8 108.3h0" stroke="#93AA00" stroke-width="1.3" stroke-linecap="round" fill="none"/>
<path d="M636.7 110h0M636.8 105.2h0M636.5 107h0M635.8 127.5h0M637.2 96.2h0" stroke="#00BA38" stroke-width="1.3" stroke-linecap="round" fill="none"/>
<path d="M635.7 128.3h0M636.2 112.9h0M635.9 128.6h0M636.5 108.7h0M636.6 109h0M636.2 112h0M636.5 109.1h0M636 121.9h0M635.7 127.2h0M635.8 129.3h0M636.2 115.4h0M635.8 133.5h0M636.5 111.3h0M636.4 110.3h0M636.5 111.4h0M635.8 131.1h0M636.7 109.5h0M635.4 125.8h0M636.1 118.3h0M635.8 124.5h0M636.5 110.2h0M635.7 121.4h0M637.2 85.5h0M635.7 134.1h0M635.8 126.7h0M636.7 104.5h0M636.9 97.7h0" stroke="#00C19F" stroke-width="1.3" stroke-linecap="round" fill="none"/>
<path d="M635.9 127h0M636.9 93.3h0" stroke="#00B9E3" stroke-width="1.3" stroke-linecap="round" fill="none"/>
<path d="M636.7 103.5h0" stroke="#619CFF" stroke-width="1.3" stroke-linecap="round" fill="none"/>
<path d="M637.3 82.7h0" stroke="#DB72FB" stroke-width="1.3" stroke-linecap="round" fill="none"/>
<path d="M636.7 103.4h0" stroke="#FF61C3" stroke-width="1.3" stroke-linecap="round" fill="none"/>
<circle cx="637.4" cy="81.2" r="1.75" fill="#000"/>
<path d="M636.5 81.7L638.3 80.7" stroke="#fff" stroke-width="0.45"/>
<circle cx="633.5" cy="131.9" r="1.75" fill="#000"/>
<path d="M632.6 132.4L634.4 131.4" stroke="#fff" stroke-width="0.45"/>
<circle cx="634.9" cy="131.2" r="1.75" fill="#000"/>
<path d="M634 131.7L635.8 130.7" stroke="#fff" stroke-width="0.45"/>
<path d="M620.7 151.5L640.7 151.5" stroke="#555" stroke-width="0.5"/>
<path d="M626.5 151.5L626.5 152.4" stroke="#555" stroke-width="0.35"/>
<text x="626.5" y="155.2" font-size="2.2" text-anchor="middle" fill="#444" stroke="#444" stroke-width="0.03">−10</text>
<path d="M632.9 151.5L632.9 152.4" stroke="#555" stroke-width="0.35"/>
<text x="632.9" y="155.2" font-size="2.2" text-anchor="middle" fill="#444" stroke="#444" stroke-width="0.03">0</text>
<path d="M639.2 151.5L639.2 152.4" stroke="#555" stroke-width="0.35"/>
<text x="639.2" y="155.2" font-size="2.2" text-anchor="middle" fill="#444" stroke="#444" stroke-width="0.03">10</text>
<text x="651.3" y="32.6" font-size="2.9" text-anchor="middle" fill="#333" stroke="#333" stroke-width="0.03">6</text>
<path d="M643.8 95L654.1 131.9L655.5 131.2" stroke="#000" stroke-width="0.7" fill="none" stroke-linejoin="round"/>
<path d="M655.5 131.2L657.3 99.6L658 81.2L657.5 67.3L656.6 53.4" stroke="#000" stroke-width="0.7" fill="none" stroke-linejoin="round"/>
<path d="M655.5 131.2L655.9 136.6" stroke="#000" stroke-width="0.7" fill="none" stroke-linejoin="round"/>
<path d="M658 81.2L659.4 73.7" stroke="#000" stroke-width="0.7" fill="none" stroke-linejoin="round"/>
<path d="M659 79.3h0M659.7 69.6h0M658.2 80.6h0M658.3 81h0M659.5 70.3h0M658.4 80.8h0M659.4 77.2h0M658.8 79.9h0M659.5 75.2h0M659.5 71h0M659.8 71h0M659.1 71.5h0M659.3 77h0M659.8 72h0M659.5 71.5h0M659.2 71.9h0M659.2 71.8h0M659.3 76.6h0M659.1 77.5h0M658.1 80.7h0M659.6 67.2h0M659 74h0M658.1 81.6h0M659.6 67h0M659.8 67.5h0M659.6 67.1h0M658.3 78.1h0M659.4 74.9h0M659.7 72.5h0M659.2 77.7h0M659.8 72.5h0M658.9 80.7h0M659.6 73.9h0M659.8 69.3h0M658.9 74.9h0M659.6 67.8h0M659.3 77.9h0M659.3 70.5h0" stroke="#F8766D" stroke-width="1.3" stroke-linecap="round" fill="none"/>
<path d="M659.5 73.6h0M658.7 80.1h0M659.3 70.3h0M659.5 70.4h0M658.1 81.3h0M658 80.9h0M659 80.6h0M658.7 80.9h0M659.6 67.6h0M659.1 77.7h0M659 76.4h0M658.9 77h0M658.6 75.8h0M658.9 80.4h0M659.5 66.5h0M659.6 67.6h0M658.3 80.7h0M659.1 79.5h0M658.1 80.7h0M658.9 81.3h0M659.3 72h0M658.7 81.2h0" stroke="#D39200" stroke-width="1.3" stroke-linecap="round" fill="none"/>
<path d="M659.5 69.6h0M659.1 79.7h0M659.2 74.4h0M659.4 69.2h0M659.4 68h0M659.1 71.9h0M659.3 74h0M659.5 69h0M658.8 73.4h0" stroke="#93AA00" stroke-width="1.3" stroke-linecap="round" fill="none"/>
<path d="M659.5 69.5h0M659.2 70.7h0" stroke="#00BA38" stroke-width="1.3" stroke-linecap="round" fill="none"/>
<path d="M658.3 77.9h0M658.2 79.9h0M658.3 78.7h0M658.6 80.7h0M658.7 80.3h0M657.9 81.2h0M658.2 81.1h0M659.5 67h0M658.6 78.9h0M659.4 68.1h0" stroke="#00C19F" stroke-width="1.3" stroke-linecap="round" fill="none"/>
<path d="M658 80.9h0M658 79.8h0M658.4 79.9h0M659.6 66.4h0M659.3 73.6h0M659.2 74.2h0M658.3 80.5h0M658.2 81h0M658.6 78.1h0M659.6 67.6h0M658.5 81.6h0M658.3 80.7h0" stroke="#00B9E3" stroke-width="1.3" stroke-linecap="round" fill="none"/>
<path d="M658 80.1h0M659.6 68.5h0M658.3 80.1h0M658.4 78h0M658 80h0M658.3 81.5h0M658.2 80.6h0" stroke="#619CFF" stroke-width="1.3" stroke-linecap="round" fill="none"/>
<path d="M659.6 68.9h0M658.1 81.2h0" stroke="#DB72FB" stroke-width="1.3" stroke-linecap="round" fill="none"/>
<path d="M659.2 75h0M657.9 80.2h0" stroke="#FF61C3" stroke-width="1.3" stroke-linecap="round" fill="none"/>
<path d="M659.3 74.3h0M659.3 75.2h0M658.9 74.1h0M659.6 71.9h0M659.5 78h0M658.8 80.4h0M658.2 81.7h0M659.4 77h0M658.3 78.9h0M658.8 76.2h0M659.4 75.9h0M658.7 74.4h0M659.8 70.2h0M658.6 76.5h0M658.1 81.9h0M659.6 67.7h0M659.2 72.6h0M659 77.4h0M659.7 70.8h0M658.9 74.5h0M659.6 75.7h0M659.2 75.5h0M659.2 76.6h0M659.5 66.9h0M658.1 81.6h0M659.7 71.2h0M659.4 76.8h0M659.6 75.8h0M658.6 76.9h0M658.9 78.3h0M659.3 78.6h0M659.6 66.7h0M658.9 78.4h0M658.3 79.4h0M659.6 67.9h0M658.4 78.8h0M659.6 69h0M659.7 67.5h0M659.6 67.4h0M659 77.5h0M659.6 68h0M659.7 68.5h0" stroke="#F8766D" stroke-width="1.3" stroke-linecap="round" fill="none"/>
<path d="M659.6 68.2h0M659.3 71.8h0M659.3 70.8h0M658.5 77.3h0M658.9 77.1h0M659 74.6h0M659.2 72.6h0M659.5 72.1h0M659.1 71.5h0M658.9 74.7h0M658.7 75.6h0M659.4 69.9h0M659.7 68.2h0M659.6 67.5h0M658.7 76.3h0M659.1 72.4h0M658.7 76.1h0M658.9 79.6h0" stroke="#D39200" stroke-width="1.3" stroke-linecap="round" fill="none"/>
<path d="M658.9 74.5h0M658.8 76.4h0M658.7 78.2h0M658.7 74.7h0M659.2 71.9h0M659.6 69.1h0M659.2 74.6h0" stroke="#93AA00" stroke-width="1.3" stroke-linecap="round" fill="none"/>
<path d="M659.2 70.4h0M658.4 82h0M659.1 72.2h0M658.9 80.8h0" stroke="#00BA38" stroke-width="1.3" stroke-linecap="round" fill="none"/>
<path d="M658.4 79.9h0M658.3 80h0M658.5 80.6h0M658.4 77.8h0" stroke="#00C19F" stroke-width="1.3" stroke-linecap="round" fill="none"/>
<path d="M658.6 80.8h0M659.4 69.5h0M658.3 80.5h0M659.8 70.3h0M658.1 80.8h0M658.1 81.7h0M659.6 66.8h0M658.7 73.7h0M658.8 79.9h0M659.1 71.1h0M658.1 81.6h0M658.1 80.3h0M658 81.6h0M658.7 79.4h0" stroke="#00B9E3" stroke-width="1.3" stroke-linecap="round" fill="none"/>
<path d="M659.4 69.4h0M659.5 77.9h0M659.4 71.2h0M658.4 79.6h0" stroke="#619CFF" stroke-width="1.3" stroke-linecap="round" fill="none"/>
<path d="M659.1 78.3h0M659.2 75.8h0M659.7 67h0M659.6 68.6h0" stroke="#DB72FB" stroke-width="1.3" stroke-linecap="round" fill="none"/>
<path d="M658.8 74.5h0M658.8 80.6h0M659.6 76.9h0M659.7 69.9h0M659.2 76.8h0M659.6 66.4h0M659.4 75.4h0" stroke="#FF61C3" stroke-width="1.3" stroke-linecap="round" fill="none"/>
<path d="M659 80.3h0M659.7 69.3h0M659.1 80.4h0M659.7 73.9h0M659.7 68.4h0M659.6 75.2h0M659.4 70h0M659.5 78.4h0M658.8 78.9h0M658.5 78.5h0M659.3 72.3h0M659.2 73.7h0M659.5 76.3h0M659.5 69.3h0M659 73.9h0M659.3 71.6h0M659.7 72.1h0M659.5 73.6h0M659.6 76.1h0M659.3 78.1h0M659.4 76h0M659.7 69.7h0M659.2 75.1h0M659.7 69.4h0M659.5 76h0M659.4 69.1h0M659.5 75.3h0M659.5 71.5h0M658.9 72.3h0M659.5 76.5h0M658.5 82h0M659.2 73.8h0M659.6 67.2h0M659.3 77.8h0M659.5 69h0M659.5 68.1h0M658.9 74.3h0M659.8 68.5h0M658.8 76.5h0M659.5 78.6h0M658.6 79.2h0M659.5 73h0M658.6 77.6h0M658.8 75.5h0M659.5 71h0M659.4 74.4h0" stroke="#F8766D" stroke-width="1.3" stroke-linecap="round" fill="none"/>
<path d="M659.2 73.7h0M659.4 70.6h0M658.8 76.9h0M658 79.7h0M658 80.3h0M659 72h0M658.6 77.2h0M659.3 68.9h0M659.5 74.3h0M659 72.3h0M658.7 78.5h0M659.4 70.8h0M659.5 67.6h0" stroke="#D39200" stroke-width="1.3" stroke-linecap="round" fill="none"/>
<path d="M659.4 70.7h0M659.4 71.4h0M659.2 73.6h0M658.9 74h0M658.3 80.1h0M658.7 77.5h0M659.2 71.6h0M659.6 74.3h0M659.5 67.2h0M658.7 77h0M659.3 72h0" stroke="#93AA00" stroke-width="1.3" stroke-linecap="round" fill="none"/>
<path d="M659.2 74.1h0M659.1 74.9h0M659 73.5h0" stroke="#00BA38" stroke-width="1.3" stroke-linecap="round" fill="none"/>
<path d="M658.1 81.1h0M658.3 79.4h0M658.2 80.4h0M658.6 78.9h0" stroke="#00C19F" stroke-width="1.3" stroke-linecap="round" fill="none"/>
<path d="M658.2 78.8h0M659.6 68.9h0M658.5 80.3h0M659.6 68h0M658.1 79.2h0M659.6 72.7h0M658.3 80.4h0M658.1 79.8h0M659.1 79.7h0M658.3 79.8h0M658.2 80.6h0M658.6 77h0M658 81.7h0M658.3 81.4h0M658.6 78.5h0M658.3 78.4h0M658.7 80.8h0M658 80.4h0M659.4 68.9h0" stroke="#00B9E3" stroke-width="1.3" stroke-linecap="round" fill="none"/>
<path d="M658.5 78.3h0M658.3 78.5h0M658.1 80.2h0M658.5 76.7h0M658.1 80.4h0" stroke="#619CFF" stroke-width="1.3" stroke-linecap="round" fill="none"/>
<path d="M658.8 74.1h0M658.7 74h0" stroke="#DB72FB" stroke-width="1.3" stroke-linecap="round" fill="none"/>
<path d="M659.6 68h0" stroke="#FF61C3" stroke-width="1.3" stroke-linecap="round" fill="none"/>
<path d="M659.7 71.9h0M659.7 66.4h0M658.8 78.7h0M658.5 79.4h0M659.5 74.7h0M659 77.2h0M659 77.5h0M659.4 77.4h0M658.9 72.1h0M659.3 71.7h0M658.9 75.5h0M658.1 80.9h0M658.7 81.3h0M658.5 76.1h0M659.4 73.3h0M658.7 75.9h0M658.4 80.4h0M658.7 77.5h0M659 73.2h0M658.6 79.8h0M659.2 77.2h0M659.3 78h0M659.2 78.5h0M659.5 72.7h0M659.6 72.5h0M659.5 67.6h0M659.6 71.7h0M658.8 78.4h0M659.2 77.8h0M658.9 77.2h0M659.6 70.4h0M659.7 70.3h0M659.5 76.2h0M659.7 70.8h0M658.5 80.1h0M659.5 72.2h0" stroke="#F8766D" stroke-width="1.3" stroke-linecap="round" fill="none"/>
<path d="M659.6 68.9h0M658.1 80h0M659.6 67.6h0M659.6 76.3h0M659.4 74.4h0M658.8 76.3h0M658.3 78.9h0M659.1 71.8h0M659.5 69.4h0M658.9 73.8h0M658.6 77.4h0M658.9 73.2h0M659.2 72.1h0M659.3 71.7h0M658 80.3h0M659.5 66.7h0M659 75.3h0M659.7 71.5h0M658.5 77.4h0M659.5 73.7h0M659.2 73.1h0M659.2 71.6h0M659.6 67.3h0M659.6 75.8h0M659.1 77.5h0" stroke="#D39200" stroke-width="1.3" stroke-linecap="round" fill="none"/>
<path d="M659.6 72.2h0M659.6 66.8h0M659.4 68.2h0M659.6 68.5h0M659 78.6h0M659.2 70.9h0M659.7 66.9h0M659.4 76.9h0M658.5 81.6h0M659.1 72.2h0M658.6 75.7h0" stroke="#93AA00" stroke-width="1.3" stroke-linecap="round" fill="none"/>
<path d="M659.6 72h0M658.9 75.9h0" stroke="#00BA38" stroke-width="1.3" stroke-linecap="round" fill="none"/>
<path d="M658.4 80.9h0M658.3 80.4h0M658.2 81.6h0M658.7 80.2h0" stroke="#00C19F" stroke-width="1.3" stroke-linecap="round" fill="none"/>
<path d="M658.2 80h0M659.2 69.5h0M659.5 69.3h0M658.6 80.1h0M658.3 80.1h0M658.4 77.7h0M659.4 73.5h0M658.9 81.2h0M658.3 80.4h0M658.7 77.4h0M659.4 69.4h0M659.3 73.2h0M659.7 67.4h0M658.6 79.5h0M658.6 79.4h0M658.5 77.2h0" stroke="#00B9E3" stroke-width="1.3" stroke-linecap="round" fill="none"/>
<path d="M658.3 79h0M659.5 68.7h0M659.2 73.5h0M658.8 74.2h0M658.3 80.1h0M658 79.4h0" stroke="#619CFF" stroke-width="1.3" stroke-linecap="round" fill="none"/>
<path d="M658.7 76h0M659.3 74.8h0M659.5 76.4h0" stroke="#DB72FB" stroke-width="1.3" stroke-linecap="round" fill="none"/>
<path d="M659 79.7h0" stroke="#FF61C3" stroke-width="1.3" stroke-linecap="round" fill="none"/>
<path d="M658.9 79.1h0M659.6 70h0M658.6 76.6h0M659.6 66.6h0M659.1 79.8h0M659.7 71.2h0M659.5 72.4h0M659 80.7h0M658.9 80.6h0M659.6 68.1h0M659.7 70.8h0M659.8 69.4h0M659.2 76.9h0M658.4 77.1h0M658.2 78.8h0M658.3 77.7h0M659.1 71.6h0M659.7 69.3h0M659.5 68.9h0M659.3 77.7h0M659.8 69.8h0M658.9 77.2h0M659.6 72h0M658.9 76.3h0M659.6 71.9h0M659.3 75.4h0M659.5 76.2h0M659.7 68.2h0M659.4 73.5h0M659.5 70.2h0M659.1 78.2h0M659.2 77.1h0M659.1 81.7h0M659.6 66.7h0M659.7 70.1h0M659.5 75.2h0M658.9 75.5h0M659.1 73.9h0M659 74.4h0M659 78.8h0M659.4 78.8h0M658.4 78h0" stroke="#F8766D" stroke-width="1.3" stroke-linecap="round" fill="none"/>
<path d="M659.4 68.7h0M659.7 72.4h0M659 73.7h0M658.4 81.7h0M659 73.6h0M659.4 71h0M659.1 72.6h0M658.8 74.3h0M658.5 75.7h0M658.7 74.9h0M659.6 66.8h0M658.9 77.1h0M658.8 75.8h0M659 73.1h0M659.2 71.3h0M659.6 67.3h0" stroke="#D39200" stroke-width="1.3" stroke-linecap="round" fill="none"/>
<path d="M658.9 73.2h0M658.9 75h0M659.6 69.8h0M659.6 68h0M659.6 69.6h0M659.3 72.2h0M659.1 76.9h0M659.4 70.6h0M659.1 75.5h0M659.5 67.5h0M658.7 76.1h0" stroke="#93AA00" stroke-width="1.3" stroke-linecap="round" fill="none"/>
<path d="M658.1 80.3h0M658.1 80.6h0M657.9 80.9h0M659.7 69.3h0M658.7 77.3h0" stroke="#00BA38" stroke-width="1.3" stroke-linecap="round" fill="none"/>
<path d="M658.4 79.4h0M659 72.4h0M658.9 80.6h0M658.3 82h0M658.5 80.8h0M658.6 79.9h0" stroke="#00C19F" stroke-width="1.3" stroke-linecap="round" fill="none"/>
<path d="M659.5 70.9h0M658.1 80.1h0M659.2 74.4h0M658.3 77.9h0M659.1 71.5h0M658.6 78.1h0M659 74h0M658.1 80.6h0M658.3 78.7h0M658.1 80.2h0M658.9 75.3h0" stroke="#00B9E3" stroke-width="1.3" stroke-linecap="round" fill="none"/>
<path d="M659.3 77.1h0M658.1 81.8h0M658.4 77.9h0M658.5 77.1h0M658.9 80.4h0M658 79.8h0M658.2 81h0M658.8 80.9h0M658.9 73.1h0" stroke="#619CFF" stroke-width="1.3" stroke-linecap="round" fill="none"/>
<path d="M659.6 77.1h0M658.2 81.7h0" stroke="#DB72FB" stroke-width="1.3" stroke-linecap="round" fill="none"/>
<path d="M659.5 67.8h0M659.5 67.7h0" stroke="#FF61C3" stroke-width="1.3" stroke-linecap="round" fill="none"/>
<circle cx="658" cy="81.2" r="1.75" fill="#000"/>
<path d="M657.1 81.7L658.9 80.7" stroke="#fff" stroke-width="0.45"/>
<circle cx="654.1" cy="131.9" r="1.75" fill="#000"/>
<path d="M653.2 132.4L655 131.4" stroke="#fff" stroke-width="0.45"/>
<circle cx="655.5" cy="131.2" r="1.75" fill="#000"/>
<path d="M654.6 131.7L656.4 130.7" stroke="#fff" stroke-width="0.45"/>
<path d="M641.3 151.5L661.3 151.5" stroke="#555" stroke-width="0.5"/>
<path d="M647.2 151.5L647.2 152.4" stroke="#555" stroke-width="0.35"/>
<text x="647.2" y="155.2" font-size="2.2" text-anchor="middle" fill="#444" stroke="#444" stroke-width="0.03">−10</text>
<path d="M653.5 151.5L653.5 152.4" stroke="#555" stroke-width="0.35"/>
<text x="653.5" y="155.2" font-size="2.2" text-anchor="middle" fill="#444" stroke="#444" stroke-width="0.03">0</text>
<path d="M659.9 151.5L659.9 152.4" stroke="#555" stroke-width="0.35"/>
<text x="659.9" y="155.2" font-size="2.2" text-anchor="middle" fill="#444" stroke="#444" stroke-width="0.03">10</text>
<text x="671.9" y="32.6" font-size="2.9" text-anchor="middle" fill="#333" stroke="#333" stroke-width="0.03">7</text>
<path d="M664.5 95L674.8 131.9L676.2 131.2" stroke="#000" stroke-width="0.7" fill="none" stroke-linejoin="round"/>
<path d="M676.2 131.2L678 99.6L678.6 81.2L678.1 67.3L677.2 53.4" stroke="#000" stroke-width="0.7" fill="none" stroke-linejoin="round"/>
<path d="M676.2 131.2L676.5 136.6" stroke="#000" stroke-width="0.7" fill="none" stroke-linejoin="round"/>
<path d="M678.6 81.2L680 73.7" stroke="#000" stroke-width="0.7" fill="none" stroke-linejoin="round"/>
<path d="M677.5 42.6h0M678.4 71.3h0M678 54h0M677.9 54.5h0M678.2 65.1h0M678.4 76h0M678.5 75.2h0M678.3 70.8h0M677.6 52.7h0M678 58.1h0M677.8 57h0M678 57.5h0M677.9 61.7h0M678 59.7h0M678.1 52.6h0M678.1 66h0M677.9 53.7h0" stroke="#F8766D" stroke-width="1.3" stroke-linecap="round" fill="none"/>
<path d="M677.6 55h0M678.2 67h0M678.2 61.9h0M678.1 58.3h0M678.2 67.7h0" stroke="#D39200" stroke-width="1.3" stroke-linecap="round" fill="none"/>
<path d="M677.2 40.3h0M677.9 54.3h0M678.3 75.5h0M677.4 43.4h0M678.2 51.3h0M677.9 57.3h0M678 57.2h0M678.6 78.9h0M678 48h0M677.9 54.1h0M677.3 41h0M677.4 41.4h0M678.1 63.5h0M678 62.1h0M678.2 52h0M678.1 53.3h0M677.7 42.9h0M678.2 51.3h0M677.8 59.3h0M678.2 57.7h0M678.1 50.8h0M678.2 66.8h0M678.5 73.2h0M677.1 40.6h0M677.7 42.9h0M677.7 54h0M677.6 42h0M678.3 72.7h0M678.2 68.4h0M678.1 57h0M677.2 46.7h0M677.2 46.1h0M677.5 54.5h0M677.5 40.2h0M677.9 62.4h0M678.3 72.8h0M677.8 48.3h0M677.8 43h0M677.9 54.5h0M677.5 41.2h0M678.2 52.6h0M678.3 75.2h0M677.2 45.4h0M677.8 50h0M678.1 56.7h0M677.4 40.5h0M677.6 45.1h0M677.3 38.9h0M678.1 63.8h0M678.5 78.5h0M677.4 42.7h0M678.2 54.3h0" stroke="#93AA00" stroke-width="1.3" stroke-linecap="round" fill="none"/>
<path d="M677.7 55h0M678.1 64.6h0M678.1 53.7h0M678.3 68.9h0M677.2 40.4h0M677.5 50h0M677.5 46.4h0M678 47.5h0M678 61.5h0M677.2 41.3h0M677.7 49.5h0M677.8 56.3h0M677.9 62h0M678.3 67.6h0M678.4 67.5h0M678 62.1h0M678.4 76.2h0M678.3 71.7h0M678.5 74.5h0M677.9 59h0M677.5 46.8h0M677.2 46.1h0M677.9 59.5h0M677.5 49.4h0M678.6 80.7h0M677.5 40.8h0M677.5 55.3h0M677.3 43.7h0M677.4 51h0M677.5 46h0M677.8 57.6h0M678.5 79.7h0M677.5 45.2h0M678.6 80h0M678.2 65.8h0M677.5 45.7h0M677.1 40.6h0M678.4 70.3h0M678 61.2h0M677.9 58.9h0M678.3 71.3h0M677.1 42.6h0M678.1 62.8h0M678.2 69.9h0M678.3 72.3h0" stroke="#00BA38" stroke-width="1.3" stroke-linecap="round" fill="none"/>
<path d="M677.4 43h0M677.3 43.9h0M677.6 76.1h0" stroke="#DB72FB" stroke-width="1.3" stroke-linecap="round" fill="none"/>
<path d="M677.6 42.9h0M678.5 78.4h0M678 57.9h0" stroke="#FF61C3" stroke-width="1.3" stroke-linecap="round" fill="none"/>
<path d="M677.5 47.5h0M677.8 56.2h0M677.8 54.1h0M678.3 73.3h0M677.4 44.8h0M678.2 65h0M677.7 42.8h0M678.2 65.9h0M678.4 71.7h0M677.9 61.4h0M677.3 42.1h0M678.3 65.4h0M678.5 76.6h0M678.2 69h0M678.4 74.7h0M677.4 40.7h0M678.1 63.6h0M678.2 66.2h0M678.1 61.1h0M678.4 77.8h0M678.5 76.5h0M677.8 52.6h0" stroke="#F8766D" stroke-width="1.3" stroke-linecap="round" fill="none"/>
<path d="M678.4 71.7h0M678.5 79.6h0M677.3 40.8h0" stroke="#D39200" stroke-width="1.3" stroke-linecap="round" fill="none"/>
<path d="M678.1 51.3h0M678.3 68.5h0M678.4 70.1h0M678.2 68h0M677.9 47.3h0M678.1 52.7h0M677.1 39.9h0M677.4 39.1h0M678.2 67.7h0M677.3 41.2h0M677.4 42.5h0M678 70h0M677.9 58.2h0M677.4 42.9h0M678 49.5h0M677.9 54.6h0M677.9 57.7h0M678.2 67.2h0M677.7 65h0M677.6 50h0M678.3 70.3h0M678.5 80.2h0M677.9 47.4h0M677.3 47.9h0M678 65h0M678.2 53h0M678 60.9h0M677.8 54.3h0M677.3 40.7h0M677.5 50.4h0M678.2 66.4h0M677.7 54.3h0M677.4 41.1h0M678.2 54.8h0M678 56.6h0M677.8 52.7h0M678.3 69.9h0M677.9 51.2h0M678.1 59.9h0M677.2 47.6h0M678.3 63.4h0M677.6 44h0M677.9 48.9h0M678.1 50.2h0M678 47.7h0M678.4 69.6h0M677.3 51.3h0M678 58h0M677.9 46.4h0M677.6 47.9h0M678.3 69.6h0M677.8 54.6h0M678.4 70.3h0M678 56.3h0M678.2 49.2h0M677.7 46h0M678 58.5h0" stroke="#93AA00" stroke-width="1.3" stroke-linecap="round" fill="none"/>
<path d="M677.5 45.6h0M677.8 56.8h0M677.3 44.7h0M677.9 59.7h0M677.3 46.7h0M677.8 55.7h0M678 61.5h0M677.9 61.9h0M677.4 49h0M677.2 44.5h0M677.6 52.8h0M678.3 67.3h0M677.5 51.7h0M677.2 42.3h0M677.8 58.1h0M678 62.2h0M677.9 57.1h0M677.7 52.4h0M677.3 46.1h0M677.2 40.4h0M677.9 58.5h0M677.6 49.8h0M678.4 72h0M678.1 59.8h0M677.5 51h0M677.8 56.1h0M678.4 70.7h0M677.9 61.4h0M678.5 74.2h0M677.5 49.4h0M677.3 48.1h0M677.9 58.8h0M677.9 62.5h0M677.9 59.7h0M678 59h0M677.3 46.2h0M677.3 39h0M677.5 49.2h0M678 59.3h0" stroke="#00BA38" stroke-width="1.3" stroke-linecap="round" fill="none"/>
<path d="M678.1 61.5h0M678.3 67.1h0M678 51.2h0M677.2 42.8h0" stroke="#DB72FB" stroke-width="1.3" stroke-linecap="round" fill="none"/>
<path d="M677.8 55.6h0" stroke="#FF61C3" stroke-width="1.3" stroke-linecap="round" fill="none"/>
<path d="M678.3 68.4h0M678.1 60.9h0M678.4 78.6h0M678.3 73.4h0M678.4 76.8h0M677.2 39.7h0M678.4 77.4h0M678.5 76.9h0M677.2 39.9h0M678.4 68.6h0M678.4 71.8h0M678.2 64.8h0M678.1 64h0M678.1 51.9h0M677.3 39.9h0M678.3 72.7h0M678.1 59.5h0" stroke="#F8766D" stroke-width="1.3" stroke-linecap="round" fill="none"/>
<path d="M678.4 75.1h0M677.7 54.8h0M678.4 77.5h0M677.9 49.4h0M677.7 48.9h0M678.2 68.1h0M678.1 61.4h0" stroke="#D39200" stroke-width="1.3" stroke-linecap="round" fill="none"/>
<path d="M677.4 52.9h0M678.2 63.1h0M678 58.6h0M677.7 49.2h0M677.2 43.8h0M678.4 75.9h0M677.8 53.6h0M677.3 50.5h0M677.7 46.4h0M678.2 62.4h0M677.6 50.9h0M678.5 74.3h0M678.1 62.9h0M677.5 52.2h0M677.5 56.7h0M678.4 73.2h0M678.5 78.3h0M677.6 47.8h0M677.4 41.6h0M677.9 55.7h0M678.2 50.6h0M677.5 47.8h0M677.8 50.2h0M678.1 62.2h0M677.9 50.5h0M677.9 54.2h0M678 59.1h0M678.4 79.2h0M678.1 62.1h0M677.1 47.5h0M678.1 65.7h0M678.1 64.3h0M677.8 48.8h0M678.5 76.4h0M678.3 76.9h0M678.2 59.7h0M677.8 49.6h0M677.8 45.6h0M677.9 56.5h0M678 62.4h0M678.1 59.9h0M678.1 67.2h0M677.2 40.4h0M677.3 39.6h0M677.6 42.6h0M677.7 49.1h0M678.2 50.4h0M678.1 46.3h0M677.2 42.8h0M678.1 48.2h0M678.5 76h0M677.6 42.3h0M677.8 52.1h0M677.9 59.6h0M678.6 79.2h0" stroke="#93AA00" stroke-width="1.3" stroke-linecap="round" fill="none"/>
<path d="M677.9 45.1h0M677.7 56.7h0M678.1 64.8h0M677.8 56.4h0M677.9 61.7h0M677.2 45.6h0M678.4 75.1h0M677.9 56.6h0M678 72.5h0M677.5 53h0M677.6 55.9h0M677.3 42.5h0M678.5 80.1h0M677.5 45.6h0M678.4 75.2h0M677.8 60.7h0M678.1 64.3h0M678.1 50.7h0M677.5 51.9h0M678 61.6h0M677.2 50.8h0M677.5 41h0M677.8 51.4h0M677.4 44.2h0M677.3 43.2h0M677.6 52.6h0M678.1 59.8h0M677.7 58.4h0M678.3 67.7h0M678.1 63.2h0M678.3 69.1h0M677.4 52.3h0M677.7 50.3h0M678.2 56.3h0M677.8 56.4h0M677.5 53.2h0M678.1 63.9h0M677.4 49.6h0M677.8 48.3h0" stroke="#00BA38" stroke-width="1.3" stroke-linecap="round" fill="none"/>
<path d="M677.6 51h0M677.3 40h0M677.6 45h0M678 61h0M678.1 64.1h0" stroke="#DB72FB" stroke-width="1.3" stroke-linecap="round" fill="none"/>
<path d="M678.1 61.9h0M677.2 39.5h0" stroke="#FF61C3" stroke-width="1.3" stroke-linecap="round" fill="none"/>
<path d="M678.4 71.2h0M678.3 67.1h0M677.9 54.3h0M678.4 69h0M678.4 74.7h0M678.6 79.2h0M678.4 69.5h0M678.4 72.7h0M678 64.1h0M677 39.5h0M678.3 74.6h0M677.3 47.2h0M677.1 47.7h0M678.2 70.8h0M677.4 41.9h0M678.4 78.5h0M677.7 42.5h0M678.2 66.7h0M678.2 69.3h0M678.1 69h0M678.1 66.1h0M677.6 50.4h0" stroke="#F8766D" stroke-width="1.3" stroke-linecap="round" fill="none"/>
<path d="M678.3 67.1h0M678.5 71.8h0M678.2 67.9h0M678.5 76.5h0M677.3 42.7h0M677.8 49.7h0M678.2 61.6h0" stroke="#D39200" stroke-width="1.3" stroke-linecap="round" fill="none"/>
<path d="M677.2 39.8h0M678 55.8h0M678.1 67.3h0M678.1 64.6h0M677.6 51.9h0M677.2 41.8h0M678.2 65h0M678.2 62h0M678 56.9h0M678.3 67.7h0M677.9 48.2h0M677.1 39.6h0M678.6 76.6h0M678 58h0M678.4 75.4h0M678.4 72.3h0M677.3 44.6h0M677.6 41.5h0M677.6 41h0M678.3 73.8h0M678.3 50.2h0M677.9 59.2h0M678 59.5h0M678.1 57.9h0M678 49.8h0M677.7 46h0M677.6 42.3h0M678.5 76.6h0M678.2 66.4h0M677.1 39.1h0M678 48.4h0M677.9 51.3h0M678.4 71.9h0M678.2 62.6h0M677.8 56h0M678.1 54.8h0M677.5 53.1h0M677.1 39.6h0M677.4 39.6h0M678.5 79.2h0M677.5 50.6h0M677.8 50.1h0M677.8 51.7h0M677.8 48.1h0M677.6 50.9h0M677.2 39.2h0M678.2 63.9h0" stroke="#93AA00" stroke-width="1.3" stroke-linecap="round" fill="none"/>
<path d="M677 39.7h0M677.1 42.2h0M678.3 63h0M678.4 68.7h0M677.8 58.2h0M677.1 39.8h0M677.8 57h0M678.2 70.1h0M678.1 64.2h0M678.1 61.4h0M677.9 59.2h0M678.2 64.9h0M677.7 50.8h0M677.7 52h0M677.5 51.4h0M677.7 44h0M677.2 45.5h0M677.2 49.1h0M677.2 54.2h0M677.1 40.3h0M677.5 45.2h0M677.4 40.6h0M678.5 75.4h0M677.8 58.1h0M677.1 48.7h0M677.6 48.7h0M677.7 52.4h0M678.4 72.9h0M677.2 43.6h0M677.8 48.5h0M677.6 55.8h0M677.6 51.9h0M678.2 68.9h0M677.1 40.1h0M677.4 46.1h0M677.2 44.1h0M677.8 42.9h0M678.3 68.8h0M677.1 43.3h0M677.4 52.6h0M678 64h0M677.3 41.8h0M677.2 44.3h0" stroke="#00BA38" stroke-width="1.3" stroke-linecap="round" fill="none"/>
<path d="M678.1 53h0M677.7 50.8h0M678.6 76.3h0M677.9 46.6h0" stroke="#DB72FB" stroke-width="1.3" stroke-linecap="round" fill="none"/>
<path d="M677.3 42.9h0M677.6 48.2h0M677.6 45.8h0" stroke="#FF61C3" stroke-width="1.3" stroke-linecap="round" fill="none"/>
<path d="M678.4 75.6h0M678.4 74.2h0M678.3 70.7h0M678.2 67.2h0M677.3 45.3h0M678.2 70h0M678.3 70.3h0M678 65h0M677.5 44h0M678.5 79.3h0M678.1 63.4h0M678.4 74.1h0M678.2 67.3h0M677.7 49.2h0M677.5 48.4h0M677.2 50.8h0M677.3 44.8h0M678.1 48.9h0M678.2 67.7h0M678.2 63.9h0M678.3 72.4h0M677.6 68.8h0" stroke="#F8766D" stroke-width="1.3" stroke-linecap="round" fill="none"/>
<path d="M678.2 68.7h0M677.8 51.4h0" stroke="#D39200" stroke-width="1.3" stroke-linecap="round" fill="none"/>
<path d="M678.1 55.2h0M677.8 45h0M678.2 60h0M678.1 47.5h0M677.9 52.5h0M677.7 44.2h0M678.1 57.7h0M678.1 45.8h0M677.4 42.1h0M677.6 44h0M677.3 41h0M677.4 41.6h0M677.8 48.2h0M677.9 55.3h0M677.4 41.4h0M677.5 53.4h0M677.1 40.2h0M677.6 44.6h0M678 48.8h0M677.5 44.9h0M677.9 46.9h0M678.3 69.8h0M677.9 55.4h0M677.1 40h0M677.1 41.8h0M678.3 74h0M678.3 72.2h0M678.5 73.2h0M678.1 49.3h0M677.5 42.6h0M678.1 59h0M678 51.7h0M677.2 39.9h0M677.4 46.8h0M677.4 50.8h0M678.1 63h0M678.3 73.4h0M677.8 54.5h0M678 52.9h0M678.2 57.8h0M677.3 39.6h0M678.2 66.1h0M677.7 55h0M677.2 45.3h0M677.7 55h0M678.3 77.3h0M678.1 62.4h0M678.2 67.4h0M677.6 42h0M678.4 72.6h0M678 55.4h0M678.1 49.7h0M678.1 60.2h0" stroke="#93AA00" stroke-width="1.3" stroke-linecap="round" fill="none"/>
<path d="M678.3 70.1h0M677.4 39.4h0M678.1 56.7h0M677.5 48.6h0M678 61.4h0M677.5 47.1h0M677.2 49.2h0M678.4 75.2h0M677.3 41.7h0M678.4 78.9h0M677.9 46.2h0M677.3 53.2h0M677.4 51.7h0M677.4 44.1h0M677.2 47.5h0M677.1 41.8h0M678.4 68.6h0M677.2 40.1h0M677.3 48.1h0M677.8 54.1h0M678.4 71.8h0M678 60.8h0M677.7 55.8h0M678.4 76.6h0M678 61.2h0M678.1 54.8h0M678.3 67h0M677.8 58.9h0M678.3 66.3h0M677.3 50.8h0M677.8 55.6h0M678 63.7h0M677.8 55.7h0M677.3 49.5h0M677.4 40.5h0M677.7 52.9h0M677.8 56.6h0M677.4 45.3h0M678.3 68.3h0M677.9 59.6h0M677.5 53.6h0M678.5 78.3h0M677.9 58.7h0M677.2 39.9h0" stroke="#00BA38" stroke-width="1.3" stroke-linecap="round" fill="none"/>
<path d="M677.8 48.3h0M677.3 48h0M678.2 68.4h0" stroke="#DB72FB" stroke-width="1.3" stroke-linecap="round" fill="none"/>
<path d="M677.4 44.8h0M678.1 60.6h0" stroke="#FF61C3" stroke-width="1.3" stroke-linecap="round" fill="none"/>
<circle cx="678.6" cy="81.2" r="1.75" fill="#000"/>
<path d="M677.7 81.7L679.5 80.7" stroke="#fff" stroke-width="0.45"/>
<circle cx="674.8" cy="131.9" r="1.75" fill="#000"/>
<path d="M673.9 132.4L675.7 131.4" stroke="#fff" stroke-width="0.45"/>
<circle cx="676.2" cy="131.2" r="1.75" fill="#000"/>
<path d="M675.3 131.7L677.1 130.7" stroke="#fff" stroke-width="0.45"/>
<path d="M661.9 151.5L681.9 151.5" stroke="#555" stroke-width="0.5"/>
<path d="M667.8 151.5L667.8 152.4" stroke="#555" stroke-width="0.35"/>
<text x="667.8" y="155.2" font-size="2.2" text-anchor="middle" fill="#444" stroke="#444" stroke-width="0.03">−10</text>
<path d="M674.1 151.5L674.1 152.4" stroke="#555" stroke-width="0.35"/>
<text x="674.1" y="155.2" font-size="2.2" text-anchor="middle" fill="#444" stroke="#444" stroke-width="0.03">0</text>
<path d="M680.5 151.5L680.5 152.4" stroke="#555" stroke-width="0.35"/>
<text x="680.5" y="155.2" font-size="2.2" text-anchor="middle" fill="#444" stroke="#444" stroke-width="0.03">10</text>
<path d="M538.3 34.3L538.3 151.7" stroke="#555" stroke-width="0.5"/>
<path d="M537.3 53.4L538.3 53.4" stroke="#555" stroke-width="0.4"/>
<text x="536.5" y="54.3" font-size="2.6" text-anchor="end" fill="#444" stroke="#444" stroke-width="0.03">10</text>
<path d="M537.3 76.5L538.3 76.5" stroke="#555" stroke-width="0.4"/>
<text x="536.5" y="77.4" font-size="2.6" text-anchor="end" fill="#444" stroke="#444" stroke-width="0.03">5</text>
<path d="M537.3 99.6L538.3 99.6" stroke="#555" stroke-width="0.4"/>
<text x="536.5" y="100.5" font-size="2.6" text-anchor="end" fill="#444" stroke="#444" stroke-width="0.03">0</text>
<path d="M537.3 122.7L538.3 122.7" stroke="#555" stroke-width="0.4"/>
<text x="536.5" y="123.6" font-size="2.6" text-anchor="end" fill="#444" stroke="#444" stroke-width="0.03">−5</text>
<path d="M537.3 145.8L538.3 145.8" stroke="#555" stroke-width="0.4"/>
<text x="536.5" y="146.7" font-size="2.6" text-anchor="end" fill="#444" stroke="#444" stroke-width="0.03">−10</text>
<text x="530.2" y="93.1" font-size="3.5" text-anchor="middle" transform="rotate(-90 530.2 93.1)" stroke="#000" stroke-width="0.03">Component 2</text>
<text x="609.8" y="159.2" font-size="3.4" text-anchor="middle" stroke="#000" stroke-width="0.03">Component 1</text>
</g>
<g id="pE">
<text x="0.9" y="187.2" font-size="21" stroke="#000" stroke-width="0.15">E</text>
<text x="72" y="184.3" font-size="2.7" text-anchor="middle" fill="#222" stroke="#222" stroke-width="0.03">Alkbh5</text>
<path d="M30.7 324.9h0M25.9 325.4h0M30.5 325.9h0M27.2 327.6h0M21 325.3h0M23.2 325.1h0M26.9 327.7h0M18.7 325.1h0M25.4 262.9h0M23.9 261.4h0M28 262.9h0M22.8 262.6h0M19.3 262.5h0M23.2 261.4h0M17.6 259.9h0M21.5 261.1h0M18 261.5h0M23.8 241.9h0M19.1 231.4h0M22 229.4h0M33.4 327.1h0M38.9 326.6h0M44.1 327.1h0M40.3 327.4h0M41.4 327.8h0M43 327.8h0M36.6 325.1h0M43.4 325.2h0M35.9 325.6h0M44.3 325.9h0M44.1 325.5h0M40.4 325.9h0M44.7 327.3h0M37.7 325.9h0M43.6 326.5h0M40.9 326.6h0M46.6 325.7h0M44 327.7h0M38 325.6h0M41.9 326.8h0M42.8 327.4h0M41.3 328h0M41.4 324.7h0M36.3 326.1h0M38.3 326.6h0M33.8 326.2h0M36.5 327.9h0M39.6 327.7h0M36.9 328.2h0M43.1 325.5h0M40.1 327.7h0M34.7 327.4h0M41 327.4h0M45.2 326.9h0M34.2 326.8h0M45.9 259.9h0M44.3 261.3h0M39.3 243h0M45.1 229.7h0M44.4 231.4h0M49.9 326.1h0M50.3 326.5h0M52.1 326.3h0M57.5 326.3h0M57.5 327.6h0M54.5 325.9h0M55.4 326.6h0M56.8 325.7h0M54.5 326.6h0M55.2 326.2h0M62.2 325h0M51.5 326.2h0M54.6 324.9h0M53.6 325.8h0M57.5 328.1h0M51.8 326.5h0M50.4 326.5h0M49.8 326.9h0M59 327.3h0M50.8 326.7h0M61.8 327.6h0M52.6 262.8h0M54.1 223.4h0M68.2 326.8h0M65.7 326.9h0M71.6 327.7h0M73.5 325.1h0M73.8 327.2h0M67.3 326.4h0M69.4 325.7h0M67.5 325.9h0M78.3 326h0M77.5 327.5h0M74.8 241.2h0M66.1 231.7h0M92.5 328.1h0M89.1 325.4h0M90.8 326.2h0M84.1 324.9h0M91 325.8h0M85 325.7h0M89.1 327.3h0M90.8 328.2h0M89.8 328.1h0M81.4 325h0M81.7 327.1h0M81 326.5h0M84.1 326h0M89.8 326.6h0M87.3 325.7h0M86.5 325h0M89.3 327h0M87.3 324.7h0M85.6 326.6h0M88.7 327.1h0M91.5 325.3h0M89 326.3h0M88.9 327.6h0M91.7 327h0M86.1 325.8h0M86.2 326.8h0M86.6 324.9h0M90.7 326.8h0M92.1 327.8h0M83.9 324.6h0M93.7 324.9h0M88.8 327.6h0M91.4 326.9h0M84.5 325.6h0M85.9 327.5h0M88.6 325h0M88.4 328.1h0M84.9 325.6h0M90.2 326.4h0M91 325.8h0M84 326.3h0M83.9 325.1h0M94.1 327.5h0M88 328.2h0M90.6 325.4h0M88.4 325.1h0M85.1 328.2h0M85.9 327.8h0M91.3 324.9h0M91.6 327h0M92.4 326h0M93.6 324.9h0M82.6 324.7h0M83.2 325.7h0M88.7 324.9h0M85.2 326.3h0M83.7 327.6h0M88.6 324.6h0M89.6 260.6h0M86.2 262h0M82.7 260.4h0M88.2 260.5h0M92.1 262.6h0M92.5 260.9h0M87.8 262.3h0M83.8 260.9h0M89.5 261.5h0M81.4 242h0M92.1 230.7h0M89.5 230.3h0M90.9 229.8h0M87.5 230h0M87.4 222.1h0M89.7 215h0M93.5 216.6h0M108 325.9h0M106 325.1h0M97.5 327.6h0M104.2 326.2h0M100.1 325.8h0M102.5 326.8h0M107.9 325.9h0M105.8 326.5h0M101.5 325.9h0M102 327.6h0M108.7 325.4h0M109.3 324.8h0M98.7 328.1h0M101.7 326.3h0M104.2 325.3h0M106.9 324.7h0M99.2 324.9h0M102.5 326.2h0M100.5 327.6h0M107.2 325.4h0M101.9 326.4h0M109.2 328.1h0M102.4 327.1h0M99.2 325.2h0M109.3 325.9h0M101.7 324.6h0M99.6 326.6h0M99.9 325.4h0M104 326.3h0M103.9 326.7h0M98.9 324.6h0M100.2 327.6h0M102.8 326.9h0M97.2 327.5h0M109.3 326.7h0M99.2 324.9h0M108.1 327h0M101.9 326.8h0M105.7 326.5h0M97.7 325.3h0M110 325.7h0M102.4 324.6h0M98.9 326.4h0M98 327.4h0M108.9 326.7h0M102.2 327.2h0M100.4 326.1h0M104.6 325.5h0M107.8 325.4h0M100.5 325.6h0M98.6 261.3h0M101.8 260.7h0M107.5 261.7h0M106.1 262.1h0M110.1 260.9h0M99.9 263h0M103.8 260.8h0M102.6 260.9h0M108.3 260.5h0M98.3 262.7h0M97.8 260.4h0M103.6 260h0M98.7 221.6h0M106 217.3h0M115.3 325.8h0M117.6 326.3h0M113.4 326.6h0M114.9 327.8h0M115 325.9h0M124.5 326.6h0M119.7 325.1h0M120.2 327.9h0M119.3 324.9h0M124.7 327.6h0M119.1 261.4h0M121.3 260.1h0M121.2 261.6h0M119.8 260.3h0M113.5 262.6h0M120 229.8h0M27 206h0M62 193.2h0M101.5 215.8h0" stroke="#F8766D" stroke-width="1.3" stroke-linecap="round" fill="none"/>
<path d="M20.5 327.1h0M30.5 327.5h0M26.6 326.3h0M22 325.2h0M22.8 325.7h0M21.3 327.6h0M24.9 328.1h0M20.6 325.4h0M25 327.5h0M22 326.4h0M29.2 327.5h0M23.1 260.6h0M18.4 260.2h0M26.7 261.3h0M24.1 261.5h0M20 260.9h0M24.8 260.7h0M20.4 241.7h0M24.1 242h0M20.3 216.2h0M37.3 326.5h0M33.7 325.2h0M45.9 326.8h0M43.4 324.6h0M36.2 325.8h0M38.8 325.7h0M45.2 326.6h0M46.1 325.8h0M36.5 325h0M42.4 324.9h0M38.2 324.8h0M41.2 327.1h0M41.2 326.4h0M45.9 325.4h0M34.8 326.3h0M40 328h0M43.4 326h0M37.9 325.8h0M36.4 326.4h0M44.3 326.8h0M40.7 325.7h0M38.2 327.7h0M38.1 326.4h0M39.1 327h0M41.4 325.5h0M36.8 325.8h0M42.4 326.4h0M37 327.2h0M41 327h0M33.4 326.4h0M34.1 324.8h0M43.8 325.6h0M40.1 324.9h0M40 326.7h0M39.9 328.2h0M39.2 325.2h0M35.5 324.6h0M41.2 327.2h0M39.9 327.3h0M41.6 327.3h0M38.8 325h0M40 327.6h0M39.5 326.4h0M43.6 325.3h0M34.5 324.9h0M43.6 327.3h0M36.8 325.8h0M38.6 327.6h0M44.2 326.8h0M40.7 326.7h0M42.8 326.3h0M44.4 328.1h0M39.7 327.4h0M37.9 327.8h0M37 327.2h0M44.9 327.9h0M35.5 326.3h0M44.7 328.2h0M40.8 326.1h0M37.9 327.7h0M42.9 326.3h0M45.4 324.8h0M41.6 262.5h0M46.6 262.9h0M46.5 260.3h0M43.8 261.7h0M34.4 242.4h0M43.6 240.7h0M33.7 242.7h0M36.3 222.3h0M52.7 325.5h0M57.8 326.2h0M61.6 325.7h0M62 326.9h0M55.8 324.6h0M61.9 325.1h0M60.5 327.4h0M57.3 327.3h0M60.6 325h0M49.3 324.9h0M49.1 325.7h0M60.6 326.1h0M54.3 327.4h0M59 327.8h0M51.2 260.5h0M59.2 261h0M72.7 327.6h0M72.4 324.9h0M77.6 327.3h0M77.1 325.6h0M70.9 327.5h0M92.9 327.7h0M84.9 325.3h0M81.5 327.2h0M91.9 327.1h0M89.9 326.6h0M85.3 327.6h0M87.7 325.4h0M89.8 326.3h0M94.1 325.7h0M91.9 328.2h0M81.8 326.2h0M83.4 324.7h0M81.4 325.3h0M84.8 327.9h0M91 325.3h0M82.5 327h0M90.7 327.9h0M91.4 326.9h0M92.6 324.9h0M92.5 327.3h0M93.9 326.3h0M85.2 327.4h0M85.4 325.3h0M89 326.8h0M81.4 327.1h0M87.7 327.9h0M92.4 327.9h0M89.7 326h0M84.6 326.7h0M84 326.9h0M90 328.1h0M93.2 326.1h0M90.7 326.9h0M82.1 327.8h0M86.4 326.2h0M94 325.5h0M86.9 326.7h0M83.9 327.4h0M90.2 327.5h0M86.3 326.6h0M87.8 328h0M90.3 324.9h0M90 328h0M84.9 326.3h0M85 326.8h0M93.2 326.3h0M88.4 327.5h0M83.8 328.1h0M84.5 325.4h0M88.1 260.8h0M90.8 260.3h0M82.9 261.7h0M93.9 261.2h0M85.5 262.1h0M86.8 262.5h0M85.6 240.9h0M93.7 242.7h0M81.8 240.7h0M87.8 242.5h0M88.6 240.7h0M93.3 241.2h0M90.9 229.8h0M84.7 229.9h0M91.7 223.4h0M88.2 215.1h0M98.9 324.6h0M98.6 327.2h0M99.2 326.7h0M98.8 325.5h0M107 327h0M107.7 327.2h0M98.3 327.2h0M109.7 325.3h0M102.2 328h0M104.1 327.6h0M99.6 328.1h0M101.2 325.7h0M109.6 326.2h0M105 326.7h0M106.7 326.8h0M98.9 325.6h0M107.4 325.7h0M109.2 327.7h0M105.5 325.6h0M107 325.2h0M102.3 325.8h0M107.9 325h0M99.1 325.4h0M105.9 325.5h0M104 324.9h0M110.1 326h0M106.4 327.6h0M107.5 327.1h0M102 325.6h0M99.4 327.8h0M98.2 325.5h0M106.5 326.5h0M103.1 327.7h0M100 326.4h0M107.7 326.2h0M97.1 327.9h0M108.7 262.2h0M102.4 262.1h0M107.8 262.5h0M104.6 260.6h0M99.2 260.5h0M104.4 262.4h0M101.9 260.7h0M106.4 259.9h0M109.5 262.2h0M114.9 324.8h0M117.4 327.9h0M118.2 326.7h0M114.8 324.6h0" stroke="#D39200" stroke-width="1.3" stroke-linecap="round" fill="none"/>
<path d="M26.5 325.1h0M20.4 327.3h0M27.2 327h0M29.9 326.1h0M28.9 326.9h0M28 327.2h0M24.6 327h0M24 327.4h0M17.8 325h0M22.3 325.6h0M18 326.8h0M26.9 326.3h0M19.5 327.7h0M25.5 327.8h0M24.5 325.8h0M29 327.7h0M21.9 325.3h0M20.8 327.9h0M24.7 327.4h0M28.8 328.1h0M18.3 326.8h0M28.3 327.7h0M25.8 325.6h0M22.7 326.5h0M17.8 324.9h0M29.4 325.8h0M29.1 325.2h0M30 326.3h0M27.6 324.7h0M21.1 328.1h0M26.6 326.9h0M29.1 325h0M21.4 326.2h0M18.5 324.9h0M30.6 324.8h0M25.1 324.9h0M29.5 327.5h0M24 327.3h0M22.1 326.7h0M28.9 327.2h0M21.8 327.4h0M27.3 325.4h0M30.6 326.3h0M30.5 326.4h0M25.9 325.9h0M29.3 326.4h0M24.4 324.8h0M27.5 326.8h0M21.4 327.7h0M24.1 325.3h0M22.8 326.5h0M25.2 262.8h0M18.3 262.9h0M26.5 259.9h0M25 260.5h0M25.6 262.9h0M20.1 260.3h0M26.9 262.5h0M30.5 261.3h0M28.9 260.3h0M17.9 262h0M26 260.4h0M21.9 259.9h0M19.5 262.2h0M21.4 260.5h0M27.3 260.3h0M28.7 262.4h0M22.9 262.2h0M30.7 262.3h0M28.3 260.3h0M21.1 262.2h0M27.1 261.8h0M27.4 262.4h0M30 260h0M20 260.3h0M25.2 260.4h0M18.1 261.8h0M21.1 261.1h0M25.6 260.4h0M21.3 262.4h0M25.1 262.5h0M26.9 241h0M19 241.7h0M29.3 242.4h0M25.8 242.9h0M21.8 241.4h0M26.3 242.8h0M24 242.1h0M29.3 243h0M29.6 240.6h0M25.4 241.2h0M20.6 229.7h0M30.3 229.5h0M28.8 229.7h0M25 229.8h0M29.7 230.1h0M21.9 229.3h0M23.6 222.6h0M30.2 215h0M35.2 325.1h0M43.3 326.2h0M45 326.7h0M37.3 325.6h0M45.5 326.2h0M39.5 241.5h0M40 242.1h0M50.2 327.2h0M90.8 326.3h0M84.3 326.6h0M92.8 325.5h0M101.6 325.2h0M100.1 327.4h0M98.2 328.1h0M103.2 325.5h0M106.9 328h0M100.7 326.1h0M106.2 327.3h0M100.9 325.7h0M106 326.8h0M97.1 325.1h0M103.2 327.4h0M103.7 326.1h0M100 328.1h0M102.3 325.3h0M107.3 326.2h0M108.8 326.2h0M106.8 325.2h0M98.2 324.9h0M100.2 325.7h0M106.4 326.1h0M110 326.3h0M103.4 324.7h0M98.3 326.8h0M97.8 261.2h0M106.3 261.7h0M102 261.7h0M100 261.4h0M107.8 260.9h0M97.6 260.2h0M109.3 260h0M99.9 262.3h0M119.4 326.7h0M126 327.3h0M117.6 325h0M121.7 327.1h0M122.2 325.5h0M123.5 327.8h0M120.4 325.3h0M125.3 328.2h0M119.3 326.7h0M113.3 327.8h0M123.4 326.2h0M112.8 326.6h0M116.3 325.1h0M112.8 325.4h0M123.3 324.7h0M120.4 325.2h0M121.3 325.5h0M116.7 326.4h0M113.6 327.2h0M121 326.1h0M119.3 326.3h0M117.6 325h0M116.5 326.3h0M118.3 326.2h0M121.5 326.1h0M115.9 326.5h0M121.8 326.6h0M118.5 328h0M116.7 325.9h0M115.4 327.5h0M123 326.9h0M121.6 327.8h0M120.2 326.7h0M122.3 325.6h0M122.1 327.9h0M125.5 327.3h0M114.8 327h0M114.5 324.8h0M121.7 327.2h0M123.8 326h0M114.1 325.6h0M118.1 324.7h0M120.3 328h0M122.5 324.7h0M117.1 328.1h0M117.2 327.1h0M114 325.8h0M119.5 325.5h0M118.3 325.4h0M123.6 327.2h0M125.2 327.9h0M125.2 325.7h0M120.5 327.2h0M124.9 324.8h0M120.7 326.3h0M121.1 325h0M119.1 327.8h0M122.5 326.9h0M123.7 325.7h0M123.1 325.1h0M122.3 325.7h0M117.7 325.2h0M123.1 328.1h0M113.9 327.4h0M125.1 324.8h0M121.2 327.3h0M116.3 324.8h0M115.4 260h0M124.7 261.3h0M112.7 260.8h0M125.3 261.5h0M119.4 261h0M115.8 260.3h0M124.3 261.7h0M121 260h0M124.3 262.8h0M121.1 261.4h0M119.5 260.7h0M117.9 262.5h0M124.9 261h0M124 262.4h0M121.9 262.6h0M121.7 261.2h0M119.4 261.5h0M122.9 261.2h0M112.7 262.7h0M122.2 240.7h0M118.8 243.1h0M114.7 229.3h0M117.2 222.6h0M23.7 201.3h0M88.5 215h0" stroke="#93AA00" stroke-width="1.3" stroke-linecap="round" fill="none"/>
<path d="M17.5 325h0M24.5 326.2h0M21.7 325.9h0M20.1 325.4h0M24.6 328h0M22.1 325.3h0M30.6 324.7h0M21.8 325.8h0M26 327.6h0M30.4 328.2h0M21.4 325.2h0M19.9 327.9h0M26.6 324.9h0M19.9 326.2h0M23.3 327.4h0M18.9 325h0M18.9 325.3h0M26.9 327.7h0M22.3 326.8h0M27 327.1h0M27.6 325.5h0M17.9 325h0M19.9 327.6h0M19.8 326.2h0M24.3 327.7h0M24.3 327.2h0M19 327.4h0M29.9 327.1h0M23 325.1h0M21.4 326.1h0M24.6 325.5h0M20 327.5h0M22.7 327.5h0M20 325.4h0M26.7 325.9h0M18.2 325.5h0M23.7 326.4h0M23.8 325.7h0M17.4 324.6h0M27.5 325.7h0M25.1 326.1h0M20.4 326.8h0M25 325.3h0M24.6 328h0M24.3 327.7h0M22.5 327h0M20.3 326.1h0M30.1 327.1h0M19.2 324.8h0M17.9 326.1h0M28.1 326.2h0M23.7 327.1h0M28.4 327.2h0M19.6 324.9h0M18.1 326.6h0M21.6 326h0M30 327.1h0M17.8 327.2h0M22.7 327.5h0M29.5 327.3h0M23 326.6h0M23.4 325.1h0M22.4 325.4h0M30.2 326.1h0M21 326.2h0M27.4 325h0M20.9 327.4h0M18.3 324.9h0M24.6 326.3h0M25.4 325.7h0M26.8 326.8h0M29.1 326.6h0M27.6 325.5h0M27.8 326.7h0M30.3 326.3h0M23.4 325.2h0M19.1 327.8h0M22.5 327.8h0M21.8 326.4h0M19.8 325.1h0M19.5 327.1h0M25.2 325.8h0M27.8 324.9h0M18.6 327.5h0M30.4 327.7h0M29 326.8h0M22.1 326.1h0M17.5 326.6h0M24.9 325.1h0M26 325h0M26.1 326.4h0M19.5 326.3h0M20.4 326.9h0M30.1 328.1h0M26.9 326h0M23.5 325.8h0M25.3 326.7h0M27.7 326.3h0M26.5 328.1h0M23.4 325.2h0M22.5 327.1h0M19 327h0M21 324.7h0M29.4 326h0M24.8 326.2h0M23.6 327h0M29.8 325.2h0M30 326.8h0M18.2 327h0M26.8 327.3h0M28.9 324.8h0M19.4 325h0M22.3 327.6h0M18.9 327.4h0M23.1 328.2h0M29.1 325.4h0M26.5 325.4h0M28.4 327.5h0M28.4 328.2h0M29.6 326.7h0M29 327.1h0M21.9 327.5h0M25.4 326h0M22.5 324.8h0M29.5 324.7h0M26.3 326h0M21.6 324.9h0M23 325.7h0M20.7 325.1h0M29.2 327.5h0M21.3 325.9h0M30 326.2h0M25.7 327.6h0M20.1 326.2h0M18.3 327.6h0M29.6 325.9h0M27 326h0M17.3 324.9h0M21.4 326.1h0M23.6 326.8h0M28.5 325h0M19.9 324.9h0M19.6 328.1h0M20.5 327.9h0M19.8 324.7h0M21.7 327.2h0M22.7 326.4h0M21.1 324.7h0M25.9 327.4h0M27.1 326.6h0M24.7 327h0M20 324.9h0M26.6 326.4h0M19.7 327.2h0M19.8 327.4h0M17.9 326.4h0M27.8 325.7h0M22.2 325.4h0M17.6 326.3h0M27.4 327h0M30.1 325.6h0M20.6 327.2h0M25.4 325.6h0M20.7 327.7h0M18.2 325.3h0M27.3 325h0M17.4 325.9h0M29 324.8h0M29.5 325.2h0M20.8 325.7h0M19.2 325.2h0M19.1 326.8h0M17.4 328.1h0M20.9 326.9h0M23.6 327.8h0M30.2 327.8h0M22.8 327.1h0M25.1 324.8h0M28.1 326.9h0M30.2 326.9h0M30.4 326.2h0M27.5 326.8h0M19.1 325.3h0M24.2 325.5h0M21.9 324.8h0M24.6 327.8h0M28.8 261.8h0M29.9 261h0M24.5 260.8h0M29.5 262.6h0M28.4 261.7h0M26.8 260.6h0M22.5 262.1h0M30.6 261.5h0M18.9 261.2h0M25.8 262.3h0M19.1 262.1h0M25.2 262h0M24.7 263h0M20.7 262.3h0M22.8 261.6h0M30.7 260.4h0M30.6 262.9h0M23.1 262.8h0M22.9 261h0M21.6 261.6h0M30.1 259.8h0M26.9 262.1h0M26.7 260.6h0M22.5 260.9h0M23.5 259.9h0M23.4 263h0M21.1 261.5h0M22 260.8h0M30 261.4h0M21.4 261.6h0M20.1 260.1h0M17.7 262h0M21.8 260.9h0M24.1 261.2h0M23.1 260.8h0M25.1 262.7h0M17.6 261h0M23.9 262.2h0M28.7 261.9h0M30 262.3h0M18.4 259.8h0M18.6 261.8h0M27.7 260.3h0M22.8 260.5h0M19.9 260.8h0M22.6 261.9h0M24.1 260.4h0M21.1 262.8h0M28.5 260h0M19 260.4h0M17.5 261.3h0M26.4 259.8h0M18.8 261.6h0M29.4 261.8h0M29.5 260.3h0M30.5 261.5h0M25.6 262h0M26.5 262h0M19.8 260.9h0M26.5 260.2h0M23.6 262.8h0M26.5 262h0M28.2 261.4h0M29.2 262.5h0M28.5 263h0M20.3 261.5h0M19.6 262.8h0M19.3 262.3h0M17.5 262.7h0M26.9 262h0M21.4 262.1h0M24 262.8h0M24.6 261.2h0M18.3 260.8h0M22.9 261.7h0M20.9 260.4h0M18.6 263h0M26.1 262.9h0M30.3 261.9h0M23 261.5h0M23.5 262.3h0M19.4 260.6h0M21.1 261.2h0M30.3 260.1h0M19.8 261.1h0M27.2 261.7h0M23.9 260h0M25.7 262.6h0M25 260.3h0M26.4 260.5h0M19.9 261.9h0M28.7 262.2h0M22.9 262.7h0M30.1 261h0M20 262.3h0M21.8 261h0M26.9 261.3h0M26.7 262.2h0M22.4 262.4h0M17.9 262.2h0M26.8 262.7h0M24.8 259.9h0M18.2 262.5h0M22.7 260.6h0M21.7 243h0M28.8 241.6h0M27.3 242.4h0M20.3 241.7h0M28.9 241.2h0M30.5 242.3h0M23.3 242.6h0M24.6 241.7h0M29.3 242.7h0M23 240.9h0M23.1 242.9h0M19.4 242.1h0M30.4 241.9h0M18.8 241.3h0M29.1 240.9h0M28.6 240.8h0M21.3 242.7h0M23.9 242h0M28.5 240.9h0M29.8 241.3h0M28.8 242.5h0M19 242.3h0M27.6 240.9h0M24.9 241.8h0M26.4 242.9h0M27.6 242.6h0M20 241.6h0M20.5 240.9h0M20.1 242.8h0M26 243h0M20.1 240.8h0M20.6 242h0M22 242.1h0M29.2 242.9h0M20.5 242.8h0M30 241.9h0M27.3 230.7h0M21.4 230.6h0M28.6 231.6h0M21.3 231h0M24.6 231.2h0M20.3 230.5h0M29.2 230.6h0M20.9 230.5h0M27.7 231.4h0M19.5 230.2h0M18.7 229.2h0M19.2 229.6h0M25.3 229.2h0M22.5 230.7h0M19.1 230.5h0M25.2 231.5h0M27.9 222.7h0M25.5 221.9h0M18.8 221.8h0M29.1 221.5h0M23.9 223.2h0M22.6 221.1h0M20.2 222.6h0M30.3 222.8h0M29.8 221.2h0M28.4 214.8h0M23.6 216.8h0M27.6 215.3h0M29.2 211.7h0M45.6 325.7h0M42.3 328h0M42.7 328h0M39.1 326.4h0M39.1 324.6h0M62 325.5h0M84.1 326.7h0M82.4 326.1h0M89 325.4h0M86.5 324.7h0M82.8 325.5h0M85.3 327.8h0M81.4 326.8h0M88.8 324.7h0M89.7 242.5h0M91.8 230.1h0M105.6 325.2h0M99.9 326.8h0M108.6 326h0M107.6 325.7h0M100.8 327h0M97.6 326.4h0M99.5 326.6h0M107.8 325.9h0M107.5 324.8h0M108.5 326.9h0M98.8 260.4h0M97.9 262.1h0M99.3 261.1h0M99.4 260.8h0M102.4 222.3h0M116.4 324.8h0M125.3 326.6h0M113.8 327.8h0M123.7 326.3h0M118 325.2h0M119.9 326.3h0M114.2 327.3h0M123.4 327.2h0M116.3 328h0M125.9 327.6h0M114.8 326.3h0M118.8 326.4h0M120.9 327.6h0M118.4 327.8h0M117.9 327.6h0M115.6 327.4h0M114.7 327.7h0M113.2 327.7h0M117.5 325.8h0M113.5 326.5h0M120.9 327.2h0M117.6 325.8h0M115.5 327.1h0M119.1 327.4h0M117.8 326.3h0M116 325.8h0M123.8 328.2h0M116.1 325.8h0M115.9 326.4h0M114 327.5h0M118.9 326.8h0M119 324.7h0M121.3 327.6h0M118.6 326.1h0M112.9 327.7h0M124.2 328.1h0M114.6 328h0M113.9 327.6h0M118.9 325.5h0M117.2 327.1h0M114.6 327.9h0M120.5 327.6h0M115.6 325.2h0M124.3 324.7h0M113.4 327h0M125.5 325h0M116.5 326.9h0M125.1 326.7h0M116.9 324.9h0M117.4 325.9h0M120.8 328.1h0M114.3 326.1h0M122.8 327.6h0M119.7 327.7h0M121.6 325.9h0M121.6 326.1h0M122.6 327.9h0M113.6 324.6h0M119.8 326.2h0M124.7 326.9h0M119 324.7h0M122.1 325.1h0M116.6 327.4h0M122.4 325.9h0M122.7 325.4h0M114.9 326h0M120.7 326.4h0M125.1 326.1h0M115.3 324.8h0M118.6 326.3h0M121.7 326.1h0M116.7 326.4h0M119.2 326.4h0M115.2 327h0M114.3 325.2h0M126.1 327.8h0M116.9 326.5h0M125.3 325.6h0M117.9 326.9h0M120.3 325.1h0M123.2 324.7h0M115 326.9h0M121.7 326.9h0M123.3 326.5h0M123.6 325.7h0M124.8 327.9h0M113.3 326.6h0M121.1 327.5h0M113.2 326.5h0M125.9 327.3h0M119.8 327.3h0M122.4 326.2h0M114.4 325.2h0M114 324.7h0M117.4 324.8h0M121.1 325.9h0M123.1 325.8h0M117.1 328.2h0M116.2 327.3h0M122 326.4h0M124.8 324.9h0M113 326h0M112.8 326.1h0M114.7 327.7h0M114.9 260.2h0M119.5 261h0M115.3 261.7h0M119.6 262.4h0M125.4 261.4h0M115.5 260.7h0M118.1 260.5h0M123.5 260.7h0M120.2 261.6h0M115.2 262.6h0M122 261.5h0M123.3 262.8h0M114 259.8h0M123.4 260h0M124.5 262.4h0M113.3 242.9h0M115.6 240.6h0M124.9 240.6h0M116.3 242.9h0M125.1 242.8h0M121.6 241.1h0M120.8 231h0M121.2 221.6h0M120.9 210.3h0" stroke="#00BA38" stroke-width="1.3" stroke-linecap="round" fill="none"/>
<path d="M49.6 324.7h0M52.9 324.9h0M52.3 324.9h0M61.1 328h0M57.2 325.9h0M55.8 324.8h0M54.1 325.5h0M54.5 327.9h0M49.2 325h0M58.4 326.5h0M60.3 325.7h0M49.1 327.9h0M61.3 324.7h0M53.7 326.9h0M60 325.8h0M49.5 326h0M60.2 324.8h0M51.7 326.9h0M55.9 328h0M61.5 325.8h0M53.8 326.7h0M58 326.2h0M54.5 324.6h0M53.9 327.2h0M49.6 328.1h0M61.4 327.7h0M58.6 326.9h0M50.1 324.8h0M60.3 327.2h0M52.8 325.6h0M59.9 328.2h0M56.6 325.2h0M57.9 327.2h0M55.5 325.6h0M57 327h0M57.2 328.1h0M58.3 324.8h0M59.4 262.4h0M55.5 229.9h0M72 326.1h0M66.4 327.8h0M67.7 328h0M67.4 325.5h0M71.8 328.1h0M73.8 326.6h0M65.5 326h0M66.6 328h0M70 326.3h0M72.7 327.5h0M65.1 327.3h0M69.1 324.9h0M68.7 325.6h0M65.7 327.4h0M73 328.1h0M65.8 326.9h0M78.1 326.8h0M67 326.1h0M77.2 324.8h0M69.5 326.5h0M75.3 325.6h0M67.4 324.8h0M75.6 324.7h0M73.9 327.6h0M73.5 325.8h0M70.8 327.6h0M74 325.6h0M68.7 326.4h0M73.6 324.6h0M75 325.9h0M71.1 325.4h0M74.9 326.7h0M70.9 324.9h0M66.2 327.7h0M74.7 325.6h0M74.3 326.9h0M67 327.3h0M65.7 325h0M77.8 326.2h0M78.1 326.1h0M66 326.2h0M69.8 327.1h0M67 326.9h0M78.1 327.3h0M66.6 325.5h0M74.4 327.9h0M71.4 327h0M78.3 326.2h0M67.1 326.5h0M70 326.1h0M77 327h0M74.9 327.3h0M74.7 327.6h0M68.1 328h0M76.9 328h0M76.5 326.4h0M71 325.8h0M74 326.1h0M77.2 327.3h0M76 327h0M71.4 326.5h0M74.4 327.5h0M74.7 324.8h0M74.8 326.2h0M77.5 327.8h0M75.9 326.5h0M66 325.8h0M73.4 327.2h0M68 326.2h0M76.4 324.8h0M68.1 327.6h0M72.5 328.1h0M72 325.6h0M78 328.2h0M71.7 325.9h0M69.9 328h0M67.8 327.5h0M72.9 327.7h0M75.1 325.2h0M71.3 324.6h0M65.6 325.7h0M77.8 327.1h0M75.4 325.6h0M73.2 328h0M67.1 327.6h0M78.1 325h0M66.5 327.3h0M68 327.8h0M76 327h0M72.5 324.9h0M75.5 327.5h0M69.3 326.2h0M77.7 324.7h0M75.8 327.3h0M66.5 324.9h0M71.4 326.9h0M76 328.1h0M67.1 325.2h0M73.8 327h0M69.3 325h0M75.3 325.9h0M66.8 327.6h0M71.2 327.5h0M75.9 325.4h0M68.2 327.2h0M71.7 324.7h0M71.4 325.5h0M72.5 326.9h0M74.4 324.7h0M69.7 326h0M65.3 324.8h0M67.8 324.7h0M68.9 325.7h0M69.8 327.4h0M74.8 324.8h0M69.7 261h0M65.6 262.5h0M74.2 260.3h0M75.7 262.1h0M72.8 242.1h0M71 241.9h0M70.4 242.7h0M75.6 241.8h0M66.8 241.8h0M76 242.5h0M70.2 242.6h0M74.7 241.7h0M70.6 241.6h0M78.3 241.3h0M77.3 240.9h0M73.8 243.1h0M68 240.8h0M71.1 242.3h0M71.6 242.7h0M71.3 242.5h0M65 242.5h0M69.4 240.7h0M69.7 231.4h0M77.6 229.5h0M72.3 231.4h0M67.9 229.8h0M73.2 230.5h0M74.6 230.9h0M72.2 230.7h0M65.2 229.2h0M66.3 231h0M74 229.4h0M71.7 229.6h0M69.1 229.3h0M65.6 221.2h0M78.4 221.9h0M77.7 222h0M75 223.6h0M70.6 215.7h0M77.5 211.2h0M94.2 325.9h0M91.8 324.8h0M82.4 324.7h0M81.1 328.1h0M91.1 327.4h0M84.2 262h0M104.5 325.5h0M100 327.8h0M70.3 210.5h0M96.5 209h0" stroke="#00C19F" stroke-width="1.3" stroke-linecap="round" fill="none"/>
<path d="M29.5 326.9h0M20.6 240.5h0M43.1 325.5h0M45.9 328.1h0M33.6 326.1h0M46 326.9h0M43.1 325.2h0M38.7 328h0M38.7 325.6h0M41.2 326.7h0M39 327.9h0M45.3 327.3h0M35.8 325h0M39.4 328.1h0M33.8 326.5h0M36.2 262.2h0M38.1 262.8h0M43.5 222.1h0M58 327.3h0M57.9 324.9h0M57.8 327.2h0M62.2 327.1h0M55.4 325.3h0M55.4 327.8h0M52.4 325.2h0M60.4 327h0M51.5 326.9h0M62.5 328.1h0M57.3 327.6h0M53.8 327h0M61.2 326h0M52.9 327.5h0M61.1 326.6h0M59.6 326.3h0M49.8 327.2h0M58 327.8h0M52.5 262.3h0M54.6 230.6h0M74.3 326.3h0M70.9 328h0M66 327.9h0M69.6 327.8h0M68.5 328h0M66.5 328.2h0M75.6 326.4h0M72.4 326h0M78.2 262.3h0M76.9 241h0M65.2 242.8h0M65.2 241.1h0M81.6 325.2h0M93.5 325.7h0M84.4 324.6h0M82.8 326.2h0M90.8 326h0M82.7 325.5h0M83.2 325h0M92.8 327.3h0M88 327h0M86 325.1h0M87.1 326.3h0M83.6 324.8h0M83.3 327.1h0M91.5 327.3h0M92.9 327h0M83.2 262.5h0M87.7 229.5h0M104.3 326.6h0M99.6 324.9h0M99.4 326.3h0M108.1 326.5h0M97.3 325h0M108.8 327.7h0M101 261.1h0" stroke="#00B9E3" stroke-width="1.3" stroke-linecap="round" fill="none"/>
<path d="M20.6 326.4h0M24.4 326.4h0M22 327.7h0M23.1 263h0M28 230.1h0M45.3 327.4h0M37.4 325.2h0M43.3 326.6h0M35.9 328h0M39 326.4h0M40.9 326.5h0M40 326h0M40.6 325.2h0M45.5 326.1h0M36.2 327.8h0M43.2 325h0M34 325.9h0M43.9 324.8h0M34 325.5h0M39.1 324.8h0M40.6 325h0M41.5 325.9h0M41.4 325.7h0M36.5 325.8h0M41.9 326.9h0M44.1 327.9h0M37.6 325.7h0M38.9 261.7h0M45.1 217.1h0M57.4 326.4h0M50.8 325.9h0M62.4 326.4h0M54.1 327.5h0M57.6 326.7h0M58.7 327.2h0M61.1 327.1h0M58.9 325.7h0M56.5 327h0M59 326.3h0M50.5 326.3h0M58.2 327.5h0M59.6 325.6h0M59.7 327.4h0M54.1 327.9h0M61.9 324.8h0M51.6 325.6h0M49.3 327.7h0M56 327.8h0M52 327.3h0M51.8 325.9h0M56.6 325.6h0M50.5 326.1h0M60.2 325.3h0M61.8 325.3h0M61.2 327h0M53.2 327.8h0M60.2 327.5h0M50.2 325.5h0M61.2 325.1h0M62 326.3h0M55.1 326.9h0M61.9 326h0M60.4 326.8h0M53.3 327.6h0M58.5 326.4h0M59.6 325.7h0M60.7 324.8h0M51.8 326h0M59.2 324.6h0M54.9 324.8h0M57.6 327.1h0M58.2 326.4h0M53.1 325.8h0M54 327.3h0M59.3 326.5h0M58.5 328h0M55.4 326.7h0M58.3 259.8h0M58.9 260.3h0M59.5 260.5h0M52 242h0M76.7 324.7h0M69.2 328h0M78.4 326.2h0M76.5 327.7h0M66.7 327.6h0M66.1 326.2h0M75.3 328h0M71.9 327.1h0M77.9 325.8h0M65.2 240.9h0M66.6 241.2h0M72.4 230.2h0M69.8 222h0M82.8 327h0M84.4 325.3h0M88.7 326.9h0M93.6 325.2h0M82.3 260.1h0M98.1 325.5h0M102.3 326.4h0M96.9 327.9h0M103.3 325.4h0M98.6 325.1h0M108.4 327.6h0M101.5 328h0M105.2 259.8h0M109.7 260h0M107.4 240.6h0" stroke="#619CFF" stroke-width="1.3" stroke-linecap="round" fill="none"/>
<path d="M34.5 325.5h0M35.6 327.7h0M37.7 325.3h0M38.7 326.8h0M39.7 260.5h0M54.6 326.3h0M53.9 324.9h0M55.4 324.9h0M52.5 324.6h0M51.9 326.6h0M59.9 325h0M55.7 325.9h0M57.3 326h0M71 328h0M72.5 326.3h0M74.7 326h0M74.1 242h0M70.6 231.3h0M66.8 223.1h0M81.1 325.6h0M93.3 325.8h0M90.5 324.6h0M81.2 326.7h0M90.4 326.3h0M83.6 260.8h0M104.8 325.4h0M99.8 324.8h0M98.3 325.3h0M102.8 326.2h0M101.4 328h0M102.9 325.9h0M109.7 326.6h0M99.3 327.6h0M103.2 326.7h0M105.8 262.9h0M101.4 261.6h0M100.4 262.8h0M115 327.1h0M115.1 328h0M123.1 326.9h0M115.4 262.9h0" stroke="#DB72FB" stroke-width="1.3" stroke-linecap="round" fill="none"/>
<path d="M41.2 324.9h0M33.3 327.8h0M43.4 325h0M39.3 324.8h0M43.5 223h0M53 325.1h0M59.7 327.7h0M91.8 327.3h0M82.7 326.5h0M93.3 325.6h0M83.5 328.1h0M85.7 325.1h0M89.1 327.3h0M91.9 326.4h0M84.7 327.5h0M87.8 326.9h0M86.3 324.8h0M91.6 325.8h0M91.5 325.2h0M81 325.3h0M85.3 263h0M82.9 240.8h0M87.7 242.5h0M97.7 326.8h0M102.9 324.6h0M101.9 328h0M103 327.5h0M97.5 326.1h0M110 327.8h0M106.8 326.7h0M107.5 260.3h0M123.4 327.9h0M118.7 325.4h0" stroke="#FF61C3" stroke-width="1.3" stroke-linecap="round" fill="none"/>
<path d="M24 326.3L39.9 326.3L55.8 326.3L71.7 326.3L87.6 326.3L103.5 326.3L119.4 324.5" stroke="#93AA00" stroke-width="0.45" fill="none"/>
<circle cx="24" cy="326.3" r="0.9" fill="#93AA00"/>
<circle cx="39.9" cy="326.3" r="0.9" fill="#93AA00"/>
<circle cx="55.8" cy="326.3" r="0.9" fill="#93AA00"/>
<circle cx="71.7" cy="326.3" r="0.9" fill="#93AA00"/>
<circle cx="87.6" cy="326.3" r="0.9" fill="#93AA00"/>
<circle cx="103.5" cy="326.3" r="0.9" fill="#93AA00"/>
<circle cx="119.4" cy="324.5" r="0.9" fill="#93AA00"/>
<path d="M24 322L39.9 322.3L55.8 325L71.7 322.8L87.6 325L103.5 326.3L119.4 326.3" stroke="#619CFF" stroke-width="0.45" fill="none"/>
<circle cx="24" cy="322" r="0.9" fill="#619CFF"/>
<circle cx="39.9" cy="322.3" r="0.9" fill="#619CFF"/>
<circle cx="55.8" cy="325" r="0.9" fill="#619CFF"/>
<circle cx="71.7" cy="322.8" r="0.9" fill="#619CFF"/>
<circle cx="87.6" cy="325" r="0.9" fill="#619CFF"/>
<circle cx="103.5" cy="326.3" r="0.9" fill="#619CFF"/>
<circle cx="119.4" cy="326.3" r="0.9" fill="#619CFF"/>
<path d="M24 319.8L39.9 326.3L55.8 326.3L71.7 326.3L87.6 320.2L103.5 322L119.4 325" stroke="#00B9E3" stroke-width="0.45" fill="none"/>
<circle cx="24" cy="319.8" r="0.9" fill="#00B9E3"/>
<circle cx="39.9" cy="326.3" r="0.9" fill="#00B9E3"/>
<circle cx="55.8" cy="326.3" r="0.9" fill="#00B9E3"/>
<circle cx="71.7" cy="326.3" r="0.9" fill="#00B9E3"/>
<circle cx="87.6" cy="320.2" r="0.9" fill="#00B9E3"/>
<circle cx="103.5" cy="322" r="0.9" fill="#00B9E3"/>
<circle cx="119.4" cy="325" r="0.9" fill="#00B9E3"/>
<path d="M24 309.6L39.9 319.3L55.8 321L71.7 323L87.6 326.3L103.5 322L119.4 318.4" stroke="#DB72FB" stroke-width="0.45" fill="none"/>
<path d="M24 302.6L24 320" stroke="#DB72FB" stroke-width="0.5" stroke-opacity="0.75"/>
<path d="M119.4 311.4L119.4 326.3" stroke="#DB72FB" stroke-width="0.5" stroke-opacity="0.75"/>
<circle cx="24" cy="309.6" r="0.9" fill="#DB72FB"/>
<circle cx="39.9" cy="319.3" r="0.9" fill="#DB72FB"/>
<circle cx="55.8" cy="321" r="0.9" fill="#DB72FB"/>
<circle cx="71.7" cy="323" r="0.9" fill="#DB72FB"/>
<circle cx="87.6" cy="326.3" r="0.9" fill="#DB72FB"/>
<circle cx="103.5" cy="322" r="0.9" fill="#DB72FB"/>
<circle cx="119.4" cy="318.4" r="0.9" fill="#DB72FB"/>
<path d="M24 317L39.9 321L55.8 323L71.7 326.3L87.6 310.2L103.5 322.3L119.4 326.3" stroke="#FF61C3" stroke-width="0.45" fill="none"/>
<path d="M87.6 277.2L87.6 326.3" stroke="#FF61C3" stroke-width="0.5" stroke-opacity="0.75"/>
<circle cx="24" cy="317" r="0.9" fill="#FF61C3"/>
<circle cx="39.9" cy="321" r="0.9" fill="#FF61C3"/>
<circle cx="55.8" cy="323" r="0.9" fill="#FF61C3"/>
<circle cx="71.7" cy="326.3" r="0.9" fill="#FF61C3"/>
<circle cx="87.6" cy="310.2" r="0.9" fill="#FF61C3"/>
<circle cx="103.5" cy="322.3" r="0.9" fill="#FF61C3"/>
<circle cx="119.4" cy="326.3" r="0.9" fill="#FF61C3"/>
<path d="M24 316.3L39.9 317.2L55.8 318L71.7 319.8L87.6 326.3L103.5 326.3L119.4 326.3" stroke="#F8766D" stroke-width="0.45" fill="none"/>
<path d="M71.7 311.8L71.7 326.3" stroke="#F8766D" stroke-width="0.5" stroke-opacity="0.75"/>
<circle cx="24" cy="316.3" r="0.9" fill="#F8766D"/>
<circle cx="39.9" cy="317.2" r="0.9" fill="#F8766D"/>
<circle cx="55.8" cy="318" r="0.9" fill="#F8766D"/>
<circle cx="71.7" cy="319.8" r="0.9" fill="#F8766D"/>
<circle cx="87.6" cy="326.3" r="0.9" fill="#F8766D"/>
<circle cx="103.5" cy="326.3" r="0.9" fill="#F8766D"/>
<circle cx="119.4" cy="326.3" r="0.9" fill="#F8766D"/>
<path d="M24 317.5L39.9 315.8L55.8 315L71.7 326.3L87.6 315.3L103.5 322L119.4 310.2" stroke="#D39200" stroke-width="0.45" fill="none"/>
<path d="M119.4 277.2L119.4 326.3" stroke="#D39200" stroke-width="0.5" stroke-opacity="0.75"/>
<path d="M39.9 307.5L39.9 326.3" stroke="#D39200" stroke-width="0.5" stroke-opacity="0.75"/>
<path d="M55.8 298L55.8 326.3" stroke="#D39200" stroke-width="0.5" stroke-opacity="0.75"/>
<circle cx="24" cy="317.5" r="0.9" fill="#D39200"/>
<circle cx="39.9" cy="315.8" r="0.9" fill="#D39200"/>
<circle cx="55.8" cy="315" r="0.9" fill="#D39200"/>
<circle cx="71.7" cy="326.3" r="0.9" fill="#D39200"/>
<circle cx="87.6" cy="315.3" r="0.9" fill="#D39200"/>
<circle cx="103.5" cy="322" r="0.9" fill="#D39200"/>
<circle cx="119.4" cy="310.2" r="0.9" fill="#D39200"/>
<path d="M24 310.5L39.9 326.3L55.8 326.3L71.7 325L87.6 324L103.5 326.3L119.4 322.3" stroke="#00BA38" stroke-width="0.45" fill="none"/>
<path d="M24 303L24 316" stroke="#00BA38" stroke-width="0.5" stroke-opacity="0.75"/>
<circle cx="24" cy="310.5" r="0.9" fill="#00BA38"/>
<circle cx="39.9" cy="326.3" r="0.9" fill="#00BA38"/>
<circle cx="55.8" cy="326.3" r="0.9" fill="#00BA38"/>
<circle cx="71.7" cy="325" r="0.9" fill="#00BA38"/>
<circle cx="87.6" cy="324" r="0.9" fill="#00BA38"/>
<circle cx="103.5" cy="326.3" r="0.9" fill="#00BA38"/>
<circle cx="119.4" cy="322.3" r="0.9" fill="#00BA38"/>
<path d="M24 293.9L39.9 326.3L55.8 307.9L71.7 319.3L87.6 314L103.5 321L119.4 324.6" stroke="#00C19F" stroke-width="0.45" fill="none"/>
<path d="M24 272L24 302.6" stroke="#00C19F" stroke-width="0.5" stroke-opacity="0.75"/>
<path d="M55.8 289L55.8 326.3" stroke="#00C19F" stroke-width="0.5" stroke-opacity="0.75"/>
<path d="M103.5 311.4L103.5 326.3" stroke="#00C19F" stroke-width="0.5" stroke-opacity="0.75"/>
<path d="M87.6 307L87.6 326.3" stroke="#00C19F" stroke-width="0.5" stroke-opacity="0.75"/>
<circle cx="24" cy="293.9" r="0.9" fill="#00C19F"/>
<circle cx="39.9" cy="326.3" r="0.9" fill="#00C19F"/>
<circle cx="55.8" cy="307.9" r="0.9" fill="#00C19F"/>
<circle cx="71.7" cy="319.3" r="0.9" fill="#00C19F"/>
<circle cx="87.6" cy="314" r="0.9" fill="#00C19F"/>
<circle cx="103.5" cy="321" r="0.9" fill="#00C19F"/>
<circle cx="119.4" cy="324.6" r="0.9" fill="#00C19F"/>
<path d="M14.4 187L14.4 334.8" stroke="#555" stroke-width="0.5"/>
<path d="M13.4 196.4L14.4 196.4" stroke="#555" stroke-width="0.4"/>
<text x="12.8" y="197.4" font-size="2.9" text-anchor="end" fill="#444" stroke="#444" stroke-width="0.03">10.0</text>
<path d="M13.4 261.4L14.4 261.4" stroke="#555" stroke-width="0.4"/>
<text x="12.8" y="262.4" font-size="2.9" text-anchor="end" fill="#444" stroke="#444" stroke-width="0.03">1.0</text>
<path d="M13.4 326.4L14.4 326.4" stroke="#555" stroke-width="0.4"/>
<text x="12.8" y="327.4" font-size="2.9" text-anchor="end" fill="#444" stroke="#444" stroke-width="0.03">0.1</text>
<path d="M14.2 334.6L128.8 334.6" stroke="#555" stroke-width="0.5"/>
<path d="M24 334.6L24 335.6" stroke="#555" stroke-width="0.4"/>
<text x="24" y="338.7" font-size="2.9" text-anchor="middle" fill="#444" stroke="#444" stroke-width="0.03">1</text>
<path d="M39.9 334.6L39.9 335.6" stroke="#555" stroke-width="0.4"/>
<text x="39.9" y="338.7" font-size="2.9" text-anchor="middle" fill="#444" stroke="#444" stroke-width="0.03">2</text>
<path d="M55.8 334.6L55.8 335.6" stroke="#555" stroke-width="0.4"/>
<text x="55.8" y="338.7" font-size="2.9" text-anchor="middle" fill="#444" stroke="#444" stroke-width="0.03">3</text>
<path d="M71.7 334.6L71.7 335.6" stroke="#555" stroke-width="0.4"/>
<text x="71.7" y="338.7" font-size="2.9" text-anchor="middle" fill="#444" stroke="#444" stroke-width="0.03">4</text>
<path d="M87.6 334.6L87.6 335.6" stroke="#555" stroke-width="0.4"/>
<text x="87.6" y="338.7" font-size="2.9" text-anchor="middle" fill="#444" stroke="#444" stroke-width="0.03">5</text>
<path d="M103.5 334.6L103.5 335.6" stroke="#555" stroke-width="0.4"/>
<text x="103.5" y="338.7" font-size="2.9" text-anchor="middle" fill="#444" stroke="#444" stroke-width="0.03">6</text>
<path d="M119.4 334.6L119.4 335.6" stroke="#555" stroke-width="0.4"/>
<text x="119.4" y="338.7" font-size="2.9" text-anchor="middle" fill="#444" stroke="#444" stroke-width="0.03">7</text>
<text x="5.6" y="261" font-size="3.7" text-anchor="middle" transform="rotate(-90 5.6 261)" stroke="#000" stroke-width="0.03">Expression</text>
<text x="71.9" y="342.6" font-size="3.6" text-anchor="middle" stroke="#000" stroke-width="0.03">State</text>
<text x="134.7" y="235.8" font-size="3.5" stroke="#000" stroke-width="0.03">celltype</text>
<path d="M137.4 238.6L137.4 243" stroke="#F8766D" stroke-width="0.45"/>
<path d="M135.2 240.8L139.6 240.8" stroke="#F8766D" stroke-width="0.45"/>
<circle cx="137.4" cy="240.8" r="0.8" fill="#F8766D"/>
<text x="142" y="241.8" font-size="3.0" fill="#222" stroke="#222" stroke-width="0.03">Epithelial cells</text>
<path d="M137.4 244.3L137.4 248.7" stroke="#D39200" stroke-width="0.45"/>
<path d="M135.2 246.5L139.6 246.5" stroke="#D39200" stroke-width="0.45"/>
<circle cx="137.4" cy="246.5" r="0.8" fill="#D39200"/>
<text x="142" y="247.5" font-size="3.0" fill="#222" stroke="#222" stroke-width="0.03">Macrophages</text>
<path d="M137.4 249.9L137.4 254.3" stroke="#93AA00" stroke-width="0.45"/>
<path d="M135.2 252.1L139.6 252.1" stroke="#93AA00" stroke-width="0.45"/>
<circle cx="137.4" cy="252.1" r="0.8" fill="#93AA00"/>
<text x="142" y="253.1" font-size="3.0" fill="#222" stroke="#222" stroke-width="0.03">MSCs</text>
<path d="M137.4 255.6L137.4 260" stroke="#00BA38" stroke-width="0.45"/>
<path d="M135.2 257.8L139.6 257.8" stroke="#00BA38" stroke-width="0.45"/>
<circle cx="137.4" cy="257.8" r="0.8" fill="#00BA38"/>
<text x="142" y="258.8" font-size="3.0" fill="#222" stroke="#222" stroke-width="0.03">CSCs</text>
<path d="M137.4 261.2L137.4 265.6" stroke="#00C19F" stroke-width="0.45"/>
<path d="M135.2 263.4L139.6 263.4" stroke="#00C19F" stroke-width="0.45"/>
<circle cx="137.4" cy="263.4" r="0.8" fill="#00C19F"/>
<text x="142" y="264.4" font-size="3.0" fill="#222" stroke="#222" stroke-width="0.03">Neutrophils</text>
<path d="M137.4 266.9L137.4 271.3" stroke="#00B9E3" stroke-width="0.45"/>
<path d="M135.2 269.1L139.6 269.1" stroke="#00B9E3" stroke-width="0.45"/>
<circle cx="137.4" cy="269.1" r="0.8" fill="#00B9E3"/>
<text x="142" y="270.1" font-size="3.0" fill="#222" stroke="#222" stroke-width="0.03">T cells</text>
<path d="M137.4 272.6L137.4 277" stroke="#619CFF" stroke-width="0.45"/>
<path d="M135.2 274.8L139.6 274.8" stroke="#619CFF" stroke-width="0.45"/>
<circle cx="137.4" cy="274.8" r="0.8" fill="#619CFF"/>
<text x="142" y="275.8" font-size="3.0" fill="#222" stroke="#222" stroke-width="0.03">B cells</text>
<path d="M137.4 278.2L137.4 282.6" stroke="#DB72FB" stroke-width="0.45"/>
<path d="M135.2 280.4L139.6 280.4" stroke="#DB72FB" stroke-width="0.45"/>
<circle cx="137.4" cy="280.4" r="0.8" fill="#DB72FB"/>
<text x="142" y="281.4" font-size="3.0" fill="#222" stroke="#222" stroke-width="0.03">Endothelial cells</text>
<path d="M137.4 283.9L137.4 288.3" stroke="#FF61C3" stroke-width="0.45"/>
<path d="M135.2 286.1L139.6 286.1" stroke="#FF61C3" stroke-width="0.45"/>
<circle cx="137.4" cy="286.1" r="0.8" fill="#FF61C3"/>
<text x="142" y="287.1" font-size="3.0" fill="#222" stroke="#222" stroke-width="0.03">Stromal cells</text>
</g>
<g id="pF">
<text x="161.5" y="187.2" font-size="21" stroke="#000" stroke-width="0.15">F</text>
<text x="236.7" y="184.3" font-size="2.7" text-anchor="middle" fill="#222" stroke="#222" stroke-width="0.03">Alkbh5</text>
<path d="M189.8 327.4h0M185.9 326.2h0M187.9 260.7h0M189.3 260.7h0M220.1 328.2h0M218.4 325.6h0M199.4 326.5h0M216.7 325.7h0M220.4 325.6h0M208.6 327.7h0M205.3 327.1h0M213.6 328h0M222.3 327.7h0M206.9 327.8h0M209 326.9h0M204 324.9h0M200.1 326.1h0M210.6 326.3h0M198.4 327.7h0M208.8 324.6h0M200.6 325.7h0M208.6 327.3h0M222 326.2h0M214.3 325.1h0M200 325.3h0M208.9 328h0M206.8 325.6h0M210.6 326.9h0M206.2 325.6h0M197.6 326.8h0M207.3 327.9h0M218.4 324.5h0M197.9 325.5h0M202.6 325h0M210.7 327.1h0M221.7 326.4h0M200.6 328.2h0M209.5 262.3h0M216.8 260.3h0M206.3 262.1h0M219.3 262.5h0M201.9 260.6h0M207.8 242.4h0M199.4 215.6h0M231.1 325.3h0M232.7 326.8h0M228.3 325.9h0M227.6 326.7h0M223.1 326.6h0M232 325.5h0M235.6 326.2h0M229 325.7h0M232.6 325.4h0M232.5 326.9h0M230.4 325.5h0M222.7 327.9h0M224.8 325.3h0M236.2 325.2h0M222.9 325.4h0M235.7 326.5h0M225.1 324.5h0M226.7 326.7h0M233 325.1h0M228.3 325.9h0M234.3 324.8h0M228.4 324.7h0M236 325h0M223.7 325.6h0M223.1 325.8h0M225.4 326.4h0M230.8 326.9h0M222.6 326h0M226.6 327.9h0M235.3 326.3h0M230.7 327.5h0M231.9 325.2h0M233.5 327.1h0M233.8 326.9h0M231.4 325.5h0M235.7 327.3h0M229.4 327.3h0M232.2 327.4h0M233.1 327.1h0M231.7 327.3h0M223.6 327.1h0M232 326.2h0M228.1 324.9h0M227.3 326.1h0M224.9 260.6h0M227.9 262.6h0M224.2 260.1h0M228.2 262.9h0M236.2 259.9h0M235.7 259.9h0M229.1 262.8h0M230.4 262.3h0M227.4 262.2h0M224.8 262.6h0M222.6 259.9h0M222.9 260.6h0M223.3 242.8h0M231.4 240.7h0M222.8 242.2h0M234.8 243h0M222.9 241.2h0M232.6 241.3h0M231.3 222.1h0M228.2 222.1h0M235.7 215.6h0M232.5 217.1h0M247 326.3h0M249.8 325.9h0M239.3 326.3h0M247.9 325.7h0M247.9 327.1h0M244 325h0M248.9 325.5h0M238.6 327.5h0M249.5 326.5h0M244.3 328.2h0M242.7 324.5h0M246.1 325.5h0M245.8 328.2h0M249.6 327.2h0M247.9 326.9h0M247.6 325.1h0M243 242.4h0M246.6 242.6h0M244.3 230h0M242.1 229.5h0M251.4 327.8h0M250.9 324.8h0M259.6 326.2h0M254.7 325.8h0M256.8 325.7h0M253.1 326.5h0M251.8 326.1h0M256.6 327.1h0M254.3 325.4h0M257 327.1h0M253.6 326.6h0M261.5 325.5h0M251.9 327.4h0M252.9 326.7h0M257.7 328.1h0M254.7 328.2h0M255.9 327.8h0M259.7 325.8h0M258.7 327h0M252.6 327.7h0M258.7 327.3h0M256.9 327.6h0M260.9 325.8h0M260.4 325.6h0M259.2 328.1h0M262.9 327.1h0M257.1 326h0M262.6 326.2h0M256 327.9h0M256.8 326.5h0M262.1 325.7h0M256.2 324.6h0M258.5 326.8h0M252.8 326.9h0M258.5 326h0M258.3 262.5h0M252.7 221.4h0M264.3 325.5h0M266.4 327.2h0M264.1 327h0M264.3 326.7h0M264.1 325.9h0M264.1 324.8h0M266.7 327.2h0M266.1 326.5h0M265 325.1h0M272.2 325.4h0M265.4 325.4h0M271.6 327.4h0M272.6 327.6h0M266.1 328.2h0M268.7 324.7h0M265 328.3h0M268.2 327h0M272.3 325h0M267 325.7h0M265.7 324.5h0M264.9 324.8h0M271.4 325.8h0M272.4 325.3h0M266.8 325.5h0M270.8 326h0M267 325.1h0M264.4 327.1h0M269.3 327.8h0M270.8 324.6h0M268.4 325.5h0M264.2 327.5h0M269.1 326.1h0M266.3 325.2h0M266.4 327.3h0M264.1 325.3h0M269.3 324.8h0M270.5 328.2h0M270.1 325.1h0M271.2 324.8h0M270.7 327.6h0M267.2 325.7h0M267.9 327.1h0M273 325.8h0M268 328.1h0M265.1 325h0M265.6 262.2h0M267.5 262.8h0M269.5 260.3h0M268.5 242.5h0M268.7 242.4h0M264.7 221h0M264.5 216.7h0M278.7 326.2h0M278.4 326.3h0M282.3 324.8h0M281.8 325.9h0M277.9 328.3h0M286.4 327.1h0M284.2 325.1h0M276.2 326.8h0M286.2 328.1h0M278.5 326.5h0M278.9 327.7h0M284 325h0M277.2 325.3h0M279.3 326.7h0M276.4 324.9h0M273.7 324.7h0M284.5 327.5h0M274.4 328h0M275.1 325.3h0M275.6 327.9h0M283.7 328.2h0M282.5 325.2h0M276.6 327.7h0M280.7 325h0M285.7 328.1h0M287.3 324.8h0M285.5 325.7h0M282.6 326.8h0M279.8 328h0M283.3 327.8h0M276.7 326.8h0M273.5 327.2h0M286.5 325.4h0M273.9 328.1h0M285.8 260.8h0M281 262.8h0M273.5 261.6h0M287.5 261.6h0M281 259.9h0M286.9 260.4h0M283.2 262h0M284.1 260h0M278.4 260.3h0M280.3 262.1h0M283.2 241.5h0M283 240.7h0M235.8 193.2h0M226.5 206h0" stroke="#F8766D" stroke-width="1.3" stroke-linecap="round" fill="none"/>
<path d="M189.4 327.6h0M187 327h0M186.9 325.5h0M185.5 328.2h0M192 327h0M192.6 326.8h0M219.2 326h0M204 324.7h0M210.3 326.8h0M196.4 326h0M220.6 326.8h0M206.9 326.1h0M203 325.9h0M205.2 325.9h0M208.8 327.8h0M217.7 326.7h0M201.9 325.4h0M211.5 325h0M201 326.9h0M218 328.3h0M219.4 327h0M219.1 325.2h0M199.6 328.3h0M206.1 324.6h0M205.4 327.6h0M203.6 328.2h0M207 325.9h0M203.3 327.3h0M205.2 324.9h0M202.5 327.5h0M217.1 325.9h0M204.9 326.7h0M208.2 327.5h0M213.1 327.7h0M205.8 260.4h0M199.6 242.3h0M201.5 241.8h0M215 229.1h0M232.3 326.5h0M233.5 327.8h0M232.5 324.8h0M230.9 325.4h0M234.8 327.1h0M226.6 327.6h0M231 326.8h0M227.4 325.4h0M234.8 326.1h0M224.2 328.2h0M234.2 327.8h0M226.7 324.7h0M232.7 325.3h0M223 328.1h0M224.2 327.4h0M230.4 326h0M228 325.3h0M234.1 324.9h0M234.1 324.9h0M228.9 326.2h0M235.5 326.6h0M227.4 327.8h0M233.8 325.7h0M230.4 325h0M228.4 325.9h0M224 327.4h0M230.5 326.2h0M229.8 324.8h0M232.3 324.8h0M225 328.2h0M231.5 324.6h0M227.6 327.3h0M231.7 326.2h0M227.6 326.7h0M232.6 326.4h0M229.1 324.7h0M234.9 326.1h0M232.6 327.8h0M224.7 326.9h0M225.6 328h0M226.3 324.9h0M232.6 325.9h0M231 324.5h0M229.6 327.9h0M234 327.1h0M234.9 325.1h0M227.1 327.6h0M229.3 326h0M227.7 327h0M232.9 327.3h0M231.3 327.2h0M229.1 261.4h0M229.2 261.3h0M232 261.7h0M231.6 260.3h0M236.2 262.4h0M228.7 260.5h0M223.3 260.7h0M230 260.7h0M229.1 262.7h0M225.1 261.2h0M230.6 260.7h0M224.6 261.5h0M232.4 261.8h0M233.3 242.8h0M229.8 240.8h0M222.8 242.4h0M230.9 240.8h0M232.7 242h0M229.8 241.3h0M232.3 243.1h0M223.1 240.6h0M223.3 242.1h0M224.7 241.1h0M235.1 241.4h0M228.9 241.3h0M231.7 230.3h0M224.2 230.7h0M235.9 229.1h0M233 229.6h0M236.1 229.3h0M231.8 221.4h0M229.5 223.3h0M245.2 327.8h0M238.4 325.4h0M236.7 325.5h0M244.3 326.6h0M236.7 325.7h0M249.1 242.2h0M244.9 242.9h0M259.9 326.6h0M249.9 327.1h0M257.9 327.5h0M256.7 325.3h0M252.6 327.5h0M253.6 326.8h0M255.7 328.1h0M250.4 324.8h0M257.8 326.4h0M249.9 327.2h0M249.9 327.5h0M252 328.1h0M262.3 325.5h0M261.7 326.3h0M255.9 326.8h0M260.4 326.7h0M252.3 324.6h0M255.5 325.6h0M253.8 326h0M259.9 327.1h0M253.4 325.8h0M263.7 326.5h0M263.6 326.9h0M252.6 327.4h0M255.6 327.7h0M262.3 326.1h0M257.6 324.8h0M259.5 324.6h0M255.7 327.1h0M250.4 327.4h0M250.5 325.5h0M260 326.6h0M261.1 327.8h0M257 324.5h0M257.4 325.3h0M251 328.2h0M253.7 262.4h0M258.3 242.9h0M250.4 240.8h0M264.9 326.5h0M267.7 327.9h0M265.9 326.7h0M263.9 327.3h0M270 325.4h0M272.2 327.7h0M271.8 327.1h0M272.9 324.8h0M270.8 327.6h0M268.1 327.7h0M267.6 326.6h0M265 324.6h0M265.2 324.7h0M270.6 327.2h0M267 325.1h0M270.3 324.6h0M265.8 327.9h0M265.1 325.6h0M264.8 325.9h0M264.2 326.6h0M269.8 325.6h0M264.1 325.1h0M267.3 327h0M265.3 325h0M266.8 325h0M264.4 324.8h0M266.7 328.2h0M273 326.5h0M272.2 326h0M267.7 262.8h0M268.6 223h0M267.8 215.3h0M279.4 326.6h0M278.2 325.6h0M284.6 327h0M273.4 326.5h0M286.5 328.2h0M274.5 327.3h0M280.6 325.1h0M281.2 328.1h0M285 326.3h0M280.9 324.7h0M286.2 325.8h0M276.9 326.9h0M282.1 325.8h0M282.6 324.8h0M281.6 326h0M286.2 325.8h0M274.1 326.7h0M285 324.7h0M282.5 327.6h0M280.2 324.6h0M285.6 325.8h0M273.4 326.4h0M275.3 326.5h0M287.2 262.2h0M273.5 261.1h0M280 259.9h0M279.3 261.8h0M274.8 262.6h0M278.3 261h0M276.5 241.4h0" stroke="#D39200" stroke-width="1.3" stroke-linecap="round" fill="none"/>
<path d="M186.6 325.4h0M189.1 326.2h0M188.1 326.9h0M186.3 325h0M185.8 327.1h0M188.5 327.5h0M185.6 326.3h0M189.2 325.5h0M185.5 326.1h0M188 326.2h0M187.9 326.8h0M185.5 327.7h0M184.6 326.4h0M186.6 328.1h0M185.9 325.3h0M188.7 325.1h0M187.2 327.4h0M186.7 326.5h0M184.7 326h0M185.2 261.9h0M185.2 261.6h0M185.4 260.3h0M188.7 259.8h0M187.7 260.9h0M186.8 260.6h0M188.2 262.9h0M188.9 242.8h0M193.2 324.7h0M193.4 324.6h0M196 326.5h0M193.2 325.6h0M195.9 327.4h0M191.8 327.2h0M193.5 326h0M193.8 326.4h0M195.8 327.8h0M193.6 261.3h0M195.3 260h0M193.6 261.8h0M194.4 260.3h0M192.8 242h0M192.3 241.4h0M194.4 241.1h0M206.5 324.9h0M215.4 326.4h0M204.5 327.8h0M218.6 327h0M214 324.7h0M219.1 325.8h0M199.9 326.5h0M202.6 324.8h0M199.9 324.7h0M219.1 325.9h0M205.9 326.8h0M201.5 328.1h0M201.1 326.2h0M220.5 326.4h0M213 325.7h0M208.3 328.3h0M208.9 325.7h0M221.8 327.6h0M219.5 325.7h0M207 326h0M207.6 325.1h0M222.5 326.4h0M198.9 327.5h0M196.7 325h0M201.4 328.2h0M213.4 326.8h0M213.2 325.5h0M202.1 326.6h0M218.3 328.2h0M212.4 324.9h0M203 325.8h0M215.4 326.2h0M214.2 325.1h0M217.8 325.1h0M216 326h0M207.3 326.8h0M218.1 327.4h0M199.2 325.6h0M205.9 328h0M208.2 324.8h0M211.5 325.4h0M206.5 324.6h0M198.4 325.4h0M220.4 326.3h0M214.5 327.8h0M220.1 326.8h0M199.7 327.6h0M196.6 325.2h0M202.7 326.5h0M213.2 325.1h0M198.4 327.8h0M212.5 328.1h0M208.3 325.4h0M203.8 327.6h0M215.9 263h0M204.9 260.3h0M218.9 261.6h0M199.2 241.8h0M210.7 242.9h0M210.7 241.2h0M203.4 242.3h0M213.9 230.4h0M204.4 230.6h0M222.4 231.3h0M217.2 221.8h0M217.8 222.5h0M221.2 222.8h0M205.2 222.7h0M225.6 328.1h0M222.8 326h0M226.7 326.9h0M223.1 326.8h0M224.8 327.4h0M228.1 325.3h0M223.4 326.7h0M232.5 262.3h0M233.3 261.1h0M234.4 263h0M245.6 325.8h0M246.7 324.7h0M240.9 326.5h0M261.6 326.8h0M259.6 325.7h0M252.5 325.7h0M256.2 328h0M260.4 327.4h0M249.9 327.8h0M258.9 326.8h0M250.3 326h0M258.3 327.1h0M254.9 328h0M251.2 327h0M260.9 262.8h0M270.8 326.2h0M266.3 325.6h0M269.1 328.2h0M264.1 326.7h0M265.3 327.5h0M267 325.2h0M265.3 229.2h0M285.5 327.6h0M277.4 325.1h0M281 327.7h0M285.7 326h0M277.1 326.4h0M276.1 328.3h0M273.4 325.2h0M280.3 325.4h0M281.6 327.5h0M284.5 327.9h0M284.2 324.6h0M281.6 326.8h0M282.3 328.3h0M283.8 325h0M273.9 325.3h0M286.9 328.3h0M274.3 326.1h0M283 327.9h0M287 325h0M279.8 325.3h0M280.1 328.1h0M275.8 327.8h0M286.8 326.2h0M276.8 327.3h0M273.5 326.3h0M282.6 325.7h0M284.7 325.7h0M273.4 327.5h0M276.7 325.2h0M281.6 327.2h0M285.6 327.2h0M286.4 326.9h0M276.6 326.9h0M278.7 324.9h0M281.7 328h0M284.7 325.4h0M280.5 326.7h0M274.6 324.9h0M288.5 324.6h0M273.8 327.8h0M275.7 325h0M285.9 327.4h0M275.7 327.5h0M286.5 260h0M285.6 261.7h0M275.1 260h0M280.5 261.7h0M275.3 262.1h0M285.7 261.6h0M273.8 262.6h0M285.9 262.9h0M276.7 260.7h0M274.1 261.2h0M274.1 242.4h0M277.6 243h0M277.2 243h0M275.9 230.7h0M283.9 229.7h0M189 200.5h0" stroke="#93AA00" stroke-width="1.3" stroke-linecap="round" fill="none"/>
<path d="M189.5 326.7h0M187.6 326h0M187.7 327.5h0M185.4 327.2h0M188.8 324.6h0M189.1 325.3h0M188.5 325h0M185.3 328h0M189.9 324.7h0M187.9 326.8h0M189.4 327.7h0M185.4 327h0M188.2 326.4h0M184.7 325h0M188.5 326.1h0M187.5 327.8h0M184.8 327.8h0M188.6 324.9h0M185.3 327.9h0M188.6 326.8h0M189.1 328.2h0M186.9 327.3h0M186.8 326.2h0M186.1 325.3h0M186.1 327.9h0M189.6 325.9h0M188.6 327.3h0M185.5 324.6h0M188.2 324.7h0M187.6 325.1h0M189.9 326.8h0M187.6 326.4h0M187.8 328.1h0M187.3 327h0M187.3 326.8h0M188.3 328h0M186.2 325.1h0M187.9 327.7h0M186.1 326.7h0M188.9 327.1h0M187.3 326.8h0M187.3 328.1h0M184.9 327.6h0M188.4 324.6h0M185.6 327.6h0M186.6 325.2h0M185.8 327.8h0M185.4 327h0M184.7 327.6h0M184.7 327.4h0M186.7 325.2h0M187.7 327.1h0M187.6 327.2h0M185.6 326.3h0M188.9 327.7h0M188.4 324.9h0M185 327.7h0M188.2 327.4h0M188.9 324.8h0M186.5 327.8h0M185.5 324.8h0M186.3 327.9h0M189.1 325.2h0M189.8 327.8h0M189.4 328h0M186.1 327.7h0M186.5 325.1h0M187.1 326.5h0M187.2 325.5h0M187.5 325.5h0M189.4 325.4h0M188.6 326.5h0M188.2 325.6h0M189.1 328.3h0M186.8 326.6h0M184.7 327h0M189.6 326.1h0M185.7 325.6h0M187.6 328.2h0M187.9 328.2h0M189.4 327.9h0M188.3 327.6h0M189.7 326.7h0M189.5 327.9h0M187.5 326h0M186.6 328.1h0M189.4 326.5h0M188.3 325.6h0M189.9 325.5h0M187.2 324.8h0M188.9 325.5h0M188.9 328.1h0M189.9 325.1h0M187.6 328h0M188.1 324.8h0M186.2 328.1h0M185.6 326.2h0M187.3 326.1h0M187.2 325.8h0M187 325.6h0M189.2 328.1h0M189.5 325.4h0M185.2 325.6h0M185.9 325.8h0M187.4 327.9h0M188.6 327h0M189.6 326.8h0M185.8 324.9h0M186.8 325h0M184.7 326.2h0M186.8 327.7h0M186.7 327.2h0M186.2 326h0M189.1 325.7h0M185.6 327.1h0M184.8 325.7h0M186.8 324.7h0M187.5 326.3h0M189.6 327h0M187 327.4h0M185.4 324.7h0M188.9 327h0M184.8 325.9h0M186.4 325.5h0M185.8 324.8h0M184.7 326.1h0M188.9 327.2h0M184.6 327.2h0M188 328.3h0M188 325h0M187.9 327.1h0M188.4 328.1h0M188.7 325.1h0M189.7 328h0M189.3 325.8h0M185.3 328.1h0M184.8 326.3h0M189.9 326.5h0M186 324.6h0M188.3 325.5h0M188.3 326.9h0M189.3 328h0M185.6 326.2h0M189.7 326.4h0M185 324.7h0M188.2 260.5h0M188 260.7h0M189.1 259.9h0M188.6 262.9h0M188 262.4h0M188.8 262.2h0M186.8 260.1h0M188.2 262.7h0M187.5 262.5h0M187.7 259.8h0M189.9 260.6h0M188.5 260.8h0M189.3 262.1h0M189.9 261.9h0M188.9 262.3h0M189.1 262.3h0M188.7 262.2h0M185.8 263h0M189.5 261.5h0M187.8 260.7h0M189 260.7h0M188.5 262.3h0M188.4 261.8h0M184.6 261.6h0M187.6 261.1h0M185.3 260.1h0M189.5 261.8h0M185.7 261.9h0M186.1 260.3h0M189.4 261.4h0M188.4 261.7h0M187.7 260.6h0M186.6 262.8h0M189.1 261.9h0M184.8 262.7h0M187.1 261.7h0M186.1 262.6h0M189.1 261.3h0M186.7 262h0M186.9 260.8h0M188.6 259.8h0M186.5 262h0M185.8 262.6h0M189.4 261h0M188.9 260.4h0M189 260.2h0M188.4 260.1h0M189.7 260.9h0M184.7 261.5h0M186.3 261.1h0M186.8 260.7h0M184.7 241.1h0M185.7 241.1h0M188 242.7h0M185.5 243h0M186.6 241.1h0M188.8 242.6h0M184.8 241.3h0M188.6 242.5h0M185.4 241.8h0M185.3 242.8h0M189.6 242.9h0M186.1 242.7h0M187.8 242.4h0M187.4 241.7h0M185 241.7h0M187.9 242.7h0M185.7 240.8h0M187.7 231.5h0M186.1 229.6h0M187.6 231.3h0M186.4 229.4h0M189.7 229.9h0M187.4 221.9h0M187.2 222.2h0M192.8 328h0M192.6 325.9h0M193.2 326.2h0M192.9 326h0M196 324.7h0M194.1 325.4h0M191.7 326.4h0M194.1 326.2h0M195.3 327.1h0M192.5 327.5h0M196 325.8h0M193.8 328.3h0M193 327.1h0M191.9 327.3h0M195.7 327.4h0M192 326h0M192.5 327.1h0M193.7 324.9h0M191.8 325.6h0M196 325.2h0M193.9 327.6h0M196.1 328.1h0M192.7 326.8h0M194.1 328.1h0M194.6 324.8h0M194 326.2h0M194.9 325.3h0M193.6 326.4h0M194.8 327.6h0M192.3 325.2h0M194.5 325.9h0M194.2 328h0M194.5 325.5h0M194 326.5h0M193.6 324.9h0M191.8 328.1h0M194.7 325.3h0M193.1 325.9h0M195 324.6h0M193.4 260.8h0M192.5 261.2h0M196.2 262.5h0M192.8 259.9h0M192.1 260.4h0M195.4 260h0M193 261.1h0M196.2 263h0M194.4 260.8h0M195.4 261.9h0M193 261h0M195.4 260.7h0M195.1 260h0M193.7 261.3h0M195.1 242.1h0M192.3 242.2h0M193.8 241.1h0M195.4 241.7h0M192.8 241.8h0M193.6 230.7h0M195.6 229.3h0M210.3 326.6h0M202.9 328.2h0M208.5 325h0M205.2 325.6h0M208 325.4h0M221.1 327.3h0M222.2 326.8h0M214.4 327.6h0M219.3 328h0M200.7 327.4h0M219.8 325.9h0M220 325.1h0M212.7 327.3h0M219.7 327.3h0M217.8 327.1h0M196.8 327.3h0M210 327.4h0M219.4 324.9h0M196.8 327.9h0M208.2 327h0M205.2 325h0M205.2 324.7h0M217.1 325.6h0M198.6 325.7h0M217.7 327.2h0M203 326h0M207.2 328.2h0M199.5 325.4h0M212.7 326.4h0M210.8 325.7h0M209.3 327.8h0M202.6 326.9h0M221.6 325.8h0M202.1 325.4h0M207.6 327.1h0M214.6 327.3h0M196.6 325.4h0M217.1 324.9h0M209.4 325h0M211.6 326.6h0M210.9 325.2h0M208.5 324.6h0M221.8 327.7h0M203.9 326.8h0M196.7 324.8h0M213.8 326.9h0M218.7 327.7h0M204.1 326.2h0M205.2 327.1h0M210.4 325.8h0M218.1 326.7h0M204.2 326.7h0M200.2 324.7h0M198.8 327.5h0M209.3 325.6h0M218 326.5h0M199.2 325.9h0M199.3 325.1h0M212.9 325.4h0M213 326.7h0M218.8 327.2h0M209.6 325.8h0M206.1 328h0M210.4 326.2h0M196.4 260.3h0M217.9 261.9h0M210.8 260.1h0M218.6 261.9h0M206.3 260.5h0M207.4 260.1h0M202.7 261.5h0M213.4 260.4h0M215 241.5h0M206.6 241.1h0M220.8 241.5h0M212.4 230.5h0M196.3 229.1h0M211.8 229.8h0M208.7 221.2h0M197 216.6h0M232.7 327.8h0M229.9 240.7h0M226.9 241.1h0M261.6 326.8h0M253.1 325.9h0M249.9 327h0M257.9 325.5h0M259.8 326h0M273 327.6h0M268.8 328.2h0M268.4 327h0M272.1 326.1h0M271.3 325h0M284.8 324.7h0M285.7 326.2h0M286.4 326.1h0M284.5 327h0M282.4 325.1h0M278.2 327.5h0M288.1 325h0M277 326.7h0M275 326h0M285.8 326.2h0M274.1 327.6h0M280.9 326h0M288.5 328h0M277.7 326h0M278.8 327.6h0M288.3 324.6h0M277.5 326.6h0M274.8 327.7h0M278.5 327.8h0M280.1 324.5h0M278.7 328.3h0M274.1 326.4h0M285.7 328h0M275.6 326.9h0M284.5 325.3h0M278.1 327.1h0M280.7 327.9h0M285.2 324.8h0M284.6 326.1h0M287.4 328.1h0M282.9 327.5h0M283.8 327.7h0M274.4 326.2h0M275.7 325.3h0M276.3 326.2h0M285.7 326.2h0M287.6 325.2h0M278.6 325.5h0M278 324.7h0M282.4 327h0M273.4 327.7h0M277.3 328.2h0M281.1 324.8h0M276.3 260.2h0M276.5 260.9h0M283 261.2h0M284.2 262.4h0M279.4 260.8h0M275.2 261h0M280.5 260.8h0M283.8 260.7h0M277.7 260.8h0M274.1 260.3h0M276.5 261.9h0M283.9 240.9h0M276.2 242.4h0M273.8 223.2h0M189.2 210.2h0M279.7 209.5h0M188.7 210h0" stroke="#00BA38" stroke-width="1.3" stroke-linecap="round" fill="none"/>
<path d="M225.9 327.2h0M222.7 325.9h0M222.8 328.1h0M231.7 327.5h0M227.5 326.4h0M233.8 326h0M225.1 260.9h0M249.1 326.7h0M246.4 326.6h0M243.5 327.2h0M245.8 324.8h0M241.8 326h0M248.5 325.9h0M246.6 326.7h0M249.3 326.2h0M245 326.1h0M239.3 326.2h0M245.7 326.7h0M238.4 327.3h0M237.7 327.2h0M245.2 326.4h0M237.7 327.1h0M244.8 326.4h0M241.8 325.1h0M243.2 325.4h0M237.4 325.2h0M238 326.7h0M241.8 325.7h0M244.4 325.5h0M243.9 325.7h0M249.2 326.7h0M240.7 327.1h0M247.2 327.4h0M243.3 327.3h0M243.1 326.9h0M240.8 326.5h0M237.8 327.5h0M247.7 326.9h0M249.3 326.3h0M237.2 324.8h0M239.1 327.4h0M245.3 325.4h0M239.2 327.1h0M247.1 326.5h0M246.9 324.5h0M246.7 326.3h0M249.7 325.5h0M246.7 327.3h0M249.8 327.6h0M246 325.4h0M247 328h0M238.8 325.8h0M239.2 324.8h0M245 325h0M246.3 328.2h0M239.2 325.5h0M243.8 328h0M244.3 325.3h0M238.6 326.5h0M248.8 328.2h0M239.8 325.2h0M248.6 325.9h0M245.8 327h0M246.9 326.9h0M237.1 326.3h0M245.8 326.9h0M244.4 327h0M249.3 327.9h0M249.8 325.9h0M246.8 324.9h0M248.9 325.3h0M242.3 328h0M243.2 327.9h0M246.6 326.5h0M244.3 327.9h0M243.7 327.4h0M236.5 325.6h0M239.2 327.9h0M241.2 327.3h0M248.7 326.5h0M241.3 325.2h0M245.2 326.3h0M248 325.5h0M242.4 325.9h0M243 326.5h0M239.9 326.5h0M246.4 326.3h0M240.4 327.8h0M241.2 326.5h0M247.2 325.5h0M237.5 324.7h0M244.9 326.4h0M245.8 324.6h0M246.2 327.4h0M246.1 327h0M240 261.1h0M247.4 262.6h0M249.4 241.1h0M241.1 242.4h0M242.9 242.4h0M245 241.3h0M244.2 242h0M248 242.3h0M244.2 243.1h0M243.2 242.8h0M238.7 242.3h0M242 241.8h0M240.5 242.8h0M242.4 242.7h0M238.6 229.2h0M247.4 230.7h0M239.7 230.5h0M249.6 230.3h0M246.9 231.6h0M245 231.5h0M237.9 230.7h0M238.4 230.1h0M247.3 229.9h0M237 229.3h0M245 221.9h0M242.4 222.2h0M242.6 222.6h0M249.2 222.2h0M238.9 215.2h0M251.5 326.2h0M261.2 327.7h0M270.7 327.9h0M272.4 328h0M268.7 259.9h0M244.5 210h0" stroke="#00C19F" stroke-width="1.3" stroke-linecap="round" fill="none"/>
<path d="M210.2 325.3h0M204.3 325.9h0M205.5 325.2h0M207.2 326.5h0M203.8 327.3h0M207 260.6h0M215.7 231.4h0M223.6 326.2h0M225.9 324.6h0M228.9 325.4h0M223 327h0M234.2 327.3h0M226 324.5h0M234.3 326.3h0M235.6 325.8h0M234.2 324.6h0M224.9 260.1h0M222.7 262.2h0M234.2 222.4h0M238.9 325.6h0M240.7 325.4h0M242.7 328.1h0M244.1 324.7h0M242.4 262.8h0M241.9 231h0M257.3 326.6h0M256.6 325.3h0M262.1 327.9h0M260.6 326.9h0M262.4 327h0M255.8 326.4h0M250.8 324.8h0M262.6 230h0M271.6 328.1h0M267.3 325.9h0M268.8 327.1h0M266.5 327.9h0M266 240.6h0M266.3 241.1h0M266.2 222.7h0M286.5 325.8h0M286.2 326.5h0M287.7 327.6h0M283 325.1h0M279.8 328.1h0" stroke="#00B9E3" stroke-width="1.3" stroke-linecap="round" fill="none"/>
<path d="M217.1 325.6h0M198.8 326.1h0M199.4 325.7h0M233.9 324.7h0M223.3 325.7h0M229.1 328.1h0M225.7 326.5h0M234.7 327.3h0M234.5 325.3h0M231.2 326.7h0M233.3 326.6h0M234.1 328.3h0M231 326.5h0M230.4 328h0M235.6 328h0M235.8 327.3h0M235.2 326.9h0M224.3 325.1h0M234.8 324.5h0M229 324.8h0M224 325.4h0M229.8 324.6h0M226.1 325.1h0M230 326.4h0M222.6 328.1h0M230 325.1h0M226.7 260h0M223.2 261.6h0M229.5 242.7h0M222.7 242.4h0M229.6 240.7h0M241.7 325h0M241 326.2h0M245.1 327.1h0M240.1 326.9h0M245.3 327.9h0M242.2 325.1h0M249.6 328.1h0M237.6 326.9h0M247.2 260.4h0M237.8 262.8h0M247.5 241.1h0M242.3 230.1h0M257.6 325h0M249.9 325.1h0M251.1 326.8h0M257.9 326.3h0M259.1 326.1h0M251.3 326.6h0M260 327.5h0M254.4 327h0M250.6 325.6h0M251.4 324.5h0M257.5 326.3h0M263.8 327.5h0M250.9 326.9h0M253.9 325.1h0M254 327.3h0M256.5 328h0M261.1 325.7h0M260.2 260.4h0M266.3 328.1h0M272.8 325h0M282.6 325.5h0M281.9 326.3h0" stroke="#619CFF" stroke-width="1.3" stroke-linecap="round" fill="none"/>
<path d="M200.9 326.8h0M208.1 326.9h0M227.5 327.4h0M228.4 324.9h0M235.2 324.9h0M224.1 327.3h0M224.7 324.8h0M229.6 324.5h0M230.7 324.8h0M231 325.2h0M232.9 261.1h0M228.7 261.6h0M223.1 243h0M246.3 325.7h0M238.1 325.3h0M246.3 325.6h0M247 240.7h0M253.9 325.8h0M255.2 327.9h0M254.7 325.5h0M250.5 326.6h0M256.9 327.3h0M256.1 261.7h0M272.8 325.5h0M269.9 324.6h0M271.3 326.3h0M266.8 259.9h0M284.3 326.6h0M273.3 326.2h0M286.2 326.9h0M287.8 324.6h0M282.6 328.1h0M281.6 326.7h0M287.3 325.3h0M283.4 324.8h0M285.3 325.4h0M286.5 326.1h0M287.2 326.2h0M280.2 328.2h0M275.9 325h0M281.1 327.2h0M279.9 260.8h0M277.6 261.5h0M278 261.7h0M280.7 231h0" stroke="#DB72FB" stroke-width="1.3" stroke-linecap="round" fill="none"/>
<path d="M222.2 325.5h0M232.5 325.6h0M242.2 325.3h0M248.1 325.2h0M243.6 326.9h0M239.4 229.4h0M254.8 324.8h0M261 327.9h0M263.9 325.6h0M268 327.5h0M270.6 324.6h0M273.1 325.9h0M277.2 326h0M282.2 326.7h0M279.6 326.2h0M277.8 326.7h0M285.1 325.5h0M286.9 328.1h0" stroke="#FF61C3" stroke-width="1.3" stroke-linecap="round" fill="none"/>
<path d="M184.6 297.6C192 295.3 200 293.2 207.8 293.1C214 293.1 219 295.3 223 298.5C229 303.2 234 306.2 237.8 310.2C242 314.6 246 319.5 248.9 322.6C250.3 324 251.4 325.6 252.8 325.7L288.5 325.7" stroke="#000" stroke-width="0.9" fill="none"/>
<path d="M179.7 187L179.7 334.8" stroke="#555" stroke-width="0.5"/>
<path d="M178.7 196.4L179.7 196.4" stroke="#555" stroke-width="0.4"/>
<text x="178.1" y="197.4" font-size="2.9" text-anchor="end" fill="#444" stroke="#444" stroke-width="0.03">10.0</text>
<path d="M178.7 261.4L179.7 261.4" stroke="#555" stroke-width="0.4"/>
<text x="178.1" y="262.4" font-size="2.9" text-anchor="end" fill="#444" stroke="#444" stroke-width="0.03">1.0</text>
<path d="M178.7 326.4L179.7 326.4" stroke="#555" stroke-width="0.4"/>
<text x="178.1" y="327.4" font-size="2.9" text-anchor="end" fill="#444" stroke="#444" stroke-width="0.03">0.1</text>
<path d="M179.5 334.6L293.7 334.6" stroke="#555" stroke-width="0.5"/>
<path d="M184.6 334.6L184.6 335.6" stroke="#555" stroke-width="0.4"/>
<text x="184.6" y="338.7" font-size="2.9" text-anchor="middle" fill="#444" stroke="#444" stroke-width="0.03">0</text>
<path d="M207.9 334.6L207.9 335.6" stroke="#555" stroke-width="0.4"/>
<text x="207.9" y="338.7" font-size="2.9" text-anchor="middle" fill="#444" stroke="#444" stroke-width="0.03">10</text>
<path d="M231.2 334.6L231.2 335.6" stroke="#555" stroke-width="0.4"/>
<text x="231.2" y="338.7" font-size="2.9" text-anchor="middle" fill="#444" stroke="#444" stroke-width="0.03">20</text>
<path d="M254.5 334.6L254.5 335.6" stroke="#555" stroke-width="0.4"/>
<text x="254.5" y="338.7" font-size="2.9" text-anchor="middle" fill="#444" stroke="#444" stroke-width="0.03">30</text>
<path d="M277.8 334.6L277.8 335.6" stroke="#555" stroke-width="0.4"/>
<text x="277.8" y="338.7" font-size="2.9" text-anchor="middle" fill="#444" stroke="#444" stroke-width="0.03">40</text>
<text x="170" y="261.4" font-size="3.65" text-anchor="middle" transform="rotate(-90 170 261.4)" stroke="#000" stroke-width="0.03">Relative Expression</text>
<text x="236.3" y="342.6" font-size="3.7" text-anchor="middle" stroke="#000" stroke-width="0.03">Pseudo−time</text>
<text x="299.6" y="235.8" font-size="3.5" stroke="#000" stroke-width="0.03">celltype</text>
<circle cx="302.3" cy="240.8" r="0.5" fill="#F8766D"/>
<text x="307.2" y="241.8" font-size="3.0" fill="#222" stroke="#222" stroke-width="0.03">Epithelial cells</text>
<circle cx="302.3" cy="246.5" r="0.5" fill="#D39200"/>
<text x="307.2" y="247.5" font-size="3.0" fill="#222" stroke="#222" stroke-width="0.03">Macrophages</text>
<circle cx="302.3" cy="252.1" r="0.5" fill="#93AA00"/>
<text x="307.2" y="253.1" font-size="3.0" fill="#222" stroke="#222" stroke-width="0.03">MSCs</text>
<circle cx="302.3" cy="257.8" r="0.5" fill="#00BA38"/>
<text x="307.2" y="258.8" font-size="3.0" fill="#222" stroke="#222" stroke-width="0.03">CSCs</text>
<circle cx="302.3" cy="263.4" r="0.5" fill="#00C19F"/>
<text x="307.2" y="264.4" font-size="3.0" fill="#222" stroke="#222" stroke-width="0.03">Neutrophils</text>
<circle cx="302.3" cy="269.1" r="0.5" fill="#00B9E3"/>
<text x="307.2" y="270.1" font-size="3.0" fill="#222" stroke="#222" stroke-width="0.03">T cells</text>
<circle cx="302.3" cy="274.8" r="0.5" fill="#619CFF"/>
<text x="307.2" y="275.8" font-size="3.0" fill="#222" stroke="#222" stroke-width="0.03">B cells</text>
<circle cx="302.3" cy="280.4" r="0.5" fill="#DB72FB"/>
<text x="307.2" y="281.4" font-size="3.0" fill="#222" stroke="#222" stroke-width="0.03">Endothelial cells</text>
<circle cx="302.3" cy="286.1" r="0.5" fill="#FF61C3"/>
<text x="307.2" y="287.1" font-size="3.0" fill="#222" stroke="#222" stroke-width="0.03">Stromal cells</text>
</g>
<g id="pG">
<text x="340.8" y="186.6" font-size="21" stroke="#000" stroke-width="0.15">G</text>
<rect x="362.6" y="202.2" width="2.4" height="14.2" fill="#22854F" stroke="#000" stroke-width="0.75"/>
<path d="M360.6 209.3L362.4 209.3" stroke="#000" stroke-width="0.6"/>
<text x="358" y="211.3" font-size="5.7" text-anchor="end">Lepr</text>
<rect x="362.6" y="219.9" width="3.8" height="14.2" fill="#22854F" stroke="#000" stroke-width="0.75"/>
<path d="M360.6 227L362.4 227" stroke="#000" stroke-width="0.6"/>
<text x="358" y="229" font-size="5.7" text-anchor="end">Scn7a</text>
<rect x="362.6" y="237.4" width="7.4" height="14.2" fill="#22854F" stroke="#000" stroke-width="0.75"/>
<path d="M360.6 244.5L362.4 244.5" stroke="#000" stroke-width="0.6"/>
<text x="358" y="246.5" font-size="5.7" text-anchor="end">Hnrnpc</text>
<rect x="362.6" y="255.1" width="23.5" height="14.2" fill="#22854F" stroke="#000" stroke-width="0.75"/>
<path d="M360.6 262.2L362.4 262.2" stroke="#000" stroke-width="0.6"/>
<text x="358" y="264.2" font-size="5.7" text-anchor="end">Cxcl12</text>
<rect x="362.6" y="272.6" width="56.2" height="14.2" fill="#22854F" stroke="#000" stroke-width="0.75"/>
<path d="M360.6 279.7L362.4 279.7" stroke="#000" stroke-width="0.6"/>
<text x="358" y="281.7" font-size="5.7" text-anchor="end">Alkbh5</text>
<rect x="362.6" y="290.3" width="112.3" height="14.2" fill="#C0504D" stroke="#000" stroke-width="0.75"/>
<path d="M360.6 297.4L362.4 297.4" stroke="#000" stroke-width="0.6"/>
<text x="358" y="299.4" font-size="5.7" text-anchor="end">Itgb1</text>
<path d="M362.4 199.2L362.4 308" stroke="#000" stroke-width="0.8"/>
<path d="M362 307.7L480.2 307.7" stroke="#000" stroke-width="0.8"/>
<path d="M363 307.7L363 309.6" stroke="#000" stroke-width="0.6"/>
<text x="364" y="317.1" font-size="5.2" text-anchor="middle">0</text>
<path d="M390.3 307.7L390.3 309.6" stroke="#000" stroke-width="0.6"/>
<text x="390.3" y="317.1" font-size="5.2" text-anchor="middle">500</text>
<path d="M417.6 307.7L417.6 309.6" stroke="#000" stroke-width="0.6"/>
<text x="417.6" y="317.1" font-size="5.2" text-anchor="middle">1000</text>
<path d="M445 307.7L445 309.6" stroke="#000" stroke-width="0.6"/>
<text x="445" y="317.1" font-size="5.2" text-anchor="middle">1500</text>
<path d="M472.3 307.7L472.3 309.6" stroke="#000" stroke-width="0.6"/>
<text x="472.3" y="317.1" font-size="5.2" text-anchor="middle">2000</text>
<text x="420.8" y="324.8" font-size="6.4" text-anchor="middle">Num cells expressed</text>
<text x="335.6" y="253" font-size="6.5" text-anchor="middle" transform="rotate(-90 335.6 253)">Hub gene</text>
</g>
<g id="pH">
<text x="474.7" y="187" font-size="21" stroke="#000" stroke-width="0.15">H</text>
<rect x="484.9" y="230.4" width="200.1" height="18.8" fill="#2E8235"/>
<text x="505.8" y="241.2" font-size="3.75" text-anchor="middle" font-weight="bold" fill="#fff">RM2Target ID</text>
<circle cx="521.1" cy="239.8" r="1.5" fill="#fff"/>
<text x="521.1" y="240.8" font-size="2.7" text-anchor="middle" font-weight="bold" fill="#2E8235">?</text>
<text x="548" y="241.2" font-size="3.75" text-anchor="middle" font-weight="bold" fill="#fff">WERs Name</text>
<circle cx="562.8" cy="239.8" r="1.5" fill="#fff"/>
<text x="562.8" y="240.8" font-size="2.7" text-anchor="middle" font-weight="bold" fill="#2E8235">?</text>
<text x="589.7" y="241.2" font-size="3.75" text-anchor="middle" font-weight="bold" fill="#fff">WERs Type</text>
<text x="628.6" y="241.2" font-size="3.75" text-anchor="middle" font-weight="bold" fill="#fff">Target Gene</text>
<text x="667.3" y="241.2" font-size="3.75" text-anchor="middle" font-weight="bold" fill="#fff">Modification</text>
<text x="508.4" y="256.3" font-size="3.75" text-anchor="middle" fill="#5BA461" stroke="#5BA461" stroke-width="0.03">RM2Target_649724</text>
<text x="550.8" y="256.3" font-size="3.75" text-anchor="middle" fill="#555" stroke="#555" stroke-width="0.03">ALKBH5</text>
<text x="589.5" y="256.3" font-size="3.75" text-anchor="middle" fill="#555" stroke="#555" stroke-width="0.03">Eraser</text>
<text x="628.5" y="256.3" font-size="3.75" text-anchor="middle" fill="#555" stroke="#555" stroke-width="0.03">ITGB1</text>
<text x="667" y="256.3" font-size="3.75" text-anchor="middle" fill="#555" stroke="#555" stroke-width="0.03">m6A</text>
<path d="M484.9 260.5L685 260.5" stroke="#e8e8e8" stroke-width="0.4"/>
<text x="508.4" y="267.3" font-size="3.75" text-anchor="middle" fill="#5BA461" stroke="#5BA461" stroke-width="0.03">RM2Target_649722</text>
<text x="550.8" y="267.3" font-size="3.75" text-anchor="middle" fill="#555" stroke="#555" stroke-width="0.03">ALKBH5</text>
<text x="589.5" y="267.3" font-size="3.75" text-anchor="middle" fill="#555" stroke="#555" stroke-width="0.03">Eraser</text>
<text x="628.5" y="267.3" font-size="3.75" text-anchor="middle" fill="#555" stroke="#555" stroke-width="0.03">ITGB1</text>
<text x="667" y="267.3" font-size="3.75" text-anchor="middle" fill="#555" stroke="#555" stroke-width="0.03">m6A</text>
<path d="M484.9 271.5L685 271.5" stroke="#e8e8e8" stroke-width="0.4"/>
<text x="508.4" y="278.4" font-size="3.75" text-anchor="middle" fill="#5BA461" stroke="#5BA461" stroke-width="0.03">RM2Target_649723</text>
<text x="550.8" y="278.4" font-size="3.75" text-anchor="middle" fill="#555" stroke="#555" stroke-width="0.03">ALKBH5</text>
<text x="589.5" y="278.4" font-size="3.75" text-anchor="middle" fill="#555" stroke="#555" stroke-width="0.03">Eraser</text>
<text x="628.5" y="278.4" font-size="3.75" text-anchor="middle" fill="#555" stroke="#555" stroke-width="0.03">ITGB1</text>
<text x="667" y="278.4" font-size="3.75" text-anchor="middle" fill="#555" stroke="#555" stroke-width="0.03">m6A</text>
<path d="M484.9 282.6L685 282.6" stroke="#e8e8e8" stroke-width="0.4"/>
<text x="508.4" y="289.4" font-size="3.75" text-anchor="middle" fill="#5BA461" stroke="#5BA461" stroke-width="0.03">RM2Target_649725</text>
<text x="550.8" y="289.4" font-size="3.75" text-anchor="middle" fill="#555" stroke="#555" stroke-width="0.03">ALKBH5</text>
<text x="589.5" y="289.4" font-size="3.75" text-anchor="middle" fill="#555" stroke="#555" stroke-width="0.03">Eraser</text>
<text x="628.5" y="289.4" font-size="3.75" text-anchor="middle" fill="#555" stroke="#555" stroke-width="0.03">ITGB1</text>
<text x="667" y="289.4" font-size="3.75" text-anchor="middle" fill="#555" stroke="#555" stroke-width="0.03">m6A</text>
<path d="M484.9 293.6L685 293.6" stroke="#e8e8e8" stroke-width="0.4"/>
</g>
<g id="pI">
<text x="8.8" y="361" font-size="21" stroke="#000" stroke-width="0.15">I</text>
<text x="219.1" y="367.5" font-size="8.1" text-anchor="middle" font-weight="bold" textLength="174.6" lengthAdjust="spacingAndGlyphs">Prediction Score Distribution along the Query Sequence</text>
<path d="M30.3 432.1L408.1 432.1" stroke="#ff6060" stroke-width="0.45" stroke-dasharray="1.3 0.6" fill="none"/>
<path d="M30.3 445.5L408.1 445.5" stroke="#b870ff" stroke-width="0.45" stroke-dasharray="1.3 0.6" fill="none"/>
<path d="M30.3 453.3L408.1 453.3" stroke="#6a6aff" stroke-width="0.45" stroke-dasharray="1.3 0.6" fill="none"/>
<path d="M30.3 458.4L408.1 458.4" stroke="#50e650" stroke-width="0.45" stroke-dasharray="1.3 0.6" fill="none"/>
<path d="M47.3 481.6L47.3 456.7" stroke="#3a3a3a" stroke-width="0.6"/>
<path d="M55.2 481.6L55.2 443.5" stroke="#a4a4a4" stroke-width="0.6"/>
<path d="M80.9 481.6L80.9 454.4" stroke="#3a3a3a" stroke-width="0.6"/>
<path d="M88.3 481.6L88.3 431.7" stroke="#3a3a3a" stroke-width="0.6"/>
<path d="M91 481.6L91 432.6" stroke="#3a3a3a" stroke-width="0.6"/>
<path d="M92.7 481.6L92.7 452.9" stroke="#3a3a3a" stroke-width="0.6"/>
<path d="M94.4 481.6L94.4 429.3" stroke="#3a3a3a" stroke-width="0.6"/>
<path d="M99.4 481.6L99.4 447.1" stroke="#a4a4a4" stroke-width="0.6"/>
<path d="M102.1 481.6L102.1 428.6" stroke="#3a3a3a" stroke-width="0.6"/>
<path d="M105.5 481.6L105.5 418.4" stroke="#a4a4a4" stroke-width="0.6"/>
<path d="M109.5 481.6L109.5 452.9" stroke="#3a3a3a" stroke-width="0.6"/>
<path d="M111.6 481.6L111.6 425.3" stroke="#3a3a3a" stroke-width="0.6"/>
<path d="M118 481.6L118 431.7" stroke="#a4a4a4" stroke-width="0.6"/>
<path d="M136.5 481.6L136.5 439.5" stroke="#3a3a3a" stroke-width="0.6"/>
<path d="M143.6 481.6L143.6 458" stroke="#a4a4a4" stroke-width="0.6"/>
<path d="M150.3 481.6L150.3 457.1" stroke="#3a3a3a" stroke-width="0.6"/>
<path d="M187.4 481.6L187.4 448.9" stroke="#a4a4a4" stroke-width="0.6"/>
<path d="M202.4 481.6L202.4 457.1" stroke="#3a3a3a" stroke-width="0.6"/>
<path d="M218.5 481.6L218.5 455.6" stroke="#3a3a3a" stroke-width="0.6"/>
<path d="M221.9 481.6L221.9 452.6" stroke="#a4a4a4" stroke-width="0.6"/>
<path d="M242.5 481.6L242.5 443.8" stroke="#3a3a3a" stroke-width="0.6"/>
<path d="M270.5 481.6L270.5 444.6" stroke="#3a3a3a" stroke-width="0.6"/>
<path d="M293.8 481.6L293.8 452.9" stroke="#a4a4a4" stroke-width="0.6"/>
<rect x="30.3" y="372.7" width="377.8" height="108.9" fill="none" stroke="#222" stroke-width="0.5"/>
<path d="M27.6 481.6L30.3 481.6" stroke="#222" stroke-width="0.5"/>
<text x="23" y="481.8" font-size="5.44" text-anchor="middle" transform="rotate(-90 23 481.8)" textLength="9.5" lengthAdjust="spacingAndGlyphs">0.4</text>
<path d="M27.6 463.5L30.3 463.5" stroke="#222" stroke-width="0.5"/>
<text x="23" y="463.7" font-size="5.44" text-anchor="middle" transform="rotate(-90 23 463.7)" textLength="9.5" lengthAdjust="spacingAndGlyphs">0.5</text>
<path d="M27.6 445.3L30.3 445.3" stroke="#222" stroke-width="0.5"/>
<text x="23" y="445.5" font-size="5.44" text-anchor="middle" transform="rotate(-90 23 445.5)" textLength="9.5" lengthAdjust="spacingAndGlyphs">0.6</text>
<path d="M27.6 427.2L30.3 427.2" stroke="#222" stroke-width="0.5"/>
<text x="23" y="427.4" font-size="5.44" text-anchor="middle" transform="rotate(-90 23 427.4)" textLength="9.5" lengthAdjust="spacingAndGlyphs">0.7</text>
<path d="M27.6 409L30.3 409" stroke="#222" stroke-width="0.5"/>
<text x="23" y="409.2" font-size="5.44" text-anchor="middle" transform="rotate(-90 23 409.2)" textLength="9.5" lengthAdjust="spacingAndGlyphs">0.8</text>
<path d="M27.6 390.9L30.3 390.9" stroke="#222" stroke-width="0.5"/>
<text x="23" y="391.1" font-size="5.44" text-anchor="middle" transform="rotate(-90 23 391.1)" textLength="9.5" lengthAdjust="spacingAndGlyphs">0.9</text>
<path d="M27.6 372.7L30.3 372.7" stroke="#222" stroke-width="0.5"/>
<text x="23" y="372.9" font-size="5.44" text-anchor="middle" transform="rotate(-90 23 372.9)" textLength="9.5" lengthAdjust="spacingAndGlyphs">1.0</text>
<path d="M44.5 481.6L44.5 485.4" stroke="#222" stroke-width="0.5"/>
<text x="44.5" y="496.4" font-size="6.7" text-anchor="middle" textLength="2.9" lengthAdjust="spacingAndGlyphs">0</text>
<path d="M137.9 481.6L137.9 485.4" stroke="#222" stroke-width="0.5"/>
<text x="137.9" y="496.4" font-size="6.7" text-anchor="middle" textLength="11.8" lengthAdjust="spacingAndGlyphs">1000</text>
<path d="M231.4 481.6L231.4 485.4" stroke="#222" stroke-width="0.5"/>
<text x="231.4" y="496.4" font-size="6.7" text-anchor="middle" textLength="11.8" lengthAdjust="spacingAndGlyphs">2000</text>
<path d="M324.8 481.6L324.8 485.4" stroke="#222" stroke-width="0.5"/>
<text x="324.8" y="496.4" font-size="6.7" text-anchor="middle" textLength="11.8" lengthAdjust="spacingAndGlyphs">3000</text>
<text x="219.2" y="511.7" font-size="6.9" text-anchor="middle" textLength="19.4" lengthAdjust="spacingAndGlyphs">Position</text>
<text x="9.9" y="427.2" font-size="5.44" text-anchor="middle" transform="rotate(-90 9.9 427.2)" textLength="49.5" lengthAdjust="spacingAndGlyphs">Combined score</text>
<text x="39.2" y="429.8" font-size="6.3" fill="#ff2020" textLength="50.7" lengthAdjust="spacingAndGlyphs">Very high confidence</text>
<text x="40.3" y="442.5" font-size="6.3" fill="#a030ff" textLength="39.1" lengthAdjust="spacingAndGlyphs">High confidence</text>
<text x="39.2" y="450.3" font-size="6.3" fill="#2020ff" textLength="50.7" lengthAdjust="spacingAndGlyphs">Moderate confidence</text>
<text x="40.8" y="457.8" font-size="6.3" fill="#20e020" textLength="37.5" lengthAdjust="spacingAndGlyphs">Low confidence</text>
</g>
<g id="pJ">
<text x="474.7" y="361.7" font-size="21" stroke="#000" stroke-width="0.15">J</text>
<path d="M510.8 430.1L508 435.1M508.3 428.7L505.4 433.6M505.7 427.2L502.9 432.1M503.1 425.7L500.3 430.6M500.6 424.2L497.7 429.1M498 422.7L495.2 427.7M523.7 427.8L518.1 427M524.2 424.9L518.5 424.1M524.6 422L519 421.2M529.1 439L528.1 433.4M532.6 438.4L531.5 432.8M536 437.7L535 432.1M539.4 437.1L538.4 431.5M542.9 436.4L541.8 430.8M546.3 435.8L545.3 430.2M509.6 442.8L514 446.4M507.6 445.3L512 448.9M505.5 447.7L509.9 451.3M503.5 450.2L507.9 453.8M501.5 452.7L505.9 456.3M499.4 455.1L503.8 458.7M497.4 457.6L501.8 461.2M521 447.7L526.2 445.5M522.4 450.9L527.6 448.7M523.8 454.1L529 451.9M525.2 457.3L530.4 455.1M526.6 460.5L531.8 458.3M526.8 463L524.4 468.2M524.1 461.8L521.8 467M521.4 460.6L519.1 465.8M518.8 459.4L516.4 464.6M523.5 471.1L524.9 476.5M520.2 472L521.6 477.4M516.9 472.9L518.3 478.3M542.5 471L539.5 466.2M545.5 469.1L542.5 464.3M548.5 467.2L545.5 462.4M551.5 465.3L548.5 460.5M554.5 463.4L551.5 458.6M550.5 464.6L546.7 458.2M553.1 463.1L549.3 456.7M555.7 461.6L551.9 455.2M558.3 460.1L554.5 453.7M560.9 458.6L557.1 452.2M558 462.2L555 457.4M560.9 460.4L557.9 455.6M563.8 458.6L560.7 453.8M566.6 456.8L563.6 452M569.5 455L566.5 450.2M566.7 454.6L563.3 448.6M569.5 453L566.1 447M572.3 451.4L568.9 445.4M575.1 449.8L571.7 443.8M577.9 448.2L574.5 442.2M580.7 446.6L577.3 440.6M560.6 436.1L563.4 431.1M563.3 437.6L566.1 432.6M566.1 439.1L568.8 434.1M568.8 440.6L571.5 435.6M571.5 442L574.2 437M574.2 443.5L576.9 438.5M576.9 445L579.7 440M579.6 446.5L582.4 441.5M587.6 448.1L588.4 443.1M590.6 448.5L591.4 443.6M593.6 449L594.4 444M596.6 449.4L597.4 444.5M599.6 449.9L600.4 444.9M590.4 436.1L585.6 433.1M592.2 433.2L587.3 430.2M593.9 430.3L589 427.4M595.6 427.4L590.8 424.5M597.4 424.5L592.5 421.6M599.1 421.6L594.2 418.7M600.8 418.7L596 415.8M602.6 415.8L597.7 412.9M604.3 413L599.4 410M606 410.1L601.2 407.1M616.2 390.6L610.6 391.4M615.8 387.4L610.2 388.2M615.4 384.2L609.7 385M615 381L609.3 381.8M614.5 377.8L608.9 378.6M614.1 374.6L608.5 375.4M616.5 410.5L619.9 405.9M619.3 412.6L622.7 408M622.1 414.6L625.5 410M624.9 416.7L628.3 412.1M627.7 418.8L631.1 414.2M630.5 420.8L633.9 416.2M633.3 422.9L636.7 418.3M631.6 427.2L637.4 427.2M631.6 430.4L637.4 430.4M631.6 433.6L637.4 433.6M642.6 443.9L642.6 438.1M645.8 443.9L645.8 438.1M649 443.9L649 438.1M652.2 443.9L652.2 438.1M626.4 438.1L626.4 443.9M623.2 438.1L623.2 443.9M620 438.1L620 443.9M616.8 438.1L616.8 443.9M610.9 439.3L614.3 443.9M607.9 441.5L611.3 446.1M604.9 443.7L608.3 448.3M604.8 454.4L610.5 454.4M604.8 457.9L610.5 457.9M604.8 461.5L610.5 461.5M604.8 465.1L610.5 465.1M604.8 468.6L610.5 468.6" stroke="#a9afe2" stroke-width="0.45" fill="none"/>
<path d="M603.7 402.1A7.2 7.2 0 0 1 609.2 393.4" stroke="#F2B705" stroke-width="2.7" fill="none" stroke-linecap="round"/>
<path d="M527.5 437.2h0M526.9 440.4h0M525.2 443.1h0M522.6 445.1h0M519.5 446h0M516.3 445.7h0M513.4 444.2h0M511.2 441.8h0M510 438.8h0M510 435.6h0M511.2 432.6h0M513.4 430.2h0M516.3 428.7h0M519.5 428.4h0M522.6 429.3h0M525.2 431.3h0M526.9 434h0M510.8 430.1h0M508 435.1h0M508.3 428.7h0M505.4 433.6h0M505.7 427.2h0M502.9 432.1h0M503.1 425.7h0M500.3 430.6h0M500.6 424.2h0M497.7 429.1h0M498 422.7h0M495.2 427.7h0M494 427.8h0M491.1 426.9h0M489.4 424.3h0M489.9 421.3h0M492.3 419.4h0M495.3 419.5h0M497.5 421.7h0M523.7 427.8h0M518.1 427h0M524.2 424.9h0M518.5 424.1h0M524.6 422h0M519 421.2h0M518.5 420.1h0M518.5 416.6h0M521.1 414.2h0M524.7 414.8h0M526.5 417.8h0M525.3 421.2h0M529.1 439h0M528.1 433.4h0M532.6 438.4h0M531.5 432.8h0M536 437.7h0M535 432.1h0M539.4 437.1h0M538.4 431.5h0M542.9 436.4h0M541.8 430.8h0M546.3 435.8h0M545.3 430.2h0M562.2 431h0M561.5 434h0M559.6 436.5h0M556.8 437.8h0M553.6 437.8h0M550.8 436.5h0M548.9 434h0M548.2 431h0M548.9 428h0M550.8 425.5h0M553.6 424.2h0M556.8 424.2h0M559.6 425.5h0M561.5 428h0M509.6 442.8h0M514 446.4h0M507.6 445.3h0M512 448.9h0M505.5 447.7h0M509.9 451.3h0M503.5 450.2h0M507.9 453.8h0M501.5 452.7h0M505.9 456.3h0M499.4 455.1h0M503.8 458.7h0M497.4 457.6h0M501.8 461.2h0M501.6 462.3h0M499.9 465.3h0M496.5 465.9h0M493.8 463.7h0M493.8 460.2h0M496.4 458h0M521 447.7h0M526.2 445.5h0M522.4 450.9h0M527.6 448.7h0M523.8 454.1h0M529 451.9h0M525.2 457.3h0M530.4 455.1h0M526.6 460.5h0M531.8 458.3h0M533.2 459.4h0M536.2 458.7h0M539.3 458.7h0M542.3 459.5h0M545 460.9h0M547.3 463h0M549.1 465.5h0M550.2 468.4h0M550.6 471.5h0M550.3 474.6h0M549.2 477.5h0M547.5 480h0M545.2 482.1h0M542.5 483.6h0M539.5 484.5h0M536.4 484.5h0M533.4 483.9h0M530.6 482.5h0M528.2 480.6h0M526.3 478.1h0M538.2 471.6h0M537.3 474.7h0M534.8 476.9h0M531.6 477.3h0M528.6 476h0M526.8 473.2h0M526.8 470h0M528.6 467.2h0M531.6 465.9h0M534.8 466.3h0M537.3 468.5h0M526.8 463h0M524.4 468.2h0M524.1 461.8h0M521.8 467h0M521.4 460.6h0M519.1 465.8h0M518.8 459.4h0M516.4 464.6h0M515.4 464.6h0M512.2 463.8h0M510.7 460.7h0M512.1 457.7h0M515.3 456.7h0M518.1 458.6h0M523.5 471.1h0M524.9 476.5h0M520.2 472h0M521.6 477.4h0M516.9 472.9h0M518.3 478.3h0M517.6 479h0M514.5 480.4h0M511.5 479h0M510.6 475.8h0M512.5 473h0M515.9 472.7h0M542.5 471h0M539.5 466.2h0M545.5 469.1h0M542.5 464.3h0M548.5 467.2h0M545.5 462.4h0M551.5 465.3h0M548.5 460.5h0M554.5 463.4h0M551.5 458.6h0M550.5 464.6h0M546.7 458.2h0M553.1 463.1h0M549.3 456.7h0M555.7 461.6h0M551.9 455.2h0M558.3 460.1h0M554.5 453.7h0M560.9 458.6h0M557.1 452.2h0M558 462.2h0M555 457.4h0M560.9 460.4h0M557.9 455.6h0M563.8 458.6h0M560.7 453.8h0M566.6 456.8h0M563.6 452h0M569.5 455h0M566.5 450.2h0M566.7 454.6h0M563.3 448.6h0M569.5 453h0M566.1 447h0M572.3 451.4h0M568.9 445.4h0M575.1 449.8h0M571.7 443.8h0M577.9 448.2h0M574.5 442.2h0M580.7 446.6h0M577.3 440.6h0M555.5 466.8h0M553.2 469.6h0M549.7 469h0M548.5 465.6h0M566.3 460.4h0M564.2 463h0M560.8 462.4h0M559.7 459.2h0M575.7 453h0M574.1 455.8h0M570.9 455.8h0M569.3 453h0M563.5 447.3h0M565.5 445h0M568.4 445.5h0M569.5 448.3h0M560.6 436.1h0M563.4 431.1h0M563.3 437.6h0M566.1 432.6h0M566.1 439.1h0M568.8 434.1h0M568.8 440.6h0M571.5 435.6h0M571.5 442h0M574.2 437h0M574.2 443.5h0M576.9 438.5h0M576.9 445h0M579.7 440h0M579.6 446.5h0M582.4 441.5h0M588 442.6h0M586.7 445.7h0M583.6 447h0M580.5 445.7h0M579.2 442.6h0M580.5 439.5h0M583.6 438.2h0M586.7 439.5h0M593.9 451h0M592.5 453.8h0M589.5 454.5h0M587.1 452.6h0M587.1 449.4h0M589.5 447.5h0M592.5 448.2h0M587.6 448.1h0M588.4 443.1h0M590.6 448.5h0M591.4 443.6h0M593.6 449h0M594.4 444h0M596.6 449.4h0M597.4 444.5h0M599.6 449.9h0M600.4 444.9h0M607.4 449.6h0M606 452.6h0M602.8 453.3h0M600.2 451.2h0M600.2 448h0M602.8 445.9h0M606 446.6h0M590.4 436.1h0M585.6 433.1h0M592.2 433.2h0M587.3 430.2h0M593.9 430.3h0M589 427.4h0M595.6 427.4h0M590.8 424.5h0M597.4 424.5h0M592.5 421.6h0M599.1 421.6h0M594.2 418.7h0M600.8 418.7h0M596 415.8h0M602.6 415.8h0M597.7 412.9h0M604.3 413h0M599.4 410h0M606 410.1h0M601.2 407.1h0M617.9 400.4h0M617.2 403.5h0M615.2 406h0M612.3 407.4h0M609.1 407.4h0M606.2 406h0M604.2 403.5h0M612.3 393.4h0M615.2 394.8h0M617.2 397.3h0M616.2 390.6h0M610.6 391.4h0M615.8 387.4h0M610.2 388.2h0M615.4 384.2h0M609.7 385h0M615 381h0M609.3 381.8h0M614.5 377.8h0M608.9 378.6h0M614.1 374.6h0M608.5 375.4h0M607.8 374.5h0M606.8 371.2h0M608.7 368.3h0M612.1 367.8h0M614.7 370.2h0M614.5 373.6h0M616.5 410.5h0M619.9 405.9h0M619.3 412.6h0M622.7 408h0M622.1 414.6h0M625.5 410h0M624.9 416.7h0M628.3 412.1h0M627.7 418.8h0M631.1 414.2h0M630.5 420.8h0M633.9 416.2h0M633.3 422.9h0M636.7 418.3h0M631.6 427.2h0M637.4 427.2h0M631.6 430.4h0M637.4 430.4h0M631.6 433.6h0M637.4 433.6h0M641.7 441h0M641 444.1h0M639 446.6h0M636.1 448h0M632.9 448h0M630 446.6h0M628 444.1h0M627.3 441h0M628 437.9h0M630 435.4h0M632.9 434h0M636.1 434h0M639 435.4h0M641 437.9h0M642.6 443.9h0M642.6 438.1h0M645.8 443.9h0M645.8 438.1h0M649 443.9h0M649 438.1h0M652.2 443.9h0M652.2 438.1h0M653 438.1h0M656 437.5h0M658.3 439.5h0M658.3 442.5h0M656 444.5h0M653 443.9h0M626.4 438.1h0M626.4 443.9h0M623.2 438.1h0M623.2 443.9h0M620 438.1h0M620 443.9h0M616.8 438.1h0M616.8 443.9h0M610.9 439.3h0M614.3 443.9h0M607.9 441.5h0M611.3 446.1h0M604.9 443.7h0M608.3 448.3h0M604.8 454.4h0M610.5 454.4h0M604.8 457.9h0M610.5 457.9h0M604.8 461.5h0M610.5 461.5h0M604.8 465.1h0M610.5 465.1h0M604.8 468.6h0M610.5 468.6h0" stroke="#5FB053" stroke-width="2.0" stroke-linecap="round" fill="none"/>
<path d="M603.5 400.4h0M604.2 397.3h0M606.2 394.8h0M609.1 393.4h0" stroke="#5a9a30" stroke-width="1.75" stroke-linecap="round" fill="none"/>
<path d="M601.2 395.1L604.4 395.1" stroke="#a02030" stroke-width="0.5"/>
</g>
</g>
</svg>
</body></html>
